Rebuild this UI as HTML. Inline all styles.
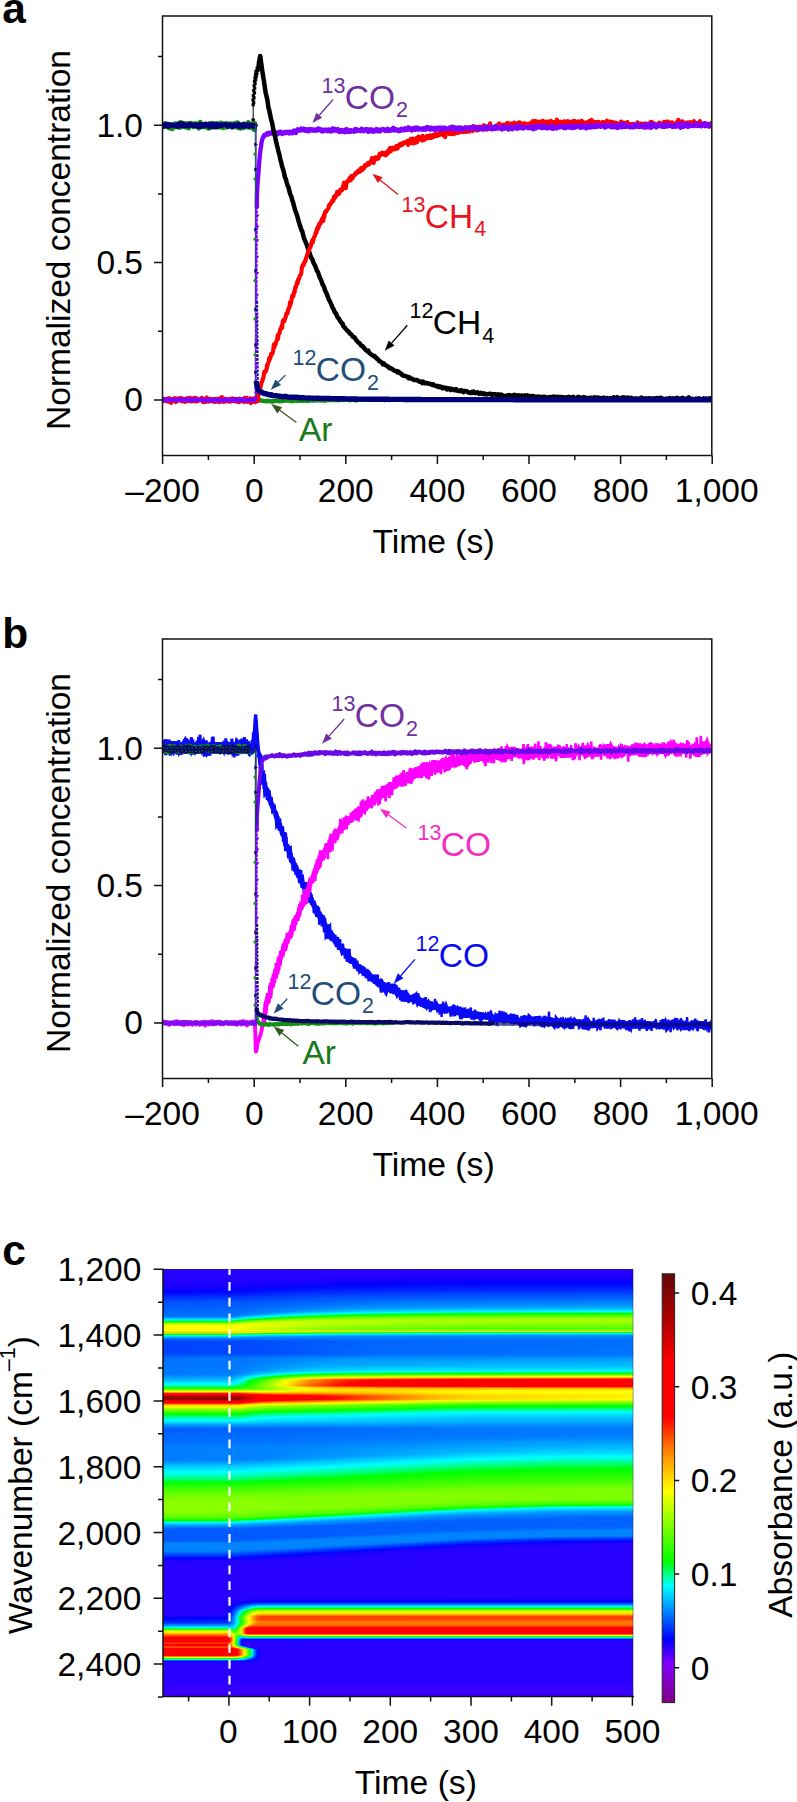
<!DOCTYPE html>
<html><head><meta charset="utf-8"><title>figure</title>
<style>
html,body{margin:0;padding:0;background:#fff;}
svg{display:block;font-family:"Liberation Sans", sans-serif;}
</style></head>
<body>
<svg width="797" height="1802" viewBox="0 0 797 1802">
<rect width="797" height="1802" fill="#fff"/>
<g id="pa">
<clipPath id="cp0"><rect x="162.5" y="16" width="549.3" height="439.5"/></clipPath>
<path d="M162.6 455.5v8.5M208.4 455.5v4.5M254.2 455.5v8.5M300 455.5v4.5M345.8 455.5v8.5M391.6 455.5v4.5M437.4 455.5v8.5M483.2 455.5v4.5M529 455.5v8.5M574.8 455.5v4.5M620.6 455.5v8.5M666.4 455.5v4.5M712.2 455.5v8.5M162.5 400h-8.5M162.5 331.3h-4.5M162.5 262.6h-8.5M162.5 194h-4.5M162.5 125.3h-8.5M162.5 56.6h-4.5" stroke="#111" stroke-width="1.5" fill="none"/>
<text x="162.6" y="502.1" font-size="33.5" text-anchor="middle" fill="#000" >–200</text>
<text x="254.2" y="502.1" font-size="33.5" text-anchor="middle" fill="#000" >0</text>
<text x="345.8" y="502.1" font-size="33.5" text-anchor="middle" fill="#000" >200</text>
<text x="437.4" y="502.1" font-size="33.5" text-anchor="middle" fill="#000" >400</text>
<text x="529" y="502.1" font-size="33.5" text-anchor="middle" fill="#000" >600</text>
<text x="620.6" y="502.1" font-size="33.5" text-anchor="middle" fill="#000" >800</text>
<text x="716.7" y="502.1" font-size="33.5" text-anchor="middle" fill="#000" >1,000</text>
<text x="143" y="411.4" font-size="33.5" text-anchor="end" fill="#000" >0</text>
<text x="143" y="274" font-size="33.5" text-anchor="end" fill="#000" >0.5</text>
<text x="143" y="136.7" font-size="33.5" text-anchor="end" fill="#000" >1.0</text>
<text x="433.5" y="553" font-size="33.7" text-anchor="middle" fill="#000" >Time (s)</text>
<text transform="translate(69.8 240) rotate(-90)" font-size="33.5" text-anchor="middle" fill="#000">Normalized concentration</text>
<g clip-path="url(#cp0)">
<polyline points="162.6,125.3 163,124.9 163.3,125.7 163.7,126.5 164.1,125.9 164.4,126.7 164.8,125.2 165.2,123.5 165.5,126 165.9,126.2 166.3,124.6 166.6,124.8 167,125.2 167.4,126.6 167.7,125.3 168.1,124.3 168.5,127.1 168.8,125.9 169.2,127.9 169.6,127.1 169.9,127.8 170.3,125.6 170.7,127 171,124.9 171.4,125.1 171.8,125.6 172.1,128.8 172.5,126 172.9,125.4 173.2,125.1 173.6,127.4 174,126 174.3,126.6 174.7,126.4 175.1,123.8 175.4,126.4 175.8,125.3 176.2,124.1 176.5,126.1 176.9,125.5 177.3,125.1 177.6,125.2 178,127 178.4,125.2 178.7,123.4 179.1,127.4 179.5,124.1 179.8,125.1 180.2,126.2 180.6,122.6 180.9,124.3 181.3,126.9 181.7,125.2 182,124.5 182.4,125.6 182.8,124.4 183.1,125.4 183.5,124.4 183.9,123.3 184.2,126.2 184.6,125 185,125.9 185.3,125.1 185.7,126.9 186,126.1 186.4,125.6 186.8,124.1 187.1,123.7 187.5,127.1 187.9,126.4 188.2,124.4 188.6,128 189,125.9 189.3,125.4 189.7,123.6 190.1,124.4 190.4,125.7 190.8,125.8 191.2,125.6 191.5,123.2 191.9,125.9 192.3,125.7 192.6,124.8 193,125.5 193.4,125.6 193.7,126.8 194.1,125.3 194.5,125.9 194.8,123.7 195.2,124.4 195.6,125.3 195.9,124.4 196.3,125.8 196.7,123.9 197,125.3 197.4,124.5 197.8,127.1 198.1,124.8 198.5,127.6 198.9,128.1 199.2,125.7 199.6,126.5 200,125.1 200.3,122.2 200.7,126.4 201.1,126.2 201.4,125 201.8,124.6 202.2,125.5 202.5,125.6 202.9,124.3 203.3,124.6 203.6,126.7 204,125.4 204.4,125.3 204.7,126.7 205.1,124.9 205.5,126.5 205.8,124 206.2,125 206.6,125.2 206.9,126.1 207.3,125.5 207.7,128 208,126.9 208.4,124.8 208.8,128.2 209.1,124.1 209.5,127.7 209.9,124.3 210.2,126.5 210.6,124.2 211,125.1 211.3,127.4 211.7,123.6 212.1,123.3 212.4,125.4 212.8,125.7 213.2,125.5 213.5,126.6 213.9,123.8 214.3,126 214.6,125.4 215,126.4 215.4,126.2 215.7,127.1 216.1,123.6 216.5,125.5 216.8,124 217.2,125.3 217.6,126.3 217.9,125.7 218.3,126.1 218.7,125.3 219,125.8 219.4,125.7 219.8,127.2 220.1,126.4 220.5,123 220.9,126.2 221.2,126.7 221.6,124.8 222,123.4 222.3,127.3 222.7,125.6 223.1,126.2 223.4,127.7 223.8,124.3 224.2,125.3 224.5,125.2 224.9,126.3 225.3,124.7 225.6,126 226,125.5 226.4,126.8 226.7,127 227.1,123.5 227.5,126 227.8,124.9 228.2,125.3 228.6,125.9 228.9,126 229.3,124.4 229.7,125.7 230,125.5 230.4,125.3 230.8,123.7 231.1,124.4 231.5,124.8 231.8,126.1 232.2,127.2 232.6,124 232.9,124 233.3,125.5 233.7,124.6 234,124.2 234.4,124.2 234.8,124 235.1,125.9 235.5,123.2 235.9,127 236.2,124.1 236.6,124.6 237,124.1 237.3,122.7 237.7,123.3 238.1,126.9 238.4,127.6 238.8,124.2 239.2,126.7 239.5,125.3 239.9,124.1 240.3,127.6 240.6,128.2 241,124.9 241.4,125.2 241.7,125.6 242.1,125.2 242.5,126.5 242.8,127.4 243.2,125.5 243.6,126.6 243.9,127.6 244.3,124.6 244.7,125.4 245,124.7 245.4,126.7 245.8,126.2 246.1,126.7 246.5,126.5 246.9,125 247.2,126.4 247.6,124.8 248,124.8 248.3,122.5 248.7,127.2 249.1,124.1 249.4,125.4 249.8,125.3 250.2,127.3 250.5,125.9 250.9,124.3 251.3,125.4 251.6,125.2 252,125.7 252.4,123.7 252.7,125.3 253.1,128.3 253.5,126.3 253.8,128 254.2,129.8 254.6,126 254.9,123.5 255.3,125.2" fill="none" stroke="#139013" stroke-width="5.0" stroke-linejoin="round" stroke-linecap="round"/>
<polyline points="162.6,401.3 163,401 163.3,398.8 163.7,399.8 164.1,399.9 164.4,400.1 164.8,400 165.2,399.1 165.5,399.4 165.9,399.8 166.3,401.1 166.6,399.4 167,400.8 167.4,398.8 167.7,401.4 168.1,400.2 168.5,400 168.8,401.5 169.2,398.1 169.6,398.4 169.9,400.5 170.3,399.2 170.7,399.6 171,402.9 171.4,399.7 171.8,400.1 172.1,399.9 172.5,401.2 172.9,400.3 173.2,400.2 173.6,398.7 174,399.6 174.3,400 174.7,398.3 175.1,400.6 175.4,400.4 175.8,402 176.2,398.3 176.5,398.9 176.9,399 177.3,399.3 177.6,399.9 178,399.8 178.4,400.3 178.7,400.2 179.1,399.9 179.5,398.3 179.8,399.4 180.2,400.1 180.6,400.6 180.9,400.7 181.3,398.2 181.7,399.4 182,399.9 182.4,400.4 182.8,401.2 183.1,400.1 183.5,399 183.9,400.4 184.2,400.2 184.6,400.2 185,399.9 185.3,401.8 185.7,400.3 186,400.9 186.4,399 186.8,400.8 187.1,399.4 187.5,398.3 187.9,400.3 188.2,400.7 188.6,399.8 189,400 189.3,401.1 189.7,399.5 190.1,397.8 190.4,400.3 190.8,400.2 191.2,401.1 191.5,399.6 191.9,401.4 192.3,401.2 192.6,398.6 193,401 193.4,398.8 193.7,398.3 194.1,399.7 194.5,399.4 194.8,397.9 195.2,400.2 195.6,400.7 195.9,401.5 196.3,400 196.7,398.4 197,398.9 197.4,401 197.8,400.9 198.1,400.6 198.5,399.7 198.9,400.2 199.2,399.8 199.6,399.7 200,400.3 200.3,400 200.7,399.8 201.1,400.1 201.4,399.4 201.8,397.9 202.2,399.3 202.5,399.9 202.9,401.9 203.3,399.6 203.6,402.1 204,401.5 204.4,399.1 204.7,399.2 205.1,400.2 205.5,401.9 205.8,400.4 206.2,400.7 206.6,399.3 206.9,397.5 207.3,399.8 207.7,400.9 208,401.3 208.4,400.1 208.8,400.2 209.1,401.3 209.5,399.9 209.9,401.3 210.2,398.8 210.6,398.8 211,398.8 211.3,400.5 211.7,399.4 212.1,400.1 212.4,400.4 212.8,400.4 213.2,401.4 213.5,401.6 213.9,399.1 214.3,400.2 214.6,399.8 215,398.9 215.4,401.9 215.7,400.9 216.1,399.8 216.5,399.6 216.8,400.4 217.2,398.9 217.6,399.8 217.9,401.3 218.3,401 218.7,399.1 219,399.5 219.4,402.1 219.8,398.5 220.1,399.3 220.5,398.5 220.9,400.4 221.2,400.3 221.6,401.2 222,397.2 222.3,400.2 222.7,398.3 223.1,400.7 223.4,399.8 223.8,401.8 224.2,400.4 224.5,398.9 224.9,401.4 225.3,398.8 225.6,399.6 226,401.1 226.4,400.6 226.7,400.5 227.1,400.1 227.5,400.6 227.8,400.9 228.2,400.3 228.6,401.1 228.9,401.4 229.3,400.1 229.7,399 230,401.7 230.4,400 230.8,400.7 231.1,401.1 231.5,399.1 231.8,400.6 232.2,398.4 232.6,400.9 232.9,399.6 233.3,400.2 233.7,400.8 234,399.4 234.4,400.2 234.8,399.3 235.1,400.1 235.5,401.2 235.9,400.1 236.2,399.9 236.6,398.9 237,401 237.3,400 237.7,401.9 238.1,399.3 238.4,401.2 238.8,402 239.2,400.1 239.5,398.8 239.9,401.7 240.3,401.2 240.6,400.8 241,401.2 241.4,399.6 241.7,400.9 242.1,400.8 242.5,399.4 242.8,400.8 243.2,399.5 243.6,401.1 243.9,401.3 244.3,402 244.7,398 245,400.4 245.4,399.7 245.8,400 246.1,399.8 246.5,399.9 246.9,397.9 247.2,401.1 247.6,401.7 248,401.1 248.3,401.5 248.7,399.2 249.1,399.1 249.4,401.1 249.8,401.5 250.2,400.4 250.5,398.5 250.9,403.1 251.3,399.4 251.6,401.2 252,398.9 252.4,401.2 252.7,400.3 253.1,401.7 253.5,401.1 253.8,398.5 254.2,399.1 254.6,400.4 254.9,401 255.3,402.1 255.7,400.4 256,400 256.4,400.1 256.8,400.1 257.1,401.2" fill="none" stroke="#ff0000" stroke-width="4.3" stroke-linejoin="round" stroke-linecap="round"/>
<polyline points="256.8,206.6 257,194.1 257.3,188 257.6,183.6 257.9,180.2 258.1,177.1 258.4,173.5 258.7,169.7 259,166.1 259.2,162.6 259.5,159.3 259.8,156.3 260.1,153.6 260.3,151.2 260.6,148.9 260.9,147.4 261.2,145.6 261.4,143.3 261.7,142 262,140.2 262.3,139.4 262.5,139.4 262.8,137.5 263.1,137.8 263.4,136.6 263.6,135.9 263.9,137 264.2,135.1 264.5,134.9 264.7,134.9 265,134.9 265.3,134.7 265.6,135 265.8,134.3 266.1,134.4 266.4,133.8 266.7,134.7 266.9,133.5 267.2,133.4 267.5,133.5 267.8,133.7 267.9,132.9 268.4,134.5 268.9,132.7 269.3,132.9 269.8,132.8 270.2,132.7 270.7,133.5 271.1,133.2 271.6,132.5 272.1,132.7 272.5,132.8 273,134.2 273.4,132.6 273.9,132.1 274.4,132.2 274.8,132.8 275.3,134.2 275.7,132.3 276.2,133.1 276.6,134.9 277.1,132.7 277.6,134.1 278,134 278.5,133.5 278.9,132 279.4,133.3 279.8,132.8 280.3,131.6 280.8,131.8 281.2,133.1 281.7,133.2 282.1,134 282.6,133.5 283.1,132.6 283.5,132.6 284,132.8 284.4,132.1 284.9,133.4 285.3,132.8 285.8,132.2 286.3,132.2 286.7,131.8 287.2,132.2 287.6,132.7 288.1,132.1 288.6,133.1 289,133.5 289.5,131.7 289.9,132.1 290.4,131.8 290.8,133.2 291.3,132.1 291.8,132.2 292.2,132.3 292.7,133.3 293.1,131.7 293.6,130.7 294,131 294.5,131.7 295,131.1 295.4,130.5 295.9,133.1 296.3,131 296.8,130.4 297.3,130.2 297.7,129.3 298.2,129.7 298.6,130.2 299.1,130.2 299.5,129.7 300,130.7 300.5,130.3 300.9,129.5 301.4,128.6 301.8,130.2 302.3,130.1 302.7,129.9 303.2,129 303.7,130 304.1,128.8 304.6,130.7 305,130.1 305.5,130.1 306,129.4 306.4,129.2 306.9,131.1 307.3,130.7 307.8,129.7 308.2,130.5 308.7,131.2 309.2,129.2 309.6,129.6 310.1,129.6 310.5,130.4 311,129.2 311.4,130.2 311.9,129.2 312.4,130.7 312.8,130.7 313.3,129.9 313.7,130.6 314.2,129.5 314.7,129.9 315.1,130.8 315.6,130 316,130.3 316.5,129.4 316.9,130.6 317.4,130.4 317.9,129.2 318.3,128.4 318.8,128.6 319.2,130.1 319.7,130 320.2,129 320.6,130.3 321.1,130.9 321.5,130.1 322,129.8 322.4,130.8 322.9,131.5 323.4,131.3 323.8,129.7 324.3,130.8 324.7,130.3 325.2,130.1 325.6,129.8 326.1,130.5 326.6,129.9 327,131 327.5,130.6 327.9,131.1 328.4,129.4 328.9,130.3 329.3,130.9 329.8,130.6 330.2,130.5 330.7,129.8 331.1,131.6 331.6,131.2 332.1,130.7 332.5,128.4 333,129.7 333.4,130.5 333.9,129.9 334.4,128.8 334.8,130.6 335.3,130.7 335.7,129.5 336.2,130.1 336.6,129.9 337.1,130.8 337.6,129 338,129.2 338.5,130 338.9,130 339.4,132 339.8,130 340.3,130.6 340.8,130.2 341.2,130 341.7,130.8 342.1,131.8 342.6,130.2 343.1,131.1 343.5,130.8 344,131 344.4,130.8 344.9,132.3 345.3,129.6 345.8,130.3 346.3,129.7 346.7,129 347.2,130.5 347.6,131.9 348.1,131.2 348.5,131.4 349,130.9 349.5,130.5 349.9,132.1 350.4,130.2 350.8,131.7 351.3,130.3 351.8,130.6 352.2,130.7 352.7,130.6 353.1,130.9 353.6,131 354,131.8 354.5,130.5 355,129.1 355.4,129 355.9,129.5 356.3,129.9 356.8,131 357.2,129.3 357.7,130.5 358.2,130.5 358.6,130.7 359.1,130.4 359.5,130.8 360,130.5 360.5,131.3 360.9,130.7 361.4,128.7 361.8,130.5 362.3,130.6 362.7,130 363.2,129.8 363.7,131.2 364.1,130.5 364.6,129.7 365,130.1 365.5,130.2 366,129.1 366.4,130.8 366.9,130.3 367.3,130.7 367.8,129.2 368.2,131.8 368.7,130.8 369.2,130.7 369.6,129.8 370.1,129.8 370.5,129.2 371,131.5 371.4,129.7 371.9,130.4 372.4,130.7 372.8,129.8 373.3,130.9 373.7,131.8 374.2,130.5 374.7,131.3 375.1,130.7 375.6,129.9 376,129.9 376.5,128.9 376.9,130.3 377.4,131.3 377.9,130.7 378.3,130.8 378.8,131 379.2,129.7 379.7,130.5 380.1,131.6 380.6,129.5 381.1,130.1 381.5,129.7 382,129.9 382.4,129.5 382.9,129.9 383.4,129 383.8,129.6 384.3,129.6 384.7,129.6 385.2,131 385.6,130 386.1,130.1 386.6,129.7 387,130.9 387.5,128.6 387.9,129.8 388.4,130.8 388.9,131.1 389.3,130 389.8,129.9 390.2,130.3 390.7,129.7 391.1,130.2 391.6,129.3" fill="none" stroke="#8000ff" stroke-width="4.3" stroke-linejoin="round" stroke-linecap="round"/>
<polyline points="260.2,56 261.1,62.3 262,68.9 262.9,74.8 263.8,80.3 264.7,86.1 265.6,92.6 266.6,96.6 267.5,100.5 268.4,107.5 269.3,110.5 270.2,115 271.1,119.4 272.1,122.6 273,128 273.9,131.4 274.8,134.8 275.7,139.8 276.6,143.9 277.6,147.7 278.5,151.8 279.4,154.6 280.3,159.5 281.2,162.2 282.1,166.7 283.1,169.1 284,172.7 284.9,177.2 285.8,179 286.7,182.6 287.6,185.4 288.6,187.4 289.5,191.7 290.4,194.7 291.3,196.4 292.2,200.1 293.1,202.4 294,206 295,209.7 295.9,212.3 296.8,214.6 297.7,217.7 298.6,221.1 299.5,224 300.5,227 301.4,230 302.3,231.5 303.2,235.2 304.1,238.5 305,240.8 306,242.7 306.9,245.3 307.8,248.1 308.7,250.8 309.6,252.8 310.5,256 311.4,258.1 312.4,259.3 313.3,262.2 314.2,264 315.1,265.8 316,268.3 316.9,270.8 317.9,271.8 318.8,274.7 319.7,277.4 320.6,279 321.5,281.2 322.4,284 323.4,285.7 324.3,287.9 325.2,291 326.1,292.3 327,294.6 327.9,296.9 328.9,299.7 329.8,301.2 330.7,303.1 331.6,305.1 332.5,307.7 333.4,308.8 334.4,311.6 335.3,312.8 336.2,313.8 337.1,316.4 338,317.8 338.9,318.5 339.8,320.6 340.8,321.9 341.7,323 342.6,323.8 343.5,326.6 344.4,327.1 345.3,328.4 346.3,329.5 347.2,330.5 348.1,331.5 349,332 349.9,333.6 350.8,334.1 351.8,335 352.7,336.6 353.6,337.1 354.5,337.3 355.4,339 356.3,340.4 357.2,341.1 358.2,342.5 359.1,342.9 360,343.5 360.9,345.3 361.8,345.9 362.7,346.1 363.7,347.8 364.6,348.3 365.5,349.8 366.4,350.5 367.3,351.2 368.2,350.7 369.2,352.8 370.1,353.6 371,354.4 371.9,355 372.8,355.3 373.7,356.3 374.7,356.1 375.6,357.7 376.5,357.8 377.4,359.1 378.3,359.6 379.2,361.3 380.1,361.3 381.1,362 382,362.7 382.9,364.3 383.8,363.4 384.7,364.6 385.6,365.2 386.6,365.7 387.5,366.3 388.4,366.6 389.3,368 390.2,368.4 391.1,368.3 392.1,368.9 393,369.7 393.9,370.3 394.8,370.9 395.7,371.1 396.6,370.9 397.6,372.5 398.5,371.7 399.4,372.5 400.3,373.6 401.2,373.5 402.1,375 403,375.6 404,375.8 404.9,375.8 405.8,376.1 406.7,376.6 407.6,376.7 408.5,378.2 409.5,377.3 410.4,378.6 411.3,378.6 412.2,378.8 413.1,379.5 414,380 415,380.1 415.9,379.9 416.8,380 417.7,380.3 418.6,381.4 419.5,381.6 420.5,381.9 421.4,381.6 422.3,383.1 423.2,381.7 424.1,382.9 425,383.3 425.9,383 426.9,382.9 427.8,383.5 428.7,383.4 429.6,384.1 430.5,383.8 431.4,384.1 432.4,385 433.3,384.4 434.2,385.3 435.1,385.6 436,386.3 436.9,386.2 437.9,385.9 438.8,387.1 439.7,386.4 440.6,386.8 441.5,387 442.4,388.4 443.4,387.6 444.3,387.4 445.2,388.3 446.1,388.1 447,389.5 447.9,388.2 448.9,389 449.8,388.5 450.7,390 451.6,388.9 452.5,389.6 453.4,389.2 454.3,390.2 455.3,390.3 456.2,389 457.1,390.7 458,390.8 458.9,390.7 459.8,391.2 460.8,390.3 461.7,390.2 462.6,391.5 463.5,392.2 464.4,390.9 465.3,391 466.3,391.3 467.2,391.3 468.1,392.4 469,392.2 469.9,392.9 470.8,393 471.8,391.9 472.7,392.9 473.6,391.5 474.5,392.7 475.4,393.2 476.3,392.6 477.2,392.2 478.2,392.9 479.1,393.8 480,393.1 480.9,392.7 481.8,393.8 482.7,394 483.7,393.2 484.6,393.7 485.5,394.4 486.4,394.1 487.3,394.4 488.2,393.9 489.2,394.1 490.1,393.7 491,394 491.9,395.2 492.8,394.3 493.7,394.1 494.6,394.4 495.6,394.2 496.5,395 497.4,395.3 498.3,394.4 499.2,395.5 500.1,396.1 501.1,394.5 502,395.5 502.9,395.3 503.8,395.9 504.7,395.9 505.6,395.9 506.6,395.6 507.5,395.3 508.4,396.6 509.3,395.2 510.2,396.2 511.1,396.2 512.1,395.4 513,395.8 513.9,396.6 514.8,394.9 515.7,396.3 516.6,395.8 517.5,395.9 518.5,395.3 519.4,396.3 520.3,395.6 521.2,396.5 522.1,395.6 523,396.6 524,396.4 524.9,395.4 525.8,396.2 526.7,396.3 527.6,395.3 528.5,396.3 529.5,396.9 530.4,396.2 531.3,397.2 532.2,396 533.1,396 534,397 535,397 535.9,396.7 536.8,396.8 537.7,397.3 538.6,396.6 539.5,397.9 540.5,397.1 541.4,397.1 542.3,397.1 543.2,396.8 544.1,397.6 545,396.8 545.9,397.2 546.9,397.4 547.8,397.8 548.7,397.8 549.6,397 550.5,397.7 551.4,397.2 552.4,396.8 553.3,396.8 554.2,396.6 555.1,397.5 556,397.9 556.9,396.9 557.9,397.3 558.8,396.9 559.7,397.5 560.6,396.9 561.5,397.1 562.4,397.2 563.4,397.3 564.3,397.4 565.2,397.5 566.1,397.5 567,397.2 567.9,397.9 568.8,396.8 569.8,397.8 570.7,397.2 571.6,397.8 572.5,397.9 573.4,396.8 574.3,397.9 575.3,398.4 576.2,398.2 577.1,398 578,396.8 578.9,397.8 579.8,397.4 580.8,398.4 581.7,397.7 582.6,397.6 583.5,397 584.4,398.3 585.3,397.7 586.2,397.8 587.2,398.5 588.1,398 589,398.1 589.9,399.2 590.8,397.7 591.7,397.8 592.7,398.3 593.6,398.7 594.5,397.3 595.4,398 596.3,397.6 597.2,397.4 598.2,398.4 599.1,397.7 600,398.3 600.9,398.2 601.8,398.2 602.7,398.2 603.7,397.6 604.6,398.1 605.5,398.3 606.4,398.3 607.3,398 608.2,398.7 609.1,398.5 610.1,398.3 611,398.5 611.9,398.3 612.8,398.6 613.7,397.3 614.6,397.6 615.6,398.1 616.5,398.3 617.4,397.2 618.3,398.2 619.2,398.4 620.1,398.2 621.1,398.2 622,397.6 622.9,398.4 623.8,397.3 624.7,398.8 625.6,398 626.6,398.9 627.5,397.5 628.4,398.6 629.3,398.4 630.2,398 631.1,397.8 632,399 633,398.6 633.9,399.1 634.8,398.4 635.7,398.5 636.6,398.6 637.5,398.8 638.5,398.7 639.4,398.8 640.3,398.2 641.2,397.7 642.1,399.4 643,398.6 644,398.7 644.9,398.3 645.8,399 646.7,398.6 647.6,399 648.5,398.2 649.5,398.5 650.4,398.6 651.3,398.4 652.2,398.7 653.1,399.3 654,398.3 655,398.4 655.9,398.7 656.8,398.1 657.7,398 658.6,399.1 659.5,399 660.4,397.8 661.4,397.9 662.3,399 663.2,399.2 664.1,398.9 665,398.9 665.9,399.4 666.9,398.6 667.8,399.3 668.7,399.3 669.6,398.2 670.5,399 671.4,398.7 672.4,398.4 673.3,398.3 674.2,398.9 675.1,398.7 676,399.1 676.9,397.8 677.9,398.4 678.8,399.3 679.7,398.7 680.6,398.4 681.5,398.5 682.4,397.8 683.3,398.1 684.3,399 685.2,398.8 686.1,399.4 687,398.6 687.9,398.7 688.8,397.4 689.8,398.7 690.7,399.8 691.6,399.1 692.5,398.7 693.4,399.4 694.3,399.2 695.3,399 696.2,398.6 697.1,398.9 698,399.3 698.9,398.4 699.8,399.1 700.8,399.1 701.7,399.5 702.6,399.2 703.5,398.5 704.4,399.7 705.3,398.9 706.2,398.5 707.2,399.1 708.1,398.8 709,399.4 709.9,398.2 710.8,398.3 711.7,398.8" fill="none" stroke="#000" stroke-width="4.5" stroke-linejoin="round" stroke-linecap="round"/>
<path d="M253.2 119.8L253.2 104.7" stroke="#000" stroke-width="1"/>
<circle cx="253.2" cy="119.8" r="1.9" fill="#000"/>
<rect x="251.6" y="103.1" width="3.2" height="3.2" fill="#000"/>
<rect x="252.1" y="100.9" width="3.2" height="3.2" fill="#000"/>
<rect x="251.4" y="98.4" width="3.2" height="3.2" fill="#000"/>
<rect x="252.4" y="96.2" width="3.2" height="3.2" fill="#000"/>
<rect x="251.7" y="94" width="3.2" height="3.2" fill="#000"/>
<rect x="252.9" y="91.3" width="3.2" height="3.2" fill="#000"/>
<rect x="252.1" y="89.1" width="3.2" height="3.2" fill="#000"/>
<rect x="253.1" y="86.6" width="3.2" height="3.2" fill="#000"/>
<rect x="252.5" y="84.1" width="3.2" height="3.2" fill="#000"/>
<rect x="253.5" y="81.9" width="3.2" height="3.2" fill="#000"/>
<rect x="252.9" y="79.7" width="3.2" height="3.2" fill="#000"/>
<rect x="254.1" y="78.1" width="3.2" height="3.2" fill="#000"/>
<rect x="253.4" y="76.2" width="3.2" height="3.2" fill="#000"/>
<rect x="254.7" y="74.8" width="3.2" height="3.2" fill="#000"/>
<rect x="253.9" y="72.9" width="3.2" height="3.2" fill="#000"/>
<rect x="255.3" y="71.8" width="3.2" height="3.2" fill="#000"/>
<rect x="254.4" y="69.9" width="3.2" height="3.2" fill="#000"/>
<rect x="256.1" y="68.8" width="3.2" height="3.2" fill="#000"/>
<rect x="257" y="67.4" width="3.2" height="3.2" fill="#000"/>
<rect x="255.5" y="66.8" width="3.2" height="3.2" fill="#000"/>
<polyline points="258.1,69 258.6,65.4 259,62.1 259.5,59.4 259.8,57.4 260.2,56.6" fill="none" stroke="#000" stroke-width="4.4" stroke-linejoin="round" stroke-linecap="round"/>
<polyline points="256.7,392.2 257.6,398.2 258.6,399 259.5,399.6 260.4,400.4 261.3,400.3 262.2,400.9 263.1,400.9 264,401 265,400.9 265.9,401.5 266.8,400.8 267.7,400.7 268.6,401.4 269.5,401.5 270.5,401 271.4,401.3 272.3,401.7 273.2,400.9 274.1,401 275,401.2 276,400.5 276.9,401 277.8,401.2 278.7,401 279.6,401.3 280.5,401.2 281.5,400.9 282.4,401.1 283.3,401.1 284.2,400.5 285.1,400.7 286,400.7 286.9,400.7 287.9,400.7 288.8,400.5 289.7,400.8 290.6,400.3 291.5,401.1 292.4,400.9 293.4,401.2 294.3,400.9 295.2,400.6 296.1,400.3 297,400.9 297.9,400.7 298.9,400.8 299.8,400.9 300.7,401 301.6,400.6 302.5,401.1 303.4,400.6 304.4,400.6 305.3,400.8 306.2,400.8 307.1,400.9 308,400 308.9,400.9 309.8,400.1 310.8,400.3 311.7,400.6 312.6,400.8 313.5,400.1 314.4,399.9 315.3,400.6 316.3,400.5 317.2,400.1 318.1,400.3 319,399.8 319.9,400.5 320.8,400.2 321.8,400.6 322.7,399.7 323.6,400.5 324.5,400.9 325.4,400.3 326.3,400.3 327.3,399.7 328.2,400.3 329.1,400.2 330,400 330.9,399.7 331.8,400.2 332.7,399.9 333.7,400 334.6,400.2 335.5,400.1 336.4,400.1 337.3,400.3 338.2,399.7 339.2,400.4 340.1,399.7 341,399.8 341.9,400 342.8,400.2 343.7,400 344.7,399.8 345.6,399.8 346.5,399.9 347.4,399.7 348.3,400.1 349.2,399.8 350.2,400.3 351.1,399.7 352,399.8 352.9,400 353.8,399.5 354.7,399.7 355.6,400.6 356.6,399.8 357.5,400.2 358.4,399.5 359.3,399.1 360.2,399.9 361.1,399.8 362.1,399.9 363,399.7 363.9,399.6 364.8,399.4 365.7,400 366.6,399.3 367.6,400 368.5,399.7 369.4,399.4 370.3,399.5 371.2,400 372.1,399.9 373.1,399.9 374,399.7 374.9,399.4 375.8,400.1 376.7,399.6 377.6,399.5 378.5,399.6 379.5,399.6 380.4,399.3 381.3,399.6 382.2,399.5 383.1,399.6 384,399.2 385,400.2 385.9,399.3 386.8,399.8 387.7,399.8 388.6,400 389.5,400.2 390.5,399.8 391.4,399.9" fill="none" stroke="#139013" stroke-width="4.2" stroke-linejoin="round" stroke-linecap="round"/>
<polyline points="257.4,399.4 257.9,401 258.3,395.2 258.8,393.9 259.2,391.6 259.7,389.9 260.2,388.2 260.6,386.9 261.1,384.6 261.5,382.4 262,381.1 262.4,381.2 262.9,378.4 263.4,377.8 263.8,375 264.3,371.6 264.7,371.7 265.2,371.5 265.6,371.8 266.1,370.3 266.6,369.3 267,365 267.5,365.6 267.9,363.3 268.4,362.9 268.9,360.8 269.3,357.9 269.8,359.3 270.2,357.6 270.7,357 271.1,353.7 271.6,354.8 272.1,353.7 272.5,352.9 273,351.7 273.4,348.2 273.9,344.4 274.4,347.6 274.8,344 275.3,343.6 275.7,344.1 276.2,341.8 276.6,340.5 277.1,339.9 277.6,335.4 278,338.9 278.5,334.8 278.9,333.7 279.4,333.6 279.8,331.5 280.3,329.3 280.8,329 281.2,327.5 281.7,325.9 282.1,328.1 282.6,322.5 283.1,320.3 283.5,320.7 284,319.5 284.4,321.3 284.9,318.5 285.3,318.1 285.8,316.6 286.3,313.5 286.7,314.4 287.2,312.4 287.6,313.3 288.1,309.9 288.6,308.4 289,308.1 289.5,306.9 289.9,302.4 290.4,305 290.8,303.5 291.3,301.9 291.8,298.2 292.2,295.7 292.7,296.6 293.1,296.6 293.6,294.9 294,291.7 294.5,292.8 295,288.5 295.4,287.2 295.9,287.5 296.3,285.4 296.8,283.9 297.3,281.5 297.7,283.3 298.2,279.2 298.6,279.7 299.1,278.8 299.5,276.4 300,275.4 300.5,275 300.9,274.4 301.4,272.2 301.8,267.9 302.3,265.9 302.7,266.2 303.2,264.2 303.7,265 304.1,263.2 304.6,261.5 305,261.9 305.5,260.5 306,257.9 306.4,257.2 306.9,256.9 307.3,253.9 307.8,253.6 308.2,250.8 308.7,250.9 309.2,250.1 309.6,248.4 310.1,247.5 310.5,247 311,245.5 311.4,242.9 311.9,241.9 312.4,239.9 312.8,242.5 313.3,239.7 313.7,238.6 314.2,236.8 314.7,236.4 315.1,235.4 315.6,232.7 316,232.3 316.5,232.9 316.9,228.7 317.4,228 317.9,228.9 318.3,226.1 318.8,227 319.2,223.7 319.7,224.3 320.2,224.1 320.6,222.5 321.1,222 321.5,219.9 322,219 322.4,218.2 322.9,218 323.4,220.9 323.8,215.4 324.3,217 324.7,213.5 325.2,211.5 325.6,211.8 326.1,211.8 326.6,210.7 327,209.9 327.5,209.6 327.9,208.9 328.4,208.5 328.9,205.2 329.3,205.9 329.8,204 330.2,204.8 330.7,203.6 331.1,203.2 331.6,201.8 332.1,200.6 332.5,200.7 333,201.1 333.4,200.6 333.9,196.9 334.4,198.7 334.8,198.1 335.3,195.3 335.7,195.1 336.2,195.2 336.6,195.7 337.1,191.7 337.6,193.5 338,192.7 338.5,193 338.9,193.9 339.4,193.2 339.8,190.5 340.3,189.9 340.8,190.2 341.2,190.7 341.7,190.5 342.1,188.6 342.6,189.4 343.1,186 343.5,185.1 344,182.5 344.4,184.4 344.9,185.7 345.3,185.5 345.8,188.2 346.3,184.1 346.7,183.1 347.2,181.2 347.6,181.1 348.1,180.7 348.5,180.6 349,179.6 349.5,178.2 349.9,180.8 350.4,179.6 350.8,180.3 351.3,176.1 351.8,176 352.2,176.2 352.7,178.2 353.1,176 353.6,176.1 354,175.3 354.5,175.2 355,173.9 355.4,174.6 355.9,172.6 356.3,172.9 356.8,173.2 357.2,172.5 357.7,172.5 358.2,170.6 358.6,171.5 359.1,170.4 359.5,170.9 360,171.8 360.5,168.5 360.9,170.5 361.4,168 361.8,167.9 362.3,170.1 362.7,168.9 363.2,168 363.7,168 364.1,168.1 364.6,165.4 365,166.2 365.5,165.1 366,165.8 366.4,164.5 366.9,165.5 367.3,164.3 367.8,163.2 368.2,163.5 368.7,163.8 369.2,164.3 369.6,162.4 370.1,161.9 370.5,162.3 371,162.6 371.4,160.7 371.9,158 372.4,161.1 372.8,160 373.3,159.6 373.7,163 374.2,159.4 374.7,160.1 375.1,157.2 375.6,158.9 376,159.3 376.5,158.3 376.9,157.6 377.4,158.2 377.9,157.3 378.3,158.6 378.8,156.9 379.2,155.4 379.7,153.7 380.1,154.9 380.6,155.2 381.1,153.8 381.5,153.7 382,152.7 382.4,153.1 382.9,154.4 383.4,153.6 383.8,153.5 384.3,153.1 384.7,152.9 385.2,153.9 385.6,155.3 386.1,153.2 386.6,154.7 387,151.8 387.5,151.6 387.9,153.5 388.4,150.3 388.9,149.8 389.3,150.5 389.8,148.3 390.2,147.8 390.7,151.4 391.1,148.3 391.6,148.8 392.1,148.6 392.5,147.7 393,149.5 393.4,149.1 393.9,149.1 394.3,148.8 394.8,147.7 395.3,149.2 395.7,148.4 396.2,146.2 396.6,146.8 397.1,146 397.6,148.6 398,147 398.5,146.5 398.9,145.6 399.4,146.2 399.8,144.1 400.3,145.2 400.8,144.9 401.2,144.7 401.7,143.7 402.1,145 402.6,142.8 403,143.5 403.5,143.7 404,143.7 404.4,142.9 404.9,142.2 405.3,142.1 405.8,142.6 406.3,141.9 406.7,142.7 407.2,141.1 407.6,142.5 408.1,144.9 408.5,140.6 409,141.9 409.5,143.4 409.9,142 410.4,142.7 410.8,138.9 411.3,140.8 411.8,143.2 412.2,140.4 412.7,141.5 413.1,138.5 413.6,142 414,143.4 414.5,140.4 415,140.8 415.4,140.7 415.9,142.7 416.3,139.4 416.8,137.8 417.2,142.1 417.7,138.2 418.2,140.2 418.6,136.5 419.1,138.7 419.5,139.4 420,137.6 420.5,138.2 420.9,139.5 421.4,137.8 421.8,139.2 422.3,140.6 422.7,135.8 423.2,138.6 423.7,138.9 424.1,137.6 424.6,139.8 425,139.4 425.5,138.3 425.9,138.2 426.4,137.4 426.9,135.9 427.3,137.8 427.8,136.5 428.2,136.3 428.7,138.3 429.2,136.5 429.6,137.9 430.1,135.3 430.5,135.9 431,136.4 431.4,138 431.9,136.1 432.4,137 432.8,135.1 433.3,136 433.7,136.8 434.2,134.6 434.7,134.7 435.1,136.2 435.6,134 436,135.7 436.5,135.6 436.9,135 437.4,136 437.9,135.5 438.3,135.1 438.8,132.9 439.2,132.8 439.7,134.9 440.1,132.5 440.6,134.5 441.1,133.8 441.5,133.1 442,133.8 442.4,131.1 442.9,133.7 443.4,135.4 443.8,132.2 444.3,134.2 444.7,134 445.2,137.2 445.6,132.2 446.1,132.4 446.6,132.3 447,132 447.5,131 447.9,133.1 448.4,131.8 448.9,133.8 449.3,133.3 449.8,131.4 450.2,132.2 450.7,134.2 451.1,132.1 451.6,132.7 452.1,133.4 452.5,131.7 453,132.7 453.4,134.1 453.9,133.4 454.3,129.8 454.8,133.8 455.3,131.5 455.7,131 456.2,130.9 456.6,133.1 457.1,131.9 457.6,131.3 458,130.4 458.5,132.1 458.9,132.7 459.4,129.9 459.8,129.7 460.3,130.6 460.8,131.7 461.2,130.4 461.7,130.7 462.1,129.7 462.6,132.2 463,130.5 463.5,130.8 464,131.9 464.4,130.2 464.9,130.3 465.3,130.8 465.8,129.7 466.3,131.9 466.7,130.2 467.2,129.5 467.6,129.6 468.1,128.6 468.5,131.3 469,131.6 469.5,129.4 469.9,129.1 470.4,127 470.8,128.8 471.3,130.6 471.8,128.4 472.2,130.4 472.7,131.1 473.1,126 473.6,128.8 474,128.2 474.5,128.4 475,126.7 475.4,128.6 475.9,127.4 476.3,130.1 476.8,130.5 477.2,126.9 477.7,126.8 478.2,128 478.6,128.2 479.1,128.3 479.5,129.3 480,126.5 480.5,127.5 480.9,127.6 481.4,127.7 481.8,126.8 482.3,127.5 482.7,127.1 483.2,129.4 483.7,127.3 484.1,125.2 484.6,128.5 485,127.9 485.5,126.6 485.9,126.5 486.4,126.8 486.9,129.6 487.3,126.9 487.8,128.9 488.2,128.4 488.7,126.7 489.2,127.7 489.6,126.2 490.1,123.3 490.5,126.2 491,126.2 491.4,128.2 491.9,127.8 492.4,128.3 492.8,127.6 493.3,128.2 493.7,127.6 494.2,127 494.6,127.9 495.1,128.4 495.6,128.3 496,126 496.5,126.4 496.9,125.2 497.4,125.1 497.9,126.8 498.3,125.5 498.8,128 499.2,123.4 499.7,124.7 500.1,126.4 500.6,127.5 501.1,125.6 501.5,128.3 502,126.9 502.4,124.9 502.9,125.7 503.4,126.4 503.8,124.5 504.3,126.9 504.7,125.3 505.2,126.2 505.6,126.6 506.1,124.9 506.6,126.6 507,123 507.5,126 507.9,122.8 508.4,126.6 508.8,124.4 509.3,126.6 509.8,126.7 510.2,124.8 510.7,124.1 511.1,126.5 511.6,123.4 512.1,125.8 512.5,124.6 513,124.3 513.4,124 513.9,126.9 514.3,122.6 514.8,123.9 515.3,125.1 515.7,125.8 516.2,126.6 516.6,126.1 517.1,123.7 517.5,124.8 518,125.7 518.5,124.9 518.9,122.3 519.4,124.6 519.8,124.9 520.3,122.5 520.8,123.6 521.2,124.1 521.7,124.8 522.1,126 522.6,125.5 523,124.6 523.5,124.2 524,123.5 524.4,123.2 524.9,123.6 525.3,123.6 525.8,125.1 526.3,126.5 526.7,124.4 527.2,124.9 527.6,124.5 528.1,124 528.5,125.2 529,125 529.5,123.7 529.9,123.4 530.4,124.4 530.8,122.9 531.3,123.8 531.7,124.7 532.2,123.4 532.7,121.1 533.1,124.2 533.6,121.9 534,121.7 534.5,121.5 535,124.3 535.4,120.8 535.9,123.1 536.3,123.6 536.8,123.5 537.2,122.5 537.7,123.1 538.2,123.4 538.6,121.6 539.1,124 539.5,124.4 540,122.1 540.5,122.2 540.9,121.7 541.4,124.4 541.8,121.7 542.3,122.4 542.7,120.8 543.2,124.5 543.7,122.7 544.1,123.3 544.6,124.9 545,123.8 545.5,121.5 545.9,123.5 546.4,123.8 546.9,121.8 547.3,121.6 547.8,121.6 548.2,123.8 548.7,122.9 549.2,121.6 549.6,123.6 550.1,123.8 550.5,121.8 551,120.9 551.4,124.3 551.9,126 552.4,124.6 552.8,124.1 553.3,123 553.7,122.1 554.2,123 554.6,123.7 555.1,122.6 555.6,124 556,122.9 556.5,123.6 556.9,119.5 557.4,121.8 557.9,123.9 558.3,124.1 558.8,123.4 559.2,124.9 559.7,123.7 560.1,123.8 560.6,121.7 561.1,123.4 561.5,123.8 562,124.5 562.4,124.3 562.9,122.9 563.4,123.1 563.8,121.4 564.3,123.6 564.7,121.5 565.2,122.5 565.6,122.9 566.1,125.3 566.6,124.5 567,121.9 567.5,121.1 567.9,122.6 568.4,121.9 568.8,123.4 569.3,123.3 569.8,123.7 570.2,121.7 570.7,122.5 571.1,123.2 571.6,123.3 572.1,122.2 572.5,122.5 573,123.9 573.4,120.8 573.9,122.6 574.3,122.9 574.8,121.1 575.3,121.6 575.7,123 576.2,122.3 576.6,124.2 577.1,123.7 577.5,125.7 578,121.4 578.5,125.3 578.9,122.1 579.4,124 579.8,124.2 580.3,123.2 580.8,122.6 581.2,122.2 581.7,120.8 582.1,122.5 582.6,121.9 583,123.7 583.5,122.1 584,122.8 584.4,123.6 584.9,123.1 585.3,123.1 585.8,122.8 586.2,122.5 586.7,123.6 587.2,123.9 587.6,122.1 588.1,125.1 588.5,123.8 589,121.1 589.5,126.4 589.9,123.9 590.4,122.2 590.8,125.1 591.3,119.8 591.7,126.2 592.2,121.3 592.7,121.1 593.1,121.9 593.6,123.3 594,122.6 594.5,124.2 595,122.1 595.4,124.5 595.9,123.4 596.3,121.9 596.8,124.5 597.2,123.5 597.7,122.9 598.2,124.8 598.6,121.7 599.1,122.7 599.5,125 600,123.2 600.4,124.1 600.9,124 601.4,123.1 601.8,124.1 602.3,122 602.7,124.1 603.2,122 603.7,123.3 604.1,122.2 604.6,123.9 605,123.9 605.5,124.7 605.9,122.6 606.4,122.2 606.9,120.7 607.3,121.8 607.8,123.1 608.2,123.6 608.7,122.9 609.1,123.5 609.6,121.6 610.1,122.3 610.5,124.5 611,124.4 611.4,121.8 611.9,123.2 612.4,123.9 612.8,122.1 613.3,124.1 613.7,124 614.2,124.2 614.6,126.1 615.1,122.6 615.6,125.2 616,124.5 616.5,124.7 616.9,122.9 617.4,123.9 617.9,123.8 618.3,125.9 618.8,124 619.2,125.7 619.7,123.6 620.1,123.5 620.6,124 621.1,121.5 621.5,123.4 622,123.3 622.4,123.9 622.9,124.3 623.3,122.9 623.8,122.8 624.3,125.8 624.7,122.9 625.2,123.6 625.6,123.1 626.1,123.7 626.6,125.8 627,125.8 627.5,122.1 627.9,124 628.4,126.1 628.8,124 629.3,124.9 629.8,126.7 630.2,127.3 630.7,126.4 631.1,124.1 631.6,124.6 632,124.8 632.5,124.2 633,123.8 633.4,127.2 633.9,125 634.3,125.6 634.8,126.1 635.3,125.3 635.7,124.8 636.2,125 636.6,126.5 637.1,125.3 637.5,122.2 638,126 638.5,126.8 638.9,124.4 639.4,124 639.8,124.1 640.3,126.1 640.8,123.5 641.2,125.7 641.7,126.1 642.1,125.5 642.6,124.9 643,123.9 643.5,124 644,124.8 644.4,123.6 644.9,124.6 645.3,123.6 645.8,126.5 646.2,126.7 646.7,123.8 647.2,126.4 647.6,125.1 648.1,124.8 648.5,125.3 649,125.3 649.5,123 649.9,127.8 650.4,123.6 650.8,121.8 651.3,124.6 651.7,124.7 652.2,123.7 652.7,122.4 653.1,126.1 653.6,124.5 654,124.8 654.5,123.9 655,124.4 655.4,123.8 655.9,125.1 656.3,124.5 656.8,125.4 657.2,125.3 657.7,124.7 658.2,124.7 658.6,125.9 659.1,122.5 659.5,124.6 660,126.1 660.4,123 660.9,125.3 661.4,123.8 661.8,124.4 662.3,124 662.7,124.1 663.2,125 663.7,124.2 664.1,121.8 664.6,127 665,124.2 665.5,123.7 665.9,125.5 666.4,125.9 666.9,121.5 667.3,124.6 667.8,121.6 668.2,123.5 668.7,124 669.1,123.5 669.6,123.3 670.1,122.6 670.5,123.5 671,123.9 671.4,123.8 671.9,122.3 672.4,123 672.8,125.2 673.3,124.7 673.7,123.5 674.2,124.7 674.6,124.4 675.1,125.1 675.6,124.2 676,123.4 676.5,122.6 676.9,123.8 677.4,121.3 677.9,123.9 678.3,119.9 678.8,122.6 679.2,123.2 679.7,124.4 680.1,127.3 680.6,123.9 681.1,123.5 681.5,121.4 682,125.4 682.4,121.4 682.9,124 683.3,122.8 683.8,126.8 684.3,123.5 684.7,124.1 685.2,122.8 685.6,123.6 686.1,125.1 686.6,122.5 687,122.8 687.5,122.9 687.9,122.4 688.4,122.3 688.8,123.7 689.3,125.3 689.8,125.4 690.2,122 690.7,122.8 691.1,123.5 691.6,124.2 692,123.7 692.5,123.7 693,124.1 693.4,124.6 693.9,121.1 694.3,123.5 694.8,124.6 695.3,125.5 695.7,124.8 696.2,123 696.6,123 697.1,124.2 697.5,123.9 698,124.4 698.5,125.4 698.9,122.5 699.4,123.7 699.8,121.1 700.3,125.2 700.8,124.4 701.2,123.2 701.7,124.7 702.1,126.1 702.6,125.6 703,124.4 703.5,124.1 704,124.7 704.4,123.4 704.9,123.4 705.3,124.3 705.8,124.7 706.2,125.1 706.7,124.2 707.2,123.7 707.6,124.8 708.1,124.4 708.5,125.4 709,126.8 709.5,126.3 709.9,124.2 710.4,124.6 710.8,123.2 711.3,125.2 711.7,124.2 712.2,123.7" fill="none" stroke="#ff0000" stroke-width="4.1" stroke-linejoin="round" stroke-linecap="round"/>
<polyline points="162.6,399.6 163.3,400.3 164,400.1 164.7,399.9 165.3,400.4 166,399.8 166.7,399.6 167.4,400.2 168.1,399.2 168.8,400.1 169.5,400.1 170.2,400.1 170.8,400.3 171.5,399.8 172.2,400 172.9,399.3 173.6,399.7 174.3,399.8 175,400.1 175.7,400.6 176.3,400 177,400.4 177.7,399.6 178.4,400 179.1,399.3 179.8,399.7 180.5,399.7 181.1,399.9 181.8,399.9 182.5,399.7 183.2,399.6 183.9,400.3 184.6,399.8 185.3,398.9 186,400 186.6,400.1 187.3,400.3 188,400.6 188.7,399.5 189.4,400 190.1,399.9 190.8,399.2 191.5,399 192.1,400.4 192.8,399.6 193.5,399.7 194.2,399.8 194.9,399.8 195.6,400 196.3,399.3 196.9,399.7 197.6,399.9 198.3,399.5 199,399.6 199.7,399.8 200.4,399.9 201.1,399.3 201.8,399.8 202.4,400 203.1,400.4 203.8,400.1 204.5,400.4 205.2,400 205.9,399.9 206.6,400.8 207.3,400 207.9,399.7 208.6,399.9 209.3,400.4 210,399.5 210.7,400.3 211.4,400.5 212.1,400.4 212.8,400 213.4,399.6 214.1,399.5 214.8,399.9 215.5,400.5 216.2,400.3 216.9,400.4 217.6,400.1 218.2,400.7 218.9,400 219.6,399.7 220.3,400.1 221,399.8 221.7,400.4 222.4,400.6 223.1,400.3 223.7,399.5 224.4,399.6 225.1,400.2 225.8,399.5 226.5,400.1 227.2,399.4 227.9,399.8 228.6,400.2 229.2,399.7 229.9,400.3 230.6,400.4 231.3,400.6 232,399.9 232.7,400 233.4,400 234,400.2 234.7,399.4 235.4,400.2 236.1,400.3 236.8,399.5 237.5,399.4 238.2,399.9 238.9,400.7 239.5,400.2 240.2,399.7 240.9,400 241.6,399.4 242.3,400.6 243,399.7 243.7,400.3 244.4,399.5 245,400 245.7,399.6 246.4,400.3 247.1,400.6 247.8,400.5 248.5,400.2 249.2,400.4 249.8,399.5 250.5,399.4 251.2,399.9 251.9,400.4 252.6,400 253.3,400.3 254,399.4 254.7,399.9 255.3,399.8" fill="none" stroke="#8000ff" stroke-width="4.3" stroke-linejoin="round" stroke-linecap="round"/>
<polyline points="390.7,129.7 391.1,130.2 391.6,129.3 392.1,130.3 392.5,129.7 393,128.9 393.4,127.7 393.9,130.4 394.3,130 394.8,130.3 395.3,129 395.7,130.5 396.2,130 396.6,129.6 397.1,130.3 397.6,130.3 398,129.9 398.5,131.2 398.9,130.6 399.4,129.8 399.8,129.4 400.3,129.6 400.8,130.8 401.2,129.8 401.7,128.8 402.1,129 402.6,129.5 403,130.1 403.5,128.9 404,129.8 404.4,130.3 404.9,130 405.3,128.2 405.8,129.2 406.3,128.4 406.7,129.7 407.2,128.6 407.6,129.7 408.1,129.4 408.5,127.3 409,128.7 409.5,129.6 409.9,129.3 410.4,129 410.8,128.3 411.3,129.6 411.8,130.5 412.2,129.4 412.7,129.1 413.1,129 413.6,128.1 414,128.9 414.5,128.5 415,129.9 415.4,128.4 415.9,127.4 416.3,128.5 416.8,128.8 417.2,128.9 417.7,127.6 418.2,129.7 418.6,129.1 419.1,128.6 419.5,128.4 420,129.3 420.5,128.7 420.9,129.1 421.4,128.8 421.8,129 422.3,129.8 422.7,128.9 423.2,128.2 423.7,129.6 424.1,129 424.6,128.3 425,129.7 425.5,128.7 425.9,129.6 426.4,127.9 426.9,127 427.3,127.2 427.8,128.9 428.2,128.2 428.7,128.7 429.2,128.7 429.6,127.5 430.1,129.7 430.5,127.9 431,128.7 431.4,127.6 431.9,128.5 432.4,129.2 432.8,128.5 433.3,128.1 433.7,128.6 434.2,128.3 434.7,129 435.1,130.3 435.6,127.9 436,128.1 436.5,128.5 436.9,128.6 437.4,127.8 437.9,128.9 438.3,129.1 438.8,128.7 439.2,127.7 439.7,129.6 440.1,127.6 440.6,129 441.1,129.4 441.5,127.6 442,128.6 442.4,129.5 442.9,128.8 443.4,127.8 443.8,127.6 444.3,128.8 444.7,128.2 445.2,127.9 445.6,129 446.1,128.2 446.6,128.5 447,128.9 447.5,128.8 447.9,128.4 448.4,128.4 448.9,128.9 449.3,128.8 449.8,127.6 450.2,128.2 450.7,127.7 451.1,127.5 451.6,127.9 452.1,126.6 452.5,129 453,127.8 453.4,128.6 453.9,126.9 454.3,127.1 454.8,129.9 455.3,129.1 455.7,127.8 456.2,127.7 456.6,127.8 457.1,128.4 457.6,128 458,127.8 458.5,128.4 458.9,127.5 459.4,130 459.8,127.8 460.3,129.1 460.8,127.5 461.2,128.5 461.7,129 462.1,128 462.6,129 463,129 463.5,129.5 464,128.3 464.4,127.9 464.9,127.4 465.3,128.3 465.8,127.4 466.3,128.2 466.7,128.3 467.2,127.8 467.6,127.4 468.1,128.5 468.5,128.4 469,128.3 469.5,128.1 469.9,128.9 470.4,127.4 470.8,128.5 471.3,127.8 471.8,128.8 472.2,127.9 472.7,127.8 473.1,128.5 473.6,126.6 474,127.8 474.5,126.8 475,127.4 475.4,128.6 475.9,128.4 476.3,127.8 476.8,128 477.2,128.1 477.7,128.3 478.2,129.5 478.6,128.2 479.1,129.8 479.5,127.8 480,128.6 480.5,128.6 480.9,128.2 481.4,127.8 481.8,129.1 482.3,129.4 482.7,128.8 483.2,129.6 483.7,128.8 484.1,126.8 484.6,128.8 485,127.5 485.5,129.1 485.9,127.8 486.4,128.2 486.9,128 487.3,127.5 487.8,126.6 488.2,127.8 488.7,127.9 489.2,128.7 489.6,127.5 490.1,128.1 490.5,127.3 491,128 491.4,126.6 491.9,129.5 492.4,128.2 492.8,127.2 493.3,128.2 493.7,128.5 494.2,128.1 494.6,129 495.1,127.8 495.6,126 496,127 496.5,128.7 496.9,128.5 497.4,128.2 497.9,127.1 498.3,128.5 498.8,128.4 499.2,127.2 499.7,127.2 500.1,128.1 500.6,128.7 501.1,129 501.5,128.4 502,129.5 502.4,127.2 502.9,128.3 503.4,127.4 503.8,126.4 504.3,126.9 504.7,128.7 505.2,127.1 505.6,126.9 506.1,128.3 506.6,128.5 507,127.8 507.5,129 507.9,126.6 508.4,129.6 508.8,128.6 509.3,127.9 509.8,127.9 510.2,127.6 510.7,127.5 511.1,127.9 511.6,126.8 512.1,129.4 512.5,127.7 513,128.2 513.4,127.6 513.9,127.5 514.3,128.4 514.8,128.2 515.3,127.1 515.7,127.4 516.2,128.2 516.6,126.1 517.1,125.9 517.5,128.8 518,127.4 518.5,125.7 518.9,127 519.4,127.5 519.8,127.8 520.3,128 520.8,127.8 521.2,128 521.7,127 522.1,127.9 522.6,127.9 523,128.5 523.5,127.6 524,128.3 524.4,127.7 524.9,126.8 525.3,127.3 525.8,127.2 526.3,127.3 526.7,127.5 527.2,127.6 527.6,127.8 528.1,126.9 528.5,128.3 529,126.5 529.5,127.5 529.9,128.1 530.4,127.9 530.8,128 531.3,127.3 531.7,128 532.2,126.6 532.7,128 533.1,129.2 533.6,128 534,129 534.5,127.5 535,126.6 535.4,126.9 535.9,128.4 536.3,128 536.8,126 537.2,127.1 537.7,127.4 538.2,126.6 538.6,125.5 539.1,126.4 539.5,127.2 540,127.1 540.5,126.9 540.9,127.8 541.4,128.1 541.8,127.3 542.3,128 542.7,127.3 543.2,127.2 543.7,125.5 544.1,127.9 544.6,127.4 545,127.4 545.5,126.9 545.9,126.4 546.4,127.6 546.9,127.9 547.3,128.5 547.8,127.9 548.2,126.8 548.7,127.2 549.2,128 549.6,127.5 550.1,127.2 550.5,126.8 551,127.6 551.4,127.4 551.9,128.6 552.4,128 552.8,125.9 553.3,128.8 553.7,127.4 554.2,127 554.6,127.4 555.1,127.7 555.6,127.1 556,127.1 556.5,127.1 556.9,128.5 557.4,127.2 557.9,127.7 558.3,127.5 558.8,126.9 559.2,126.5 559.7,126.3 560.1,127.4 560.6,126.3 561.1,126.1 561.5,126.1 562,125.9 562.4,127.1 562.9,127.1 563.4,126.3 563.8,128 564.3,126.8 564.7,127.4 565.2,127.2 565.6,128.3 566.1,127.6 566.6,126.9 567,126.2 567.5,126.1 567.9,127 568.4,127 568.8,127.5 569.3,126.6 569.8,127.1 570.2,126.4 570.7,125.5 571.1,126.9 571.6,128 572.1,127.5 572.5,127.9 573,127.7 573.4,125.8 573.9,126.6 574.3,128 574.8,126.3 575.3,125.8 575.7,127 576.2,127.3 576.6,127 577.1,126.5 577.5,126.2 578,125.8 578.5,125.8 578.9,125.8 579.4,125.7 579.8,126.2 580.3,127.9 580.8,126.8 581.2,126.4 581.7,127 582.1,126 582.6,126.9 583,127.4 583.5,125.5 584,126.1 584.4,126.5 584.9,125.9 585.3,125.8 585.8,126.3 586.2,128.5 586.7,127.1 587.2,126.9 587.6,127.3 588.1,126.4 588.5,125.6 589,126.9 589.5,127.4 589.9,125 590.4,126.9 590.8,127.5 591.3,126.3 591.7,126.2 592.2,127.1 592.7,125.9 593.1,126.9 593.6,127.2 594,126.3 594.5,125.9 595,127 595.4,126.2 595.9,126.5 596.3,124.3 596.8,127 597.2,125.4 597.7,126.5 598.2,126.5 598.6,125.9 599.1,125.7 599.5,125.4 600,126.1 600.4,126.8 600.9,126.8 601.4,126 601.8,125.9 602.3,125.3 602.7,126 603.2,125.5 603.7,125.2 604.1,126.2 604.6,127.5 605,127.2 605.5,127.4 605.9,125.1 606.4,127 606.9,125.3 607.3,125.8 607.8,125 608.2,125.5 608.7,126.3 609.1,126.4 609.6,126.2 610.1,126.1 610.5,126.7 611,126.3 611.4,125 611.9,127.5 612.4,126 612.8,126.9 613.3,126.1 613.7,125.6 614.2,126.2 614.6,125.6 615.1,127.4 615.6,125.3 616,126.6 616.5,125.7 616.9,126 617.4,128.1 617.9,126.7 618.3,126 618.8,124.9 619.2,125.9 619.7,125.9 620.1,127.2 620.6,125 621.1,124.7 621.5,126.1 622,126.3 622.4,127.3 622.9,125.4 623.3,124 623.8,125.5 624.3,125.1 624.7,125.7 625.2,126.8 625.6,125 626.1,127 626.6,126.2 627,125.8 627.5,125.4 627.9,125.7 628.4,125.7 628.8,126.6 629.3,127 629.8,126 630.2,126.6 630.7,127 631.1,127 631.6,126.4 632,127.4 632.5,127 633,127.2 633.4,125.8 633.9,125.7 634.3,124.4 634.8,127.1 635.3,126.5 635.7,125.3 636.2,126.1 636.6,126.2 637.1,124.6 637.5,126.2 638,126.8 638.5,127 638.9,125.7 639.4,125.7 639.8,127 640.3,126.7 640.8,125.5 641.2,125.5 641.7,126.4 642.1,125.4 642.6,125.5 643,127.3 643.5,126.1 644,125.6 644.4,126.3 644.9,127.5 645.3,126.1 645.8,125.3 646.2,124.6 646.7,127.5 647.2,123.8 647.6,126.7 648.1,125.1 648.5,124.9 649,125.1 649.5,125.7 649.9,126.7 650.4,125.3 650.8,126.4 651.3,127.8 651.7,123.6 652.2,125.3 652.7,124.4 653.1,126.5 653.6,124.7 654,124.6 654.5,124.6 655,125.8 655.4,126.7 655.9,125.9 656.3,127.5 656.8,127.1 657.2,125.7 657.7,126.5 658.2,125.9 658.6,125.8 659.1,124.3 659.5,124.7 660,125.8 660.4,124.8 660.9,126.3 661.4,126 661.8,125 662.3,126.7 662.7,125.9 663.2,126.7 663.7,125.6 664.1,124.5 664.6,126.3 665,125.5 665.5,126.4 665.9,126.6 666.4,126.6 666.9,124.6 667.3,123.9 667.8,125.3 668.2,126.2 668.7,125.1 669.1,125.9 669.6,125 670.1,125.4 670.5,125.4 671,125.2 671.4,126.1 671.9,126 672.4,127 672.8,126 673.3,126.7 673.7,125.7 674.2,126.4 674.6,125.5 675.1,125.3 675.6,126.7 676,126.2 676.5,126.3 676.9,125 677.4,124.3 677.9,124.9 678.3,125.9 678.8,124.5 679.2,126.7 679.7,124.4 680.1,126.1 680.6,127.7 681.1,123.5 681.5,124.3 682,126.4 682.4,125.4 682.9,125.7 683.3,125.5 683.8,126.7 684.3,126.1 684.7,125.2 685.2,125.4 685.6,124.6 686.1,125.5 686.6,123.7 687,126.1 687.5,125.3 687.9,127 688.4,126.5 688.8,124.5 689.3,126.2 689.8,125.1 690.2,125.5 690.7,126.3 691.1,125.7 691.6,125.9 692,125.8 692.5,124.9 693,125 693.4,125.9 693.9,126.2 694.3,125.2 694.8,125.5 695.3,124.7 695.7,123.4 696.2,124.8 696.6,125.5 697.1,125.6 697.5,126.1 698,126.1 698.5,126.2 698.9,125.7 699.4,125.7 699.8,124.8 700.3,125.7 700.8,125.6 701.2,126.3 701.7,124.1 702.1,125 702.6,124 703,124.8 703.5,124.2 704,125.6 704.4,124.8 704.9,123.3 705.3,126.3 705.8,124.5 706.2,124 706.7,125 707.2,124.8 707.6,124.4 708.1,125.9 708.5,125 709,126 709.5,125.9 709.9,125.8 710.4,125.4 710.8,125.2 711.3,125 711.7,126.4 712.2,123.7" fill="none" stroke="#8000ff" stroke-width="4.3" stroke-linejoin="round" stroke-linecap="round"/>
<polyline points="162.6,125.6 163,127 163.3,125.9 163.7,126.2 164.1,125 164.4,125.2 164.8,126 165.2,125.6 165.5,124 165.9,126.1 166.3,126.1 166.6,125.5 167,125.9 167.4,125.7 167.7,124.9 168.1,123.9 168.5,126.8 168.8,125.3 169.2,125.3 169.6,125.4 169.9,125.5 170.3,125.6 170.7,124.5 171,125.7 171.4,125.4 171.8,125.3 172.1,125.2 172.5,125.4 172.9,124.5 173.2,125.3 173.6,125.2 174,125.3 174.3,126.1 174.7,126 175.1,126.2 175.4,125.1 175.8,125.9 176.2,126.2 176.5,125.1 176.9,124.9 177.3,126.8 177.6,123.9 178,125.3 178.4,125.4 178.7,124.4 179.1,125.2 179.5,125.8 179.8,123.5 180.2,126.2 180.6,125.4 180.9,124.6 181.3,126.2 181.7,125.4 182,125 182.4,123.3 182.8,126 183.1,125.3 183.5,124.8 183.9,125.2 184.2,126.3 184.6,125 185,125.2 185.3,124.9 185.7,124.4 186,124.5 186.4,125 186.8,125 187.1,126.2 187.5,125.4 187.9,125.1 188.2,125.6 188.6,125.2 189,126 189.3,124 189.7,123.5 190.1,125.6 190.4,125 190.8,125.5 191.2,124.3 191.5,124.9 191.9,125.2 192.3,125.5 192.6,125.2 193,126.1 193.4,124.7 193.7,125.9 194.1,124.9 194.5,125.2 194.8,124.4 195.2,125.3 195.6,124.5 195.9,126.1 196.3,124.8 196.7,125.5 197,125.1 197.4,125.2 197.8,124.5 198.1,127 198.5,125 198.9,126.5 199.2,124.3 199.6,126.9 200,126.1 200.3,126.7 200.7,123.9 201.1,126.4 201.4,125.2 201.8,125.7 202.2,126.8 202.5,125.6 202.9,124.8 203.3,125.5 203.6,124.5 204,125.6 204.4,125.3 204.7,125.6 205.1,125 205.5,123.7 205.8,125 206.2,125.1 206.6,125.8 206.9,125.9 207.3,124.1 207.7,126.2 208,126.1 208.4,125.4 208.8,125.7 209.1,123.7 209.5,127.3 209.9,125 210.2,124.7 210.6,126.2 211,125.8 211.3,124.9 211.7,124 212.1,126.1 212.4,126.6 212.8,124.5 213.2,124 213.5,125.6 213.9,127.1 214.3,124.1 214.6,125.5 215,124.4 215.4,125.3 215.7,125.6 216.1,125.7 216.5,124.1 216.8,124.1 217.2,127.1 217.6,126.1 217.9,123.8 218.3,125.6 218.7,126.4 219,125.3 219.4,125.4 219.8,125.4 220.1,125.7 220.5,125.6 220.9,125.7 221.2,125 221.6,126 222,125.5 222.3,125.4 222.7,124.2 223.1,125 223.4,125.4 223.8,124.9 224.2,125 224.5,124.4 224.9,124.9 225.3,123.8 225.6,124.2 226,125.3 226.4,125.6 226.7,124.6 227.1,124.9 227.5,125.4 227.8,126.5 228.2,126.8 228.6,125 228.9,124.7 229.3,124.6 229.7,126.4 230,124.4 230.4,125.7 230.8,125 231.1,125 231.5,126 231.8,125.8 232.2,127 232.6,126.1 232.9,126.8 233.3,124.9 233.7,125.2 234,124.5 234.4,125 234.8,125.8 235.1,125 235.5,125.6 235.9,124.8 236.2,125 236.6,126.1 237,125.3 237.3,125.3 237.7,125.6 238.1,124.6 238.4,123.9 238.8,125.6 239.2,125.6 239.5,127.2 239.9,125.4 240.3,125.7 240.6,127.1 241,125.1 241.4,124.8 241.7,125.9 242.1,125.6 242.5,126.1 242.8,124.7 243.2,126.6 243.6,125.6 243.9,123.7 244.3,125.3 244.7,124.9 245,125.4 245.4,126.3 245.8,125.3 246.1,125 246.5,126.1 246.9,125 247.2,124.3 247.6,124.4 248,126.6 248.3,126.1 248.7,126.6 249.1,124.4 249.4,124.8 249.8,124.7 250.2,126 250.5,126.3 250.9,125.2 251.3,125.2 251.6,126 252,125.2 252.4,124.8 252.7,125.1 253.1,126.2 253.5,127 253.8,125.5 254.2,125.2 254.6,125.5 254.9,125.7 255.3,125.9" fill="none" stroke="#00007a" stroke-width="4.3" stroke-linejoin="round" stroke-linecap="round"/>
<line x1="255.3" y1="125.3" x2="255.3" y2="394.5" stroke="#139013" stroke-width="1"/>
<line x1="256" y1="125.3" x2="256" y2="303.9" stroke="#3a22b0" stroke-width="1.3"/>
<line x1="256.7" y1="202.2" x2="255.9" y2="400" stroke="#8000ff" stroke-width="2.4" stroke-dasharray="3.2 0.9"/>
<line x1="257.2" y1="301.1" x2="257.9" y2="386.3" stroke="#1a1490" stroke-width="1.9" stroke-dasharray="2.6 1.2"/>
<circle cx="254.9" cy="154.1" r="1.5" fill="#139013"/>
<path d="M254.3 142.6l3.6 1.9l-3.6 1.9z" fill="#00007a"/>
<circle cx="254.9" cy="178.9" r="1.5" fill="#139013"/>
<path d="M254.3 167.4l3.6 1.9l-3.6 1.9z" fill="#00007a"/>
<circle cx="254.9" cy="239.3" r="1.5" fill="#139013"/>
<path d="M254.3 227.8l3.6 1.9l-3.6 1.9z" fill="#00007a"/>
<circle cx="254.9" cy="280.5" r="1.5" fill="#139013"/>
<path d="M254.3 269l3.6 1.9l-3.6 1.9z" fill="#00007a"/>
<circle cx="254.9" cy="319" r="1.5" fill="#139013"/>
<path d="M254.3 307.4l3.6 1.9l-3.6 1.9z" fill="#00007a"/>
<circle cx="254.9" cy="354.7" r="1.5" fill="#139013"/>
<path d="M254.3 343.2l3.6 1.9l-3.6 1.9z" fill="#00007a"/>
<circle cx="254.9" cy="382.1" r="1.5" fill="#139013"/>
<path d="M254.3 370.6l3.6 1.9l-3.6 1.9z" fill="#00007a"/>
<path d="M255.1 384.8l3.4 0l-1.7 3z" fill="#8000ff"/>
<path d="M255.2 365.5l3.4 0l-1.7 3z" fill="#8000ff"/>
<path d="M255.4 340.8l3.4 0l-1.7 3z" fill="#8000ff"/>
<path d="M255.5 316.1l3.4 0l-1.7 3z" fill="#8000ff"/>
<path d="M255.6 294.1l3.4 0l-1.7 3z" fill="#8000ff"/>
<path d="M255.8 272.1l3.4 0l-1.7 3z" fill="#8000ff"/>
<path d="M255.8 255.7l3.4 0l-1.7 3z" fill="#8000ff"/>
<path d="M255.9 239.2l3.4 0l-1.7 3z" fill="#8000ff"/>
<path d="M256 225.4l3.4 0l-1.7 3z" fill="#8000ff"/>
<path d="M256.1 214.5l3.4 0l-1.7 3z" fill="#8000ff"/>
<path d="M256.1 206.2l3.4 0l-1.7 3z" fill="#8000ff"/>
<polyline points="256.7,383.4 257.2,386.9 257.6,388.5 258.1,389.6 258.6,390.2 259,390.6 259.5,391.2 259.9,391.5 260.4,391.7 260.8,391.7 261.3,392.1 261.8,392.2 262.2,392.6 262.7,392.9 263.1,393.2 263.6,393.3 264,393.1 264.5,393.4 265,393.5 265.4,393.6 265.9,393.9 266.3,394 266.8,394.1 267.3,394.1 267.7,394.2 268.2,394.3 268.6,394.5 269.1,394.7 269.5,394.7 270,395 270.5,394.7 270.9,395.3 271.4,395.1 271.8,394.8 272.3,395.3 272.5,395.5 274.4,395.6 276.2,395.7 278,396.1 279.8,396.2 281.7,396.5 283.5,396.7 285.3,396.3 287.2,396.9 289,397.1 290.8,397.2 292.7,397.2 294.5,397.3 296.3,397.3 298.2,397.5 300,397.8 301.8,397.6 303.7,397.8 305.5,397.9 307.3,398.1 309.2,398 311,398.1 312.8,398.1 314.7,398.4 316.5,398.2 318.3,398.2 320.2,398.5 322,398.4 323.8,398.4 325.6,398.4 327.5,398.5 329.3,398.5 331.1,398.6 333,398.6 334.8,398.6 336.6,398.7 338.5,398.7 340.3,398.8 342.1,398.8 344,398.8 345.8,398.9 347.6,398.9 349.5,398.9 351.3,399 353.1,399 355,399 356.8,399 358.6,399.1 360.5,399.1 362.3,399.1 364.1,399.1 366,399.1 367.8,399.2 369.6,399.2 371.4,399.2 373.3,399.2 375.1,399.2 376.9,399.3 378.8,399.3 380.6,399.3 382.4,399.3 384.3,399.3 386.1,399.3 387.9,399.3 389.8,399.4 391.6,399.4 393.4,399.4 395.3,399.4 397.1,399.4 398.9,399.4 400.8,399.4 402.6,399.4 404.4,399.5 406.3,399.5 408.1,399.5 409.9,399.5 411.8,399.5 413.6,399.5 415.4,399.5 417.2,399.5 419.1,399.5 420.9,399.5 422.7,399.6 424.6,399.6 426.4,399.6 428.2,399.6 430.1,399.6 431.9,399.6 433.7,399.6 435.6,399.6 437.4,399.6 439.2,399.6 441.1,399.6 442.9,399.6 444.7,399.6 446.6,399.6 448.4,399.6 450.2,399.6 452.1,399.6 453.9,399.6 455.7,399.6 457.6,399.6 459.4,399.6 461.2,399.6 463,399.6 464.9,399.6 466.7,399.6 468.5,399.6 470.4,399.6 472.2,399.6 474,399.6 475.9,399.6 477.7,399.6 479.5,399.6 481.4,399.6 483.2,399.6 485,399.6 486.9,399.6 488.7,399.6 490.5,399.6 492.4,399.6 494.2,399.6 496,399.6 497.9,399.6 499.7,399.6 501.5,399.6 503.4,399.6 505.2,399.6 507,399.6 508.8,399.6 510.7,399.6 512.5,399.6 514.3,399.7 516.2,399.7 518,399.7 519.8,399.7 521.7,399.7 523.5,399.7 525.3,399.7 527.2,399.7 529,399.7 530.8,399.7 532.7,399.7 534.5,399.7 536.3,399.7 538.2,399.7 540,399.7 541.8,399.7 543.7,399.7 545.5,399.7 547.3,399.7 549.2,399.7 551,399.7 552.8,399.7 554.6,399.7 556.5,399.7 558.3,399.7 560.1,399.7 562,399.7 563.8,399.7 565.6,399.7 567.5,399.7 569.3,399.7 571.1,399.7 573,399.7 574.8,399.7 576.6,399.7 578.5,399.7 580.3,399.7 582.1,399.7 584,399.7 585.8,399.7 587.6,399.7 589.5,399.7 591.3,399.7 593.1,399.7 595,399.7 596.8,399.7 598.6,399.7 600.4,399.7 602.3,399.7 604.1,399.7 605.9,399.7 607.8,399.7 609.6,399.7 611.4,399.7 613.3,399.7 615.1,399.7 616.9,399.7 618.8,399.7 620.6,399.7 622.4,399.7 624.3,399.7 626.1,399.7 627.9,399.7 629.8,399.7 631.6,399.7 633.4,399.7 635.3,399.7 637.1,399.7 638.9,399.7 640.8,399.7 642.6,399.7 644.4,399.7 646.2,399.7 648.1,399.7 649.9,399.7 651.7,399.7 653.6,399.7 655.4,399.7 657.2,399.7 659.1,399.7 660.9,399.7 662.7,399.7 664.6,399.7 666.4,399.7 668.2,399.7 670.1,399.7 671.9,399.7 673.7,399.7 675.6,399.7 677.4,399.7 679.2,399.7 681.1,399.7 682.9,399.7 684.7,399.7 686.6,399.7 688.4,399.7 690.2,399.7 692,399.7 693.9,399.7 695.7,399.7 697.5,399.7 699.4,399.7 701.2,399.7 703,399.7 704.9,399.7 706.7,399.7 708.5,399.7 710.4,399.7 712.2,399.7" fill="none" stroke="#00007a" stroke-width="5.4" stroke-linejoin="round" stroke-linecap="round"/>
<text x="321.5" y="109.1" font-size="33.5" fill="#7030a0"><tspan font-size="21.5" dy="-16">13</tspan><tspan dy="16" dx="-0.6">CO</tspan><tspan font-size="21.5" dy="8.3" dx="1">2</tspan></text>
<line x1="333.1" y1="99.5" x2="319.2" y2="115.2" stroke="#7030a0" stroke-width="1.3"/>
<polygon points="312.4,122.9 316.4,112.7 322.1,117.7" fill="#7030a0"/>
<text x="401.5" y="227.8" font-size="33.5" fill="#e8141c"><tspan font-size="21.5" dy="-16">13</tspan><tspan dy="16" dx="-0.6">CH</tspan><tspan font-size="21.5" dy="8.3" dx="1">4</tspan></text>
<line x1="398" y1="194.4" x2="380.3" y2="180.2" stroke="#e8141c" stroke-width="1.3"/>
<polygon points="372.3,173.7 382.7,177.2 377.9,183.1" fill="#e8141c"/>
<text x="409.5" y="334.2" font-size="33.5" fill="#000"><tspan font-size="21.5" dy="-16">12</tspan><tspan dy="16" dx="-0.6">CH</tspan><tspan font-size="21.5" dy="8.3" dx="1">4</tspan></text>
<line x1="407.3" y1="325.2" x2="391.6" y2="343.1" stroke="#000" stroke-width="1.3"/>
<polygon points="384.8,350.8 388.7,340.6 394.5,345.6" fill="#000"/>
<text x="292.5" y="381.3" font-size="33.5" fill="#1f4e79"><tspan font-size="21.5" dy="-16">12</tspan><tspan dy="16" dx="-0.6">CO</tspan><tspan font-size="21.5" dy="8.3" dx="1">2</tspan></text>
<line x1="285.4" y1="375.1" x2="278.2" y2="382.3" stroke="#1f4e79" stroke-width="1.3"/>
<polygon points="270.8,389.7 275.5,379.5 281,385" fill="#1f4e79"/>
<text x="299" y="440.5" font-size="33.5" text-anchor="start" fill="#1a7a1a" >Ar</text>
<line x1="296.4" y1="422.6" x2="279.8" y2="410.3" stroke="#375623" stroke-width="1.3"/>
<polygon points="271.3,404.1 282.1,407.2 277.4,413.5" fill="#375623"/>
</g>
<rect x="162.5" y="16" width="549.3" height="439.5" fill="none" stroke="#111" stroke-width="1.5"/>
</g>
<text x="2.3" y="22.7" font-size="42.5" font-weight="bold" fill="#000">a</text>
<text x="2.3" y="647.8" font-size="42.5" font-weight="bold" fill="#000">b</text>
<text x="2.3" y="1265.2" font-size="42.5" font-weight="bold" fill="#000">c</text>
<g id="pb">
<clipPath id="cp623"><rect x="162.5" y="639" width="549.3" height="439.5"/></clipPath>
<path d="M162.6 1078.5v8.5M208.4 1078.5v4.5M254.2 1078.5v8.5M300 1078.5v4.5M345.8 1078.5v8.5M391.6 1078.5v4.5M437.4 1078.5v8.5M483.2 1078.5v4.5M529 1078.5v8.5M574.8 1078.5v4.5M620.6 1078.5v8.5M666.4 1078.5v4.5M712.2 1078.5v8.5M162.5 1023h-8.5M162.5 954.3h-4.5M162.5 885.6h-8.5M162.5 817h-4.5M162.5 748.3h-8.5M162.5 679.6h-4.5" stroke="#111" stroke-width="1.5" fill="none"/>
<text x="162.6" y="1125.1" font-size="33.5" text-anchor="middle" fill="#000" >–200</text>
<text x="254.2" y="1125.1" font-size="33.5" text-anchor="middle" fill="#000" >0</text>
<text x="345.8" y="1125.1" font-size="33.5" text-anchor="middle" fill="#000" >200</text>
<text x="437.4" y="1125.1" font-size="33.5" text-anchor="middle" fill="#000" >400</text>
<text x="529" y="1125.1" font-size="33.5" text-anchor="middle" fill="#000" >600</text>
<text x="620.6" y="1125.1" font-size="33.5" text-anchor="middle" fill="#000" >800</text>
<text x="716.7" y="1125.1" font-size="33.5" text-anchor="middle" fill="#000" >1,000</text>
<text x="143" y="1034.4" font-size="33.5" text-anchor="end" fill="#000" >0</text>
<text x="143" y="897" font-size="33.5" text-anchor="end" fill="#000" >0.5</text>
<text x="143" y="759.7" font-size="33.5" text-anchor="end" fill="#000" >1.0</text>
<text x="433.5" y="1176" font-size="33.7" text-anchor="middle" fill="#000" >Time (s)</text>
<text transform="translate(69.8 863) rotate(-90)" font-size="33.5" text-anchor="middle" fill="#000">Normalized concentration</text>
<g clip-path="url(#cp623)">
<polyline points="162.6,746.5 162.9,740.3 163.2,740.9 163.6,749 163.9,748 164.2,749.1 164.5,744 164.8,746.9 165.2,743.2 165.5,755.3 165.8,739.3 166.1,747.1 166.4,743.5 166.8,747.3 167.1,748.4 167.4,744.5 167.7,742.8 168.1,747.6 168.4,747.4 168.7,743.4 169,750.7 169.3,753.7 169.7,744.8 170,749.8 170.3,755.6 170.6,750.5 170.9,748.8 171.3,752.2 171.6,753.6 171.9,746.5 172.2,742.5 172.5,747.7 172.9,750.1 173.2,744.9 173.5,743.3 173.8,748.1 174.1,744.1 174.5,741.8 174.8,747.6 175.1,750.5 175.4,745 175.7,745.5 176.1,741.5 176.4,752.7 176.7,749.7 177,750.6 177.3,754.7 177.7,746.1 178,744.2 178.3,750.1 178.6,740.2 179,742.8 179.3,743.7 179.6,744.8 179.9,742.2 180.2,752.9 180.6,743.8 180.9,743.8 181.2,754.9 181.5,745 181.8,747.8 182.2,743 182.5,748.7 182.8,746.7 183.1,745.1 183.4,750.7 183.8,743.9 184.1,747.1 184.4,744.4 184.7,749.1 185,741.6 185.4,743.8 185.7,747.5 186,743.7 186.3,740.8 186.6,738.3 187,754 187.3,742.5 187.6,744.5 187.9,747.1 188.2,751.4 188.6,740.8 188.9,752.5 189.2,744 189.5,740.6 189.9,754.1 190.2,748.1 190.5,752.8 190.8,745.5 191.1,739.6 191.5,737.2 191.8,755 192.1,749.3 192.4,743.4 192.7,739.3 193.1,744.7 193.4,750.1 193.7,745.3 194,746.7 194.3,747.6 194.7,750.1 195,744.8 195.3,745.2 195.6,747.1 195.9,747.7 196.3,752.7 196.6,748.9 196.9,741 197.2,747.5 197.5,753.4 197.9,740.4 198.2,744.2 198.5,736.8 198.8,746.4 199.1,748.8 199.5,753.4 199.8,740.5 200.1,734.7 200.4,750.5 200.8,749.7 201.1,743.9 201.4,750.5 201.7,747.9 202,748.3 202.4,745.8 202.7,741.5 203,746.5 203.3,742.4 203.6,748.6 204,745.1 204.3,756.6 204.6,753.4 204.9,742.9 205.2,749.4 205.6,743.9 205.9,744.1 206.2,740.5 206.5,742.9 206.8,741.9 207.2,747.2 207.5,749.9 207.8,750.1 208.1,748.9 208.4,751.9 208.8,749.2 209.1,747.1 209.4,745.5 209.7,748.2 210,755.6 210.4,747 210.7,745.6 211,741.6 211.3,744 211.7,749.7 212,750 212.3,737.3 212.6,743.1 212.9,738.1 213.3,736.7 213.6,750.5 213.9,744.9 214.2,744.5 214.5,744 214.9,744.1 215.2,745.7 215.5,745.8 215.8,753.7 216.1,747.4 216.5,750.1 216.8,746.1 217.1,748.8 217.4,743.8 217.7,742.8 218.1,745.2 218.4,745.2 218.7,746.2 219,748.7 219.3,747.4 219.7,749 220,744.8 220.3,746.6 220.6,743.9 220.9,752.9 221.3,742.5 221.6,750.2 221.9,750.1 222.2,747.6 222.6,749.3 222.9,745.3 223.2,749.3 223.5,751.6 223.8,750.6 224.2,740.5 224.5,746.4 224.8,752.1 225.1,746.6 225.4,753.9 225.8,738.3 226.1,753.8 226.4,744.4 226.7,744.1 227,753.4 227.4,745.2 227.7,742 228,744.5 228.3,745.4 228.6,742.2 229,745.9 229.3,745.1 229.6,747.2 229.9,743.7 230.2,751 230.6,743 230.9,749 231.2,751.7 231.5,744.9 231.8,738.7 232.2,742.2 232.5,749.1 232.8,743.4 233.1,748.8 233.5,747.2 233.8,746.2 234.1,757.5 234.4,745.8 234.7,751.5 235.1,749.9 235.4,753.5 235.7,753.7 236,751.1 236.3,742.8 236.7,738.9 237,746.8 237.3,741.6 237.6,747.9 237.9,755.6 238.3,746 238.6,744.6 238.9,748.7 239.2,745.2 239.5,744 239.9,750.7 240.2,753.5 240.5,747.7 240.8,747.6 241.1,748.3 241.5,742 241.8,738.6 242.1,748.6 242.4,743.4 242.7,742.3 243.1,743.3 243.4,741.8 243.7,748.5 244,743.2 244.4,737.2 244.7,742.9 245,749.5 245.3,743.8 245.6,740.8 246,744.9 246.3,749.3 246.6,739.4 246.9,752.5 247.2,744.3 247.6,746.7 247.9,752.2 248.2,741 248.5,745 248.8,752.1 249.2,743.8 249.5,748.7 249.8,755.5 250.1,749.9 250.4,745.4 250.8,743.7 251.1,745.9 251.4,746.4 251.7,744.5 252,747.6 252.4,741.2 252.7,746 253,745.3 253.3,744.1 253.7,751.6 254,750 254.3,739.5 254.6,745.1" fill="none" stroke="#0a0af5" stroke-width="3.0" stroke-linejoin="miter" stroke-miterlimit="3"/>
<polyline points="162.6,748.1 162.9,746.7 163.2,748.5 163.6,746.9 163.9,748.9 164.2,746.9 164.5,750.9 164.8,744.6 165.2,748.6 165.5,751 165.8,748 166.1,748.3 166.4,747.1 166.8,750 167.1,746.6 167.4,739.5 167.7,750.3 168.1,746.7 168.4,748.2 168.7,747.1 169,751.5 169.3,750 169.7,746.5 170,747.6 170.3,743.9 170.6,749 170.9,747.1 171.3,741.1 171.6,749.2 171.9,749.5 172.2,747.6 172.5,747.6 172.9,745.6 173.2,747.2 173.5,749.1 173.8,747 174.1,741.7 174.5,744.7 174.8,753.6 175.1,747.8 175.4,749.4 175.7,746.1 176.1,747.9 176.4,743.2 176.7,745.4 177,745.5 177.3,747.1 177.7,747.6 178,746.7 178.3,744.6 178.6,746.3 179,748.2 179.3,744.7 179.6,747.1 179.9,747.6 180.2,749.2 180.6,748.7 180.9,748.9 181.2,753.6 181.5,745.2 181.8,746.2 182.2,747.9 182.5,745.2 182.8,746.5 183.1,746.7 183.4,752.9 183.8,748 184.1,746.3 184.4,743.9 184.7,743.4 185,744.3 185.4,750 185.7,752.3 186,746.2 186.3,747.4 186.6,745.4 187,747.8 187.3,747 187.6,750.8 187.9,746.5 188.2,748.5 188.6,746.7 188.9,746.5 189.2,747.7 189.5,746.8 189.9,747.5 190.2,745.8 190.5,746.4 190.8,748.7 191.1,748.8 191.5,743.6 191.8,747.7 192.1,745.3 192.4,746.6 192.7,748.7 193.1,749.1 193.4,747.2 193.7,746.9 194,746.1 194.3,750.3 194.7,748.8 195,747.7 195.3,744 195.6,752.7 195.9,746.5 196.3,748.7 196.6,746.5 196.9,748.6 197.2,746.7 197.5,744 197.9,746.7 198.2,746.5 198.5,746.7 198.8,749.1 199.1,746.3 199.5,747.9 199.8,749.3 200.1,747.6 200.4,748 200.8,745.8 201.1,747.6 201.4,748.6 201.7,744.3 202,745.3 202.4,744.7 202.7,746.1 203,747.7 203.3,748.4 203.6,748.1 204,745.4 204.3,747.2 204.6,750.7 204.9,747.6 205.2,750.6 205.6,747.1 205.9,750.1 206.2,750.3 206.5,747.2 206.8,747.6 207.2,751.1 207.5,745.8 207.8,742.7 208.1,750.7 208.4,743.5 208.8,749 209.1,748.6 209.4,747.9 209.7,750.7 210,744.6 210.4,746.4 210.7,749.1 211,748.1 211.3,750.8 211.7,748.2 212,745.4 212.3,751.2 212.6,748.4 212.9,747.2 213.3,745.2 213.6,744.5 213.9,748.5 214.2,749.1 214.5,746.5 214.9,748.3 215.2,748.2 215.5,745.1 215.8,743.8 216.1,746.9 216.5,747.9 216.8,746.2 217.1,751.6 217.4,747.5 217.7,749.8 218.1,742.2 218.4,745.9 218.7,747.2 219,747.9 219.3,753 219.7,745.9 220,743.9 220.3,749.1 220.6,746 220.9,745.9 221.3,750.9 221.6,745.4 221.9,744.5 222.2,747 222.6,747.6 222.9,745.7 223.2,750.9 223.5,747.3 223.8,745.2 224.2,750.2 224.5,745.3 224.8,748.4 225.1,752 225.4,747.7 225.8,749.6 226.1,746.8 226.4,750.1 226.7,745.2 227,749.1 227.4,746.7 227.7,748.8 228,748.2 228.3,744.9 228.6,747 229,748.3 229.3,750.2 229.6,744.9 229.9,745.9 230.2,748.2 230.6,746.9 230.9,749.7 231.2,749.7 231.5,749.3 231.8,746.7 232.2,746.8 232.5,749.1 232.8,745.9 233.1,745.8 233.5,747.1 233.8,745.2 234.1,748.1 234.4,747.7 234.7,746.4 235.1,747.6 235.4,745.7 235.7,750.2 236,744.3 236.3,749.2 236.7,747.8 237,750.5 237.3,746.2 237.6,744.7 237.9,745.1 238.3,745.6 238.6,750.9 238.9,749.2 239.2,748.5 239.5,749.5 239.9,745 240.2,747.1 240.5,747.5 240.8,746.4 241.1,749.6 241.5,749.5 241.8,749.4 242.1,746.4 242.4,746.7 242.7,746.2 243.1,745.1 243.4,750.5 243.7,748.7 244,747.2 244.4,750.4 244.7,748.6 245,745.2 245.3,745.1 245.6,745.1 246,747.4 246.3,747.9 246.6,745.1 246.9,748.3 247.2,746.7 247.6,744.6 247.9,748.3 248.2,748.8 248.5,747.5 248.8,746.2 249.2,746.4 249.5,747.1 249.8,746.3 250.1,751 250.4,749.4 250.8,747.1 251.1,749.5 251.4,750.4 251.7,750.1 252,749.5 252.4,747.9 252.7,749.7 253,747 253.3,743.7 253.7,747.8 254,744.7 254.3,746.8 254.6,749.9" fill="none" stroke="#0a0af5" stroke-width="6.6" stroke-linejoin="miter" stroke-miterlimit="3"/>
<polyline points="162.6,749.4 163,750.2 163.3,748.3 163.7,750.4 164.1,747.7 164.4,748.5 164.8,751.3 165.2,748.3 165.5,747.4 165.9,750 166.3,748 166.6,751.1 167,748.8 167.4,750.9 167.7,748.6 168.1,751.1 168.5,752 168.8,748.7 169.2,746.6 169.6,749.8 169.9,748.2 170.3,749 170.7,749.5 171,748.4 171.4,747.3 171.8,750.5 172.1,748.5 172.5,748.7 172.9,750.7 173.2,747.3 173.6,747 174,750.2 174.3,747.2 174.7,749.1 175.1,749.3 175.4,747.5 175.8,748.9 176.2,748.8 176.5,747.5 176.9,747.7 177.3,748.1 177.6,750.7 178,750.9 178.4,747.9 178.7,750.1 179.1,749 179.5,750.3 179.8,749.3 180.2,750.5 180.6,747.3 180.9,750.2 181.3,749.3 181.7,749.3 182,747.8 182.4,750.7 182.8,749.2 183.1,749.4 183.5,748.5 183.9,748.6 184.2,749.6 184.6,748.9 185,749.5 185.3,748.6 185.7,749.2 186,749.8 186.4,749.2 186.8,748.7 187.1,746.6 187.5,749.7 187.9,748.8 188.2,747.5 188.6,751.4 189,751 189.3,750.4 189.7,749.2 190.1,746.4 190.4,748.7 190.8,747.8 191.2,749.4 191.5,751.8 191.9,751.7 192.3,748 192.6,748.9 193,750.6 193.4,747.9 193.7,750.8 194.1,747.9 194.5,747.5 194.8,750 195.2,750.3 195.6,748.2 195.9,750.3 196.3,748.2 196.7,750.4 197,748.2 197.4,749 197.8,749.6 198.1,750.1 198.5,748.9 198.9,751.2 199.2,749.4 199.6,749.6 200,748.4 200.3,750.5 200.7,747.2 201.1,749.5 201.4,750.4 201.8,747.6 202.2,747.3 202.5,749.3 202.9,750.1 203.3,749.1 203.6,749.9 204,749.5 204.4,747.4 204.7,748.7 205.1,749 205.5,748.7 205.8,749.2 206.2,748.2 206.6,748.2 206.9,749.5 207.3,749 207.7,746.5 208,748.7 208.4,749.3 208.8,746.9 209.1,749.1 209.5,750.3 209.9,748.4 210.2,750.1 210.6,749.7 211,748.8 211.3,749.3 211.7,750 212.1,749.7 212.4,749.8 212.8,747.8 213.2,749.9 213.5,749.8 213.9,746.9 214.3,749.7 214.6,747.5 215,747.7 215.4,749.3 215.7,750.7 216.1,748.6 216.5,748.4 216.8,748.1 217.2,749 217.6,747.8 217.9,747.6 218.3,750.3 218.7,747.6 219,748.9 219.4,749.7 219.8,749.5 220.1,747.1 220.5,748 220.9,751.1 221.2,749 221.6,749.3 222,749.3 222.3,749.7 222.7,750.7 223.1,748.2 223.4,750.2 223.8,749.5 224.2,749.8 224.5,749.9 224.9,748.3 225.3,748.7 225.6,749.9 226,750.2 226.4,749.6 226.7,748.1 227.1,749 227.5,748.9 227.8,749.5 228.2,749.4 228.6,748.9 228.9,751.1 229.3,747.4 229.7,750 230,749.7 230.4,747.7 230.8,748.9 231.1,749.1 231.5,749.8 231.8,750.8 232.2,748.9 232.6,747.8 232.9,750.1 233.3,747.6 233.7,750.4 234,749.9 234.4,748.6 234.8,749.1 235.1,748.4 235.5,749.9 235.9,750.3 236.2,751.2 236.6,750.4 237,750.3 237.3,750.7 237.7,748.8 238.1,749.9 238.4,751.3 238.8,746.4 239.2,750 239.5,750.5 239.9,747.8 240.3,747.8 240.6,750.4 241,750.7 241.4,750.2 241.7,747.9 242.1,749.5 242.5,750 242.8,749.2 243.2,747.8 243.6,750.7 243.9,749.5 244.3,750.6 244.7,746.7 245,747.1 245.4,748.1 245.8,749.3 246.1,748.4 246.5,751.4 246.9,748.8 247.2,750.6 247.6,750.6 248,749.9 248.3,749.5 248.7,748.5 249.1,748.4 249.4,748.8 249.8,750.2 250.2,748.4 250.5,749.3 250.9,747.8 251.3,750.1 251.6,752.2 252,749.6 252.4,746.8 252.7,748.6 253.1,749.3 253.5,748.2 253.8,748.6 254.2,748.6 254.6,749.7 254.9,749 255.3,748.9" fill="none" stroke="#139013" stroke-width="5.6" stroke-linejoin="round" stroke-linecap="round"/>
<polyline points="162.6,749.9 163,750.3 163.3,749.3 163.7,748.6 164.1,748.9 164.4,749 164.8,749 165.2,747.3 165.5,749.2 165.9,748.5 166.3,747.8 166.6,749.4 167,749.2 167.4,748.5 167.7,748 168.1,749.1 168.5,749.1 168.8,749.3 169.2,750.4 169.6,748.5 169.9,749.6 170.3,750.8 170.7,749.5 171,750.8 171.4,750.2 171.8,749.4 172.1,750.2 172.5,748.5 172.9,750.6 173.2,749.2 173.6,748.9 174,748.2 174.3,748.6 174.7,749.2 175.1,749.3 175.4,749.4 175.8,748.5 176.2,749.9 176.5,749 176.9,749.5 177.3,749.2 177.6,749.6 178,747.6 178.4,749.9 178.7,749.2 179.1,749.2 179.5,748.9 179.8,749 180.2,749 180.6,748.6 180.9,750.6 181.3,749.4 181.7,750.4 182,749.2 182.4,750.4 182.8,750.2 183.1,749.4 183.5,748.2 183.9,748.9 184.2,749.1 184.6,748.2 185,750.2 185.3,751.1 185.7,749.7 186,749.6 186.4,748.4 186.8,747.6 187.1,750.5 187.5,747.3 187.9,748.1 188.2,748.7 188.6,749.1 189,747.4 189.3,749.3 189.7,749.8 190.1,749.3 190.4,750.5 190.8,749 191.2,749.5 191.5,749.1 191.9,749.1 192.3,750.3 192.6,748.3 193,750.2 193.4,748.7 193.7,750.7 194.1,749.1 194.5,750.1 194.8,749.4 195.2,749.9 195.6,751.2 195.9,750.3 196.3,749.3 196.7,748.9 197,750.6 197.4,751.1 197.8,750.1 198.1,749.6 198.5,749.9 198.9,750.1 199.2,748.7 199.6,748.6 200,748.8 200.3,750.2 200.7,749.3 201.1,749.5 201.4,750.6 201.8,748.7 202.2,749.3 202.5,749.8 202.9,748.2 203.3,748.8 203.6,748.7 204,748.4 204.4,748.8 204.7,750.4 205.1,749.7 205.5,748.6 205.8,750 206.2,749.4 206.6,749.1 206.9,748.2 207.3,748.3 207.7,748.6 208,749.5 208.4,748.6 208.8,749 209.1,749.5 209.5,748.3 209.9,749 210.2,750 210.6,748.3 211,749.6 211.3,748.9 211.7,750.6 212.1,749.4 212.4,750.2 212.8,750.2 213.2,751 213.5,747.6 213.9,749.5 214.3,749.2 214.6,748.5 215,749.5 215.4,749 215.7,750.5 216.1,749.2 216.5,749.7 216.8,749 217.2,749.2 217.6,750.5 217.9,750.9 218.3,750.2 218.7,748.8 219,749 219.4,749.1 219.8,751.1 220.1,751.6 220.5,749.9 220.9,749.7 221.2,749.9 221.6,749.1 222,749.5 222.3,750.4 222.7,750.1 223.1,749.3 223.4,749.3 223.8,749.5 224.2,747.5 224.5,749.6 224.9,749.3 225.3,750.2 225.6,749.7 226,749 226.4,748.9 226.7,749.5 227.1,749.1 227.5,749.4 227.8,750.9 228.2,752.1 228.6,747.5 228.9,748.7 229.3,749.4 229.7,750.8 230,750.4 230.4,748.3 230.8,751.7 231.1,749.7 231.5,748.7 231.8,749.3 232.2,748.8 232.6,749.5 232.9,747.4 233.3,750.2 233.7,750.5 234,749.2 234.4,748.2 234.8,749.4 235.1,748.5 235.5,749.8 235.9,750.4 236.2,748.2 236.6,748.1 237,748.1 237.3,749.8 237.7,750.4 238.1,750.4 238.4,749.6 238.8,748.9 239.2,749 239.5,750.6 239.9,749.2 240.3,749.4 240.6,749.3 241,749.4 241.4,749.6 241.7,748.9 242.1,749.3 242.5,749.2 242.8,750 243.2,749.1 243.6,749.5 243.9,751.1 244.3,749 244.7,749.6 245,748.6 245.4,749.5 245.8,749.5 246.1,749.2 246.5,749.4 246.9,749.8 247.2,750.9 247.6,747.9 248,750.7 248.3,749.7 248.7,748.9 249.1,749.1 249.4,748.9 249.8,748.8 250.2,748.4 250.5,749.2 250.9,747 251.3,750.2 251.6,749.2 252,749.7 252.4,749.8 252.7,749.2 253.1,748.2 253.5,750 253.8,750 254.2,748.8 254.6,749 254.9,747.8 255.3,748.6" fill="none" stroke="#0a0a64" stroke-width="5.4" stroke-linejoin="round" stroke-linecap="round"/>
<polyline points="162.6,747.6 163.7,747.9 164.8,747.6 165.9,747.8 167,748.5 168.1,747.7 169.2,747.8 170.3,747.9 171.4,748 172.5,746.8 173.6,747.4 174.7,747.2 175.8,748.1 176.9,748.3 178,747.9 179.1,747.6 180.2,747.9 181.3,747.9 182.4,747.2 183.5,747.6 184.6,748.3 185.7,748 186.8,748.1 187.9,747.7 189,748.4 190.1,747.8 191.2,747.4 192.3,747.7 193.4,748.3 194.5,748.1 195.6,747.7 196.7,747.5 197.8,747.3 198.9,747.8 200,748.5 201.1,747 202.2,747.6 203.3,747.5 204.4,747.6 205.5,748.3 206.6,747.9 207.7,747.6 208.8,747.2 209.9,747.7 211,749.5 212.1,747.9 213.2,747.6 214.3,747 215.4,747.4 216.5,746.4 217.6,747 218.7,747 219.8,747.2 220.9,748.5 222,747.3 223.1,747.4 224.2,748 225.3,747.4 226.4,747.5 227.5,748 228.6,747.8 229.7,747.9 230.8,747.6 231.8,748 232.9,747.5 234,748.8 235.1,747.9 236.2,748.7 237.3,748 238.4,747.5 239.5,747.7 240.6,747.8 241.7,747.7 242.8,746.9 243.9,748.4 245,747.3 246.1,748.6 247.2,748 248.3,747.7 249.4,748.2 250.5,747.6 251.6,747.4 252.7,748.4 253.8,747.8 254.9,748" fill="none" stroke="#139013" stroke-width="1.0" stroke-dasharray="1.5 2.5"/>
<polyline points="162.6,752.1 163.7,751.1 164.8,751.5 165.9,750.3 167,751.5 168.1,750.1 169.2,751.3 170.3,750 171.4,750.8 172.5,750.8 173.6,750.6 174.7,750.6 175.8,750.3 176.9,750.1 178,751.2 179.1,751.7 180.2,752.5 181.3,751.3 182.4,750.6 183.5,750.8 184.6,751 185.7,751.2 186.8,751.4 187.9,751.2 189,750.8 190.1,752 191.2,750.6 192.3,751.8 193.4,751.1 194.5,751.4 195.6,751.3 196.7,751.6 197.8,751.7 198.9,751.2 200,751.6 201.1,749.7 202.2,751.3 203.3,751.4 204.4,751.4 205.5,751.6 206.6,752.4 207.7,751.2 208.8,750.9 209.9,751.9 211,751 212.1,751.7 213.2,751.1 214.3,750.9 215.4,750.8 216.5,750.8 217.6,751.4 218.7,750.6 219.8,751.3 220.9,750.9 222,750.7 223.1,751.2 224.2,751.8 225.3,750.7 226.4,751.7 227.5,751.5 228.6,751.7 229.7,750.6 230.8,751.1 231.8,752.3 232.9,750.6 234,749.9 235.1,750.1 236.2,751.4 237.3,751 238.4,750.8 239.5,750.6 240.6,751 241.7,751.7 242.8,750.6 243.9,750.7 245,751.8 246.1,751.3 247.2,750.9 248.3,751.1 249.4,750.8 250.5,750.6 251.6,750.8 252.7,751.1 253.8,751.8 254.9,750.7" fill="none" stroke="#139013" stroke-width="1.0" stroke-dasharray="1.5 2.5"/>
<polyline points="251.5,748.3 252.4,740.1 253.1,742.8 253.7,731.8 254.4,734.6 255.1,720.8 255.7,714.5 256.3,723.6 256.9,731.8 257.9,745.6 258.8,752.4 259.7,755.2 260.6,757.9" fill="none" stroke="#0a0af5" stroke-width="3.4" stroke-linejoin="miter" stroke-miterlimit="3"/>
<polyline points="252,753.8 252.9,745.6 253.6,748.3 254.3,737.3 255,740.1 255.7,726.3 256.3,720 256.8,729.1 257.5,737.3 258.4,751 259.3,757.9 260.2,760.7 261.2,763.4" fill="none" stroke="#0a0af5" stroke-width="2.4" stroke-linejoin="miter" stroke-miterlimit="3"/>
<polyline points="162.6,1021.9 163.1,1021.4 163.5,1023 164,1023 164.4,1021.8 164.9,1021.8 165.3,1022.7 165.8,1022.4 166.3,1023.6 166.7,1022.5 167.2,1023.7 167.6,1023.1 168.1,1023.1 168.6,1023.4 169,1024.8 169.5,1023.7 169.9,1022.7 170.4,1023.1 170.8,1023.3 171.3,1022.7 171.8,1022.4 172.2,1022.3 172.7,1023.7 173.1,1023 173.6,1023.3 174,1023.7 174.5,1024.2 175,1023.1 175.4,1023.7 175.9,1021.2 176.3,1023.1 176.8,1023.2 177.3,1023.3 177.7,1021.5 178.2,1023.8 178.6,1023.1 179.1,1023.6 179.5,1023.1 180,1023 180.5,1022.1 180.9,1024.2 181.4,1023 181.8,1021.7 182.3,1023.4 182.8,1023.2 183.2,1023.7 183.7,1025.2 184.1,1023.1 184.6,1022 185,1023.4 185.5,1024.5 186,1022.8 186.4,1022.9 186.9,1022.2 187.3,1022.3 187.8,1023.2 188.2,1022.7 188.7,1024.5 189.2,1022.1 189.6,1022.9 190.1,1022.1 190.5,1022.1 191,1023.3 191.5,1023.1 191.9,1023.7 192.4,1024.7 192.8,1023.1 193.3,1022.9 193.7,1023.9 194.2,1022.4 194.7,1022.9 195.1,1022.6 195.6,1023.6 196,1024.5 196.5,1022.4 196.9,1022.5 197.4,1023.1 197.9,1023.4 198.3,1023.2 198.8,1023.1 199.2,1023.4 199.7,1024.7 200.2,1022.4 200.6,1024.2 201.1,1023.3 201.5,1023.3 202,1022.8 202.4,1024.3 202.9,1022 203.4,1022.5 203.8,1022.4 204.3,1022 204.7,1023.7 205.2,1025.6 205.7,1022.7 206.1,1021.9 206.6,1022.1 207,1023.4 207.5,1023.1 207.9,1022.8 208.4,1024.5 208.9,1023.6 209.3,1023.5 209.8,1021.7 210.2,1023.5 210.7,1021.7 211.1,1023 211.6,1024.4 212.1,1021.2 212.5,1023.8 213,1022.5 213.4,1021.6 213.9,1023.4 214.4,1024 214.8,1022.1 215.3,1022.9 215.7,1024 216.2,1023.9 216.6,1023.3 217.1,1022.2 217.6,1023.2 218,1022.5 218.5,1021.6 218.9,1022 219.4,1021.8 219.8,1022 220.3,1024.3 220.8,1022 221.2,1022.7 221.7,1023.1 222.1,1023.9 222.6,1024.3 223.1,1023.9 223.5,1023 224,1024 224.4,1023.7 224.9,1023.5 225.3,1022.5 225.8,1023.2 226.3,1023.1 226.7,1021.9 227.2,1023.3 227.6,1022.5 228.1,1023.9 228.6,1022.7 229,1022.9 229.5,1022.9 229.9,1023.4 230.4,1023.8 230.8,1023.2 231.3,1023.4 231.8,1022.1 232.2,1022.3 232.7,1024 233.1,1022.5 233.6,1023.4 234,1022.6 234.5,1023.4 235,1024.2 235.4,1022.2 235.9,1022.6 236.3,1024 236.8,1024.6 237.3,1023.4 237.7,1024 238.2,1023.3 238.6,1022.5 239.1,1021.8 239.5,1023.3 240,1021.9 240.5,1022 240.9,1023.4 241.4,1024.4 241.8,1022.3 242.3,1022.5 242.8,1021.1 243.2,1021.8 243.7,1022.4 244.1,1021.6 244.6,1023.9 245,1022.8 245.5,1023.2 246,1021.6 246.4,1022.5 246.9,1025.5 247.3,1021.9 247.8,1023.7 248.2,1022.4 248.7,1023.4 249.2,1022.8 249.6,1022.5 250.1,1022.8 250.5,1023.8 251,1021.8 251.5,1022.7 251.9,1023 252.4,1022.4 252.8,1023.4 253.3,1021.4 253.7,1022.8 254.2,1022.7 254.7,1022.7" fill="none" stroke="#ff00ff" stroke-width="4.0" stroke-linejoin="round" stroke-linecap="round"/>
<polyline points="258.8,754 259.1,754.8 259.5,756.6 259.9,755.4 260.2,757.2 260.6,762.4 261,765.3 261.3,771 261.7,775.3 262.1,773.1 262.4,776.1 262.8,775.7 263.2,783.7 263.5,774 263.9,785 264.3,783 264.6,781.9 265,788.8 265.4,787.9 265.7,792.5 266.1,792.1 266.5,794.4 266.8,790.4 267.2,791 267.6,793.6 267.9,790.8 268.3,791.6 268.7,796.1 269,797.7 269.4,798.9 269.8,800.3 270.1,797.1 270.5,800.7 270.9,803.1 271.2,803.8 271.6,802.9 272,806.2 272.3,805.4 272.7,807.3 273.1,804.8 273.4,806.3 273.8,813.5 274.2,811.4 274.5,810.2 274.9,814 275.3,811.9 275.6,814 276,814.3 276.4,816.8 276.7,816.9 277.1,817.3 277.5,823.1 277.8,822.7 278.2,823.9 278.6,818.4 278.9,822.7 279.3,823.5 279.7,824.9 280,827.6 280.4,829.2 280.8,826.3 281.1,830.3 281.5,826.6 281.9,831 282.2,832.3 282.6,834.1 283,834.8 283.3,835.6 283.7,833.1 284.1,832.3 284.4,841.7 284.8,839.4 285.2,839.4 285.5,844.3 285.9,844.7 286.3,845.4 286.6,851.1 287,844.9 287.4,847.6 287.7,848.8 288.1,849.4 288.5,850 288.8,846.1 289.2,852.2 289.6,851.7 289.9,855.9 290.3,854.8 290.7,857.4 291,857.9 291.4,860.7 291.8,861.4 292.1,859.3 292.5,859.5 292.9,861 293.2,864.5 293.6,863 294,870.6 294.3,863.2 294.7,866.3 295.1,866.3 295.4,865 295.8,869.5 296.2,867 296.5,871 296.9,869.5 297.3,872.4 297.6,871.5 298,869.5 298.4,875.2 298.7,875.9 299.1,875.9 299.5,875.2 299.8,870.2 300.2,878.7 300.5,882.9 300.9,880.4 301.3,883.3 301.6,881.6 302,881 302.4,884 302.7,884.1 303.1,887.6 303.5,883.5 303.8,886.4 304.2,882.8 304.6,883.6 304.9,888.8 305.3,888.3 305.7,888.1 306,887.2 306.4,893.5 306.8,890.5 307.1,886.7 307.5,892 307.9,892 308.2,893.3 308.6,896.8 309,892.5 309.3,894.8 309.7,895.8 310.1,895.3 310.4,895.9 310.8,902.9 311.2,898.1 311.5,901.3 311.9,900.4 312.3,903.2 312.6,904.3 313,900.8 313.4,903.8 313.7,905.2 314.1,906 314.5,905.9 314.8,906.8 315.2,913 315.6,910.3 315.9,909.6 316.3,908.1 316.7,907.4 317,913.4 317.4,907.5 317.8,912.4 318.1,912.2 318.5,915.3 318.9,916.1 319.2,912.1 319.6,916.6 320,917 320.3,914.7 320.7,914.1 321.1,922.1 321.4,919.8 321.8,920 322.2,916.5 322.5,915.6 322.9,922 323.3,921.7 323.6,921.2 324,921.1 324.4,925.1 324.7,923 325.1,927.2 325.5,932.3 325.8,930 326.2,927 326.6,926.3 326.9,933.8 327.3,933.3 327.7,929.9 328,938.1 328.4,929.7 328.8,929.2 329.1,938.9 329.5,931 329.9,933.7 330.2,930.6 330.6,933.7 331,935.5 331.3,935.2 331.7,933.9 332.1,936.1 332.4,937 332.8,940.9 333.2,937.1 333.5,938.6 333.9,935 334.3,939.7 334.6,940.4 335,942.1 335.4,939.6 335.7,942.2 336.1,943.8 336.5,939.1 336.8,939.2 337.2,944.7 337.6,946.5 337.9,942.1 338.3,947 338.7,939.2 339,946.3 339.4,944.3 339.8,949.9 340.1,947.5 340.5,945.4 340.9,947.3 341.2,950 341.6,943.7 342,948 342.3,950.6 342.7,951.9 343.1,951.6 343.4,948.4 343.8,953.6 344.2,952.2 344.5,954.5 344.9,950.3 345.3,953.9 345.6,952 346,953.1 346.3,956.1 346.7,953.6 347.1,953.5 347.4,958.5 347.8,954.8 348.2,948.8 348.5,957.8 348.9,956.1 349.3,960.9 349.6,957.3 350,960 350.4,957.3 350.7,959.5 351.1,962.4 351.5,957.7 351.8,961 352.2,963.2 352.6,961.1 352.9,963.8 353.3,961.1 353.7,962.5 354,963.5 354.4,961.6 354.8,966.3 355.1,961.6 355.5,968.6 355.9,960.8 356.2,964.4 356.6,965.7 357,967.1 357.3,964.6 357.7,966.5 358.1,966.8 358.4,964.5 358.8,968.1 359.2,967.9 359.5,966.8 359.9,965.7 360.3,968.7 360.6,968.3 361,968.9 361.4,967.6 361.7,966.3 362.1,972 362.5,970.5 362.8,970.6 363.2,969.5 363.6,967.8 363.9,971.5 364.3,971.2 364.7,969.5 365,975.1 365.4,974.3 365.8,973.9 366.1,973.2 366.5,972.9 366.9,974.9 367.2,970.1 367.6,975.9 368,975 368.3,972.4 368.7,973.4 369.1,975.4 369.4,974.9 369.8,974.1 370.2,976.3 370.5,975.1 370.9,978.8 371.3,976.9 371.6,981 372,979.6 372.4,980.4 372.7,975.3 373.1,979.4 373.5,978 373.8,980.9 374.2,979.6 374.6,980 374.9,981.5 375.3,978 375.7,983.8 376,979 376.4,974.7 376.8,982.7 377.1,981 377.5,984.8 377.9,981.6 378.2,985.7 378.6,980.7 379,983.4 379.3,986.6 379.7,985.6 380.1,986.5 380.4,983.8 380.8,981.5 381.2,984.5 381.5,986.4 381.9,985.9 382.3,984 382.6,989.9 383,983.4 383.4,984 383.7,990.5 384.1,982.7 384.5,989.1 384.8,986.1 385.2,983.3 385.6,989.7 385.9,990.3 386.3,988.9 386.7,989 387,987.1 387.4,988.1 387.8,988.2 388.1,988.4 388.5,987.9 388.9,989.6 389.2,987.1 389.6,988 390,990.4 390.3,984.4 390.7,991.4 391.1,987.1 391.4,990.5 391.8,988.3 392.1,988.1 392.5,987.5 392.9,986.4 393.2,991.6 393.6,983.6 394,989.2 394.3,992.1 394.7,993.4 395.1,985.5 395.4,987.2 395.8,991 396.2,989.5 396.5,988.4 396.9,991.3 397.3,992.6 397.6,992 398,990.2 398.4,992.2 398.7,995.2 399.1,991 399.5,996.6 399.8,994.7 400.2,990.5 400.6,992.9 400.9,993.1 401.3,993.6 401.7,991.8 402,994.3 402.4,998.7 402.8,994.1 403.1,1001.5 403.5,999.5 403.9,991.7 404.2,993.1 404.6,996.6 405,995.9 405.3,995.7 405.7,993.9 406.1,998 406.4,998.4 406.8,998 407.2,996.5 407.5,996.4 407.9,998.1 408.3,995.7 408.6,999.8 409,997.9 409.4,999.4 409.7,1000.2 410.1,995.5 410.5,999 410.8,1000.7 411.2,998.5 411.6,1001 411.9,997.6 412.3,997.2 412.7,997 413,1001.6 413.4,999.8 413.8,995.6 414.1,1000.2 414.5,997.1 414.9,996.7 415.2,1003.2 415.6,997.6 416,998.8 416.3,998.6 416.7,997 417.1,999.8 417.4,1000.7 417.8,999.7 418.2,1001.9 418.5,1000.2 418.9,1005.8 419.3,997.8 419.6,1002.8 420,1000.6 420.4,1001.2 420.7,1001.8 421.1,1001.9 421.5,1002.1 421.8,1005.9 422.2,1003.7 422.6,1000 422.9,1004.9 423.3,1005.1 423.7,998.4 424,1000.5 424.4,999.8 424.8,1003.3 425.1,1002.8 425.5,1001.9 425.9,1002.4 426.2,1004 426.6,1007.1 427,1005.6 427.3,1007.4 427.7,1000.9 428.1,1005.2 428.4,1004.9 428.8,1004 429.2,1004.7 429.5,1003.7 429.9,1006.3 430.3,1008.4 430.6,1001.4 431,1006.8 431.4,1006.4 431.7,1007.3 432.1,1006.8 432.5,1005.7 432.8,1004.3 433.2,1008.3 433.6,1005.5 433.9,1007.7 434.3,1003.8 434.7,1009.1 435,1006.3 435.4,1005.1 435.8,1009.7 436.1,1006.6 436.5,1006.7 436.9,1008.8 437.2,1007.6 437.6,1005.2 437.9,1006.9 438.3,1008.4 438.7,1008 439,1006.7 439.4,1005.1 439.8,1006.2 440.1,1006.4 440.5,1004.7 440.9,1011.4 441.2,1011.3 441.6,1013.1 442,1006.6 442.3,1013.4 442.7,1008.7 443.1,1007.1 443.4,1011.7 443.8,1010.3 444.2,1009.5 444.5,1007.5 444.9,1012.3 445.3,1008.5 445.6,1007.8 446,1009.1 446.4,1009.1 446.7,1006.9 447.1,1009.2 447.5,1009.8 447.8,1010.5 448.2,1008.5 448.6,1010.6 448.9,1008.7 449.3,1009.9 449.7,1007.8 450,1011.9 450.4,1010.2 450.8,1009.7 451.1,1009.7 451.5,1008.2 451.9,1009.9 452.2,1008.9 452.6,1006.7 453,1009.1 453.3,1013.2 453.7,1014.1 454.1,1009.7 454.4,1012 454.8,1010.7 455.2,1011.7 455.5,1008.7 455.9,1009 456.3,1013.9 456.6,1011.1 457,1012.4 457.4,1014.5 457.7,1010.5 458.1,1012.3 458.5,1011.1 458.8,1006.9 459.2,1009.4 459.6,1009.9 459.9,1013.2 460.3,1014.8 460.7,1009.8 461,1013.1 461.4,1012.5 461.8,1013.4 462.1,1012.5 462.5,1007.8 462.9,1013.5 463.2,1013.5 463.6,1012.6 464,1012.5 464.3,1015.6 464.7,1016.9 465.1,1014.5 465.4,1013.8 465.8,1015 466.2,1015.5 466.5,1015.5 466.9,1014.4 467.3,1013.9 467.6,1017.1 468,1014.9 468.4,1013.1 468.7,1014.2 469.1,1016.8 469.5,1014.8 469.8,1014.1 470.2,1012.6 470.6,1017.6 470.9,1012.9 471.3,1015.3 471.7,1014 472,1013 472.4,1016.3 472.8,1016.2 473.1,1014.9 473.5,1013.2 473.9,1015.9 474.2,1017.7 474.6,1016.3 475,1014.1 475.3,1012.6 475.7,1016.1 476.1,1015.8 476.4,1015.5 476.8,1015.5 477.2,1017.2 477.5,1016.2 477.9,1014.9 478.3,1015.2 478.6,1015.4 479,1017.6 479.4,1016.7 479.7,1017.1 480.1,1013.5 480.5,1012.8 480.8,1015.1 481.2,1012.6 481.6,1016.5 481.9,1016.5 482.3,1018.7 482.7,1015.6 483,1017 483.4,1016 483.7,1015.2 484.1,1016.7 484.5,1018.6 484.8,1016.4 485.2,1016.5 485.6,1016.4 485.9,1015.1 486.3,1017 486.7,1017.1 487,1013.1 487.4,1014.5 487.8,1016.9 488.1,1018.7 488.5,1017.7 488.9,1016.1 489.2,1015.2 489.6,1012 490,1017.5 490.3,1016.7 490.7,1017.8 491.1,1016.9 491.4,1017.9 491.8,1019.3 492.2,1015.1 492.5,1017 492.9,1014.7 493.3,1018.3 493.6,1016.8 494,1016.1 494.4,1021.3 494.7,1020.2 495.1,1016 495.5,1017.4 495.8,1021.3 496.2,1019.1 496.6,1019.8 496.9,1018.7 497.3,1014.6 497.7,1018.9 498,1013.7 498.4,1018.4 498.8,1019.4 499.1,1014.8 499.5,1016 499.9,1015.2 500.2,1014.1 500.6,1015.9 501,1015.6 501.3,1021.6 501.7,1019.8 502.1,1017.3 502.4,1017.8 502.8,1016.8 503.2,1019.2 503.5,1016.1 503.9,1014.3 504.3,1017.2 504.6,1016.7 505,1017.4 505.4,1016.6 505.7,1018 506.1,1019.5 506.5,1018.1 506.8,1018.4 507.2,1021.7 507.6,1018.2 507.9,1018.6 508.3,1018.3 508.7,1019.8 509,1017.8 509.4,1017.5 509.8,1020.2 510.1,1018.2 510.5,1017.3 510.9,1017.4 511.2,1020.8 511.6,1021 512,1019 512.3,1021.2 512.7,1014 513.1,1020.7 513.4,1020.8 513.8,1017.9 514.2,1020.2 514.5,1024 514.9,1019.6 515.3,1021.3 515.6,1020.4 516,1022.7 516.4,1021.3 516.7,1019.8 517.1,1019.7 517.5,1021.8 517.8,1021 518.2,1021.3 518.6,1019.4 518.9,1020 519.3,1022.2 519.7,1018.5 520,1021.2 520.4,1019 520.8,1021.7 521.1,1019.3 521.5,1020.1 521.9,1019.8 522.2,1019 522.6,1019.1 523,1019.7 523.3,1019.7 523.7,1022.6 524.1,1020.2 524.4,1024.5 524.8,1024.6 525.2,1020.8 525.5,1020.6 525.9,1017.2 526.3,1018.9 526.6,1018.1 527,1020.9 527.4,1019.4 527.7,1018 528.1,1019.3 528.5,1019.7 528.8,1020.2 529.2,1022.3 529.5,1022.2 529.9,1023.3 530.3,1019.7 530.6,1021 531,1021.9 531.4,1019.8 531.7,1021.7 532.1,1018.5 532.5,1016.8 532.8,1019.7 533.2,1022 533.6,1023.7 533.9,1016.7 534.3,1019.8 534.7,1023.1 535,1018.6 535.4,1024.1 535.8,1021.7 536.1,1021.3 536.5,1021.6 536.9,1023.2 537.2,1016.1 537.6,1021.7 538,1020.2 538.3,1020.9 538.7,1024.2 539.1,1022.1 539.4,1020.7 539.8,1019.2 540.2,1021.8 540.5,1020.4 540.9,1021.8 541.3,1020 541.6,1026.2 542,1020 542.4,1022.5 542.7,1022.4 543.1,1027 543.5,1023.5 543.8,1020.1 544.2,1016.8 544.6,1022.8 544.9,1022.7 545.3,1020.5 545.7,1020.9 546,1022.7 546.4,1021.9 546.8,1022.3 547.1,1020.3 547.5,1020 547.9,1018.1 548.2,1019.8 548.6,1020.3 549,1021.4 549.3,1019.8 549.7,1023.7 550.1,1017.4 550.4,1021.2 550.8,1019 551.2,1023.4 551.5,1019.8 551.9,1021.1 552.3,1022.2 552.6,1023.2 553,1023.7 553.4,1018.3 553.7,1019.5 554.1,1021.8 554.5,1021.6 554.8,1023.5 555.2,1025.7 555.6,1025.7 555.9,1023.3 556.3,1022.4 556.7,1024.5 557,1020.6 557.4,1021.1 557.8,1021.9 558.1,1025.7 558.5,1022.7 558.9,1022.3 559.2,1024.8 559.6,1026.7 560,1018.5 560.3,1021.1 560.7,1023.1 561.1,1019.2 561.4,1020.2 561.8,1021.5 562.2,1022 562.5,1020.9 562.9,1019.5 563.3,1022.4 563.6,1023 564,1021.4 564.4,1028.2 564.7,1022.4 565.1,1023.4 565.5,1022.6 565.8,1023 566.2,1022 566.6,1022.5 566.9,1022.5 567.3,1023 567.7,1021.8 568,1023.7 568.4,1020.8 568.8,1026.1 569.1,1022.4 569.5,1021.9 569.9,1025.4 570.2,1023.7 570.6,1020.2 571,1023.1 571.3,1024.6 571.7,1028.9 572.1,1022.2 572.4,1022.7 572.8,1021.7 573.2,1018.8 573.5,1023 573.9,1022.7 574.3,1024.4 574.6,1023.1 575,1023.1 575.3,1021.5 575.7,1021.9 576.1,1024.6 576.4,1024 576.8,1020.3 577.2,1025 577.5,1021.6 577.9,1019.9 578.3,1021.8 578.6,1022.6 579,1020.4 579.4,1022.5 579.7,1023.2 580.1,1023.6 580.5,1020.9 580.8,1021.8 581.2,1020.1 581.6,1023.9 581.9,1023.9 582.3,1024.1 582.7,1022.7 583,1024.7 583.4,1021.4 583.8,1022.6 584.1,1025.3 584.5,1029.2 584.9,1027 585.2,1020.5 585.6,1023.5 586,1023.1 586.3,1024.2 586.7,1022.6 587.1,1027.2 587.4,1027.4 587.8,1026.7 588.2,1023.3 588.5,1022.1 588.9,1022.5 589.3,1023.7 589.6,1026 590,1021.9 590.4,1024.1 590.7,1023.6 591.1,1023.7 591.5,1024.5 591.8,1025 592.2,1024.8 592.6,1026.2 592.9,1023.1 593.3,1024 593.7,1021.6 594,1027.2 594.4,1021.3 594.8,1023.8 595.1,1024 595.5,1025.3 595.9,1025.3 596.2,1026.7 596.6,1021.9 597,1024.1 597.3,1022.3 597.7,1022.1 598.1,1024.7 598.4,1024.2 598.8,1024.4 599.2,1021.7 599.5,1023.5 599.9,1023.5 600.3,1022.4 600.6,1024 601,1019.7 601.4,1025.7 601.7,1021.3 602.1,1021.1 602.5,1026.1 602.8,1022.1 603.2,1023.3 603.6,1022.2 603.9,1026.3 604.3,1023.4 604.7,1025.9 605,1024.6 605.4,1021.1 605.8,1024.2 606.1,1028.4 606.5,1026.7 606.9,1026.2 607.2,1022 607.6,1025.4 608,1027.1 608.3,1021.8 608.7,1023.5 609.1,1023.3 609.4,1025.6 609.8,1021.2 610.2,1024.3 610.5,1028 610.9,1026.3 611.3,1025.7 611.6,1024.4 612,1022.6 612.4,1025.5 612.7,1025.3 613.1,1019.7 613.5,1024 613.8,1025.2 614.2,1024.1 614.6,1026.6 614.9,1023.1 615.3,1022.2 615.7,1025.3 616,1022.2 616.4,1024.8 616.8,1023.6 617.1,1025.7 617.5,1025.8 617.9,1027.2 618.2,1023.8 618.6,1024.8 619,1024.7 619.3,1026.5 619.7,1026.6 620.1,1025.5 620.4,1023.3 620.8,1023.7 621.1,1025.6 621.5,1023.7 621.9,1020.8 622.2,1024.1 622.6,1020.3 623,1023.5 623.3,1021.7 623.7,1025.4 624.1,1022 624.4,1026.7 624.8,1023.9 625.2,1025 625.5,1028.3 625.9,1027.1 626.3,1022.1 626.6,1023.4 627,1021.8 627.4,1024 627.7,1030.2 628.1,1023.9 628.5,1025.6 628.8,1025.4 629.2,1025.3 629.6,1026 629.9,1026.4 630.3,1022 630.7,1023.6 631,1025.8 631.4,1025.3 631.8,1022.6 632.1,1023.7 632.5,1024.1 632.9,1026.9 633.2,1025.4 633.6,1026.8 634,1028.3 634.3,1022.8 634.7,1025.2 635.1,1025.4 635.4,1026.5 635.8,1023.1 636.2,1020.4 636.5,1023.4 636.9,1022.7 637.3,1027 637.6,1024.2 638,1024.2 638.4,1021.7 638.7,1024.6 639.1,1026.5 639.5,1024.7 639.8,1025.5 640.2,1021.8 640.6,1023.3 640.9,1024 641.3,1024.3 641.7,1023 642,1025.6 642.4,1026.5 642.8,1028.4 643.1,1022.3 643.5,1023.7 643.9,1023.4 644.2,1024.6 644.6,1021.4 645,1026.6 645.3,1022.3 645.7,1026.4 646.1,1025.6 646.4,1027.1 646.8,1024.5 647.2,1025.3 647.5,1023.9 647.9,1025.9 648.3,1027.5 648.6,1023.6 649,1022.2 649.4,1023.3 649.7,1024.9 650.1,1024 650.5,1028.1 650.8,1025.4 651.2,1022.5 651.6,1023.9 651.9,1026.5 652.3,1023.1 652.7,1025.1 653,1023.4 653.4,1027.6 653.8,1025.8 654.1,1024.2 654.5,1024.2 654.9,1023.7 655.2,1024.8 655.6,1025.2 656,1023.9 656.3,1023.1 656.7,1027.8 657.1,1025.5 657.4,1025.2 657.8,1024.5 658.2,1022.9 658.5,1027.5 658.9,1023.8 659.3,1028.3 659.6,1026.3 660,1025.9 660.4,1025.4 660.7,1026.1 661.1,1025.9 661.5,1025.5 661.8,1025.4 662.2,1028.5 662.6,1027.6 662.9,1025.7 663.3,1023.9 663.7,1022.9 664,1019.3 664.4,1024.7 664.8,1026.4 665.1,1024.6 665.5,1023.6 665.9,1024.6 666.2,1027 666.6,1025.1 666.9,1025 667.3,1027.7 667.7,1027.3 668,1022.6 668.4,1029.3 668.8,1024.6 669.1,1025.4 669.5,1022.2 669.9,1023.7 670.2,1026.6 670.6,1022.5 671,1026 671.3,1021.1 671.7,1021.7 672.1,1025.1 672.4,1023.4 672.8,1024.6 673.2,1026.7 673.5,1022.9 673.9,1024.1 674.3,1023.3 674.6,1022.9 675,1022.2 675.4,1022.9 675.7,1025.1 676.1,1024.8 676.5,1024.2 676.8,1025.2 677.2,1025.4 677.6,1021.3 677.9,1024 678.3,1021.3 678.7,1026.5 679,1025.1 679.4,1025.8 679.8,1025.7 680.1,1025.5 680.5,1025.2 680.9,1025.8 681.2,1021.5 681.6,1023.7 682,1026.4 682.3,1026.1 682.7,1023.5 683.1,1023.9 683.4,1026.2 683.8,1023.2 684.2,1027.8 684.5,1025.9 684.9,1021.6 685.3,1030.1 685.6,1025.4 686,1023.1 686.4,1025.3 686.7,1026.5 687.1,1026.8 687.5,1029.1 687.8,1027.6 688.2,1024.9 688.6,1026.1 688.9,1025.1 689.3,1025.3 689.7,1024.5 690,1028.3 690.4,1025.6 690.8,1025.7 691.1,1025.7 691.5,1026.8 691.9,1029.3 692.2,1023.8 692.6,1023.5 693,1020.5 693.3,1023.6 693.7,1021.9 694.1,1023.9 694.4,1025.8 694.8,1024.1 695.2,1027.3 695.5,1024.6 695.9,1025.3 696.3,1027.1 696.6,1022.7 697,1022.9 697.4,1024.2 697.7,1023.5 698.1,1021.9 698.5,1025.4 698.8,1027.7 699.2,1027 699.6,1023.7 699.9,1024.7 700.3,1028 700.7,1022.5 701,1024.7 701.4,1022 701.8,1022.9 702.1,1026 702.5,1024.9 702.9,1026.5 703.2,1026.7 703.6,1025.7 704,1024.1 704.3,1022.5 704.7,1026.9 705.1,1023.8 705.4,1025 705.8,1025.6 706.2,1022.9 706.5,1025.8 706.9,1022.4 707.3,1025.8 707.6,1026.9 708,1023.6 708.4,1028 708.7,1027.4 709.1,1025.5 709.5,1025.1 709.8,1025.7 710.2,1029 710.6,1027.7 710.9,1024.1 711.3,1024.1 711.7,1027.1 712,1024.6" fill="none" stroke="#0a0af5" stroke-width="5.2" stroke-linejoin="miter" stroke-miterlimit="3"/>
<polyline points="258.8,753.4 259.1,751.9 259.5,759.5 259.9,753.7 260.2,762.3 260.6,759 261,763.8 261.3,773.5 261.7,773.6 262.1,773.4 262.4,772.5 262.8,782.5 263.2,780.9 263.5,778.3 263.9,780.1 264.3,786.7 264.6,787.3 265,783.8 265.4,790 265.7,786.6 266.1,785.3 266.5,789.4 266.8,799.9 267.2,787.5 267.6,788.7 267.9,788.8 268.3,791.9 268.7,801.8 269,792.1 269.4,796.9 269.8,795.8 270.1,800.7 270.5,802 270.9,803 271.2,797.6 271.6,803.2 272,805.8 272.3,810.5 272.7,805.4 273.1,808 273.4,808.4 273.8,806.5 274.2,808.4 274.5,811.8 274.9,812 275.3,813.4 275.6,812.2 276,813.2 276.4,816.1 276.7,820.5 277.1,815.5 277.5,816.3 277.8,824.1 278.2,820 278.6,823.6 278.9,830.8 279.3,824.4 279.7,822 280,828.8 280.4,829.7 280.8,824.8 281.1,833.1 281.5,833.6 281.9,832.5 282.2,830.3 282.6,831.3 283,836.4 283.3,836.7 283.7,836.4 284.1,839.1 284.4,841.8 284.8,843.7 285.2,838.6 285.5,842.8 285.9,833.4 286.3,842.1 286.6,847.9 287,846.4 287.4,846.3 287.7,847.1 288.1,848 288.5,849 288.8,852.1 289.2,850.4 289.6,846.2 289.9,856.1 290.3,856.9 290.7,854.2 291,853.3 291.4,855.7 291.8,855.3 292.1,860.5 292.5,862 292.9,859.8 293.2,860.6 293.6,858.1 294,859.3 294.3,871.6 294.7,863.5 295.1,869.2 295.4,874.8 295.8,867.1 296.2,869.8 296.5,871.1 296.9,875.1 297.3,874.9 297.6,872.9 298,878 298.4,874 298.7,874 299.1,875.7 299.5,874.9 299.8,876.9 300.2,881.3 300.5,881.6 300.9,878.4 301.3,876.4 301.6,879.8 302,882.7 302.4,881.2 302.7,888.6 303.1,886.6 303.5,885.2 303.8,884.9 304.2,886.5 304.6,887 304.9,890.8 305.3,889.5 305.7,887.4 306,895.1 306.4,893.7 306.8,891.6 307.1,886.2 307.5,889.6 307.9,887.4 308.2,888.9 308.6,895.6 309,895 309.3,899.5 309.7,892.4 310.1,894.6 310.4,895.8 310.8,896.4 311.2,897.8 311.5,899.4 311.9,899.9 312.3,897.6 312.6,905 313,906.6 313.4,903.9 313.7,900.8 314.1,904.6 314.5,906.8 314.8,904.2 315.2,907.3 315.6,914.7 315.9,912.5 316.3,916.8 316.7,911.4 317,912.8 317.4,910.6 317.8,905.8 318.1,915.5 318.5,914.2 318.9,916.1 319.2,924.8 319.6,918.7 320,919.3 320.3,916.6 320.7,921 321.1,923.1 321.4,917.6 321.8,920.4 322.2,923.7 322.5,923.9 322.9,923 323.3,920 323.6,918.7 324,928.2 324.4,920.7 324.7,925 325.1,924.6 325.5,923.2 325.8,930.2 326.2,924.8 326.6,932.5 326.9,930.4 327.3,932.2 327.7,924.5 328,925.3 328.4,928.7 328.8,930.1 329.1,934.1 329.5,927.2 329.9,928.9 330.2,931.1 330.6,935 331,936.3 331.3,936 331.7,931.9 332.1,939.9 332.4,937 332.8,932.6 333.2,935.5 333.5,933.3 333.9,938.1 334.3,938.6 334.6,936 335,938.8 335.4,940.3 335.7,943.6 336.1,947.2 336.5,938.1 336.8,944.7 337.2,946.3 337.6,941.6 337.9,947.7 338.3,949.7 338.7,947.6 339,946.4 339.4,945.8 339.8,945.5 340.1,944.5 340.5,948.4 340.9,947.3 341.2,949.3 341.6,951.5 342,948.6 342.3,949.2 342.7,944.8 343.1,949.2 343.4,953.8 343.8,950.1 344.2,953.3 344.5,947.8 344.9,958.7 345.3,955.8 345.6,956.2 346,954.2 346.3,955.4 346.7,960.4 347.1,961.7 347.4,955.6 347.8,951.9 348.2,952.3 348.5,958.6 348.9,956.3 349.3,960.9 349.6,963.1 350,955 350.4,957.1 350.7,960.7 351.1,961.2 351.5,957.4 351.8,959.7 352.2,962.1 352.6,960.6 352.9,961.8 353.3,963.5 353.7,964.8 354,959.9 354.4,964.7 354.8,967.3 355.1,958.2 355.5,960.3 355.9,962.9 356.2,965.1 356.6,964.7 357,970.2 357.3,966 357.7,965.4 358.1,967.2 358.4,965.6 358.8,969.7 359.2,967 359.5,972.8 359.9,968.3 360.3,970.5 360.6,973 361,970.4 361.4,969.4 361.7,971.7 362.1,967.2 362.5,972.6 362.8,967.8 363.2,968.8 363.6,973.2 363.9,967.2 364.3,976.2 364.7,970.6 365,972.3 365.4,970.4 365.8,978 366.1,977.1 366.5,976.3 366.9,973.9 367.2,974 367.6,974.5 368,975.7 368.3,977.3 368.7,979.7 369.1,977 369.4,974.3 369.8,973.1 370.2,978.1 370.5,973.5 370.9,981.3 371.3,974.9 371.6,981 372,977.1 372.4,981.1 372.7,981.4 373.1,980.3 373.5,974.5 373.8,981.2 374.2,977.5 374.6,979.2 374.9,979 375.3,979.2 375.7,978.5 376,984.4 376.4,980.7 376.8,980 377.1,983.2 377.5,980.5 377.9,985 378.2,979.8 378.6,984.4 379,983.4 379.3,980.3 379.7,979.6 380.1,984.9 380.4,985.3 380.8,980.6 381.2,992.6 381.5,979.9 381.9,980.2 382.3,987.7 382.6,981 383,983.7 383.4,983.6 383.7,992.3 384.1,986.9 384.5,986.2 384.8,987 385.2,987.1 385.6,987 385.9,995.1 386.3,987.1 386.7,988.8 387,987.1 387.4,988.6 387.8,987.2 388.1,986.5 388.5,982.1 388.9,990.3 389.2,982.8 389.6,988.8 390,991 390.3,992.9 390.7,986 391.1,993.4 391.4,986.2 391.8,988.1 392.1,991 392.5,991.5 392.9,988.2 393.2,989.4 393.6,987.8 394,990.2 394.3,991.9 394.7,988.9 395.1,994.4 395.4,988.3 395.8,990.9 396.2,994.7 396.5,994.6 396.9,992.7 397.3,997.4 397.6,987.8 398,989.3 398.4,995.8 398.7,993 399.1,987.7 399.5,991.8 399.8,996.3 400.2,1000 400.6,998.6 400.9,990.2 401.3,993 401.7,998.2 402,992.2 402.4,995.7 402.8,996.8 403.1,996.5 403.5,996.6 403.9,990.2 404.2,998.4 404.6,996.9 405,991.8 405.3,991.5 405.7,999.3 406.1,990.2 406.4,993.3 406.8,1001.3 407.2,991.5 407.5,1001.7 407.9,995.3 408.3,1001 408.6,1003.1 409,995.2 409.4,996.7 409.7,998.4 410.1,997.7 410.5,998.8 410.8,999.4 411.2,1002 411.6,997.1 411.9,999 412.3,1000 412.7,1001.1 413,1000.3 413.4,1004.3 413.8,1000.7 414.1,1002.9 414.5,996.1 414.9,1003.1 415.2,1001.7 415.6,1000.4 416,998.1 416.3,999.3 416.7,1000.8 417.1,994.4 417.4,1001.1 417.8,1000.2 418.2,993 418.5,1004.2 418.9,998.6 419.3,1000.3 419.6,1005.8 420,1003.8 420.4,999.5 420.7,1006.6 421.1,1002.9 421.5,999.6 421.8,1003.3 422.2,1001.8 422.6,1004.8 422.9,1004.8 423.3,1004.9 423.7,1004.2 424,1001.3 424.4,1003.1 424.8,997.5 425.1,1001.9 425.5,1002.9 425.9,997 426.2,1004.3 426.6,1006.5 427,1003.7 427.3,1007.6 427.7,1002.8 428.1,1000.4 428.4,1002.7 428.8,1006 429.2,1005.3 429.5,1003.5 429.9,1001.5 430.3,1006.4 430.6,1006.6 431,1002.1 431.4,1004.9 431.7,1004.6 432.1,1004.3 432.5,1008.2 432.8,1006.4 433.2,1002.9 433.6,1006.7 433.9,1006.9 434.3,1005.5 434.7,1005.3 435,998.9 435.4,1009.2 435.8,1006.4 436.1,1000.8 436.5,1006.9 436.9,1006 437.2,1011.6 437.6,1004.4 437.9,1004.8 438.3,1005 438.7,1008.2 439,1006.6 439.4,1008 439.8,1005.3 440.1,1008 440.5,1005.7 440.9,1012.2 441.2,1009.2 441.6,1016.9 442,1008.9 442.3,1006.2 442.7,1009.4 443.1,1001.6 443.4,1011.8 443.8,1009.9 444.2,1011.7 444.5,1010.5 444.9,1010.5 445.3,1013.6 445.6,1012.2 446,1003.3 446.4,1010.2 446.7,1006.8 447.1,1013.4 447.5,1010.1 447.8,1008.2 448.2,1010.4 448.6,1011.5 448.9,1010.6 449.3,1010 449.7,1007.7 450,1006.7 450.4,1014.3 450.8,1016.6 451.1,1011.1 451.5,1010.6 451.9,1008.5 452.2,1007.6 452.6,1012.8 453,1004.7 453.3,1010.2 453.7,1016.4 454.1,1008.3 454.4,1010.4 454.8,1010.4 455.2,1016.1 455.5,1012.4 455.9,1011 456.3,1012.1 456.6,1009.6 457,1008 457.4,1007.3 457.7,1008.1 458.1,1012.4 458.5,1006.9 458.8,1011.3 459.2,1009.6 459.6,1013 459.9,1016.5 460.3,1019.1 460.7,1011.9 461,1014.5 461.4,1012.6 461.8,1010 462.1,1017.3 462.5,1018 462.9,1012.1 463.2,1011.8 463.6,1013.8 464,1014.6 464.3,1017.9 464.7,1013.4 465.1,1015.5 465.4,1012 465.8,1010.5 466.2,1015.1 466.5,1012.3 466.9,1013 467.3,1011.5 467.6,1009.1 468,1011.8 468.4,1011.7 468.7,1011.5 469.1,1015.2 469.5,1014 469.8,1013 470.2,1010.4 470.6,1010.3 470.9,1007.5 471.3,1017.5 471.7,1014.5 472,1019.5 472.4,1016 472.8,1019.4 473.1,1011.1 473.5,1012.4 473.9,1017.9 474.2,1013.7 474.6,1012.6 475,1009.7 475.3,1012.4 475.7,1014.6 476.1,1015.3 476.4,1013.2 476.8,1014.2 477.2,1016.6 477.5,1018.8 477.9,1012.1 478.3,1017.5 478.6,1016.2 479,1013.1 479.4,1015.7 479.7,1012.2 480.1,1018.9 480.5,1013.4 480.8,1019.6 481.2,1020.2 481.6,1018.9 481.9,1015.5 482.3,1017.9 482.7,1020 483,1012.5 483.4,1018.9 483.7,1016.4 484.1,1015.4 484.5,1017.6 484.8,1015.2 485.2,1014.5 485.6,1016.6 485.9,1013.3 486.3,1018.2 486.7,1019.6 487,1015.9 487.4,1019.4 487.8,1015.5 488.1,1017 488.5,1018.1 488.9,1015.1 489.2,1015.2 489.6,1025.6 490,1017.9 490.3,1016.5 490.7,1015.6 491.1,1018.7 491.4,1020.5 491.8,1016.8 492.2,1015.2 492.5,1023.3 492.9,1021.7 493.3,1019 493.6,1025 494,1019.2 494.4,1015 494.7,1020.6 495.1,1017.1 495.5,1020.2 495.8,1016.4 496.2,1015.7 496.6,1013.8 496.9,1017.5 497.3,1014.7 497.7,1016.6 498,1019.2 498.4,1013.5 498.8,1019.7 499.1,1017.4 499.5,1010.8 499.9,1015.5 500.2,1020.5 500.6,1017.2 501,1019.8 501.3,1018.6 501.7,1022.6 502.1,1017.6 502.4,1022.8 502.8,1017.2 503.2,1017.2 503.5,1015.9 503.9,1011.9 504.3,1023.3 504.6,1022 505,1021.4 505.4,1020.2 505.7,1016 506.1,1019.6 506.5,1020.4 506.8,1022 507.2,1020.6 507.6,1020 507.9,1019.1 508.3,1023 508.7,1019.1 509,1017.2 509.4,1017.9 509.8,1022.6 510.1,1016.5 510.5,1016.6 510.9,1018.1 511.2,1022.6 511.6,1023.4 512,1019 512.3,1022.1 512.7,1023.1 513.1,1016.6 513.4,1016.5 513.8,1017.4 514.2,1015.4 514.5,1016.6 514.9,1022.7 515.3,1016 515.6,1019 516,1018.1 516.4,1014.8 516.7,1018.2 517.1,1014.9 517.5,1019.3 517.8,1020.7 518.2,1021.6 518.6,1020 518.9,1024.6 519.3,1019.8 519.7,1020 520,1021.3 520.4,1026.3 520.8,1026 521.1,1017.7 521.5,1022.6 521.9,1015.8 522.2,1021.9 522.6,1018.8 523,1024.1 523.3,1021.8 523.7,1020.6 524.1,1018.3 524.4,1015.1 524.8,1017.2 525.2,1024.3 525.5,1020.1 525.9,1020.6 526.3,1022 526.6,1018.4 527,1015.6 527.4,1021.5 527.7,1017 528.1,1016.2 528.5,1023.4 528.8,1015.1 529.2,1015.4 529.5,1019.5 529.9,1015.4 530.3,1019.7 530.6,1017.1 531,1018.5 531.4,1023 531.7,1019.7 532.1,1021 532.5,1022 532.8,1023.9 533.2,1022.9 533.6,1024.2 533.9,1017.3 534.3,1026.4 534.7,1020.5 535,1022.5 535.4,1024.4 535.8,1018.7 536.1,1023.1 536.5,1017.3 536.9,1021.4 537.2,1019.9 537.6,1021.3 538,1019 538.3,1018.2 538.7,1022.3 539.1,1021 539.4,1015.9 539.8,1022.7 540.2,1015.8 540.5,1022.3 540.9,1022.8 541.3,1026.1 541.6,1023.7 542,1026.3 542.4,1022.9 542.7,1019.2 543.1,1021.5 543.5,1023.1 543.8,1024.3 544.2,1023.4 544.6,1025.6 544.9,1025.1 545.3,1015.8 545.7,1020.7 546,1024.1 546.4,1019.5 546.8,1017.2 547.1,1023.4 547.5,1021.9 547.9,1025.3 548.2,1026.3 548.6,1017.6 549,1011.7 549.3,1023.8 549.7,1026.4 550.1,1017.6 550.4,1018.7 550.8,1020.4 551.2,1017.5 551.5,1022.8 551.9,1021 552.3,1019.6 552.6,1022.8 553,1020.5 553.4,1022.6 553.7,1020.6 554.1,1021.5 554.5,1027.8 554.8,1021.8 555.2,1026.2 555.6,1024.6 555.9,1026.9 556.3,1019.8 556.7,1023.1 557,1023.3 557.4,1018.6 557.8,1020.1 558.1,1022.9 558.5,1028.3 558.9,1020.4 559.2,1023.1 559.6,1023.4 560,1020.2 560.3,1024.2 560.7,1022.6 561.1,1019.8 561.4,1020.8 561.8,1024.2 562.2,1018.2 562.5,1019.1 562.9,1017 563.3,1022.7 563.6,1021.9 564,1019.5 564.4,1021.3 564.7,1022.2 565.1,1022.9 565.5,1023.5 565.8,1024.5 566.2,1024.5 566.6,1021.5 566.9,1023.6 567.3,1026.8 567.7,1022.6 568,1017.9 568.4,1018.8 568.8,1028.6 569.1,1025.2 569.5,1020.5 569.9,1022.6 570.2,1022.6 570.6,1023.2 571,1022.7 571.3,1025.8 571.7,1019.5 572.1,1025.9 572.4,1023.3 572.8,1018.5 573.2,1019.8 573.5,1023 573.9,1023 574.3,1024.7 574.6,1024.4 575,1023.7 575.3,1019.1 575.7,1024.3 576.1,1021.4 576.4,1021.8 576.8,1021.9 577.2,1023.9 577.5,1020.9 577.9,1022.6 578.3,1022.8 578.6,1024.5 579,1029.3 579.4,1021 579.7,1020.9 580.1,1024.6 580.5,1023.7 580.8,1022.3 581.2,1026 581.6,1021.1 581.9,1021.1 582.3,1020.7 582.7,1020.6 583,1028.7 583.4,1021.7 583.8,1024.5 584.1,1020.1 584.5,1020.2 584.9,1020.9 585.2,1023.5 585.6,1015.3 586,1023.4 586.3,1026.3 586.7,1020.5 587.1,1027.5 587.4,1017.8 587.8,1020.4 588.2,1019.5 588.5,1020.4 588.9,1022.2 589.3,1027.1 589.6,1025.1 590,1021.8 590.4,1024 590.7,1022.3 591.1,1025.4 591.5,1025.7 591.8,1022.6 592.2,1021.3 592.6,1023.4 592.9,1026.3 593.3,1028.2 593.7,1017.7 594,1026.8 594.4,1026 594.8,1025.6 595.1,1021 595.5,1025.7 595.9,1022 596.2,1022.7 596.6,1026.9 597,1023.2 597.3,1027.1 597.7,1024.1 598.1,1021.5 598.4,1024.3 598.8,1026.3 599.2,1024.9 599.5,1024.2 599.9,1022.8 600.3,1030.3 600.6,1029 601,1022.4 601.4,1024.1 601.7,1023.8 602.1,1023.2 602.5,1024.3 602.8,1025.1 603.2,1023.6 603.6,1022 603.9,1022.9 604.3,1023.8 604.7,1026.9 605,1023.3 605.4,1027.2 605.8,1025.9 606.1,1023.5 606.5,1023.6 606.9,1020.9 607.2,1021.5 607.6,1022.6 608,1024.9 608.3,1024.1 608.7,1024.7 609.1,1019.1 609.4,1022.7 609.8,1025.9 610.2,1026.5 610.5,1020.5 610.9,1026.5 611.3,1023 611.6,1023.6 612,1021.1 612.4,1026.6 612.7,1022.8 613.1,1023.5 613.5,1021.9 613.8,1020.3 614.2,1023.8 614.6,1024.8 614.9,1021.7 615.3,1028.1 615.7,1023.6 616,1027 616.4,1027.6 616.8,1028.7 617.1,1028.9 617.5,1021.9 617.9,1021.7 618.2,1023.9 618.6,1021.3 619,1024.1 619.3,1025.6 619.7,1027.3 620.1,1022.1 620.4,1021.9 620.8,1020.7 621.1,1026.5 621.5,1025.1 621.9,1028.1 622.2,1021 622.6,1022.3 623,1022.8 623.3,1024.3 623.7,1024.7 624.1,1025.3 624.4,1021.2 624.8,1026.1 625.2,1021.8 625.5,1023.5 625.9,1027.2 626.3,1028.4 626.6,1026.6 627,1024.5 627.4,1028 627.7,1022.6 628.1,1021.1 628.5,1022.8 628.8,1029.2 629.2,1031 629.6,1021.9 629.9,1020.2 630.3,1025.5 630.7,1022.9 631,1025.2 631.4,1026.2 631.8,1021.6 632.1,1026 632.5,1022 632.9,1019.6 633.2,1024.8 633.6,1019.2 634,1028.2 634.3,1021.9 634.7,1024.4 635.1,1017.2 635.4,1024.4 635.8,1026.7 636.2,1019.9 636.5,1028.8 636.9,1023.2 637.3,1026.7 637.6,1020.6 638,1024.8 638.4,1022.1 638.7,1024.6 639.1,1027.7 639.5,1030.7 639.8,1019.5 640.2,1023.9 640.6,1027.8 640.9,1025.5 641.3,1021.8 641.7,1028.8 642,1018.1 642.4,1025.3 642.8,1025.6 643.1,1020.9 643.5,1024 643.9,1027.5 644.2,1022 644.6,1023.3 645,1021.4 645.3,1027.3 645.7,1027.8 646.1,1022.9 646.4,1025.9 646.8,1030.8 647.2,1026.3 647.5,1022.9 647.9,1026.7 648.3,1021 648.6,1026.1 649,1025 649.4,1029.3 649.7,1027 650.1,1025.2 650.5,1023.1 650.8,1024.2 651.2,1021.7 651.6,1030.9 651.9,1024.7 652.3,1025.2 652.7,1027.7 653,1024.9 653.4,1026.9 653.8,1023.5 654.1,1025.7 654.5,1023.3 654.9,1027.4 655.2,1021.2 655.6,1023.6 656,1019.7 656.3,1025.2 656.7,1026.2 657.1,1024.4 657.4,1026.1 657.8,1027.8 658.2,1024.8 658.5,1025 658.9,1026.7 659.3,1025.9 659.6,1027.6 660,1024.4 660.4,1028.6 660.7,1020 661.1,1024.7 661.5,1022.1 661.8,1028.3 662.2,1023.9 662.6,1025.2 662.9,1022 663.3,1022.4 663.7,1029.5 664,1021.6 664.4,1029.1 664.8,1021 665.1,1025 665.5,1028.3 665.9,1022.9 666.2,1024.8 666.6,1027.7 666.9,1027 667.3,1023.5 667.7,1028.8 668,1027.3 668.4,1019.6 668.8,1027.1 669.1,1023.8 669.5,1023.6 669.9,1022.2 670.2,1022.4 670.6,1032.1 671,1026.3 671.3,1021.5 671.7,1027.2 672.1,1019.7 672.4,1024.2 672.8,1028.4 673.2,1023.3 673.5,1019.4 673.9,1026.8 674.3,1023.3 674.6,1027.5 675,1026.6 675.4,1024.6 675.7,1023.5 676.1,1023.9 676.5,1024.3 676.8,1018.1 677.2,1028 677.6,1030.3 677.9,1023.3 678.3,1024.4 678.7,1029.1 679,1020 679.4,1027 679.8,1029 680.1,1023.8 680.5,1023.1 680.9,1018.2 681.2,1029.4 681.6,1028.6 682,1025.8 682.3,1026.2 682.7,1025.2 683.1,1027 683.4,1029.4 683.8,1026.3 684.2,1023 684.5,1022.7 684.9,1026.9 685.3,1023.5 685.6,1023.8 686,1026.4 686.4,1026 686.7,1024.9 687.1,1017 687.5,1024.5 687.8,1027.5 688.2,1025.5 688.6,1026.6 688.9,1021.7 689.3,1031.2 689.7,1028.1 690,1022.6 690.4,1023.8 690.8,1024.9 691.1,1023 691.5,1028.8 691.9,1024 692.2,1028.3 692.6,1028.7 693,1023.6 693.3,1027.3 693.7,1026.1 694.1,1023.2 694.4,1028 694.8,1023.3 695.2,1018.6 695.5,1025.6 695.9,1022.3 696.3,1022.8 696.6,1028.7 697,1029 697.4,1025 697.7,1031.2 698.1,1024.9 698.5,1024.3 698.8,1023.7 699.2,1023.8 699.6,1021.2 699.9,1026 700.3,1021.2 700.7,1023.5 701,1023.5 701.4,1025.5 701.8,1022.3 702.1,1027.2 702.5,1023 702.9,1021.9 703.2,1027 703.6,1027.8 704,1027.2 704.3,1025.2 704.7,1024 705.1,1022.6 705.4,1019.6 705.8,1020.4 706.2,1024.3 706.5,1026.2 706.9,1028.5 707.3,1022.7 707.6,1023.6 708,1025.9 708.4,1025.6 708.7,1025.4 709.1,1032.5 709.5,1025.3 709.8,1024.2 710.2,1025.5 710.6,1028.2 710.9,1025 711.3,1023.8 711.7,1020 712,1022.1" fill="none" stroke="#0a0af5" stroke-width="2.4" stroke-linejoin="miter" stroke-miterlimit="3"/>
<polyline points="263.7,1017 264,1016.5 264.4,1017.9 264.8,1013.6 265.1,1014.1 265.5,1009.1 265.9,1004.4 266.2,1002.8 266.6,1001.6 267,1002.5 267.3,998.4 267.7,1000.3 268.1,1003.3 268.4,996.4 268.8,995.3 269.2,998.7 269.5,994.1 269.9,997.9 270.3,991.4 270.6,985.7 271,989.3 271.4,982.9 271.7,984.6 272.1,985.9 272.5,987.4 272.8,979.5 273.2,978.5 273.6,983 273.9,979 274.3,973.8 274.7,977.6 275,973.4 275.4,978.5 275.8,974.6 276.1,969.2 276.5,973.1 276.9,972.7 277.2,971.5 277.6,967.7 278,969.8 278.3,964.9 278.7,962.1 279.1,958.5 279.4,962.5 279.8,956.2 280.2,958 280.5,959 280.9,956 281.3,952.4 281.6,951.4 282,952.4 282.4,953.7 282.7,950.2 283.1,950.9 283.5,950 283.8,948.8 284.2,943.7 284.6,950.8 284.9,946.9 285.3,948.6 285.7,942.6 286,941 286.4,939.5 286.8,943.1 287.1,941.1 287.5,938.3 287.9,938.9 288.2,937.7 288.6,937 289,935.9 289.3,936 289.7,933.6 290.1,937.7 290.4,934.1 290.8,935.5 291.2,931.3 291.5,932.1 291.9,927.9 292.3,925 292.6,930.7 293,928.6 293.4,924.7 293.7,920.9 294.1,921.7 294.5,921.7 294.8,922.1 295.2,922.2 295.6,919.1 295.9,917.8 296.3,917.8 296.7,918.8 297,920.6 297.4,917.7 297.8,915.5 298.1,916.7 298.5,911.9 298.9,915.6 299.2,911.7 299.6,909 300,906.9 300.3,907.5 300.7,904 301.1,907.8 301.4,907.4 301.8,901.5 302.2,905.8 302.5,902.9 302.9,906.1 303.3,897.7 303.6,897.8 304,900.8 304.4,902.4 304.7,896.3 305.1,895.3 305.5,892 305.8,889.3 306.2,892.7 306.5,893 306.9,892.1 307.3,891.4 307.6,893.4 308,891.3 308.4,888.3 308.7,891.5 309.1,889.8 309.5,882.2 309.8,886.3 310.2,881.6 310.6,879.9 310.9,881.9 311.3,878.9 311.7,880.6 312,881.6 312.4,878.7 312.8,877.4 313.1,876.4 313.5,875.6 313.9,876 314.2,871.3 314.6,873.8 315,873.5 315.3,869.1 315.7,873.3 316.1,869.9 316.4,865.1 316.8,868 317.2,863.6 317.5,867.2 317.9,867.1 318.3,865.4 318.6,865.6 319,864.3 319.4,863.7 319.7,859.7 320.1,860 320.5,860.8 320.8,861.5 321.2,850.4 321.6,858.6 321.9,853.7 322.3,859.7 322.7,857.9 323,852 323.4,857.5 323.8,856.7 324.1,853.4 324.5,854.6 324.9,852.8 325.2,851 325.6,848.5 326,849.7 326.3,848.8 326.7,845.5 327.1,844.7 327.4,848.8 327.8,852.1 328.2,849.3 328.5,843.3 328.9,846.8 329.3,846.9 329.6,845.6 330,839.7 330.4,843.2 330.7,843.8 331.1,844.1 331.5,844.6 331.8,833.8 332.2,840.8 332.6,839.7 332.9,840.4 333.3,836.3 333.7,841.2 334,843.1 334.4,839.1 334.8,836.2 335.1,830.6 335.5,836.3 335.9,837.8 336.2,835.7 336.6,836.6 337,836.2 337.3,833.4 337.7,832.4 338.1,834.4 338.4,829.3 338.8,832 339.2,831 339.5,832.2 339.9,829.4 340.3,828.9 340.6,827.8 341,831.2 341.4,827 341.7,829.7 342.1,827.5 342.5,825.4 342.8,822.9 343.2,827.6 343.6,828.9 343.9,825.2 344.3,822 344.7,825.7 345,818 345.4,828.9 345.8,819.6 346.1,820.1 346.5,819.9 346.9,824.6 347.2,818.4 347.6,818.5 348,817.9 348.3,821.4 348.7,821.1 349.1,816.7 349.4,818.8 349.8,820.3 350.2,821.2 350.5,817.9 350.9,821.8 351.3,816.4 351.6,817.1 352,821.3 352.3,815.6 352.7,813.3 353.1,815.5 353.4,819.3 353.8,817.1 354.2,812.9 354.5,818.2 354.9,815.5 355.3,811.2 355.6,814.6 356,815.1 356.4,811.1 356.7,808.7 357.1,811.5 357.5,815.8 357.8,816.2 358.2,812.3 358.6,816.1 358.9,811.3 359.3,808.4 359.7,817.5 360,810.6 360.4,809 360.8,811 361.1,808.3 361.5,807.7 361.9,806 362.2,801.3 362.6,807.3 363,810.2 363.3,810.3 363.7,810.6 364.1,805.2 364.4,805.9 364.8,805.3 365.2,805.7 365.5,801.7 365.9,802.8 366.3,802.7 366.6,806.9 367,805.7 367.4,808 367.7,806 368.1,803.8 368.5,807 368.8,805.2 369.2,797.9 369.6,803.4 369.9,806.6 370.3,805.7 370.7,802.4 371,799.7 371.4,801.8 371.8,799 372.1,800.2 372.5,803.7 372.9,797.8 373.2,801.4 373.6,795 374,801.3 374.3,799.8 374.7,800.6 375.1,799.6 375.4,797.4 375.8,798.8 376.2,794.9 376.5,796.7 376.9,793.3 377.3,797 377.6,793.5 378,793.5 378.4,796.8 378.7,789.4 379.1,791.8 379.5,794.1 379.8,795.8 380.2,795.2 380.6,795.2 380.9,793.7 381.3,797.1 381.7,793.7 382,795.2 382.4,788.9 382.8,791 383.1,788.4 383.5,786.2 383.9,790.9 384.2,786.6 384.6,790.7 385,789.7 385.3,793.6 385.7,790.6 386.1,786.8 386.4,789 386.8,791 387.2,789.7 387.5,791.4 387.9,791 388.3,792.7 388.6,785.8 389,785.6 389.4,788.5 389.7,791.4 390.1,788.3 390.5,782.1 390.8,790.6 391.2,788.2 391.6,787.9 391.9,784.3 392.3,789.5 392.7,785.2 393,787.8 393.4,786.3 393.8,788.3 394.1,783.5 394.5,786 394.9,786 395.2,781.3 395.6,783.1 396,777.5 396.3,782.4 396.7,783.1 397.1,782.7 397.4,775.6 397.8,779.3 398.1,783.1 398.5,781.3 398.9,783.3 399.2,780 399.6,782.9 400,782.8 400.3,780 400.7,777.4 401.1,778.5 401.4,778.6 401.8,780.3 402.2,786.5 402.5,780.4 402.9,780.3 403.3,778.2 403.6,774.8 404,777.2 404.4,783.6 404.7,778.8 405.1,779.3 405.5,776.6 405.8,778.5 406.2,783.2 406.6,780.3 406.9,778.6 407.3,783 407.7,777.7 408,778 408.4,774.3 408.8,777.2 409.1,778.4 409.5,776.9 409.9,776.3 410.2,773.7 410.6,778.6 411,781.8 411.3,768.5 411.7,773.6 412.1,775.3 412.4,768.8 412.8,778.1 413.2,777 413.5,775.9 413.9,773.3 414.3,775.6 414.6,772.2 415,775 415.4,770.5 415.7,772.6 416.1,778 416.5,773.6 416.8,776.4 417.2,773.6 417.6,773 417.9,767 418.3,773.4 418.7,776.9 419,772.2 419.4,775.4 419.8,767.3 420.1,770.2 420.5,767.7 420.9,772.8 421.2,774.4 421.6,770.7 422,775 422.3,773.7 422.7,773.1 423.1,771.3 423.4,774.8 423.8,776.1 424.2,766.7 424.5,771.8 424.9,770.7 425.3,768.5 425.6,768.8 426,771.6 426.4,770.9 426.7,765.3 427.1,766.1 427.5,767.3 427.8,764.8 428.2,774.1 428.6,768.6 428.9,769.5 429.3,773.8 429.7,767.6 430,766.7 430.4,767.6 430.8,773 431.1,768.6 431.5,767.3 431.9,768.4 432.2,766.9 432.6,766.2 433,763.6 433.3,766.7 433.7,760.1 434.1,766.5 434.4,766.2 434.8,764.7 435.2,766.9 435.5,767.4 435.9,763.1 436.3,772 436.6,770.9 437,760.6 437.4,764 437.7,764.4 438.1,764.9 438.5,764.9 438.8,768 439.2,766.2 439.6,768 439.9,762.1 440.3,763.4 440.7,764.3 441,763.8 441.4,765.1 441.8,767.7 442.1,760 442.5,762.7 442.9,764.8 443.2,762.7 443.6,760.8 443.9,760.9 444.3,762.2 444.7,761.6 445,764.4 445.4,760.1 445.8,761 446.1,760.9 446.5,766.8 446.9,761.6 447.2,761.4 447.6,761 448,769.9 448.3,767.9 448.7,762.1 449.1,765.3 449.4,761.7 449.8,762.8 450.2,760.2 450.5,763.9 450.9,765.2 451.3,760.9 451.6,763 452,765.3 452.4,767.4 452.7,753.6 453.1,762.9 453.5,762.5 453.8,767 454.2,764.4 454.6,762 454.9,760.7 455.3,759.4 455.7,763.4 456,760 456.4,758.2 456.8,762.6 457.1,761.3 457.5,765.9 457.9,763.2 458.2,764.6 458.6,759 459,761.3 459.3,756.4 459.7,760.1 460.1,758.4 460.4,759.1 460.8,759.9 461.2,763.2 461.5,755.9 461.9,760.5 462.3,765.1 462.6,761.6 463,763 463.4,756.8 463.7,757.1 464.1,755.7 464.5,753.9 464.8,761.5 465.2,764.7 465.6,762.1 465.9,758.4 466.3,766.7 466.7,761 467,757.1 467.4,761.6 467.8,759.5 468.1,761.6 468.5,754.4 468.9,753.8 469.2,761.7 469.6,761.2 470,758.5 470.3,756.9 470.7,757.5 471.1,756.9 471.4,755.9 471.8,755.2 472.2,753.3 472.5,757.8 472.9,759.4 473.3,758.3 473.6,752 474,755.7 474.4,755.9 474.7,754.2 475.1,754.4 475.5,751.3 475.8,759.8 476.2,757 476.6,755.5 476.9,755.2 477.3,758.4 477.7,761.8 478,758 478.4,759.1 478.8,757.5 479.1,754.2 479.5,755.2 479.9,760.1 480.2,759 480.6,756.4 481,753.8 481.3,757 481.7,756.2 482.1,760.8 482.4,758 482.8,758.8 483.2,756.1 483.5,757.3 483.9,758.9 484.3,759.4 484.6,755.9 485,758.2 485.4,753.3 485.7,755.9 486.1,757 486.5,753.8 486.8,759.4 487.2,753.6 487.6,758 487.9,754.1 488.3,757.8 488.7,758.5 489,760.9 489.4,755.7 489.7,754.5 490.1,759.6 490.5,750.9 490.8,755.7 491.2,758.7 491.6,750.3 491.9,756.7 492.3,751.6 492.7,763.1 493,749.6 493.4,754.9 493.8,755.4 494.1,754.4 494.5,758.4 494.9,752.7 495.2,754 495.6,754.3 496,756.7 496.3,758.3 496.7,754.1 497.1,752.8 497.4,754.6 497.8,755.5 498.2,756.4 498.5,753 498.9,751 499.3,755.3 499.6,757.2 500,748.2 500.4,759 500.7,754.1 501.1,755 501.5,751.2 501.8,755.1 502.2,759.2 502.6,757.7 502.9,754.3 503.3,754.7 503.7,756.4 504,756.1 504.4,758.7 504.8,758.5 505.1,756.2 505.5,756.3 505.9,754.8 506.2,757.6 506.6,750.2 507,759.1 507.3,752 507.7,752.8 508.1,750 508.4,750.5 508.8,757.8 509.2,753.2 509.5,752.1 509.9,751.6 510.3,752.7 510.6,755.6 511,750.6 511.4,754.3 511.7,755.3 512.1,753.5 512.5,755.1 512.8,755.7 513.2,753.6 513.6,746.8 513.9,753 514.3,753.6 514.7,755 515,752.8 515.4,756.9 515.8,752.4 516.1,753 516.5,753.5 516.9,752.4 517.2,754.2 517.6,751.9 518,752.2 518.3,752.1 518.7,753.6 519.1,751.2 519.4,754 519.8,750.1 520.2,753.8 520.5,750.1 520.9,752.8 521.3,753.5 521.6,756.1 522,751.7 522.4,752.4 522.7,753.3 523.1,752.3 523.5,753 523.8,755.8 524.2,756.5 524.6,751.6 524.9,752.8 525.3,749.2 525.7,747.9 526,751 526.4,751.5 526.8,751.7 527.1,752.9 527.5,754.9 527.9,760.2 528.2,751.1 528.6,751.5 529,753 529.3,752.7 529.7,750.5 530.1,750.6 530.4,752.5 530.8,753.7 531.2,751.4 531.5,750.9 531.9,747.1 532.3,755.4 532.6,751.6 533,755.3 533.4,754.1 533.7,746.6 534.1,754 534.5,753.2 534.8,754.4 535.2,750.5 535.5,754 535.9,757.3 536.3,752.4 536.6,750.6 537,752.9 537.4,752.4 537.7,754.6 538.1,755.3 538.5,752.7 538.8,755.8 539.2,753.9 539.6,755.4 539.9,753.3 540.3,750.6 540.7,752.8 541,749.6 541.4,751.7 541.8,753 542.1,755.1 542.5,752.4 542.9,755.7 543.2,750.6 543.6,756.2 544,756.3 544.3,754.9 544.7,757.1 545.1,752.3 545.4,754.6 545.8,753.8 546.2,750.9 546.5,758.4 546.9,753.2 547.3,751.5 547.6,749.7 548,752.1 548.4,754.2 548.7,749.9 549.1,749.9 549.5,746.5 549.8,746.6 550.2,752.9 550.6,748.7 550.9,751.8 551.3,755.1 551.7,750.4 552,748.8 552.4,758.6 552.8,748.7 553.1,754.5 553.5,747.9 553.9,751.6 554.2,751.8 554.6,748.5 555,753.1 555.3,746.6 555.7,754.7 556.1,753.8 556.4,755 556.8,750.7 557.2,752.3 557.5,750 557.9,749.2 558.3,750 558.6,749.2 559,749.1 559.4,752.3 559.7,754 560.1,754.7 560.5,750 560.8,753.4 561.2,754.6 561.6,754.3 561.9,752.6 562.3,751.4 562.7,752.7 563,754.7 563.4,750.5 563.8,757.9 564.1,752.8 564.5,749.2 564.9,751.2 565.2,748.8 565.6,751.7 566,750.4 566.3,751.8 566.7,753.1 567.1,750.9 567.4,749.3 567.8,757.2 568.2,754.1 568.5,757.5 568.9,754.4 569.3,755.3 569.6,753.2 570,752.7 570.4,749.3 570.7,748.6 571.1,754 571.5,753.2 571.8,750.2 572.2,753.6 572.6,752.9 572.9,756.8 573.3,749.9 573.7,751.1 574,754.4 574.4,755.3 574.8,754.6 575.1,750.6 575.5,753 575.9,755 576.2,752.6 576.6,749.4 577,748.3 577.3,748.1 577.7,751.3 578.1,750.9 578.4,750.8 578.8,749.8 579.2,750 579.5,754.1 579.9,753.5 580.3,752.5 580.6,749.6 581,752.8 581.3,753.5 581.7,748.7 582.1,747.5 582.4,753.8 582.8,751.8 583.2,748.3 583.5,752.4 583.9,748.9 584.3,755.1 584.6,751.9 585,749.6 585.4,747.2 585.7,748.8 586.1,755.6 586.5,755.4 586.8,753.6 587.2,749.1 587.6,749.3 587.9,748.4 588.3,749.4 588.7,752.7 589,752.2 589.4,753.6 589.8,749 590.1,754.5 590.5,751 590.9,750.5 591.2,747.9 591.6,753.2 592,750.1 592.3,753.8 592.7,748.4 593.1,752.1 593.4,751.9 593.8,753.6 594.2,752.7 594.5,752.8 594.9,752.7 595.3,747.9 595.6,753.6 596,750.4 596.4,748.8 596.7,754 597.1,756.7 597.5,749.7 597.8,755.3 598.2,753 598.6,751.2 598.9,750.2 599.3,751.6 599.7,752.8 600,748.2 600.4,750.3 600.8,745.8 601.1,753.2 601.5,751.1 601.9,750.9 602.2,749.4 602.6,750.2 603,750.7 603.3,745.6 603.7,751.2 604.1,749.6 604.4,750.2 604.8,752.3 605.2,748.8 605.5,755.7 605.9,747.7 606.3,754.8 606.6,751.5 607,750.4 607.4,752 607.7,752 608.1,747.5 608.5,744.3 608.8,747.9 609.2,750.2 609.6,752.3 609.9,752.6 610.3,747.4 610.7,748.2 611,747.1 611.4,747.9 611.8,747 612.1,752.1 612.5,752.6 612.9,753.2 613.2,750.6 613.6,751 614,750.2 614.3,753.7 614.7,750 615.1,748.3 615.4,750.2 615.8,757.6 616.2,750.5 616.5,751.4 616.9,748 617.3,750.8 617.6,748.7 618,751.4 618.4,749.5 618.7,747.8 619.1,751.1 619.5,749.5 619.8,749.9 620.2,748.7 620.6,750.6 620.9,749 621.3,755.1 621.7,750.9 622,748.1 622.4,748.5 622.8,752.8 623.1,752.4 623.5,749.2 623.9,749.3 624.2,749 624.6,750 625,749.9 625.3,747.5 625.7,752.6 626.1,753.8 626.4,747.5 626.8,752.2 627.1,748.4 627.5,751.9 627.9,753 628.2,746.1 628.6,750.3 629,753.8 629.3,750.7 629.7,750.6 630.1,750.7 630.4,749.7 630.8,753.1 631.2,750.8 631.5,748.9 631.9,748.5 632.3,749.8 632.6,752.2 633,755.2 633.4,746.2 633.7,753 634.1,751.2 634.5,750 634.8,748.8 635.2,750.1 635.6,752.1 635.9,750.1 636.3,744.5 636.7,743.4 637,750.5 637.4,748.3 637.8,754.5 638.1,749.4 638.5,748 638.9,750.7 639.2,745.1 639.6,747.6 640,748.3 640.3,756.7 640.7,751.5 641.1,748 641.4,751.1 641.8,754.4 642.2,751.3 642.5,745.8 642.9,748 643.3,747.5 643.6,749.3 644,745.5 644.4,757.1 644.7,752.9 645.1,744.7 645.5,747 645.8,749.1 646.2,750.6 646.6,754.4 646.9,750.8 647.3,750 647.7,752.1 648,746.1 648.4,747 648.8,750.4 649.1,747.3 649.5,749.7 649.9,748.9 650.2,750.9 650.6,743.1 651,753.5 651.3,750 651.7,746.9 652.1,746.9 652.4,753.8 652.8,752 653.2,749.8 653.5,751.6 653.9,751.3 654.3,750.2 654.6,749.9 655,746.6 655.4,754 655.7,746.7 656.1,750.1 656.5,747.9 656.8,750.4 657.2,743.3 657.6,754.2 657.9,746.3 658.3,750.6 658.7,750 659,745.7 659.4,749.9 659.8,747 660.1,745.6 660.5,750.9 660.9,744.1 661.2,746 661.6,749.9 662,748.7 662.3,751.2 662.7,748.5 663.1,747 663.4,746.7 663.8,748.7 664.2,750.6 664.5,751 664.9,751.8 665.3,750 665.6,747.7 666,750.8 666.4,751 666.7,752 667.1,747.7 667.5,749.9 667.8,753.4 668.2,746.3 668.6,746.4 668.9,749.1 669.3,750.1 669.7,749.3 670,751.6 670.4,746.5 670.8,745.5 671.1,746.4 671.5,748.5 671.9,748.5 672.2,747.7 672.6,744.6 672.9,751.2 673.3,749.1 673.7,750.9 674,752.3 674.4,748.2 674.8,746.1 675.1,751.8 675.5,746.5 675.9,747.3 676.2,747.8 676.6,745.5 677,750.8 677.3,744.8 677.7,750 678.1,747.6 678.4,753 678.8,746.4 679.2,748.9 679.5,750.5 679.9,751.7 680.3,748.4 680.6,745.5 681,747.6 681.4,749.8 681.7,750.9 682.1,751.7 682.5,749.8 682.8,753.1 683.2,749.9 683.6,746.1 683.9,749.1 684.3,749.3 684.7,750.5 685,747 685.4,747.2 685.8,745.2 686.1,750.7 686.5,751.8 686.9,750.5 687.2,752.1 687.6,749 688,750 688.3,751.1 688.7,749 689.1,746.2 689.4,747 689.8,750.5 690.2,748.7 690.5,748 690.9,747.1 691.3,749.7 691.6,752.2 692,747.9 692.4,751.3 692.7,749.8 693.1,749.5 693.5,746.4 693.8,750 694.2,748.3 694.6,749.3 694.9,750.2 695.3,746.4 695.7,749.9 696,747.5 696.4,748 696.8,753.5 697.1,753 697.5,756.9 697.9,747.9 698.2,748 698.6,750 699,750 699.3,749.5 699.7,750.3 700.1,748.7 700.4,748.7 700.8,751 701.2,744.9 701.5,746 701.9,749.7 702.3,742.9 702.6,742.2 703,745.3 703.4,745.5 703.7,750.1 704.1,749.4 704.5,752.7 704.8,749.6 705.2,746 705.6,749.6 705.9,752.9 706.3,744.3 706.7,743.4 707,744.5 707.4,752.5 707.8,746.3 708.1,750.6 708.5,748.8 708.9,746.6 709.2,744.4 709.6,750.1 710,749.3 710.3,751.7 710.7,748.4 711.1,750.9 711.4,749.7 711.8,746.4 712.2,748.4" fill="none" stroke="#ff00ff" stroke-width="5.0" stroke-linejoin="miter" stroke-miterlimit="3"/>
<polyline points="254.9,1022.9 255.3,1032.9 255.6,1048.1 256,1050.3 256.4,1051.7 256.7,1050.3 257.1,1045.9 257.5,1043.5 257.8,1041 258.2,1040.3 258.6,1038.3 258.9,1038.5 259.3,1038.6 259.7,1036 260,1037 260.4,1035.7 260.7,1033.4 261.1,1032.7 261.5,1029.9 261.8,1029.3 262.2,1025 262.6,1025.8 262.9,1022.1 263.3,1021.2 263.7,1017.2 264,1017.1 264.4,1011.4 264.8,1025.1 265.1,1013.6 265.5,1002.3 265.9,1006.5 266.2,1005.4 266.6,1000.6 267,993 267.3,1005.5 267.7,1000 268.1,1000.1 268.4,994 268.8,998.3 269.2,1000.4 269.5,998.9 269.9,988.9 270.3,989.4 270.6,985.5 271,994.1 271.4,990.1 271.7,987.4 272.1,980.6 272.5,981 272.8,982.3 273.2,984.4 273.6,978.4 273.9,979.9 274.3,973.3 274.7,968.7 275,974 275.4,977.9 275.8,962.7 276.1,968.6 276.5,967.9 276.9,968.5 277.2,967.2 277.6,966.4 278,964.7 278.3,970.7 278.7,966.5 279.1,962.9 279.4,960.9 279.8,959.7 280.2,957.7 280.5,965.7 280.9,961.3 281.3,959.1 281.6,954.9 282,955.2 282.4,945.5 282.7,954 283.1,952.4 283.5,956.7 283.8,942.2 284.2,948.2 284.6,948.1 284.9,949.3 285.3,945.4 285.7,946.3 286,939.1 286.4,946.3 286.8,943.9 287.1,943.4 287.5,938 287.9,938.1 288.2,934.6 288.6,935.4 289,934.4 289.3,935.5 289.7,931.2 290.1,932 290.4,931.6 290.8,938.5 291.2,933 291.5,933 291.9,936.6 292.3,923.1 292.6,921.7 293,922.2 293.4,923.3 293.7,918.8 294.1,930.5 294.5,917.8 294.8,930.1 295.2,920.4 295.6,919.7 295.9,917.2 296.3,915.7 296.7,914.5 297,919.3 297.4,918.2 297.8,918 298.1,913.2 298.5,914.2 298.9,918.2 299.2,907.1 299.6,914.6 300,911.1 300.3,911.2 300.7,910.3 301.1,904 301.4,908.2 301.8,910.2 302.2,906.2 302.5,906.7 302.9,907.8 303.3,897.1 303.6,895.2 304,904.6 304.4,891.7 304.7,889.7 305.1,901.6 305.5,893.5 305.8,895.4 306.2,890.1 306.5,904.2 306.9,889.1 307.3,892.2 307.6,888 308,885.5 308.4,897.6 308.7,887.5 309.1,886.4 309.5,883.1 309.8,880.1 310.2,880.7 310.6,886 310.9,879.2 311.3,884.1 311.7,877.2 312,880.1 312.4,879.2 312.8,877.1 313.1,883.1 313.5,877.2 313.9,879.8 314.2,870.5 314.6,868.3 315,878.2 315.3,880.6 315.7,869.8 316.1,872.2 316.4,872.8 316.8,859.2 317.2,869.1 317.5,870.8 317.9,867 318.3,863.9 318.6,858 319,862.2 319.4,867.7 319.7,863.9 320.1,853.8 320.5,867.3 320.8,859.8 321.2,854.2 321.6,857.1 321.9,858.3 322.3,860.3 322.7,855.4 323,853.3 323.4,853.8 323.8,849.9 324.1,852.6 324.5,847.6 324.9,851.6 325.2,847.9 325.6,852.2 326,843.3 326.3,844.7 326.7,846.3 327.1,852.5 327.4,847.2 327.8,859.1 328.2,848.2 328.5,845.6 328.9,849.1 329.3,844.4 329.6,841.9 330,836.7 330.4,843.4 330.7,849.1 331.1,851.7 331.5,842.4 331.8,837.7 332.2,836.2 332.6,839.8 332.9,842.3 333.3,842 333.7,839.2 334,837.8 334.4,835.2 334.8,836.6 335.1,828.6 335.5,835.5 335.9,833.6 336.2,831 336.6,830.9 337,836.7 337.3,840.2 337.7,838.4 338.1,831.3 338.4,829.9 338.8,830.4 339.2,828.2 339.5,825.7 339.9,833.5 340.3,819.8 340.6,818.9 341,826 341.4,829.3 341.7,827.2 342.1,833.4 342.5,827.2 342.8,830.2 343.2,826.9 343.6,827.3 343.9,817.4 344.3,828.7 344.7,823.6 345,826 345.4,817.7 345.8,819.3 346.1,829.3 346.5,826.7 346.9,821.3 347.2,824.5 347.6,819.8 348,820.9 348.3,825.2 348.7,821.7 349.1,818.2 349.4,820 349.8,818.8 350.2,817.5 350.5,819.1 350.9,812.9 351.3,823 351.6,815.7 352,819.3 352.3,815.2 352.7,813.1 353.1,813.6 353.4,813.1 353.8,812.4 354.2,813 354.5,815.7 354.9,811.6 355.3,810.3 355.6,810.4 356,812.4 356.4,812.1 356.7,820.8 357.1,815.9 357.5,813.1 357.8,808 358.2,806.9 358.6,810.8 358.9,815.6 359.3,808.8 359.7,806.5 360,807.1 360.4,812.7 360.8,813.9 361.1,812.9 361.5,813.3 361.9,804.8 362.2,807.2 362.6,799.6 363,801.3 363.3,803.6 363.7,810.1 364.1,804.4 364.4,805 364.8,812.1 365.2,811.3 365.5,808.9 365.9,800.7 366.3,807 366.6,810.7 367,804.5 367.4,802.2 367.7,809.2 368.1,796.4 368.5,806.8 368.8,799.3 369.2,800.5 369.6,805.9 369.9,803.2 370.3,802.4 370.7,803.6 371,798.9 371.4,801.4 371.8,808.4 372.1,800.8 372.5,805.5 372.9,801.5 373.2,799.4 373.6,800.5 374,795.7 374.3,799.8 374.7,801.3 375.1,792.4 375.4,795.8 375.8,799 376.2,798.1 376.5,799.5 376.9,797.3 377.3,801.2 377.6,790 378,791.8 378.4,805.5 378.7,800.1 379.1,796.1 379.5,798.3 379.8,803.9 380.2,792.3 380.6,799.6 380.9,791.8 381.3,792.5 381.7,787.9 382,797.3 382.4,786.2 382.8,798.1 383.1,786.9 383.5,788.4 383.9,790.6 384.2,796.5 384.6,785.3 385,788.3 385.3,797.9 385.7,801.4 386.1,793.4 386.4,793.9 386.8,787.3 387.2,789.4 387.5,788.4 387.9,791.4 388.3,785.3 388.6,791.2 389,794.7 389.4,798 389.7,786 390.1,790.3 390.5,794.5 390.8,790.9 391.2,788.6 391.6,784 391.9,795.1 392.3,787.9 392.7,783.1 393,783.9 393.4,782.3 393.8,777.3 394.1,788.5 394.5,787.2 394.9,780.2 395.2,777.8 395.6,782.7 396,785.1 396.3,788.2 396.7,780.8 397.1,781.7 397.4,787.2 397.8,784.8 398.1,786.4 398.5,779.9 398.9,782.6 399.2,776.8 399.6,776.2 400,780 400.3,776.4 400.7,776.7 401.1,774.7 401.4,782.4 401.8,777.8 402.2,772.7 402.5,777.3 402.9,781.4 403.3,778.5 403.6,770.1 404,780.7 404.4,781.4 404.7,775.1 405.1,780 405.5,784.6 405.8,784.5 406.2,777.9 406.6,780.3 406.9,771.7 407.3,779.8 407.7,782.8 408,780.2 408.4,781.9 408.8,772 409.1,779.7 409.5,770.3 409.9,773.9 410.2,767.8 410.6,776.2 411,772.2 411.3,783.9 411.7,777.2 412.1,778.1 412.4,770.3 412.8,775.3 413.2,771.9 413.5,777.4 413.9,779.5 414.3,774.5 414.6,768.7 415,774 415.4,767.3 415.7,774.8 416.1,774.8 416.5,774.6 416.8,774.1 417.2,775.7 417.6,773.7 417.9,775.9 418.3,776.6 418.7,766.1 419,768.6 419.4,773.2 419.8,774.3 420.1,778 420.5,769.2 420.9,774.1 421.2,763.5 421.6,778.2 422,769.6 422.3,765.9 422.7,772.9 423.1,762.4 423.4,766.4 423.8,766.3 424.2,773.6 424.5,765.8 424.9,765.8 425.3,769.2 425.6,762.3 426,768.1 426.4,778.5 426.7,767.8 427.1,762 427.5,771.4 427.8,765.8 428.2,771.2 428.6,768.5 428.9,779.4 429.3,775.6 429.7,769.4 430,770.4 430.4,775.5 430.8,765 431.1,766.3 431.5,771.1 431.9,775.8 432.2,765 432.6,769.2 433,764.2 433.3,762.4 433.7,768.3 434.1,767.8 434.4,763.6 434.8,767.7 435.2,774.6 435.5,764 435.9,765.1 436.3,768.6 436.6,764.1 437,767.6 437.4,767.6 437.7,762.7 438.1,771.4 438.5,772.3 438.8,766.2 439.2,770.9 439.6,761.9 439.9,768.3 440.3,772.2 440.7,766.7 441,774.1 441.4,759.4 441.8,764.9 442.1,761.9 442.5,762.5 442.9,763.7 443.2,768.6 443.6,761.1 443.9,765.5 444.3,767.2 444.7,772.3 445,758.7 445.4,764.8 445.8,765.4 446.1,771.3 446.5,759.7 446.9,763.9 447.2,759.2 447.6,763.4 448,766.6 448.3,760.8 448.7,769.3 449.1,769.2 449.4,763.1 449.8,759.7 450.2,758.1 450.5,762.9 450.9,763 451.3,761.6 451.6,763.1 452,764.3 452.4,760.1 452.7,764.1 453.1,762.9 453.5,757.1 453.8,760.9 454.2,763.9 454.6,758.9 454.9,762.2 455.3,758.8 455.7,764.9 456,764.5 456.4,767.1 456.8,756.7 457.1,755.5 457.5,756.3 457.9,759.6 458.2,760.2 458.6,761.9 459,758.5 459.3,761.5 459.7,764.8 460.1,756.6 460.4,757 460.8,758.4 461.2,760.7 461.5,761.9 461.9,759.9 462.3,759.4 462.6,764.9 463,762 463.4,764.3 463.7,755.5 464.1,765.4 464.5,764.7 464.8,763.4 465.2,759.1 465.6,763.4 465.9,752.6 466.3,756.7 466.7,769.1 467,758.6 467.4,758 467.8,764.4 468.1,759.7 468.5,758.9 468.9,761.8 469.2,759.5 469.6,757.7 470,761.1 470.3,759.2 470.7,763.7 471.1,756.3 471.4,761.3 471.8,753.9 472.2,750.4 472.5,751.9 472.9,760.4 473.3,756.8 473.6,759.5 474,756.6 474.4,761.7 474.7,762.4 475.1,758.4 475.5,761.4 475.8,753.2 476.2,755.2 476.6,756.7 476.9,758.5 477.3,758.6 477.7,754 478,757.5 478.4,757.7 478.8,750.2 479.1,757 479.5,758.6 479.9,758.4 480.2,752.3 480.6,759.3 481,759.2 481.3,752.9 481.7,752.5 482.1,751.5 482.4,760.5 482.8,755.3 483.2,759.2 483.5,755.2 483.9,763.2 484.3,757.6 484.6,752.4 485,755.8 485.4,766.3 485.7,752.6 486.1,755 486.5,757.5 486.8,756.4 487.2,757.6 487.6,751.7 487.9,756.4 488.3,762.6 488.7,759.5 489,749.5 489.4,751.5 489.7,752.8 490.1,759.1 490.5,753.7 490.8,751.7 491.2,755.4 491.6,752.8 491.9,751.1 492.3,751.4 492.7,753.7 493,753.6 493.4,760.4 493.8,756.6 494.1,752 494.5,748.5 494.9,754.6 495.2,750.9 495.6,755.2 496,759 496.3,753.4 496.7,753.3 497.1,758.6 497.4,758.5 497.8,754.8 498.2,757 498.5,752.9 498.9,760.4 499.3,751.6 499.6,757.3 500,753.4 500.4,761 500.7,751 501.1,753.9 501.5,746.3 501.8,761.3 502.2,762 502.6,751.8 502.9,751 503.3,761.7 503.7,752.4 504,750.8 504.4,748.9 504.8,754 505.1,760.6 505.5,762.2 505.9,746 506.2,752.8 506.6,750.4 507,755.6 507.3,755.3 507.7,755.1 508.1,758 508.4,755.4 508.8,758.7 509.2,755.9 509.5,749.7 509.9,754.1 510.3,756.9 510.6,747.2 511,748.9 511.4,753.9 511.7,761 512.1,748.8 512.5,748.8 512.8,756.3 513.2,748.2 513.6,757.3 513.9,755 514.3,755.8 514.7,753.2 515,754.4 515.4,748.1 515.8,755.2 516.1,752 516.5,753.6 516.9,752.8 517.2,757.1 517.6,753.9 518,748.2 518.3,750.4 518.7,758.4 519.1,755.3 519.4,757.7 519.8,756.5 520.2,756.2 520.5,758.5 520.9,751.7 521.3,749.9 521.6,752.9 522,755.4 522.4,752.9 522.7,756.5 523.1,749.3 523.5,744.1 523.8,764.2 524.2,751.9 524.6,753.2 524.9,752.6 525.3,754.5 525.7,759.4 526,753.7 526.4,754.9 526.8,753.9 527.1,753.5 527.5,755.3 527.9,744.1 528.2,758.2 528.6,754.8 529,758.3 529.3,753.9 529.7,747 530.1,753.4 530.4,756.5 530.8,758.5 531.2,751 531.5,756 531.9,750.6 532.3,755.9 532.6,755.2 533,753.3 533.4,759.6 533.7,748.3 534.1,757.6 534.5,752.4 534.8,751.2 535.2,743.6 535.5,751.1 535.9,749.6 536.3,755 536.6,753.5 537,753 537.4,748.7 537.7,756.9 538.1,751.3 538.5,741.4 538.8,756.7 539.2,760.2 539.6,754.9 539.9,753.3 540.3,746.1 540.7,750.8 541,748.2 541.4,755.6 541.8,752.9 542.1,751.5 542.5,756.1 542.9,751.5 543.2,753.8 543.6,751.7 544,758.2 544.3,760.8 544.7,747.1 545.1,752.4 545.4,752.9 545.8,742.2 546.2,748.4 546.5,750.7 546.9,755.1 547.3,750.9 547.6,751.5 548,753.4 548.4,746.6 548.7,749.3 549.1,750 549.5,755.5 549.8,755 550.2,747.8 550.6,751.3 550.9,754.4 551.3,750.9 551.7,752 552,753.9 552.4,752.8 552.8,749.1 553.1,750.7 553.5,755.5 553.9,755 554.2,750.9 554.6,756.2 555,751.5 555.3,752.5 555.7,757.2 556.1,761.5 556.4,755.3 556.8,752 557.2,752 557.5,747 557.9,752 558.3,752.3 558.6,750.5 559,753.7 559.4,745.1 559.7,754.2 560.1,755.4 560.5,753.9 560.8,747.1 561.2,754.2 561.6,754.9 561.9,749.6 562.3,747.2 562.7,753.5 563,749.1 563.4,754.5 563.8,746.3 564.1,756.1 564.5,752.9 564.9,753.5 565.2,755.5 565.6,752.1 566,749.1 566.3,755.1 566.7,744.2 567.1,750.8 567.4,750.4 567.8,754.8 568.2,752 568.5,748.2 568.9,755.7 569.3,754.5 569.6,755 570,756.9 570.4,749.2 570.7,754.9 571.1,745.1 571.5,756.7 571.8,753 572.2,751.5 572.6,755.6 572.9,760.1 573.3,754.2 573.7,751.7 574,755.4 574.4,750.5 574.8,759 575.1,750.4 575.5,743.2 575.9,747.7 576.2,747.6 576.6,752.9 577,753.2 577.3,747 577.7,752.8 578.1,748.9 578.4,755.3 578.8,749.9 579.2,750.7 579.5,760.3 579.9,751.9 580.3,749.1 580.6,749.2 581,749.9 581.3,746.2 581.7,751.6 582.1,754.4 582.4,747.7 582.8,742.8 583.2,752.7 583.5,745.2 583.9,752 584.3,757.2 584.6,754.8 585,754.7 585.4,746.6 585.7,750.8 586.1,753.4 586.5,750.7 586.8,745.6 587.2,751.5 587.6,754 587.9,749.7 588.3,754.5 588.7,749.1 589,747.2 589.4,750.4 589.8,752.8 590.1,750.6 590.5,756.7 590.9,744.8 591.2,741.6 591.6,751 592,759.3 592.3,753.7 592.7,756.8 593.1,758.5 593.4,751.5 593.8,751.6 594.2,753.5 594.5,746.5 594.9,750.8 595.3,754.8 595.6,749.3 596,755.9 596.4,752.3 596.7,754.2 597.1,749.7 597.5,751.9 597.8,753.2 598.2,749.8 598.6,748.9 598.9,749.8 599.3,746.3 599.7,755 600,749.2 600.4,744.1 600.8,750.7 601.1,759.6 601.5,746.9 601.9,751.5 602.2,748.1 602.6,749.6 603,748.2 603.3,745.8 603.7,750.2 604.1,747.5 604.4,755.8 604.8,754.2 605.2,751.1 605.5,744.3 605.9,753.9 606.3,752 606.6,747.9 607,752.7 607.4,755.8 607.7,758.4 608.1,747.4 608.5,755.1 608.8,749.2 609.2,748.5 609.6,754.5 609.9,748.7 610.3,759.1 610.7,750.9 611,754.7 611.4,749.6 611.8,749.7 612.1,749.7 612.5,748 612.9,753 613.2,756.2 613.6,755.4 614,746.4 614.3,754.6 614.7,751.8 615.1,749 615.4,751 615.8,754.3 616.2,758.8 616.5,746.6 616.9,752.7 617.3,756.8 617.6,752.9 618,750.1 618.4,758.2 618.7,749.7 619.1,750.3 619.5,748.5 619.8,750.2 620.2,754.2 620.6,756.8 620.9,751 621.3,752.3 621.7,744.1 622,751.4 622.4,748.6 622.8,750 623.1,757.2 623.5,747.2 623.9,752 624.2,756 624.6,748.5 625,745.3 625.3,750.7 625.7,751.3 626.1,752.7 626.4,751.9 626.8,745.7 627.1,749.8 627.5,748.5 627.9,747.8 628.2,761.8 628.6,749.5 629,747.8 629.3,749.2 629.7,756 630.1,753.2 630.4,747.4 630.8,748.4 631.2,748.3 631.5,754.6 631.9,749 632.3,744.3 632.6,749.9 633,744.7 633.4,746.6 633.7,746.7 634.1,752.7 634.5,752.6 634.8,752.7 635.2,745.4 635.6,745 635.9,754.1 636.3,755.1 636.7,749.4 637,744.7 637.4,748.8 637.8,747.4 638.1,748 638.5,747.6 638.9,750.4 639.2,748 639.6,747.2 640,750.3 640.3,743.2 640.7,754.1 641.1,751.4 641.4,753.2 641.8,745.6 642.2,745.5 642.5,752.8 642.9,749.5 643.3,751.6 643.6,755.2 644,753 644.4,748.5 644.7,747.5 645.1,752.7 645.5,749.8 645.8,746.5 646.2,744.3 646.6,748.3 646.9,752.9 647.3,755.9 647.7,749.4 648,750.9 648.4,752 648.8,752.4 649.1,751.9 649.5,749 649.9,747 650.2,752.9 650.6,742.3 651,744 651.3,750.6 651.7,748.4 652.1,743.6 652.4,753.2 652.8,752 653.2,752 653.5,753.5 653.9,746.7 654.3,750.4 654.6,749.1 655,749.2 655.4,750.3 655.7,743.5 656.1,750.1 656.5,752.8 656.8,754.9 657.2,752.1 657.6,748.7 657.9,748.8 658.3,748.3 658.7,751.1 659,747.7 659.4,747.6 659.8,754.1 660.1,747.8 660.5,747.7 660.9,750.4 661.2,745 661.6,749.1 662,752.3 662.3,745.6 662.7,742.3 663.1,753.9 663.4,749.6 663.8,745.8 664.2,746.9 664.5,745.3 664.9,744.1 665.3,756.3 665.6,746.5 666,755.6 666.4,753 666.7,753.5 667.1,747.3 667.5,755.8 667.8,748.8 668.2,755.2 668.6,741.3 668.9,751.3 669.3,749.3 669.7,753.8 670,751.5 670.4,744 670.8,748.2 671.1,753.7 671.5,751.1 671.9,749.8 672.2,742.2 672.6,749.6 672.9,747.4 673.3,744.9 673.7,739.7 674,746.5 674.4,753.3 674.8,753 675.1,742.3 675.5,747.4 675.9,756.7 676.2,751.1 676.6,750.9 677,750.4 677.3,746.5 677.7,746.4 678.1,743.7 678.4,756.5 678.8,747.8 679.2,749.8 679.5,753.2 679.9,745.6 680.3,754.2 680.6,754.5 681,742.5 681.4,747.3 681.7,745.7 682.1,743.7 682.5,754 682.8,743.5 683.2,748.5 683.6,746.8 683.9,745.7 684.3,746.3 684.7,750.4 685,748.9 685.4,748.2 685.8,744.6 686.1,757.6 686.5,743.2 686.9,752.5 687.2,740.1 687.6,746.9 688,741.8 688.3,749.7 688.7,741.9 689.1,747.1 689.4,747.1 689.8,746.9 690.2,758.6 690.5,754.6 690.9,755.2 691.3,748.4 691.6,749.6 692,745.4 692.4,747.3 692.7,743.7 693.1,751.5 693.5,747.3 693.8,750.7 694.2,753.3 694.6,755.7 694.9,749 695.3,752.3 695.7,750.8 696,752.5 696.4,753 696.8,737.4 697.1,748.5 697.5,753.9 697.9,749.4 698.2,748.6 698.6,754.5 699,744.4 699.3,752.3 699.7,746.5 700.1,750.5 700.4,751.9 700.8,735.7 701.2,751.1 701.5,754.8 701.9,750.8 702.3,752.7 702.6,744.3 703,746.9 703.4,753.4 703.7,741.6 704.1,749.6 704.5,753.9 704.8,744.3 705.2,746 705.6,752.7 705.9,753.2 706.3,749.2 706.7,751.3 707,746.4 707.4,747.5 707.8,753.4 708.1,753 708.5,749.6 708.9,743.3 709.2,751.1 709.6,746.1 710,751.2 710.3,746.8 710.7,750.8 711.1,746.8 711.4,752.1 711.8,751.5 712.2,740.7" fill="none" stroke="#ff00ff" stroke-width="2.6" stroke-linejoin="miter" stroke-miterlimit="3"/>
<polyline points="254.9,1023 255.3,1033.2 255.6,1048.8 256,1051.7 256.4,1050.6 256.7,1048.7 257.1,1046.4 257.5,1044.2 257.8,1042.4 258.2,1041.1 258.6,1040 258.9,1038.9 259.3,1038 259.7,1037 260,1036 260.4,1035 260.7,1033.8 261.1,1032.4 261.5,1030.8 261.8,1028.9 262.2,1026.9 262.6,1024.8 262.9,1022.8 263.3,1020.7 263.7,1018.6 264,1016.5 264.4,1014.4 264.8,1012.4 265.1,1010.6" fill="none" stroke="#ff00ff" stroke-width="3.8" stroke-linejoin="round" stroke-linecap="round"/>
<polyline points="256.7,1017.3 257.6,1021.9 258.6,1022.5 259.5,1023.7 260.4,1023.7 261.3,1024.5 262.2,1024.3 263.1,1024.4 264,1024.5 265,1024.7 265.9,1023.8 266.8,1024.4 267.7,1024.5 268.6,1024.9 269.5,1024.1 270.5,1024.1 271.4,1024.4 272.3,1024.7 273.2,1024.2 274.1,1024.3 275,1024.7 276,1023.7 276.9,1024 277.8,1024.5 278.7,1024.4 279.6,1023.9 280.5,1023.8 281.5,1023.9 282.4,1023.9 283.3,1024.1 284.2,1023.4 285.1,1024.1 286,1023.9 286.9,1023.8 287.9,1024 288.8,1023.7 289.7,1023.4 290.6,1024.4 291.5,1023.9 292.4,1023.4 293.4,1023.4 294.3,1023.9 295.2,1023.5 296.1,1023.7 297,1023.7 297.9,1023.9 298.9,1023.4 299.8,1023.3 300.7,1023.2 301.6,1023.5 302.5,1023.5 303.4,1023.2 304.4,1022.6 305.3,1023.6 306.2,1023.5 307.1,1023 308,1023.8 308.9,1024.2 309.8,1023.2 310.8,1023 311.7,1023 312.6,1023.1 313.5,1023.1 314.4,1023.6 315.3,1023.1 316.3,1023.6 317.2,1023.8 318.1,1023.4 319,1023.7 319.9,1023.6 320.8,1023.5 321.8,1023.4 322.7,1023.2 323.6,1023.5 324.5,1023.4 325.4,1023.3 326.3,1023.2 327.3,1023.1 328.2,1023 329.1,1023.2 330,1023.1 330.9,1023 331.8,1023.2 332.7,1023.1 333.7,1023.4 334.6,1023.1 335.5,1022.9 336.4,1023.3 337.3,1022.8 338.2,1023.3 339.2,1022.8 340.1,1022.7 341,1023.1 341.9,1023.2 342.8,1023 343.7,1023.2 344.7,1023.4 345.6,1022.8 346.5,1023.6 347.4,1022.8 348.3,1023.3 349.2,1022.8 350.2,1023.2 351.1,1022.6 352,1023.2 352.9,1023.7 353.8,1022.2 354.7,1023 355.6,1023.1 356.6,1023 357.5,1023.1 358.4,1022.9 359.3,1023.2 360.2,1022.4 361.1,1023.2 362.1,1022.8 363,1022.6 363.9,1023.1 364.8,1022.8 365.7,1023.2 366.6,1023.3 367.6,1023.2 368.5,1022.7 369.4,1022.7 370.3,1023.3 371.2,1022.7 372.1,1023.3 373.1,1022.9 374,1022.8 374.9,1023.6 375.8,1022.8 376.7,1023.1 377.6,1023.4 378.5,1022.8 379.5,1022.9 380.4,1022.9 381.3,1023.1 382.2,1023.2 383.1,1023.4 384,1023.1 385,1023.3 385.9,1023.1 386.8,1022.9 387.7,1022.8 388.6,1022.9 389.5,1022.9 390.5,1023.1 391.4,1022.7" fill="none" stroke="#139013" stroke-width="4.0" stroke-linejoin="round" stroke-linecap="round"/>
<polyline points="162.6,1022.6 163.3,1023.2 164,1023.2 164.7,1023.3 165.3,1023.1 166,1023.2 166.7,1022.4 167.4,1022.6 168.1,1023.5 168.8,1022.7 169.5,1023.1 170.2,1023.6 170.8,1022.9 171.5,1023.2 172.2,1022.9 172.9,1022.8 173.6,1023.2 174.3,1022.5 175,1023 175.7,1023.3 176.3,1023.6 177,1022.3 177.7,1023.3 178.4,1023 179.1,1022.9 179.8,1022.7 180.5,1023.5 181.1,1023.8 181.8,1023 182.5,1023.5 183.2,1023.1 183.9,1022.3 184.6,1023.2 185.3,1022.8 186,1023.4 186.6,1022 187.3,1023.1 188,1022.9 188.7,1023.1 189.4,1023.2 190.1,1022.7 190.8,1023.1 191.5,1023.3 192.1,1023.2 192.8,1023.1 193.5,1023 194.2,1023 194.9,1023.3 195.6,1023.2 196.3,1022.3 196.9,1023.1 197.6,1022.6 198.3,1023.2 199,1022.9 199.7,1023.2 200.4,1023.7 201.1,1023.2 201.8,1022.7 202.4,1022.6 203.1,1022.7 203.8,1023.2 204.5,1023.1 205.2,1023.4 205.9,1022.9 206.6,1022.8 207.3,1023 207.9,1023.3 208.6,1022.9 209.3,1023 210,1022.9 210.7,1023.1 211.4,1023 212.1,1023.3 212.8,1023.3 213.4,1023.9 214.1,1023 214.8,1023 215.5,1023.4 216.2,1022.5 216.9,1022.6 217.6,1022.5 218.2,1023.1 218.9,1023.1 219.6,1022.9 220.3,1022.7 221,1022.5 221.7,1023.3 222.4,1023.1 223.1,1023.7 223.7,1023.1 224.4,1022.7 225.1,1022.8 225.8,1022.2 226.5,1022.8 227.2,1023.2 227.9,1023.3 228.6,1022.9 229.2,1022.5 229.9,1023.4 230.6,1023.3 231.3,1023 232,1023.1 232.7,1022.7 233.4,1023.2 234,1023 234.7,1023 235.4,1022.9 236.1,1022.6 236.8,1023.5 237.5,1023.6 238.2,1023.5 238.9,1023.1 239.5,1023 240.2,1022.8 240.9,1022.9 241.6,1023 242.3,1023.6 243,1023.2 243.7,1022.9 244.4,1023.4 245,1023.2 245.7,1023.2 246.4,1022.9 247.1,1023.3 247.8,1023.6 248.5,1023.1 249.2,1023.1 249.8,1022.7 250.5,1023.2 251.2,1023.1 251.9,1023.2 252.6,1023.2 253.3,1022.3 254,1023.9 254.7,1022.8 255.3,1023.3" fill="none" stroke="#7a10f0" stroke-width="4.3" stroke-linejoin="round" stroke-linecap="round"/>
<polyline points="256.8,829.6 257,817.1 257.3,811 257.6,806.7 257.9,803.3 258.1,800.1 258.4,796.4 258.7,792.5 259,788.5 259.2,784.7 259.5,781.2 259.8,778 260.1,775.2 260.3,772.9 260.6,770.6 260.9,769.4 261.2,766 261.4,765.1 261.7,762.4 262,760.7 262.3,760.1 262.5,760.9 262.8,760.3 263.1,759.9 263.4,758.6 263.6,758.5 263.9,758.4 264.2,758 264.5,757.7 264.7,757.5 265,756.7 265.3,757.6 265.6,757.4 265.8,758.5 266.1,758.1 266.4,757.6 266.7,757.8 266.9,756.9 267.2,756.3 267.5,757.1 267.8,757.1 267.9,757 268.4,756.5 268.9,756.8 269.3,756.1 269.8,756.1 270.2,756 270.7,755.7 271.1,756.1 271.6,756 272.1,755 272.5,756 273,755.5 273.4,755.9 273.9,756.2 274.4,756.2 274.8,756.4 275.3,755.8 275.7,756.2 276.2,756.1 276.6,755.1 277.1,755.9 277.6,755.1 278,755.6 278.5,755.2 278.9,756.1 279.4,755.6 279.8,754.1 280.3,755.2 280.8,755.1 281.2,755.5 281.7,755.2 282.1,756.4 282.6,756.2 283.1,755.4 283.5,755.1 284,755.9 284.4,755.7 284.9,755.8 285.3,755.7 285.8,756.3 286.3,756.5 286.7,755.6 287.2,756.6 287.6,756.1 288.1,755.9 288.6,756.2 289,755.4 289.5,755.8 289.9,755.5 290.4,756.1 290.8,755.9 291.3,755.1 291.8,755.2 292.2,755.7 292.7,755.1 293.1,755.2 293.6,755.2 294,754.3 294.5,755.5 295,755 295.4,754.9 295.9,755.3 296.3,755.8 296.8,754.7 297.3,754.9 297.7,755 298.2,754.9 298.6,754.9 299.1,755.4 299.5,754.6 300,755.9 300.5,754.8 300.9,755.6 301.4,754.9 301.8,754.2 302.3,754.7 302.7,754.8 303.2,754.1 303.7,754.6 304.1,754.6 304.6,754.6 305,753.4 305.5,753.8 306,753.9 306.4,754.8 306.9,753.7 307.3,754.8 307.8,753.7 308.2,754.6 308.7,752.7 309.2,754.9 309.6,753.1 310.1,753.3 310.5,754.8 311,753.8 311.4,752.7 311.9,752.9 312.4,754.5 312.8,753.8 313.3,754.2 313.7,754 314.2,753.8 314.7,752.2 315.1,753.2 315.6,753.4 316,753.5 316.5,752.8 316.9,752.8 317.4,753.7 317.9,752.3 318.3,753.8 318.8,753.3 319.2,752.8 319.7,752 320.2,753.3 320.6,752.9 321.1,752.2 321.5,752.6 322,752.3 322.4,752.4 322.9,752.9 323.4,752.6 323.8,752.5 324.3,753 324.7,752 325.2,754.2 325.6,753.6 326.1,752.1 326.6,752.8 327,753.4 327.5,752.8 327.9,752.4 328.4,753.4 328.9,752.6 329.3,753.1 329.8,753.1 330.2,753.1 330.7,752.4 331.1,753.7 331.6,753.3 332.1,752.6 332.5,753.8 333,754 333.4,752.7 333.9,753 334.4,753.1 334.8,753 335.3,753.6 335.7,751.3 336.2,753.7 336.6,753.3 337.1,753.9 337.6,753.3 338,752.2 338.5,753.1 338.9,752.7 339.4,753.4 339.8,752 340.3,753 340.8,753.9 341.2,752.6 341.7,753.3 342.1,752.7 342.6,753 343.1,753 343.5,753 344,753.7 344.4,754 344.9,752.5 345.3,753.2 345.8,753 346.3,753.4 346.7,754.4 347.2,753.9 347.6,752.3 348.1,753.6 348.5,753.4 349,754.1 349.5,753.5 349.9,753.4 350.4,753.3 350.8,753.2 351.3,753.6 351.8,753.5 352.2,753.2 352.7,753 353.1,753.3 353.6,752.2 354,753.1 354.5,753.1 355,753.6 355.4,752.6 355.9,753.9 356.3,754.2 356.8,753.8 357.2,752.9 357.7,753.9 358.2,752.5 358.6,753.3 359.1,754.2 359.5,753.4 360,752.2 360.5,753.8 360.9,754.1 361.4,753 361.8,752.5 362.3,752.7 362.7,753.5 363.2,753.2 363.7,753.1 364.1,752.6 364.6,752 365,753.3 365.5,752.5 366,753.5 366.4,752.9 366.9,753.9 367.3,753.7 367.8,753 368.2,753.8 368.7,752.8 369.2,753.6 369.6,753.2 370.1,753.3 370.5,753.5 371,753.2 371.4,752.6 371.9,751.4 372.4,754 372.8,753.1 373.3,753.4 373.7,753.8 374.2,753.1 374.7,753.8 375.1,753.3 375.6,752.5 376,754.5 376.5,753.1 376.9,753 377.4,753.8 377.9,752.9 378.3,753 378.8,753.4 379.2,752.5 379.7,754 380.1,752.8 380.6,753.4 381.1,753.9 381.5,753.3 382,753.4 382.4,752.7 382.9,754.1 383.4,753.3 383.8,753.5 384.3,752.2 384.7,753.8 385.2,752.5 385.6,754.2 386.1,752.9 386.6,753.2 387,752.9 387.5,753.6 387.9,754.3 388.4,754.1 388.9,752.3 389.3,753 389.8,753.6 390.2,752.5 390.7,753.5 391.1,753.5 391.6,753.8 392.1,752.4 392.5,751.9 393,753.6 393.4,752.9 393.9,752.4 394.3,751.7 394.8,754.5 395.3,752.9 395.7,752.6 396.2,753.9 396.6,752.7 397.1,752.9 397.6,752.5 398,753.3 398.5,752.7 398.9,753.3 399.4,752.6 399.8,752.8 400.3,753.1 400.8,753.8 401.2,751.9 401.7,752.2 402.1,752.3 402.6,753.3 403,753.1 403.5,751.8 404,752.4 404.4,753.3 404.9,752.8 405.3,752.7 405.8,752.9 406.3,753.4 406.7,752 407.2,752.4 407.6,752.9 408.1,753.7 408.5,753.1 409,752.7 409.5,752.2 409.9,752.9 410.4,752 410.8,752.6 411.3,753.1 411.8,754.3 412.2,753.4 412.7,753.5 413.1,752.7 413.6,752.4 414,751.8 414.5,752.6 415,753.3 415.4,751.2 415.9,752.4 416.3,752.7 416.8,752.7 417.2,753.4 417.7,752.1 418.2,752.3 418.6,751.5 419.1,751.8 419.5,752 420,751.7 420.5,752.6 420.9,752.7 421.4,752.5 421.8,753.2 422.3,752.5 422.7,752.6 423.2,752 423.7,752.4 424.1,753.5 424.6,752.4 425,751.5 425.5,753.5 425.9,752.8 426.4,752.3 426.9,753.1 427.3,752.7 427.8,752.3 428.2,753.1 428.7,752.1 429.2,752 429.6,753.1 430.1,752.3 430.5,751.6 431,752.4 431.4,752 431.9,751.9 432.4,752.4 432.8,751.6 433.3,752 433.7,752.8 434.2,751.9 434.7,751.7 435.1,751.7 435.6,752.6 436,751.9 436.5,751.3 436.9,752 437.4,751.5 437.9,751.4 438.3,752.2 438.8,751.7 439.2,752.3 439.7,751.5 440.1,752.2 440.6,752.5 441.1,752.1 441.5,752.2 442,751.9 442.4,751.8 442.9,752.8 443.4,752.5 443.8,751.9 444.3,751.8 444.7,752 445.2,750.5 445.6,751.4 446.1,752.1 446.6,751.6 447,751.2 447.5,751.8 447.9,753.1 448.4,752 448.9,752 449.3,750.7 449.8,753.1 450.2,751.1 450.7,752.1 451.1,751.4 451.6,752.2 452.1,751.9 452.5,751.3 453,751.9 453.4,751.3 453.9,752 454.3,752.2 454.8,752.1 455.3,752.2 455.7,752 456.2,751.1 456.6,752.6 457.1,752.9 457.6,751.9 458,750.9 458.5,751.3 458.9,751.1 459.4,751.1 459.8,752.3 460.3,751.8 460.8,753.5 461.2,752.2 461.7,751.5 462.1,752.8 462.6,753.1 463,752.6 463.5,751.7 464,751.1 464.4,750.3 464.9,751 465.3,752.7 465.8,753.2 466.3,751.7 466.7,751.2 467.2,752.8 467.6,752.1 468.1,752.1 468.5,751.8 469,751.9 469.5,751.5 469.9,751.1 470.4,751.7 470.8,751.3 471.3,750.5 471.8,752.4 472.2,752.4 472.7,751.4 473.1,750.6 473.6,751.6 474,751.1 474.5,751.9 475,751.2 475.4,752.1 475.9,751.3 476.3,751.5 476.8,751.4 477.2,750.8 477.7,751 478.2,752 478.6,751.1 479.1,752.7 479.5,751.1 480,750 480.5,751.3 480.9,751.3 481.4,751.6 481.8,751.1 482.3,751.9 482.7,751.2 483.2,751.8 483.7,751.9 484.1,751.5 484.6,751.6 485,752.6 485.5,750.3 485.9,751.5 486.4,752.6 486.9,750.9 487.3,751.6 487.8,751.4 488.2,751.1 488.7,752.1 489.2,753.3 489.6,751.6 490.1,751.4 490.5,750.9 491,752 491.4,751.7 491.9,751.3 492.4,751.7 492.8,751.7 493.3,751.4 493.7,752.1 494.2,750.5 494.6,752.1 495.1,751.5 495.6,751.7 496,751.9 496.5,751.2 496.9,750.9 497.4,750.6 497.9,751.1 498.3,751.7 498.8,750.9 499.2,752.3 499.7,751.4 500.1,751.1 500.6,751.1 501.1,752.1 501.5,752.4 502,750.4 502.4,751.7 502.9,752.4 503.4,752.2 503.8,751.4 504.3,750.7 504.7,751.4 505.2,750.7 505.6,751.3 506.1,751.1 506.6,750.8 507,751.6 507.5,751.2 507.9,751.6 508.4,751.8 508.8,751 509.3,751.9 509.8,751.4 510.2,751.9 510.7,751.4 511.1,751.7 511.6,750.7 512.1,751.3 512.5,751.3 513,750.4 513.4,753.1 513.9,752.1 514.3,753 514.8,751.4 515.3,751.1 515.7,751 516.2,751.2 516.6,751.9 517.1,750.3 517.5,751.2 518,751.5 518.5,752 518.9,751.1 519.4,751.7 519.8,751.6 520.3,751.2 520.8,751.2 521.2,751.8 521.7,750.6 522.1,752 522.6,752 523,751.2 523.5,751.3 524,751.3 524.4,751.6 524.9,751.3 525.3,751.7 525.8,752.3 526.3,750.9 526.7,751.9 527.2,751.5 527.6,750.9 528.1,751.3 528.5,749.7 529,752.2 529.5,751.8 529.9,751.3 530.4,750.5 530.8,751.5 531.3,752.2 531.7,750.6 532.2,751.8 532.7,751.4 533.1,750.8 533.6,751.7 534,751.6 534.5,751 535,751.4 535.4,751.1 535.9,751.8 536.3,751.3 536.8,751.9 537.2,752.2 537.7,750.2 538.2,751 538.6,750.7 539.1,751.8 539.5,751.3 540,751.4 540.5,752.1 540.9,750.9 541.4,751.7 541.8,751.4 542.3,752.2 542.7,750.6 543.2,750.8 543.7,751 544.1,751.8 544.6,751.6 545,750.5 545.5,751.4 545.9,751.1 546.4,751.1 546.9,751.9 547.3,750.3 547.8,752.4 548.2,751.1 548.7,751.3 549.2,752.2 549.6,751 550.1,750.9 550.5,751.2 551,751.7 551.4,750.9 551.9,750.5 552.4,751 552.8,750.1 553.3,750.7 553.7,750.7 554.2,750.3 554.6,751.6 555.1,751.5 555.6,750.9 556,750.8 556.5,750.2 556.9,750.5 557.4,751 557.9,751 558.3,751.3 558.8,751.4 559.2,751.4 559.7,750.6 560.1,751.4 560.6,751.3 561.1,751 561.5,751.4 562,751.3 562.4,752.4 562.9,750.9 563.4,751.3 563.8,751 564.3,750.9 564.7,752.2 565.2,749.6 565.6,751 566.1,751 566.6,752.2 567,750.7 567.5,750.8 567.9,751.3 568.4,750.9 568.8,750.3 569.3,751.2 569.8,751.6 570.2,750.2 570.7,750.8 571.1,751.1 571.6,749.6 572.1,750.9 572.5,751.1 573,750.8 573.4,751.2 573.9,750.9 574.3,750.9 574.8,751.4 575.3,751.1 575.7,750.8 576.2,750.7 576.6,750.6 577.1,750.5 577.5,750.8 578,750.7 578.5,751.2 578.9,751.1 579.4,750.3 579.8,752.2 580.3,750.7 580.8,749.1 581.2,752.1 581.7,750.1 582.1,752 582.6,750.8 583,750 583.5,750.1 584,751.5 584.4,751.8 584.9,751.8 585.3,750.5 585.8,751.2 586.2,751 586.7,750.8 587.2,750.7 587.6,750.7 588.1,750.9 588.5,751.9 589,750.1 589.5,752.6 589.9,750.2 590.4,751.3 590.8,751.1 591.3,751.3 591.7,751.2 592.2,751 592.7,751.1 593.1,751.6 593.6,750.4 594,751.3 594.5,750.1 595,751 595.4,751.4 595.9,750.7 596.3,750.4 596.8,751.5 597.2,751.1 597.7,750.1 598.2,751.5 598.6,751.5 599.1,750.8 599.5,751.7 600,752.4 600.4,751.9 600.9,750.7 601.4,750.5 601.8,750.6 602.3,750.7 602.7,751.7 603.2,750.5 603.7,750.2 604.1,751.3 604.6,750.3 605,751.1 605.5,750.8 605.9,750.7 606.4,751.8 606.9,750 607.3,751.4 607.8,751 608.2,751.2 608.7,750.6 609.1,750.6 609.6,750.9 610.1,750 610.5,750.7 611,751.1 611.4,752.6 611.9,751.1 612.4,751.1 612.8,751.4 613.3,751.4 613.7,750.5 614.2,750.2 614.6,749.7 615.1,750.2 615.6,751.3 616,750.7 616.5,751.7 616.9,750.4 617.4,750.6 617.9,751.2 618.3,750.9 618.8,751 619.2,751.2 619.7,750.1 620.1,749 620.6,750.3 621.1,750.2 621.5,750.7 622,751.1 622.4,749.5 622.9,751.1 623.3,750.6 623.8,750.9 624.3,750.5 624.7,750.9 625.2,750.5 625.6,751.6 626.1,750.9 626.6,750 627,751.4 627.5,751.2 627.9,750 628.4,750.6 628.8,750.2 629.3,752.2 629.8,750.7 630.2,751.6 630.7,751.6 631.1,750.6 631.6,750.1 632,751.7 632.5,751.5 633,751.1 633.4,750.9 633.9,751.6 634.3,749.4 634.8,750.4 635.3,751 635.7,751.1 636.2,749.4 636.6,749.4 637.1,751.1 637.5,750.6 638,750 638.5,751.5 638.9,751.1 639.4,750 639.8,751.2 640.3,751 640.8,751.6 641.2,751.2 641.7,750.4 642.1,751.3 642.6,751.6 643,751.1 643.5,749.7 644,750.7 644.4,751.1 644.9,750.7 645.3,750.5 645.8,750.7 646.2,751.9 646.7,750.6 647.2,750.9 647.6,750.2 648.1,751.6 648.5,750.1 649,751.1 649.5,751.8 649.9,749.9 650.4,751.1 650.8,750.5 651.3,750.8 651.7,750.1 652.2,750.1 652.7,750.1 653.1,750.3 653.6,751.7 654,751.8 654.5,750.6 655,751.3 655.4,750.4 655.9,750.6 656.3,751.6 656.8,751.4 657.2,751.4 657.7,751.3 658.2,750.8 658.6,750.3 659.1,749.9 659.5,751.3 660,751.1 660.4,749.8 660.9,750.2 661.4,750.6 661.8,752.1 662.3,751.3 662.7,750.6 663.2,751.1 663.7,749.5 664.1,750.6 664.6,750.5 665,751.4 665.5,751.3 665.9,751.1 666.4,751.1 666.9,750.8 667.3,750.5 667.8,750.5 668.2,750.1 668.7,751.5 669.1,750.6 669.6,750.5 670.1,749.7 670.5,750.8 671,750.5 671.4,751.2 671.9,750.4 672.4,750.4 672.8,751 673.3,750.9 673.7,750.7 674.2,750.3 674.6,751.4 675.1,750.1 675.6,750.9 676,749.5 676.5,749.8 676.9,750.9 677.4,751 677.9,749.1 678.3,750.3 678.8,750.3 679.2,750.9 679.7,750.7 680.1,750.1 680.6,750.3 681.1,751.1 681.5,749.9 682,750.4 682.4,751.2 682.9,750 683.3,750.7 683.8,750.1 684.3,751 684.7,750.4 685.2,751.6 685.6,750.4 686.1,751.5 686.6,750.5 687,752.2 687.5,750.6 687.9,750.2 688.4,750.3 688.8,749.9 689.3,751.3 689.8,749.6 690.2,749.6 690.7,751.3 691.1,751.1 691.6,750.9 692,750.6 692.5,750.5 693,752.1 693.4,750.2 693.9,750.7 694.3,751.2 694.8,750 695.3,750.8 695.7,749.9 696.2,750.2 696.6,750.8 697.1,749.9 697.5,750.1 698,750.9 698.5,751.5 698.9,750.9 699.4,750.2 699.8,750.7 700.3,749.5 700.8,750.4 701.2,750.4 701.7,750.3 702.1,751.1 702.6,750.6 703,750.9 703.5,752 704,751.6 704.4,750.1 704.9,750.8 705.3,750.6 705.8,751.4 706.2,750.9 706.7,750 707.2,750.5 707.6,750.8 708.1,749.6 708.5,750.6 709,750.7 709.5,749.8 709.9,751.6 710.4,750.2 710.8,751.2 711.3,751 711.7,750.9 712.2,750.4" fill="none" stroke="#6a08e8" stroke-width="3.9" stroke-linejoin="round" stroke-linecap="round"/>
<line x1="255.3" y1="748.3" x2="255.3" y2="1017.5" stroke="#139013" stroke-width="1"/>
<line x1="256" y1="748.3" x2="256" y2="926.9" stroke="#2a1a80" stroke-width="1.4"/>
<line x1="256.7" y1="825.2" x2="255.9" y2="1023" stroke="#8000ff" stroke-width="2.4" stroke-dasharray="3.2 0.9"/>
<line x1="257.2" y1="924.1" x2="257.9" y2="1009.3" stroke="#0a0a64" stroke-width="1.9" stroke-dasharray="2.6 1.2"/>
<circle cx="254.9" cy="777.1" r="1.5" fill="#139013"/>
<path d="M254.3 765.6l3.6 1.9l-3.6 1.9z" fill="#0a0a64"/>
<circle cx="254.9" cy="801.9" r="1.5" fill="#139013"/>
<path d="M254.3 790.4l3.6 1.9l-3.6 1.9z" fill="#0a0a64"/>
<circle cx="254.9" cy="862.3" r="1.5" fill="#139013"/>
<path d="M254.3 850.8l3.6 1.9l-3.6 1.9z" fill="#0a0a64"/>
<circle cx="254.9" cy="903.5" r="1.5" fill="#139013"/>
<path d="M254.3 892l3.6 1.9l-3.6 1.9z" fill="#0a0a64"/>
<circle cx="254.9" cy="942" r="1.5" fill="#139013"/>
<path d="M254.3 930.4l3.6 1.9l-3.6 1.9z" fill="#0a0a64"/>
<circle cx="254.9" cy="977.7" r="1.5" fill="#139013"/>
<path d="M254.3 966.2l3.6 1.9l-3.6 1.9z" fill="#0a0a64"/>
<circle cx="254.9" cy="1005.1" r="1.5" fill="#139013"/>
<path d="M254.3 993.6l3.6 1.9l-3.6 1.9z" fill="#0a0a64"/>
<path d="M255.1 1007.8l3.4 0l-1.7 3z" fill="#8000ff"/>
<path d="M255.2 988.5l3.4 0l-1.7 3z" fill="#8000ff"/>
<path d="M255.4 963.8l3.4 0l-1.7 3z" fill="#8000ff"/>
<path d="M255.5 939.1l3.4 0l-1.7 3z" fill="#8000ff"/>
<path d="M255.6 917.1l3.4 0l-1.7 3z" fill="#8000ff"/>
<path d="M255.8 895.1l3.4 0l-1.7 3z" fill="#8000ff"/>
<path d="M255.8 878.7l3.4 0l-1.7 3z" fill="#8000ff"/>
<path d="M255.9 862.2l3.4 0l-1.7 3z" fill="#8000ff"/>
<path d="M256 848.4l3.4 0l-1.7 3z" fill="#8000ff"/>
<path d="M256.1 837.5l3.4 0l-1.7 3z" fill="#8000ff"/>
<path d="M256.1 829.2l3.4 0l-1.7 3z" fill="#8000ff"/>
<polyline points="256.7,1009.3 257.2,1011.9 257.6,1012.8 258.1,1013.5 258.6,1013.8 259,1014 259.5,1014.8 259.9,1015.1 260.4,1014.9 260.8,1014.9 261.3,1015.5 261.8,1016 262.2,1016.1 262.7,1015.8 263.1,1015.9 263.6,1016.4 264,1016.7 264.5,1016.5 265,1017.1 265.4,1017.1 265.9,1017.2 266.3,1017.4 266.8,1017.3 267.3,1017.7 267.7,1017.6 268.2,1017.6 268.6,1017.7 269.1,1017.7 269.5,1018.1 270,1018.5 270.5,1018.2 270.9,1018.3 271.4,1018.4 271.8,1018.6 272.3,1018.5 272.5,1018.8 274.4,1018.7 276.2,1018.8 278,1019.3 279.8,1019.5 281.7,1019.6 283.5,1019.8 285.3,1020 287.2,1020.2 289,1020.4 290.8,1020.2 292.7,1020.8 294.5,1020.4 296.3,1020.9 298.2,1020.7 300,1021 301.8,1021.2 303.7,1021.1 305.5,1021.2 307.3,1020.8 309.2,1021.2 311,1021.3 312.8,1021.4 314.7,1021.3 316.5,1021.3 318.3,1021.2 320.2,1021.5 322,1021.6 323.8,1021.4 325.6,1021.3 327.5,1021.4 329.3,1021.7 331.1,1021.6 333,1021.5 334.8,1021.7 336.6,1021.9 338.5,1021.6 340.3,1021.8 342.1,1021.7 344,1021.6 345.8,1021.9 347.6,1022 349.5,1021.9 351.3,1021.7 353.1,1021.9 355,1021.8 356.8,1022 358.6,1021.8 360.5,1022 362.3,1022.1 364.1,1022 366,1022 367.8,1022.1 369.6,1022 371.4,1021.9 373.3,1022.2 375.1,1022.4 376.9,1022.1 378.8,1021.8 380.6,1022 382.4,1022.4 384.3,1022.1 386.1,1022 387.9,1022.1 389.8,1021.9 391.6,1022.1 393.4,1022.7 395.3,1022.2 397.1,1022.4 398.9,1022.5 400.8,1022.6 402.6,1022.6 404.4,1022.4 406.3,1022.2 408.1,1022.2 409.9,1022.3 411.8,1022.2 413.6,1022.5 415.4,1022.6 417.2,1022.2 419.1,1022.4 420.9,1022.6 422.7,1022.4 424.6,1022.7 426.4,1022.3 428.2,1022.8 430.1,1022.7 431.9,1022.7 433.7,1022.7 435.6,1022.9 437.4,1022.6 439.2,1022.7 441.1,1022.8 442.9,1022.7 444.7,1022.9 446.6,1022.7 448.4,1023 450.2,1023.1 452.1,1023 453.9,1023 455.7,1022.9 457.6,1022.9 459.4,1022.8 461.2,1023.3 463,1023.4 464.9,1023.1 466.7,1023 468.5,1023.1 470.4,1023.3 472.2,1023.3 474,1023.4 475.9,1023.1 477.7,1023.4 479.5,1023.4 481.4,1023.7 483.2,1023.3 485,1023.5 486.9,1023.6 488.7,1023.6 490.5,1023.6 492.4,1023.2" fill="none" stroke="#0a0a64" stroke-width="4.2" stroke-linejoin="round" stroke-linecap="round"/>
<polyline points="492.4,1023.4 493.7,1023.5 495.1,1024 496.5,1024.2 497.9,1024.5 499.2,1024 500.6,1023.7 502,1023.7 503.4,1024.3 504.7,1023.6 506.1,1024.1 507.5,1023.5 508.8,1024 510.2,1023.9 511.6,1024.2 513,1024.2 514.3,1024 515.7,1023.8 517.1,1023.8 518.5,1024.2 519.8,1024.4 521.2,1023.9 522.6,1023.6 524,1024.2 525.3,1024.2 526.7,1024.2 528.1,1024 529.5,1023.8 530.8,1024.4 532.2,1024 533.6,1023.6 535,1023.9 536.3,1024.4 537.7,1024.6 539.1,1024.1 540.5,1023.7 541.8,1023.9 543.2,1023.7 544.6,1024.3 545.9,1024.1 547.3,1024.4 548.7,1024 550.1,1024.3 551.4,1024.5 552.8,1024.3 554.2,1024 555.6,1023.9 556.9,1024 558.3,1023.4 559.7,1024 561.1,1024.5 562.4,1023.9 563.8,1024.5 565.2,1024.6 566.6,1024 567.9,1024.4 569.3,1024.3 570.7,1024.4 572.1,1024.3 573.4,1024.8 574.8,1024 576.2,1023.9 577.5,1024.4 578.9,1023.9 580.3,1024 581.7,1023.9 583,1023.8 584.4,1024.7 585.8,1024 587.2,1024.4 588.5,1024.1 589.9,1024.4 591.3,1023.6 592.7,1023.8 594,1024.3 595.4,1024.2 596.8,1024.3 598.2,1024.3 599.5,1024 600.9,1024.7 602.3,1024.8 603.7,1024 605,1024.2 606.4,1024.5 607.8,1024.6 609.1,1024.9 610.5,1024.5 611.9,1024.9 613.3,1024.3 614.6,1024.3 616,1024.6 617.4,1024.1 618.8,1024.1 620.1,1024.3 621.5,1024.7 622.9,1024.6 624.3,1024.7 625.6,1025.1 627,1024.4 628.4,1024.2 629.8,1024.9 631.1,1024.3 632.5,1024.5 633.9,1024.4 635.3,1024.2 636.6,1024.1 638,1024.7 639.4,1024.2 640.8,1024.6 642.1,1025.3 643.5,1023.8 644.9,1024.5 646.2,1024.6 647.6,1024 649,1024.3 650.4,1024.7 651.7,1024.4 653.1,1024.4 654.5,1024.6 655.9,1025.3 657.2,1024.5 658.6,1024.8 660,1024.9 661.4,1024.5 662.7,1023.8 664.1,1024.9 665.5,1024.4 666.9,1025 668.2,1025.1 669.6,1024.7 671,1024.2 672.4,1024.4 673.7,1024.5 675.1,1024.1 676.5,1024.4 677.9,1024.8 679.2,1024.9 680.6,1024.7 682,1024.4 683.3,1024.7 684.7,1024.7 686.1,1024.8 687.5,1024.8 688.8,1025 690.2,1024.9 691.6,1024 693,1024.2 694.3,1024.1 695.7,1024.6 697.1,1024.6 698.5,1024.3 699.8,1024.7 701.2,1024.2 702.6,1024.6 704,1024.4 705.3,1024.9 706.7,1024 708.1,1024.6 709.5,1024.4 710.8,1024.9 712.2,1024.9" fill="none" stroke="#0a0a64" stroke-width="3.6" stroke-linejoin="round" stroke-linecap="round" stroke-opacity="0.7"/>
<text x="331.5" y="727.3" font-size="33.5" fill="#7030a0"><tspan font-size="21.5" dy="-16">13</tspan><tspan dy="16" dx="-0.6">CO</tspan><tspan font-size="21.5" dy="8.3" dx="1">2</tspan></text>
<line x1="344.2" y1="719" x2="329" y2="736.1" stroke="#7030a0" stroke-width="1.3"/>
<polygon points="322.1,743.8 326.1,733.6 331.8,738.6" fill="#7030a0"/>
<text x="417.5" y="855.6" font-size="33.5" fill="#f32cc4"><tspan font-size="21.5" dy="-16">13</tspan><tspan dy="16" dx="-0.6">CO</tspan></text>
<line x1="406.3" y1="828" x2="388.3" y2="814.8" stroke="#f32cc4" stroke-width="1.3"/>
<polygon points="380,808.7 390.6,811.7 386.1,817.9" fill="#f32cc4"/>
<text x="415.5" y="967.2" font-size="33.5" fill="#0a0af0"><tspan font-size="21.5" dy="-16">12</tspan><tspan dy="16" dx="-0.6">CO</tspan></text>
<line x1="415" y1="959.4" x2="400.7" y2="975.8" stroke="#0a0af0" stroke-width="1.3"/>
<polygon points="393.9,983.5 397.8,973.2 403.5,978.3" fill="#0a0af0"/>
<text x="287.5" y="1005.1" font-size="33.5" fill="#1f4e79"><tspan font-size="21.5" dy="-16">12</tspan><tspan dy="16" dx="-0.6">CO</tspan><tspan font-size="21.5" dy="8.3" dx="1">2</tspan></text>
<line x1="287.2" y1="998.7" x2="280.8" y2="1005.8" stroke="#1f4e79" stroke-width="1.3"/>
<polygon points="273.7,1013.6 277.9,1003.2 283.6,1008.4" fill="#1f4e79"/>
<text x="302.5" y="1063.7" font-size="33.5" text-anchor="start" fill="#1a7a1a" >Ar</text>
<line x1="298.3" y1="1046.2" x2="281.9" y2="1033" stroke="#375623" stroke-width="1.3"/>
<polygon points="273.7,1026.4 284.3,1029.9 279.4,1036" fill="#375623"/>
</g>
<rect x="162.5" y="639" width="549.3" height="439.5" fill="none" stroke="#111" stroke-width="1.5"/>
</g>
<g id="pc">
<defs><linearGradient id="g0" gradientUnits="userSpaceOnUse" x1="163" x2="633.4" y1="0" y2="0"><stop offset="0" stop-color="#2700ff"/><stop offset="1" stop-color="#2c00ff"/></linearGradient><linearGradient id="g1" gradientUnits="userSpaceOnUse" x1="163" x2="633.4" y1="0" y2="0"><stop offset="0" stop-color="#2700ff"/><stop offset="1" stop-color="#2b00ff"/></linearGradient><linearGradient id="g2" gradientUnits="userSpaceOnUse" x1="163" x2="633.4" y1="0" y2="0"><stop offset="0" stop-color="#2700ff"/><stop offset="1" stop-color="#2a00ff"/></linearGradient><linearGradient id="g3" gradientUnits="userSpaceOnUse" x1="163" x2="633.4" y1="0" y2="0"><stop offset="0" stop-color="#2600ff"/><stop offset="1" stop-color="#2900ff"/></linearGradient><linearGradient id="g4" gradientUnits="userSpaceOnUse" x1="163" x2="633.4" y1="0" y2="0"><stop offset="0" stop-color="#2600ff"/><stop offset="1" stop-color="#2800ff"/></linearGradient><linearGradient id="g5" gradientUnits="userSpaceOnUse" x1="163" x2="633.4" y1="0" y2="0"><stop offset="0" stop-color="#2600ff"/><stop offset="1" stop-color="#2500ff"/></linearGradient><linearGradient id="g6" gradientUnits="userSpaceOnUse" x1="163" x2="633.4" y1="0" y2="0"><stop offset="0" stop-color="#2500ff"/><stop offset="1" stop-color="#2100ff"/></linearGradient><linearGradient id="g7" gradientUnits="userSpaceOnUse" x1="163" x2="633.4" y1="0" y2="0"><stop offset="0" stop-color="#2500ff"/><stop offset="1" stop-color="#1c00ff"/></linearGradient><linearGradient id="g8" gradientUnits="userSpaceOnUse" x1="163" x2="633.4" y1="0" y2="0"><stop offset="0" stop-color="#2500ff"/><stop offset="0.3974" stop-color="#2100ff"/><stop offset="1" stop-color="#1800ff"/></linearGradient><linearGradient id="g9" gradientUnits="userSpaceOnUse" x1="163" x2="633.4" y1="0" y2="0"><stop offset="0" stop-color="#2400ff"/><stop offset="0.3374" stop-color="#2000ff"/><stop offset="1" stop-color="#1300ff"/></linearGradient><linearGradient id="g10" gradientUnits="userSpaceOnUse" x1="163" x2="633.4" y1="0" y2="0"><stop offset="0" stop-color="#2400ff"/><stop offset="0.2911" stop-color="#1f00ff"/><stop offset="0.7405" stop-color="#1000ff"/><stop offset="1" stop-color="#0f00ff"/></linearGradient><linearGradient id="g11" gradientUnits="userSpaceOnUse" x1="163" x2="633.4" y1="0" y2="0"><stop offset="0" stop-color="#2400ff"/><stop offset="0.2602" stop-color="#1e00ff"/><stop offset="0.6548" stop-color="#0c00ff"/><stop offset="1" stop-color="#0a00ff"/></linearGradient><linearGradient id="g12" gradientUnits="userSpaceOnUse" x1="163" x2="633.4" y1="0" y2="0"><stop offset="0" stop-color="#2300ff"/><stop offset="0.2293" stop-color="#1e00ff"/><stop offset="0.5896" stop-color="#0900ff"/><stop offset="1" stop-color="#0500ff"/></linearGradient><linearGradient id="g13" gradientUnits="userSpaceOnUse" x1="163" x2="633.4" y1="0" y2="0"><stop offset="0" stop-color="#2300ff"/><stop offset="0.2053" stop-color="#1d00ff"/><stop offset="0.5896" stop-color="#0300ff"/><stop offset="1" stop-color="#0001ff"/></linearGradient><linearGradient id="g14" gradientUnits="userSpaceOnUse" x1="163" x2="633.4" y1="0" y2="0"><stop offset="0" stop-color="#2300ff"/><stop offset="0.1847" stop-color="#1c00ff"/><stop offset="0.4746" stop-color="#0100ff"/><stop offset="1" stop-color="#0006ff"/></linearGradient><linearGradient id="g15" gradientUnits="userSpaceOnUse" x1="163" x2="633.4" y1="0" y2="0"><stop offset="0" stop-color="#2000ff"/><stop offset="0.1778" stop-color="#1a00ff"/><stop offset="0.4317" stop-color="#0003ff"/><stop offset="1" stop-color="#000bff"/></linearGradient><linearGradient id="g16" gradientUnits="userSpaceOnUse" x1="163" x2="633.4" y1="0" y2="0"><stop offset="0" stop-color="#1d00ff"/><stop offset="0.1744" stop-color="#1700ff"/><stop offset="0.3683" stop-color="#0004ff"/><stop offset="0.9121" stop-color="#0010ff"/><stop offset="1" stop-color="#0010ff"/></linearGradient><linearGradient id="g17" gradientUnits="userSpaceOnUse" x1="163" x2="633.4" y1="0" y2="0"><stop offset="0" stop-color="#1900ff"/><stop offset="0.1744" stop-color="#1300ff"/><stop offset="0.3116" stop-color="#0004ff"/><stop offset="0.6548" stop-color="#0014ff"/><stop offset="1" stop-color="#0015ff"/></linearGradient><linearGradient id="g18" gradientUnits="userSpaceOnUse" x1="163" x2="633.4" y1="0" y2="0"><stop offset="0" stop-color="#1600ff"/><stop offset="0.1744" stop-color="#1000ff"/><stop offset="0.2739" stop-color="#0005ff"/><stop offset="0.5347" stop-color="#0017ff"/><stop offset="1" stop-color="#001aff"/></linearGradient><linearGradient id="g19" gradientUnits="userSpaceOnUse" x1="163" x2="633.4" y1="0" y2="0"><stop offset="0" stop-color="#1200ff"/><stop offset="0.171" stop-color="#0d00ff"/><stop offset="0.2379" stop-color="#0005ff"/><stop offset="0.4317" stop-color="#0019ff"/><stop offset="1" stop-color="#001fff"/></linearGradient><linearGradient id="g20" gradientUnits="userSpaceOnUse" x1="163" x2="633.4" y1="0" y2="0"><stop offset="0" stop-color="#0f00ff"/><stop offset="0.1675" stop-color="#0a00ff"/><stop offset="0.2156" stop-color="#0007ff"/><stop offset="0.3974" stop-color="#001dff"/><stop offset="1" stop-color="#0026ff"/></linearGradient><linearGradient id="g21" gradientUnits="userSpaceOnUse" x1="163" x2="633.4" y1="0" y2="0"><stop offset="0" stop-color="#0c00ff"/><stop offset="0.1538" stop-color="#0700ff"/><stop offset="0.2053" stop-color="#000cff"/><stop offset="0.3974" stop-color="#0023ff"/><stop offset="1" stop-color="#002eff"/></linearGradient><linearGradient id="g22" gradientUnits="userSpaceOnUse" x1="163" x2="633.4" y1="0" y2="0"><stop offset="0" stop-color="#0500ff"/><stop offset="0.1607" stop-color="#0005ff"/><stop offset="0.2911" stop-color="#0022ff"/><stop offset="0.6548" stop-color="#0033ff"/><stop offset="1" stop-color="#0035ff"/></linearGradient><linearGradient id="g23" gradientUnits="userSpaceOnUse" x1="163" x2="633.4" y1="0" y2="0"><stop offset="0" stop-color="#0004ff"/><stop offset="0.1504" stop-color="#0009ff"/><stop offset="0.2739" stop-color="#0026ff"/><stop offset="0.5896" stop-color="#0039ff"/><stop offset="1" stop-color="#003cff"/></linearGradient><linearGradient id="g24" gradientUnits="userSpaceOnUse" x1="163" x2="633.4" y1="0" y2="0"><stop offset="0" stop-color="#000dff"/><stop offset="0.1504" stop-color="#0012ff"/><stop offset="0.2739" stop-color="#002dff"/><stop offset="0.5896" stop-color="#0040ff"/><stop offset="1" stop-color="#0043ff"/></linearGradient><linearGradient id="g25" gradientUnits="userSpaceOnUse" x1="163" x2="633.4" y1="0" y2="0"><stop offset="0" stop-color="#0016ff"/><stop offset="0.1504" stop-color="#001aff"/><stop offset="0.2911" stop-color="#0037ff"/><stop offset="0.6548" stop-color="#0048ff"/><stop offset="1" stop-color="#004aff"/></linearGradient><linearGradient id="g26" gradientUnits="userSpaceOnUse" x1="163" x2="633.4" y1="0" y2="0"><stop offset="0" stop-color="#001fff"/><stop offset="0.1538" stop-color="#0024ff"/><stop offset="0.3374" stop-color="#0042ff"/><stop offset="0.8263" stop-color="#0050ff"/><stop offset="1" stop-color="#0051ff"/></linearGradient><linearGradient id="g27" gradientUnits="userSpaceOnUse" x1="163" x2="633.4" y1="0" y2="0"><stop offset="0" stop-color="#0028ff"/><stop offset="0.1572" stop-color="#002eff"/><stop offset="0.3683" stop-color="#004cff"/><stop offset="1" stop-color="#0058ff"/></linearGradient><linearGradient id="g28" gradientUnits="userSpaceOnUse" x1="163" x2="633.4" y1="0" y2="0"><stop offset="0" stop-color="#0030ff"/><stop offset="0.1607" stop-color="#0036ff"/><stop offset="0.3374" stop-color="#0050ff"/><stop offset="0.9121" stop-color="#005fff"/><stop offset="1" stop-color="#005fff"/></linearGradient><linearGradient id="g29" gradientUnits="userSpaceOnUse" x1="163" x2="633.4" y1="0" y2="0"><stop offset="0" stop-color="#0037ff"/><stop offset="0.1607" stop-color="#003dff"/><stop offset="0.3374" stop-color="#0055ff"/><stop offset="0.8263" stop-color="#0065ff"/><stop offset="1" stop-color="#0066ff"/></linearGradient><linearGradient id="g30" gradientUnits="userSpaceOnUse" x1="163" x2="633.4" y1="0" y2="0"><stop offset="0" stop-color="#003fff"/><stop offset="0.1607" stop-color="#0044ff"/><stop offset="0.3974" stop-color="#005fff"/><stop offset="1" stop-color="#006dff"/></linearGradient><linearGradient id="g31" gradientUnits="userSpaceOnUse" x1="163" x2="633.4" y1="0" y2="0"><stop offset="0" stop-color="#0046ff"/><stop offset="0.1607" stop-color="#004bff"/><stop offset="0.5347" stop-color="#006dff"/><stop offset="1" stop-color="#0074ff"/></linearGradient><linearGradient id="g32" gradientUnits="userSpaceOnUse" x1="163" x2="633.4" y1="0" y2="0"><stop offset="0" stop-color="#004dff"/><stop offset="0.1881" stop-color="#0053ff"/><stop offset="0.5347" stop-color="#0074ff"/><stop offset="1" stop-color="#007bff"/></linearGradient><linearGradient id="g33" gradientUnits="userSpaceOnUse" x1="163" x2="633.4" y1="0" y2="0"><stop offset="0" stop-color="#0051ff"/><stop offset="0.1984" stop-color="#0058ff"/><stop offset="0.5347" stop-color="#007aff"/><stop offset="1" stop-color="#0082ff"/></linearGradient><linearGradient id="g34" gradientUnits="userSpaceOnUse" x1="163" x2="633.4" y1="0" y2="0"><stop offset="0" stop-color="#0054ff"/><stop offset="0.1881" stop-color="#005aff"/><stop offset="0.4746" stop-color="#007dff"/><stop offset="1" stop-color="#0089ff"/></linearGradient><linearGradient id="g35" gradientUnits="userSpaceOnUse" x1="163" x2="633.4" y1="0" y2="0"><stop offset="0" stop-color="#0056ff"/><stop offset="0.1813" stop-color="#005cff"/><stop offset="0.4746" stop-color="#0084ff"/><stop offset="1" stop-color="#0091ff"/></linearGradient><linearGradient id="g36" gradientUnits="userSpaceOnUse" x1="163" x2="633.4" y1="0" y2="0"><stop offset="0" stop-color="#0058ff"/><stop offset="0.1744" stop-color="#005eff"/><stop offset="0.4317" stop-color="#0086ff"/><stop offset="0.9121" stop-color="#0097ff"/><stop offset="1" stop-color="#0098ff"/></linearGradient><linearGradient id="g37" gradientUnits="userSpaceOnUse" x1="163" x2="633.4" y1="0" y2="0"><stop offset="0" stop-color="#005bff"/><stop offset="0.171" stop-color="#0061ff"/><stop offset="0.4317" stop-color="#008cff"/><stop offset="0.8263" stop-color="#009dff"/><stop offset="1" stop-color="#009fff"/></linearGradient><linearGradient id="g38" gradientUnits="userSpaceOnUse" x1="163" x2="633.4" y1="0" y2="0"><stop offset="0" stop-color="#005dff"/><stop offset="0.1675" stop-color="#0063ff"/><stop offset="0.4317" stop-color="#0093ff"/><stop offset="0.9121" stop-color="#00a8ff"/><stop offset="1" stop-color="#00a9ff"/></linearGradient><linearGradient id="g39" gradientUnits="userSpaceOnUse" x1="163" x2="633.4" y1="0" y2="0"><stop offset="0" stop-color="#0060ff"/><stop offset="0.1641" stop-color="#0065ff"/><stop offset="0.3974" stop-color="#0095ff"/><stop offset="0.6548" stop-color="#00b4ff"/><stop offset="1" stop-color="#00beff"/></linearGradient><linearGradient id="g40" gradientUnits="userSpaceOnUse" x1="163" x2="633.4" y1="0" y2="0"><stop offset="0" stop-color="#0062ff"/><stop offset="0.1607" stop-color="#0067ff"/><stop offset="0.5347" stop-color="#00beff"/><stop offset="0.8263" stop-color="#00d0ff"/><stop offset="1" stop-color="#00d2ff"/></linearGradient><linearGradient id="g41" gradientUnits="userSpaceOnUse" x1="163" x2="633.4" y1="0" y2="0"><stop offset="0" stop-color="#0064ff"/><stop offset="0.1572" stop-color="#0069ff"/><stop offset="0.3374" stop-color="#009dff"/><stop offset="0.4317" stop-color="#00c1ff"/><stop offset="0.5896" stop-color="#00d9ff"/><stop offset="1" stop-color="#00e6ff"/></linearGradient><linearGradient id="g42" gradientUnits="userSpaceOnUse" x1="163" x2="633.4" y1="0" y2="0"><stop offset="0" stop-color="#0067ff"/><stop offset="0.1572" stop-color="#006cff"/><stop offset="0.2739" stop-color="#008eff"/><stop offset="0.3374" stop-color="#00b7ff"/><stop offset="0.4317" stop-color="#00d8ff"/><stop offset="0.6548" stop-color="#00f3ff"/><stop offset="0.9121" stop-color="#00fff4"/><stop offset="1" stop-color="#00fff0"/></linearGradient><linearGradient id="g43" gradientUnits="userSpaceOnUse" x1="163" x2="633.4" y1="0" y2="0"><stop offset="0" stop-color="#0069ff"/><stop offset="0.1572" stop-color="#006fff"/><stop offset="0.2465" stop-color="#0090ff"/><stop offset="0.3116" stop-color="#00c4ff"/><stop offset="0.3974" stop-color="#00e7ff"/><stop offset="0.4746" stop-color="#00fdff"/><stop offset="0.5896" stop-color="#00ffba"/><stop offset="0.7405" stop-color="#00ff8e"/><stop offset="1" stop-color="#00ff76"/></linearGradient><linearGradient id="g44" gradientUnits="userSpaceOnUse" x1="163" x2="633.4" y1="0" y2="0"><stop offset="0" stop-color="#006cff"/><stop offset="0.1538" stop-color="#0070ff"/><stop offset="0.2156" stop-color="#008bff"/><stop offset="0.2739" stop-color="#00c7ff"/><stop offset="0.3683" stop-color="#00fbff"/><stop offset="0.4317" stop-color="#00ffb1"/><stop offset="0.4746" stop-color="#00ff87"/><stop offset="0.5347" stop-color="#00ff5b"/><stop offset="0.6548" stop-color="#00ff28"/><stop offset="0.8263" stop-color="#00ff08"/><stop offset="1" stop-color="#01ff00"/></linearGradient><linearGradient id="g45" gradientUnits="userSpaceOnUse" x1="163" x2="633.4" y1="0" y2="0"><stop offset="0" stop-color="#006eff"/><stop offset="0.1538" stop-color="#0073ff"/><stop offset="0.1881" stop-color="#0084ff"/><stop offset="0.2379" stop-color="#00c6ff"/><stop offset="0.3116" stop-color="#00fff9"/><stop offset="0.3683" stop-color="#00ff8a"/><stop offset="0.4317" stop-color="#00ff34"/><stop offset="0.4746" stop-color="#00ff0b"/><stop offset="0.5347" stop-color="#0aff00"/><stop offset="0.7405" stop-color="#1eff00"/><stop offset="1" stop-color="#24ff00"/></linearGradient><linearGradient id="g46" gradientUnits="userSpaceOnUse" x1="163" x2="633.4" y1="0" y2="0"><stop offset="0" stop-color="#0070ff"/><stop offset="0.1538" stop-color="#0076ff"/><stop offset="0.1675" stop-color="#0083ff"/><stop offset="0.2087" stop-color="#00c6ff"/><stop offset="0.2602" stop-color="#00fcff"/><stop offset="0.3116" stop-color="#00ff79"/><stop offset="0.3683" stop-color="#00ff0b"/><stop offset="0.3974" stop-color="#0bff00"/><stop offset="0.5347" stop-color="#30ff00"/><stop offset="0.8263" stop-color="#44ff00"/><stop offset="1" stop-color="#46ff00"/></linearGradient><linearGradient id="g47" gradientUnits="userSpaceOnUse" x1="163" x2="633.4" y1="0" y2="0"><stop offset="0" stop-color="#0073ff"/><stop offset="0.1435" stop-color="#0074ff"/><stop offset="0.1813" stop-color="#00c2ff"/><stop offset="0.2224" stop-color="#00faff"/><stop offset="0.2293" stop-color="#00fff0"/><stop offset="0.2602" stop-color="#00ff83"/><stop offset="0.2911" stop-color="#00ff2a"/><stop offset="0.3116" stop-color="#03ff00"/><stop offset="0.3974" stop-color="#35ff00"/><stop offset="0.5347" stop-color="#56ff00"/><stop offset="0.8263" stop-color="#65ff00"/><stop offset="1" stop-color="#67ff00"/></linearGradient><linearGradient id="g48" gradientUnits="userSpaceOnUse" x1="163" x2="633.4" y1="0" y2="0"><stop offset="0" stop-color="#0096ff"/><stop offset="0.1401" stop-color="#0096ff"/><stop offset="0.1778" stop-color="#00e2ff"/><stop offset="0.195" stop-color="#00ffff"/><stop offset="0.2293" stop-color="#00ff6b"/><stop offset="0.2602" stop-color="#00ff00"/><stop offset="0.3116" stop-color="#33ff00"/><stop offset="0.3974" stop-color="#60ff00"/><stop offset="0.5347" stop-color="#77ff00"/><stop offset="1" stop-color="#84ff00"/></linearGradient><linearGradient id="g49" gradientUnits="userSpaceOnUse" x1="163" x2="633.4" y1="0" y2="0"><stop offset="0" stop-color="#00c1ff"/><stop offset="0.1401" stop-color="#00c1ff"/><stop offset="0.1675" stop-color="#00faff"/><stop offset="0.171" stop-color="#00fff6"/><stop offset="0.2019" stop-color="#00ff58"/><stop offset="0.2224" stop-color="#00ff01"/><stop offset="0.2739" stop-color="#44ff00"/><stop offset="0.3374" stop-color="#72ff00"/><stop offset="0.4746" stop-color="#91ff00"/><stop offset="0.8263" stop-color="#a0ff00"/><stop offset="1" stop-color="#9eff00"/></linearGradient><linearGradient id="g50" gradientUnits="userSpaceOnUse" x1="163" x2="633.4" y1="0" y2="0"><stop offset="0" stop-color="#00edff"/><stop offset="0.1401" stop-color="#00edff"/><stop offset="0.147" stop-color="#00ffff"/><stop offset="0.1778" stop-color="#00ff47"/><stop offset="0.1916" stop-color="#00ff01"/><stop offset="0.2293" stop-color="#46ff00"/><stop offset="0.2739" stop-color="#79ff00"/><stop offset="0.3683" stop-color="#a0ff00"/><stop offset="0.4317" stop-color="#acff00"/><stop offset="1" stop-color="#9eff00"/></linearGradient><linearGradient id="g51" gradientUnits="userSpaceOnUse" x1="163" x2="633.4" y1="0" y2="0"><stop offset="0" stop-color="#00ffa2"/><stop offset="0.1401" stop-color="#00ffa2"/><stop offset="0.1641" stop-color="#00ff09"/><stop offset="0.171" stop-color="#0fff00"/><stop offset="0.2053" stop-color="#5bff00"/><stop offset="0.2379" stop-color="#88ff00"/><stop offset="0.3116" stop-color="#b4ff00"/><stop offset="0.3374" stop-color="#bcff00"/><stop offset="0.5896" stop-color="#a5ff00"/><stop offset="1" stop-color="#9eff00"/></linearGradient><linearGradient id="g52" gradientUnits="userSpaceOnUse" x1="163" x2="633.4" y1="0" y2="0"><stop offset="0" stop-color="#00ff14"/><stop offset="0.1401" stop-color="#00ff14"/><stop offset="0.1435" stop-color="#02ff00"/><stop offset="0.171" stop-color="#56ff00"/><stop offset="0.2019" stop-color="#92ff00"/><stop offset="0.2602" stop-color="#c4ff00"/><stop offset="0.2739" stop-color="#cbff00"/><stop offset="0.4746" stop-color="#acff00"/><stop offset="1" stop-color="#9eff00"/></linearGradient><linearGradient id="g53" gradientUnits="userSpaceOnUse" x1="163" x2="633.4" y1="0" y2="0"><stop offset="0" stop-color="#45ff00"/><stop offset="0.1401" stop-color="#45ff00"/><stop offset="0.1675" stop-color="#94ff00"/><stop offset="0.2087" stop-color="#caff00"/><stop offset="0.2293" stop-color="#daff00"/><stop offset="0.3974" stop-color="#b4ff00"/><stop offset="0.7405" stop-color="#a0ff00"/><stop offset="1" stop-color="#9cff00"/></linearGradient><linearGradient id="g54" gradientUnits="userSpaceOnUse" x1="163" x2="633.4" y1="0" y2="0"><stop offset="0" stop-color="#95ff00"/><stop offset="0.1401" stop-color="#95ff00"/><stop offset="0.171" stop-color="#d0ff00"/><stop offset="0.1916" stop-color="#e8ff00"/><stop offset="0.3374" stop-color="#beff00"/><stop offset="0.5896" stop-color="#9bff00"/><stop offset="1" stop-color="#8fff00"/></linearGradient><linearGradient id="g55" gradientUnits="userSpaceOnUse" x1="163" x2="633.4" y1="0" y2="0"><stop offset="0" stop-color="#d4ff00"/><stop offset="0.1401" stop-color="#d4ff00"/><stop offset="0.1607" stop-color="#f7ff00"/><stop offset="0.2911" stop-color="#c7ff00"/><stop offset="0.4746" stop-color="#9bff00"/><stop offset="0.7405" stop-color="#86ff00"/><stop offset="1" stop-color="#81ff00"/></linearGradient><linearGradient id="g56" gradientUnits="userSpaceOnUse" x1="163" x2="633.4" y1="0" y2="0"><stop offset="0" stop-color="#fffc00"/><stop offset="0.1538" stop-color="#fbff00"/><stop offset="0.3683" stop-color="#a5ff00"/><stop offset="0.5347" stop-color="#86ff00"/><stop offset="0.9121" stop-color="#75ff00"/><stop offset="1" stop-color="#74ff00"/></linearGradient><linearGradient id="g57" gradientUnits="userSpaceOnUse" x1="163" x2="633.4" y1="0" y2="0"><stop offset="0" stop-color="#fffc00"/><stop offset="0.1538" stop-color="#fbff00"/><stop offset="0.3374" stop-color="#a3ff00"/><stop offset="0.4746" stop-color="#82ff00"/><stop offset="0.7405" stop-color="#6bff00"/><stop offset="1" stop-color="#67ff00"/></linearGradient><linearGradient id="g58" gradientUnits="userSpaceOnUse" x1="163" x2="633.4" y1="0" y2="0"><stop offset="0" stop-color="#fffc00"/><stop offset="0.1538" stop-color="#fbff00"/><stop offset="0.2911" stop-color="#aaff00"/><stop offset="0.4317" stop-color="#7dff00"/><stop offset="0.6548" stop-color="#62ff00"/><stop offset="1" stop-color="#59ff00"/></linearGradient><linearGradient id="g59" gradientUnits="userSpaceOnUse" x1="163" x2="633.4" y1="0" y2="0"><stop offset="0" stop-color="#fffc00"/><stop offset="0.1504" stop-color="#fbff00"/><stop offset="0.2739" stop-color="#a8ff00"/><stop offset="0.3974" stop-color="#79ff00"/><stop offset="0.5896" stop-color="#5aff00"/><stop offset="1" stop-color="#4cff00"/></linearGradient><linearGradient id="g60" gradientUnits="userSpaceOnUse" x1="163" x2="633.4" y1="0" y2="0"><stop offset="0" stop-color="#fffc00"/><stop offset="0.147" stop-color="#fcff00"/><stop offset="0.2602" stop-color="#a6ff00"/><stop offset="0.3974" stop-color="#81ff00"/><stop offset="0.6548" stop-color="#69ff00"/><stop offset="1" stop-color="#63ff00"/></linearGradient><linearGradient id="g61" gradientUnits="userSpaceOnUse" x1="163" x2="633.4" y1="0" y2="0"><stop offset="0" stop-color="#fffc00"/><stop offset="0.1504" stop-color="#fbff00"/><stop offset="0.2739" stop-color="#bcff00"/><stop offset="0.4317" stop-color="#95ff00"/><stop offset="0.7405" stop-color="#80ff00"/><stop offset="1" stop-color="#7dff00"/></linearGradient><linearGradient id="g62" gradientUnits="userSpaceOnUse" x1="163" x2="633.4" y1="0" y2="0"><stop offset="0" stop-color="#ffdf00"/><stop offset="0.2602" stop-color="#ffe000"/><stop offset="0.4317" stop-color="#ffd200"/><stop offset="0.5896" stop-color="#fff400"/><stop offset="0.8263" stop-color="#f8ff00"/><stop offset="1" stop-color="#f4ff00"/></linearGradient><linearGradient id="g63" gradientUnits="userSpaceOnUse" x1="163" x2="633.4" y1="0" y2="0"><stop offset="0" stop-color="#ffc900"/><stop offset="0.1401" stop-color="#ffc900"/><stop offset="0.1778" stop-color="#feff00"/><stop offset="0.2602" stop-color="#8bff00"/><stop offset="0.3374" stop-color="#51ff00"/><stop offset="0.4317" stop-color="#29ff00"/><stop offset="0.5896" stop-color="#0aff00"/><stop offset="0.8263" stop-color="#00ff10"/><stop offset="1" stop-color="#00ff1a"/></linearGradient><linearGradient id="g64" gradientUnits="userSpaceOnUse" x1="163" x2="633.4" y1="0" y2="0"><stop offset="0" stop-color="#7aff00"/><stop offset="0.1435" stop-color="#75ff00"/><stop offset="0.2156" stop-color="#24ff00"/><stop offset="0.2602" stop-color="#03ff00"/><stop offset="0.3374" stop-color="#00ff6a"/><stop offset="0.3974" stop-color="#00ffa2"/><stop offset="0.4746" stop-color="#00ffd0"/><stop offset="0.5896" stop-color="#00fff6"/><stop offset="0.6548" stop-color="#00feff"/><stop offset="1" stop-color="#00f4ff"/></linearGradient><linearGradient id="g65" gradientUnits="userSpaceOnUse" x1="163" x2="633.4" y1="0" y2="0"><stop offset="0" stop-color="#00ff06"/><stop offset="0.1401" stop-color="#00ff06"/><stop offset="0.1847" stop-color="#00ff71"/><stop offset="0.2379" stop-color="#00ffc7"/><stop offset="0.2911" stop-color="#00feff"/><stop offset="0.4317" stop-color="#00daff"/><stop offset="0.7405" stop-color="#00c5ff"/><stop offset="1" stop-color="#00c1ff"/></linearGradient><linearGradient id="g66" gradientUnits="userSpaceOnUse" x1="163" x2="633.4" y1="0" y2="0"><stop offset="0" stop-color="#00ffdb"/><stop offset="0.1401" stop-color="#00ffdb"/><stop offset="0.1572" stop-color="#00ffff"/><stop offset="0.2224" stop-color="#00d7ff"/><stop offset="0.3683" stop-color="#00b2ff"/><stop offset="0.6548" stop-color="#009eff"/><stop offset="1" stop-color="#009aff"/></linearGradient><linearGradient id="g67" gradientUnits="userSpaceOnUse" x1="163" x2="633.4" y1="0" y2="0"><stop offset="0" stop-color="#00d2ff"/><stop offset="0.147" stop-color="#00cdff"/><stop offset="0.2602" stop-color="#009fff"/><stop offset="0.4317" stop-color="#0085ff"/><stop offset="1" stop-color="#0083ff"/></linearGradient><linearGradient id="g68" gradientUnits="userSpaceOnUse" x1="163" x2="633.4" y1="0" y2="0"><stop offset="0" stop-color="#00a1ff"/><stop offset="0.147" stop-color="#009eff"/><stop offset="0.2156" stop-color="#0083ff"/><stop offset="1" stop-color="#007fff"/></linearGradient><linearGradient id="g69" gradientUnits="userSpaceOnUse" x1="163" x2="633.4" y1="0" y2="0"><stop offset="0" stop-color="#007cff"/><stop offset="0.4746" stop-color="#0078ff"/><stop offset="1" stop-color="#007aff"/></linearGradient><linearGradient id="g70" gradientUnits="userSpaceOnUse" x1="163" x2="633.4" y1="0" y2="0"><stop offset="0" stop-color="#0065ff"/><stop offset="0.9121" stop-color="#0076ff"/><stop offset="1" stop-color="#0076ff"/></linearGradient><linearGradient id="g71" gradientUnits="userSpaceOnUse" x1="163" x2="633.4" y1="0" y2="0"><stop offset="0" stop-color="#004fff"/><stop offset="0.1813" stop-color="#0055ff"/><stop offset="0.4746" stop-color="#006cff"/><stop offset="1" stop-color="#0071ff"/></linearGradient><linearGradient id="g72" gradientUnits="userSpaceOnUse" x1="163" x2="633.4" y1="0" y2="0"><stop offset="0" stop-color="#0043ff"/><stop offset="0.1675" stop-color="#0048ff"/><stop offset="0.4317" stop-color="#0064ff"/><stop offset="1" stop-color="#006eff"/></linearGradient><linearGradient id="g73" gradientUnits="userSpaceOnUse" x1="163" x2="633.4" y1="0" y2="0"><stop offset="0" stop-color="#0043ff"/><stop offset="0.1675" stop-color="#0048ff"/><stop offset="0.4317" stop-color="#0065ff"/><stop offset="1" stop-color="#006fff"/></linearGradient><linearGradient id="g74" gradientUnits="userSpaceOnUse" x1="163" x2="633.4" y1="0" y2="0"><stop offset="0" stop-color="#0043ff"/><stop offset="0.1675" stop-color="#0048ff"/><stop offset="0.4317" stop-color="#0065ff"/><stop offset="1" stop-color="#0070ff"/></linearGradient><linearGradient id="g75" gradientUnits="userSpaceOnUse" x1="163" x2="633.4" y1="0" y2="0"><stop offset="0" stop-color="#0043ff"/><stop offset="0.1675" stop-color="#0048ff"/><stop offset="0.4317" stop-color="#0066ff"/><stop offset="1" stop-color="#0070ff"/></linearGradient><linearGradient id="g76" gradientUnits="userSpaceOnUse" x1="163" x2="633.4" y1="0" y2="0"><stop offset="0" stop-color="#0043ff"/><stop offset="0.1675" stop-color="#0048ff"/><stop offset="0.4317" stop-color="#0066ff"/><stop offset="1" stop-color="#0071ff"/></linearGradient><linearGradient id="g77" gradientUnits="userSpaceOnUse" x1="163" x2="633.4" y1="0" y2="0"><stop offset="0" stop-color="#0043ff"/><stop offset="0.1675" stop-color="#0048ff"/><stop offset="0.4317" stop-color="#0067ff"/><stop offset="1" stop-color="#0071ff"/></linearGradient><linearGradient id="g78" gradientUnits="userSpaceOnUse" x1="163" x2="633.4" y1="0" y2="0"><stop offset="0" stop-color="#0043ff"/><stop offset="0.1641" stop-color="#0048ff"/><stop offset="0.4317" stop-color="#0067ff"/><stop offset="1" stop-color="#0072ff"/></linearGradient><linearGradient id="g79" gradientUnits="userSpaceOnUse" x1="163" x2="633.4" y1="0" y2="0"><stop offset="0" stop-color="#0043ff"/><stop offset="0.1641" stop-color="#0048ff"/><stop offset="0.4317" stop-color="#0067ff"/><stop offset="1" stop-color="#0073ff"/></linearGradient><linearGradient id="g80" gradientUnits="userSpaceOnUse" x1="163" x2="633.4" y1="0" y2="0"><stop offset="0" stop-color="#004cff"/><stop offset="0.171" stop-color="#0052ff"/><stop offset="0.4746" stop-color="#006eff"/><stop offset="1" stop-color="#0075ff"/></linearGradient><linearGradient id="g81" gradientUnits="userSpaceOnUse" x1="163" x2="633.4" y1="0" y2="0"><stop offset="0" stop-color="#0057ff"/><stop offset="0.1744" stop-color="#005dff"/><stop offset="0.4317" stop-color="#0075ff"/><stop offset="1" stop-color="#007eff"/></linearGradient><linearGradient id="g82" gradientUnits="userSpaceOnUse" x1="163" x2="633.4" y1="0" y2="0"><stop offset="0" stop-color="#0061ff"/><stop offset="0.1813" stop-color="#0067ff"/><stop offset="0.4317" stop-color="#007fff"/><stop offset="1" stop-color="#0087ff"/></linearGradient><linearGradient id="g83" gradientUnits="userSpaceOnUse" x1="163" x2="633.4" y1="0" y2="0"><stop offset="0" stop-color="#006bff"/><stop offset="0.1847" stop-color="#0072ff"/><stop offset="0.4317" stop-color="#0089ff"/><stop offset="1" stop-color="#008fff"/></linearGradient><linearGradient id="g84" gradientUnits="userSpaceOnUse" x1="163" x2="633.4" y1="0" y2="0"><stop offset="0" stop-color="#006fff"/><stop offset="0.1813" stop-color="#0076ff"/><stop offset="0.3974" stop-color="#0090ff"/><stop offset="1" stop-color="#0098ff"/></linearGradient><linearGradient id="g85" gradientUnits="userSpaceOnUse" x1="163" x2="633.4" y1="0" y2="0"><stop offset="0" stop-color="#0070ff"/><stop offset="0.1744" stop-color="#0076ff"/><stop offset="0.3683" stop-color="#0095ff"/><stop offset="1" stop-color="#00a0ff"/></linearGradient><linearGradient id="g86" gradientUnits="userSpaceOnUse" x1="163" x2="633.4" y1="0" y2="0"><stop offset="0" stop-color="#0071ff"/><stop offset="0.171" stop-color="#0076ff"/><stop offset="0.3683" stop-color="#0099ff"/><stop offset="1" stop-color="#00a6ff"/></linearGradient><linearGradient id="g87" gradientUnits="userSpaceOnUse" x1="163" x2="633.4" y1="0" y2="0"><stop offset="0" stop-color="#0071ff"/><stop offset="0.171" stop-color="#0077ff"/><stop offset="0.3683" stop-color="#009dff"/><stop offset="1" stop-color="#00aaff"/></linearGradient><linearGradient id="g88" gradientUnits="userSpaceOnUse" x1="163" x2="633.4" y1="0" y2="0"><stop offset="0" stop-color="#0072ff"/><stop offset="0.171" stop-color="#0078ff"/><stop offset="0.3374" stop-color="#009dff"/><stop offset="0.7405" stop-color="#00adff"/><stop offset="1" stop-color="#00afff"/></linearGradient><linearGradient id="g89" gradientUnits="userSpaceOnUse" x1="163" x2="633.4" y1="0" y2="0"><stop offset="0" stop-color="#0073ff"/><stop offset="0.1675" stop-color="#0078ff"/><stop offset="0.3374" stop-color="#00a1ff"/><stop offset="0.6548" stop-color="#00b0ff"/><stop offset="1" stop-color="#00b3ff"/></linearGradient><linearGradient id="g90" gradientUnits="userSpaceOnUse" x1="163" x2="633.4" y1="0" y2="0"><stop offset="0" stop-color="#0073ff"/><stop offset="0.1675" stop-color="#0078ff"/><stop offset="0.3374" stop-color="#00a5ff"/><stop offset="0.6548" stop-color="#00b5ff"/><stop offset="1" stop-color="#00b7ff"/></linearGradient><linearGradient id="g91" gradientUnits="userSpaceOnUse" x1="163" x2="633.4" y1="0" y2="0"><stop offset="0" stop-color="#0074ff"/><stop offset="0.1675" stop-color="#0079ff"/><stop offset="0.3374" stop-color="#00a8ff"/><stop offset="0.6548" stop-color="#00b9ff"/><stop offset="1" stop-color="#00bcff"/></linearGradient><linearGradient id="g92" gradientUnits="userSpaceOnUse" x1="163" x2="633.4" y1="0" y2="0"><stop offset="0" stop-color="#0074ff"/><stop offset="0.1675" stop-color="#007aff"/><stop offset="0.3374" stop-color="#00aeff"/><stop offset="0.5896" stop-color="#00bfff"/><stop offset="1" stop-color="#00c4ff"/></linearGradient><linearGradient id="g93" gradientUnits="userSpaceOnUse" x1="163" x2="633.4" y1="0" y2="0"><stop offset="0" stop-color="#0075ff"/><stop offset="0.1641" stop-color="#007aff"/><stop offset="0.3116" stop-color="#00b2ff"/><stop offset="0.4746" stop-color="#00c6ff"/><stop offset="1" stop-color="#00cfff"/></linearGradient><linearGradient id="g94" gradientUnits="userSpaceOnUse" x1="163" x2="633.4" y1="0" y2="0"><stop offset="0" stop-color="#0076ff"/><stop offset="0.1641" stop-color="#007bff"/><stop offset="0.3116" stop-color="#00bbff"/><stop offset="0.4746" stop-color="#00d1ff"/><stop offset="1" stop-color="#00dbff"/></linearGradient><linearGradient id="g95" gradientUnits="userSpaceOnUse" x1="163" x2="633.4" y1="0" y2="0"><stop offset="0" stop-color="#0076ff"/><stop offset="0.1607" stop-color="#007bff"/><stop offset="0.3116" stop-color="#00c3ff"/><stop offset="0.4746" stop-color="#00dcff"/><stop offset="1" stop-color="#00e7ff"/></linearGradient><linearGradient id="g96" gradientUnits="userSpaceOnUse" x1="163" x2="633.4" y1="0" y2="0"><stop offset="0" stop-color="#0077ff"/><stop offset="0.1607" stop-color="#007cff"/><stop offset="0.3116" stop-color="#00ccff"/><stop offset="0.4317" stop-color="#00e3ff"/><stop offset="0.9121" stop-color="#00f2ff"/><stop offset="1" stop-color="#00f3ff"/></linearGradient><linearGradient id="g97" gradientUnits="userSpaceOnUse" x1="163" x2="633.4" y1="0" y2="0"><stop offset="0" stop-color="#0078ff"/><stop offset="0.1572" stop-color="#007dff"/><stop offset="0.3116" stop-color="#00e2ff"/><stop offset="0.4317" stop-color="#00ffff"/><stop offset="0.5896" stop-color="#00ffe6"/><stop offset="1" stop-color="#00ffd5"/></linearGradient><linearGradient id="g98" gradientUnits="userSpaceOnUse" x1="163" x2="633.4" y1="0" y2="0"><stop offset="0" stop-color="#0078ff"/><stop offset="0.1538" stop-color="#007dff"/><stop offset="0.2911" stop-color="#00f5ff"/><stop offset="0.3116" stop-color="#00fff3"/><stop offset="0.3683" stop-color="#00ffbd"/><stop offset="0.4317" stop-color="#00ff9d"/><stop offset="0.5896" stop-color="#00ff7b"/><stop offset="0.9121" stop-color="#00ff69"/><stop offset="1" stop-color="#00ff66"/></linearGradient><linearGradient id="g99" gradientUnits="userSpaceOnUse" x1="163" x2="633.4" y1="0" y2="0"><stop offset="0" stop-color="#0079ff"/><stop offset="0.1504" stop-color="#007cff"/><stop offset="0.1778" stop-color="#0097ff"/><stop offset="0.2602" stop-color="#00f7ff"/><stop offset="0.2739" stop-color="#00fff4"/><stop offset="0.3116" stop-color="#00ffa5"/><stop offset="0.3683" stop-color="#00ff62"/><stop offset="0.4317" stop-color="#00ff3b"/><stop offset="0.5896" stop-color="#00ff11"/><stop offset="0.8263" stop-color="#01ff00"/><stop offset="1" stop-color="#03ff00"/></linearGradient><linearGradient id="g100" gradientUnits="userSpaceOnUse" x1="163" x2="633.4" y1="0" y2="0"><stop offset="0" stop-color="#007cff"/><stop offset="0.1504" stop-color="#0081ff"/><stop offset="0.171" stop-color="#0098ff"/><stop offset="0.2293" stop-color="#00f6ff"/><stop offset="0.2379" stop-color="#00fff4"/><stop offset="0.2602" stop-color="#00ffa1"/><stop offset="0.3116" stop-color="#00ff0c"/><stop offset="0.3374" stop-color="#0bff00"/><stop offset="0.4317" stop-color="#2dff00"/><stop offset="0.6548" stop-color="#43ff00"/><stop offset="1" stop-color="#4cff00"/></linearGradient><linearGradient id="g101" gradientUnits="userSpaceOnUse" x1="163" x2="633.4" y1="0" y2="0"><stop offset="0" stop-color="#0087ff"/><stop offset="0.147" stop-color="#0089ff"/><stop offset="0.171" stop-color="#00abff"/><stop offset="0.2087" stop-color="#00f9ff"/><stop offset="0.2156" stop-color="#00ffee"/><stop offset="0.2602" stop-color="#00ff1d"/><stop offset="0.2739" stop-color="#08ff00"/><stop offset="0.3116" stop-color="#37ff00"/><stop offset="0.3974" stop-color="#6bff00"/><stop offset="0.5347" stop-color="#87ff00"/><stop offset="0.9121" stop-color="#9aff00"/><stop offset="1" stop-color="#9cff00"/></linearGradient><linearGradient id="g102" gradientUnits="userSpaceOnUse" x1="163" x2="633.4" y1="0" y2="0"><stop offset="0" stop-color="#0092ff"/><stop offset="0.147" stop-color="#0095ff"/><stop offset="0.1675" stop-color="#00b4ff"/><stop offset="0.195" stop-color="#00fffe"/><stop offset="0.2293" stop-color="#00ff45"/><stop offset="0.2379" stop-color="#00ff12"/><stop offset="0.2465" stop-color="#0bff00"/><stop offset="0.3116" stop-color="#77ff00"/><stop offset="0.3683" stop-color="#a8ff00"/><stop offset="0.4746" stop-color="#cfff00"/><stop offset="0.6548" stop-color="#e5ff00"/><stop offset="1" stop-color="#f3ff00"/></linearGradient><linearGradient id="g103" gradientUnits="userSpaceOnUse" x1="163" x2="633.4" y1="0" y2="0"><stop offset="0" stop-color="#009dff"/><stop offset="0.147" stop-color="#00a0ff"/><stop offset="0.1675" stop-color="#00c6ff"/><stop offset="0.1813" stop-color="#00f6ff"/><stop offset="0.1847" stop-color="#00fff6"/><stop offset="0.2224" stop-color="#00ff09"/><stop offset="0.2293" stop-color="#0dff00"/><stop offset="0.2739" stop-color="#71ff00"/><stop offset="0.3116" stop-color="#b7ff00"/><stop offset="0.3683" stop-color="#f2ff00"/><stop offset="0.3974" stop-color="#fffa00"/><stop offset="0.5347" stop-color="#ffd600"/><stop offset="0.8263" stop-color="#ffc100"/><stop offset="1" stop-color="#ffbd00"/></linearGradient><linearGradient id="g104" gradientUnits="userSpaceOnUse" x1="163" x2="633.4" y1="0" y2="0"><stop offset="0" stop-color="#00a8ff"/><stop offset="0.147" stop-color="#00acff"/><stop offset="0.1675" stop-color="#00d9ff"/><stop offset="0.1744" stop-color="#00f7ff"/><stop offset="0.1778" stop-color="#00ffef"/><stop offset="0.1847" stop-color="#00ffab"/><stop offset="0.2053" stop-color="#00ff0f"/><stop offset="0.2087" stop-color="#04ff00"/><stop offset="0.2602" stop-color="#96ff00"/><stop offset="0.2911" stop-color="#deff00"/><stop offset="0.3116" stop-color="#fff400"/><stop offset="0.3683" stop-color="#ffb500"/><stop offset="0.4317" stop-color="#ff9100"/><stop offset="0.5896" stop-color="#ff6900"/><stop offset="0.8263" stop-color="#ff5500"/><stop offset="1" stop-color="#ff4e00"/></linearGradient><linearGradient id="g105" gradientUnits="userSpaceOnUse" x1="163" x2="633.4" y1="0" y2="0"><stop offset="0" stop-color="#00b5ff"/><stop offset="0.147" stop-color="#00b9ff"/><stop offset="0.1675" stop-color="#00eeff"/><stop offset="0.171" stop-color="#00ffff"/><stop offset="0.1847" stop-color="#00ff62"/><stop offset="0.195" stop-color="#00ff08"/><stop offset="0.2019" stop-color="#12ff00"/><stop offset="0.2465" stop-color="#a0ff00"/><stop offset="0.2739" stop-color="#f4ff00"/><stop offset="0.2911" stop-color="#ffdf00"/><stop offset="0.3116" stop-color="#ffb100"/><stop offset="0.3683" stop-color="#ff6300"/><stop offset="0.3974" stop-color="#ff4700"/><stop offset="0.4746" stop-color="#ff1d00"/><stop offset="0.5896" stop-color="#ff0000"/><stop offset="1" stop-color="#ff0000"/></linearGradient><linearGradient id="g106" gradientUnits="userSpaceOnUse" x1="163" x2="633.4" y1="0" y2="0"><stop offset="0" stop-color="#00c2ff"/><stop offset="0.147" stop-color="#00c6ff"/><stop offset="0.1675" stop-color="#00feff"/><stop offset="0.1847" stop-color="#00ff34"/><stop offset="0.1881" stop-color="#00ff15"/><stop offset="0.1916" stop-color="#04ff00"/><stop offset="0.2379" stop-color="#9cff00"/><stop offset="0.2602" stop-color="#ecff00"/><stop offset="0.2739" stop-color="#ffed00"/><stop offset="0.3116" stop-color="#ff9100"/><stop offset="0.3683" stop-color="#ff3700"/><stop offset="0.3974" stop-color="#ff1a00"/><stop offset="0.4317" stop-color="#ff0200"/><stop offset="1" stop-color="#ff0000"/></linearGradient><linearGradient id="g107" gradientUnits="userSpaceOnUse" x1="163" x2="633.4" y1="0" y2="0"><stop offset="0" stop-color="#00cfff"/><stop offset="0.147" stop-color="#00d3ff"/><stop offset="0.1641" stop-color="#00feff"/><stop offset="0.1675" stop-color="#00ffe5"/><stop offset="0.1847" stop-color="#00ff1b"/><stop offset="0.1881" stop-color="#01ff00"/><stop offset="0.2379" stop-color="#a3ff00"/><stop offset="0.2602" stop-color="#f3ff00"/><stop offset="0.2739" stop-color="#ffe700"/><stop offset="0.3116" stop-color="#ff8b00"/><stop offset="0.3683" stop-color="#ff3100"/><stop offset="0.3974" stop-color="#ff1300"/><stop offset="0.4317" stop-color="#ff0000"/><stop offset="1" stop-color="#ff0000"/></linearGradient><linearGradient id="g108" gradientUnits="userSpaceOnUse" x1="163" x2="633.4" y1="0" y2="0"><stop offset="0" stop-color="#00e0ff"/><stop offset="0.147" stop-color="#00e4ff"/><stop offset="0.1572" stop-color="#00ffff"/><stop offset="0.1641" stop-color="#00ffdc"/><stop offset="0.1675" stop-color="#00ffc0"/><stop offset="0.1847" stop-color="#02ff00"/><stop offset="0.2379" stop-color="#acff00"/><stop offset="0.2602" stop-color="#fcff00"/><stop offset="0.3116" stop-color="#ff8300"/><stop offset="0.3683" stop-color="#ff2800"/><stop offset="0.3974" stop-color="#ff0b00"/><stop offset="0.4317" stop-color="#ff0000"/><stop offset="1" stop-color="#ff0000"/></linearGradient><linearGradient id="g109" gradientUnits="userSpaceOnUse" x1="163" x2="633.4" y1="0" y2="0"><stop offset="0" stop-color="#00f3ff"/><stop offset="0.147" stop-color="#00f8ff"/><stop offset="0.1504" stop-color="#00fffc"/><stop offset="0.1641" stop-color="#00ffb1"/><stop offset="0.1675" stop-color="#00ff96"/><stop offset="0.1813" stop-color="#02ff00"/><stop offset="0.2379" stop-color="#b7ff00"/><stop offset="0.2602" stop-color="#fff800"/><stop offset="0.3116" stop-color="#ff7900"/><stop offset="0.3683" stop-color="#ff1e00"/><stop offset="0.3974" stop-color="#ff0200"/><stop offset="1" stop-color="#ff0000"/></linearGradient><linearGradient id="g110" gradientUnits="userSpaceOnUse" x1="163" x2="633.4" y1="0" y2="0"><stop offset="0" stop-color="#00ffee"/><stop offset="0.1435" stop-color="#00ffee"/><stop offset="0.1504" stop-color="#00ffd0"/><stop offset="0.1641" stop-color="#00ff86"/><stop offset="0.1675" stop-color="#00ff6c"/><stop offset="0.1778" stop-color="#02ff00"/><stop offset="0.2379" stop-color="#c2ff00"/><stop offset="0.2465" stop-color="#e0ff00"/><stop offset="0.2602" stop-color="#ffef00"/><stop offset="0.3116" stop-color="#ff6f00"/><stop offset="0.3683" stop-color="#ff1400"/><stop offset="0.3974" stop-color="#ff0000"/><stop offset="1" stop-color="#ff0000"/></linearGradient><linearGradient id="g111" gradientUnits="userSpaceOnUse" x1="163" x2="633.4" y1="0" y2="0"><stop offset="0" stop-color="#00ffba"/><stop offset="0.1435" stop-color="#00ffba"/><stop offset="0.1504" stop-color="#00ff9c"/><stop offset="0.1607" stop-color="#00ff5f"/><stop offset="0.1641" stop-color="#00ff52"/><stop offset="0.1675" stop-color="#00ff3a"/><stop offset="0.171" stop-color="#00ff15"/><stop offset="0.1744" stop-color="#05ff00"/><stop offset="0.195" stop-color="#49ff00"/><stop offset="0.2379" stop-color="#cfff00"/><stop offset="0.2465" stop-color="#edff00"/><stop offset="0.2602" stop-color="#ffe400"/><stop offset="0.3116" stop-color="#ff6200"/><stop offset="0.3683" stop-color="#ff0900"/><stop offset="0.4317" stop-color="#ff0000"/><stop offset="1" stop-color="#ff0000"/></linearGradient><linearGradient id="g112" gradientUnits="userSpaceOnUse" x1="163" x2="633.4" y1="0" y2="0"><stop offset="0" stop-color="#00ff82"/><stop offset="0.1435" stop-color="#00ff82"/><stop offset="0.1504" stop-color="#00ff67"/><stop offset="0.1675" stop-color="#00ff15"/><stop offset="0.171" stop-color="#03ff00"/><stop offset="0.2379" stop-color="#b8ff00"/><stop offset="0.2602" stop-color="#fcff00"/><stop offset="0.3116" stop-color="#ff9600"/><stop offset="0.3683" stop-color="#ff4e00"/><stop offset="0.4317" stop-color="#ff2500"/><stop offset="0.5347" stop-color="#ff0a00"/><stop offset="0.7405" stop-color="#ff0000"/><stop offset="1" stop-color="#ff0000"/></linearGradient><linearGradient id="g113" gradientUnits="userSpaceOnUse" x1="163" x2="633.4" y1="0" y2="0"><stop offset="0" stop-color="#00ff1f"/><stop offset="0.1435" stop-color="#00ff1f"/><stop offset="0.1538" stop-color="#02ff00"/><stop offset="0.1744" stop-color="#1eff00"/><stop offset="0.2379" stop-color="#9cff00"/><stop offset="0.2739" stop-color="#ebff00"/><stop offset="0.2911" stop-color="#fff300"/><stop offset="0.3116" stop-color="#ffd300"/><stop offset="0.3683" stop-color="#ffa200"/><stop offset="0.4317" stop-color="#ff8a00"/><stop offset="0.5896" stop-color="#ff7800"/><stop offset="1" stop-color="#ff6900"/></linearGradient><linearGradient id="g114" gradientUnits="userSpaceOnUse" x1="163" x2="633.4" y1="0" y2="0"><stop offset="0" stop-color="#23ff00"/><stop offset="0.147" stop-color="#25ff00"/><stop offset="0.1847" stop-color="#4fff00"/><stop offset="0.2224" stop-color="#7fff00"/><stop offset="0.2739" stop-color="#d8ff00"/><stop offset="0.2911" stop-color="#f2ff00"/><stop offset="0.3116" stop-color="#fff100"/><stop offset="0.3683" stop-color="#ffcb00"/><stop offset="0.4746" stop-color="#ffb600"/><stop offset="1" stop-color="#ffae00"/></linearGradient><linearGradient id="g115" gradientUnits="userSpaceOnUse" x1="163" x2="633.4" y1="0" y2="0"><stop offset="0" stop-color="#5cff00"/><stop offset="0.1504" stop-color="#61ff00"/><stop offset="0.2156" stop-color="#8bff00"/><stop offset="0.2911" stop-color="#edff00"/><stop offset="0.3116" stop-color="#fffb00"/><stop offset="0.3683" stop-color="#ffdf00"/><stop offset="0.4746" stop-color="#ffd400"/><stop offset="0.7405" stop-color="#ffd800"/><stop offset="1" stop-color="#ffd800"/></linearGradient><linearGradient id="g116" gradientUnits="userSpaceOnUse" x1="163" x2="633.4" y1="0" y2="0"><stop offset="0" stop-color="#a8ff00"/><stop offset="0.1504" stop-color="#acff00"/><stop offset="0.1607" stop-color="#b4ff00"/><stop offset="0.1881" stop-color="#aeff00"/><stop offset="0.2156" stop-color="#b5ff00"/><stop offset="0.2911" stop-color="#fdff00"/><stop offset="0.3683" stop-color="#ffe000"/><stop offset="0.4746" stop-color="#ffdf00"/><stop offset="0.6548" stop-color="#fff100"/><stop offset="1" stop-color="#fff200"/></linearGradient><linearGradient id="g117" gradientUnits="userSpaceOnUse" x1="163" x2="633.4" y1="0" y2="0"><stop offset="0" stop-color="#fff200"/><stop offset="0.1538" stop-color="#ffed00"/><stop offset="0.1607" stop-color="#ffe900"/><stop offset="0.1847" stop-color="#ffff00"/><stop offset="0.2156" stop-color="#f5ff00"/><stop offset="0.2465" stop-color="#fffb00"/><stop offset="0.3116" stop-color="#ffd700"/><stop offset="0.3974" stop-color="#ffd000"/><stop offset="0.6548" stop-color="#fff800"/><stop offset="1" stop-color="#fffd00"/></linearGradient><linearGradient id="g118" gradientUnits="userSpaceOnUse" x1="163" x2="633.4" y1="0" y2="0"><stop offset="0" stop-color="#ff9800"/><stop offset="0.1538" stop-color="#ff9400"/><stop offset="0.1607" stop-color="#ff9100"/><stop offset="0.1847" stop-color="#ffb700"/><stop offset="0.2156" stop-color="#ffcf00"/><stop offset="0.3374" stop-color="#ffb900"/><stop offset="0.4746" stop-color="#ffd100"/><stop offset="0.5896" stop-color="#fff200"/><stop offset="0.7405" stop-color="#fffc00"/><stop offset="1" stop-color="#f8ff00"/></linearGradient><linearGradient id="g119" gradientUnits="userSpaceOnUse" x1="163" x2="633.4" y1="0" y2="0"><stop offset="0" stop-color="#ff1400"/><stop offset="0.1538" stop-color="#ff1000"/><stop offset="0.1607" stop-color="#ff0d00"/><stop offset="0.1813" stop-color="#ff4d00"/><stop offset="0.2087" stop-color="#ff7f00"/><stop offset="0.2465" stop-color="#ff8c00"/><stop offset="0.3374" stop-color="#ff8d00"/><stop offset="0.5896" stop-color="#ffe400"/><stop offset="0.6548" stop-color="#fff100"/><stop offset="1" stop-color="#feff00"/></linearGradient><linearGradient id="g120" gradientUnits="userSpaceOnUse" x1="163" x2="633.4" y1="0" y2="0"><stop offset="0" stop-color="#ff0000"/><stop offset="0.1984" stop-color="#ff0000"/><stop offset="0.2087" stop-color="#ff1a00"/><stop offset="0.2465" stop-color="#ff3a00"/><stop offset="0.3374" stop-color="#ff5500"/><stop offset="0.5347" stop-color="#ffbc00"/><stop offset="0.5896" stop-color="#ffd200"/><stop offset="0.6548" stop-color="#ffe200"/><stop offset="1" stop-color="#fff700"/></linearGradient><linearGradient id="g121" gradientUnits="userSpaceOnUse" x1="163" x2="633.4" y1="0" y2="0"><stop offset="0" stop-color="#e00000"/><stop offset="0.1607" stop-color="#de0000"/><stop offset="0.1744" stop-color="#ff0000"/><stop offset="0.2911" stop-color="#ff0000"/><stop offset="0.3683" stop-color="#ff2d00"/><stop offset="0.4317" stop-color="#ff6000"/><stop offset="0.5347" stop-color="#ffa300"/><stop offset="0.5896" stop-color="#ffbe00"/><stop offset="0.6548" stop-color="#ffd200"/><stop offset="1" stop-color="#ffeb00"/></linearGradient><linearGradient id="g122" gradientUnits="userSpaceOnUse" x1="163" x2="633.4" y1="0" y2="0"><stop offset="0" stop-color="#b20000"/><stop offset="0.1607" stop-color="#b10000"/><stop offset="0.1847" stop-color="#f00000"/><stop offset="0.195" stop-color="#ff0000"/><stop offset="0.3374" stop-color="#ff0000"/><stop offset="0.5347" stop-color="#ff9e00"/><stop offset="0.5896" stop-color="#ffbd00"/><stop offset="0.6548" stop-color="#ffd200"/><stop offset="1" stop-color="#fff000"/></linearGradient><linearGradient id="g123" gradientUnits="userSpaceOnUse" x1="163" x2="633.4" y1="0" y2="0"><stop offset="0" stop-color="#930303"/><stop offset="0.1607" stop-color="#920303"/><stop offset="0.1847" stop-color="#d60000"/><stop offset="0.2053" stop-color="#ff0000"/><stop offset="0.3683" stop-color="#ff0600"/><stop offset="0.4317" stop-color="#ff4800"/><stop offset="0.5347" stop-color="#ff9d00"/><stop offset="0.5896" stop-color="#ffbe00"/><stop offset="0.6548" stop-color="#ffd600"/><stop offset="1" stop-color="#fff600"/></linearGradient><linearGradient id="g124" gradientUnits="userSpaceOnUse" x1="163" x2="633.4" y1="0" y2="0"><stop offset="0" stop-color="#930303"/><stop offset="0.1607" stop-color="#930303"/><stop offset="0.1847" stop-color="#d60000"/><stop offset="0.2053" stop-color="#ff0000"/><stop offset="0.3374" stop-color="#ff0000"/><stop offset="0.3683" stop-color="#ff0600"/><stop offset="0.4317" stop-color="#ff4800"/><stop offset="0.5347" stop-color="#ff9d00"/><stop offset="0.5896" stop-color="#ffbe00"/><stop offset="0.6548" stop-color="#ffd600"/><stop offset="1" stop-color="#fff600"/></linearGradient><linearGradient id="g125" gradientUnits="userSpaceOnUse" x1="163" x2="633.4" y1="0" y2="0"><stop offset="0" stop-color="#9f0101"/><stop offset="0.1607" stop-color="#9e0101"/><stop offset="0.1847" stop-color="#e10000"/><stop offset="0.2019" stop-color="#ff0000"/><stop offset="0.3374" stop-color="#ff0000"/><stop offset="0.3974" stop-color="#ff3600"/><stop offset="0.4746" stop-color="#ff7800"/><stop offset="0.5347" stop-color="#ffa800"/><stop offset="0.5896" stop-color="#ffc900"/><stop offset="0.6548" stop-color="#ffe000"/><stop offset="1" stop-color="#ffff00"/></linearGradient><linearGradient id="g126" gradientUnits="userSpaceOnUse" x1="163" x2="633.4" y1="0" y2="0"><stop offset="0" stop-color="#d80000"/><stop offset="0.1607" stop-color="#d80000"/><stop offset="0.1744" stop-color="#fe0000"/><stop offset="0.2465" stop-color="#ff0000"/><stop offset="0.4317" stop-color="#ff9900"/><stop offset="0.5896" stop-color="#fff800"/><stop offset="0.6548" stop-color="#f0ff00"/><stop offset="1" stop-color="#d0ff00"/></linearGradient><linearGradient id="g127" gradientUnits="userSpaceOnUse" x1="163" x2="633.4" y1="0" y2="0"><stop offset="0" stop-color="#ff0000"/><stop offset="0.1984" stop-color="#ff0000"/><stop offset="0.2087" stop-color="#ff1d00"/><stop offset="0.2465" stop-color="#ff5600"/><stop offset="0.3974" stop-color="#ffbc00"/><stop offset="0.4746" stop-color="#ffe800"/><stop offset="0.5347" stop-color="#efff00"/><stop offset="0.5896" stop-color="#d2ff00"/><stop offset="0.6548" stop-color="#beff00"/><stop offset="1" stop-color="#a2ff00"/></linearGradient><linearGradient id="g128" gradientUnits="userSpaceOnUse" x1="163" x2="633.4" y1="0" y2="0"><stop offset="0" stop-color="#ff0000"/><stop offset="0.1744" stop-color="#ff0400"/><stop offset="0.1916" stop-color="#ff3e00"/><stop offset="0.2087" stop-color="#ff6f00"/><stop offset="0.2465" stop-color="#ff9c00"/><stop offset="0.4317" stop-color="#f9ff00"/><stop offset="0.5896" stop-color="#a5ff00"/><stop offset="0.6548" stop-color="#93ff00"/><stop offset="1" stop-color="#7aff00"/></linearGradient><linearGradient id="g129" gradientUnits="userSpaceOnUse" x1="163" x2="633.4" y1="0" y2="0"><stop offset="0" stop-color="#ff2300"/><stop offset="0.1607" stop-color="#ff2200"/><stop offset="0.1813" stop-color="#ff7100"/><stop offset="0.2087" stop-color="#ffae00"/><stop offset="0.2465" stop-color="#ffd300"/><stop offset="0.3374" stop-color="#feff00"/><stop offset="0.5347" stop-color="#95ff00"/><stop offset="0.5896" stop-color="#7eff00"/><stop offset="0.6548" stop-color="#6eff00"/><stop offset="1" stop-color="#58ff00"/></linearGradient><linearGradient id="g130" gradientUnits="userSpaceOnUse" x1="163" x2="633.4" y1="0" y2="0"><stop offset="0" stop-color="#ff9a00"/><stop offset="0.1607" stop-color="#ff9900"/><stop offset="0.1847" stop-color="#ffd500"/><stop offset="0.2087" stop-color="#feff00"/><stop offset="0.2602" stop-color="#d5ff00"/><stop offset="0.5347" stop-color="#5bff00"/><stop offset="0.6548" stop-color="#3aff00"/><stop offset="1" stop-color="#28ff00"/></linearGradient><linearGradient id="g131" gradientUnits="userSpaceOnUse" x1="163" x2="633.4" y1="0" y2="0"><stop offset="0" stop-color="#ffda00"/><stop offset="0.1607" stop-color="#ffd900"/><stop offset="0.1778" stop-color="#fbff00"/><stop offset="0.2087" stop-color="#c4ff00"/><stop offset="0.2602" stop-color="#a1ff00"/><stop offset="0.5347" stop-color="#37ff00"/><stop offset="0.6548" stop-color="#1bff00"/><stop offset="1" stop-color="#0bff00"/></linearGradient><linearGradient id="g132" gradientUnits="userSpaceOnUse" x1="163" x2="633.4" y1="0" y2="0"><stop offset="0" stop-color="#fff900"/><stop offset="0.1607" stop-color="#fff800"/><stop offset="0.1675" stop-color="#f6ff00"/><stop offset="0.1916" stop-color="#c4ff00"/><stop offset="0.2156" stop-color="#a3ff00"/><stop offset="0.2602" stop-color="#88ff00"/><stop offset="0.5896" stop-color="#16ff00"/><stop offset="0.7405" stop-color="#08ff00"/><stop offset="0.9121" stop-color="#01ff00"/><stop offset="1" stop-color="#00ff09"/></linearGradient><linearGradient id="g133" gradientUnits="userSpaceOnUse" x1="163" x2="633.4" y1="0" y2="0"><stop offset="0" stop-color="#dfff00"/><stop offset="0.1607" stop-color="#e0ff00"/><stop offset="0.1881" stop-color="#a8ff00"/><stop offset="0.2156" stop-color="#85ff00"/><stop offset="0.2739" stop-color="#67ff00"/><stop offset="0.5896" stop-color="#04ff00"/><stop offset="0.6548" stop-color="#00ff10"/><stop offset="1" stop-color="#00ff38"/></linearGradient><linearGradient id="g134" gradientUnits="userSpaceOnUse" x1="163" x2="633.4" y1="0" y2="0"><stop offset="0" stop-color="#b5ff00"/><stop offset="0.1607" stop-color="#b7ff00"/><stop offset="0.1916" stop-color="#80ff00"/><stop offset="0.2156" stop-color="#65ff00"/><stop offset="0.2739" stop-color="#4aff00"/><stop offset="0.4746" stop-color="#10ff00"/><stop offset="0.5347" stop-color="#00ff07"/><stop offset="0.5896" stop-color="#00ff2c"/><stop offset="0.6548" stop-color="#00ff46"/><stop offset="1" stop-color="#00ff69"/></linearGradient><linearGradient id="g135" gradientUnits="userSpaceOnUse" x1="163" x2="633.4" y1="0" y2="0"><stop offset="0" stop-color="#8cff00"/><stop offset="0.1607" stop-color="#8dff00"/><stop offset="0.1916" stop-color="#5cff00"/><stop offset="0.2224" stop-color="#40ff00"/><stop offset="0.3374" stop-color="#1cff00"/><stop offset="0.4317" stop-color="#02ff00"/><stop offset="0.4746" stop-color="#00ff14"/><stop offset="0.5347" stop-color="#00ff44"/><stop offset="0.5896" stop-color="#00ff65"/><stop offset="0.6548" stop-color="#00ff7c"/><stop offset="1" stop-color="#00ff9b"/></linearGradient><linearGradient id="g136" gradientUnits="userSpaceOnUse" x1="163" x2="633.4" y1="0" y2="0"><stop offset="0" stop-color="#67ff00"/><stop offset="0.1607" stop-color="#68ff00"/><stop offset="0.195" stop-color="#39ff00"/><stop offset="0.2293" stop-color="#21ff00"/><stop offset="0.3374" stop-color="#04ff00"/><stop offset="0.3683" stop-color="#00ff07"/><stop offset="0.5347" stop-color="#00ff7a"/><stop offset="0.5896" stop-color="#00ff97"/><stop offset="0.6548" stop-color="#00ffac"/><stop offset="1" stop-color="#00ffc7"/></linearGradient><linearGradient id="g137" gradientUnits="userSpaceOnUse" x1="163" x2="633.4" y1="0" y2="0"><stop offset="0" stop-color="#4bff00"/><stop offset="0.1641" stop-color="#47ff00"/><stop offset="0.2053" stop-color="#18ff00"/><stop offset="0.2739" stop-color="#00ff03"/><stop offset="0.5347" stop-color="#00ffa3"/><stop offset="0.5896" stop-color="#00ffbe"/><stop offset="0.6548" stop-color="#00ffd1"/><stop offset="1" stop-color="#00ffe9"/></linearGradient><linearGradient id="g138" gradientUnits="userSpaceOnUse" x1="163" x2="633.4" y1="0" y2="0"><stop offset="0" stop-color="#2eff00"/><stop offset="0.1641" stop-color="#2bff00"/><stop offset="0.2053" stop-color="#01ff00"/><stop offset="0.2465" stop-color="#00ff30"/><stop offset="0.5347" stop-color="#00ffcd"/><stop offset="0.5896" stop-color="#00ffe5"/><stop offset="0.6548" stop-color="#00fff5"/><stop offset="1" stop-color="#00faff"/></linearGradient><linearGradient id="g139" gradientUnits="userSpaceOnUse" x1="163" x2="633.4" y1="0" y2="0"><stop offset="0" stop-color="#12ff00"/><stop offset="0.1641" stop-color="#0fff00"/><stop offset="0.1778" stop-color="#00ff03"/><stop offset="0.2087" stop-color="#00ff4a"/><stop offset="0.2465" stop-color="#00ff6e"/><stop offset="0.5347" stop-color="#00fff7"/><stop offset="0.6548" stop-color="#00f3ff"/><stop offset="1" stop-color="#00eaff"/></linearGradient><linearGradient id="g140" gradientUnits="userSpaceOnUse" x1="163" x2="633.4" y1="0" y2="0"><stop offset="0" stop-color="#00ff09"/><stop offset="0.1607" stop-color="#00ff05"/><stop offset="0.1847" stop-color="#00ff4b"/><stop offset="0.2087" stop-color="#00ff7a"/><stop offset="0.2602" stop-color="#00ffa1"/><stop offset="0.4746" stop-color="#00fffa"/><stop offset="0.6548" stop-color="#00e7ff"/><stop offset="1" stop-color="#00e0ff"/></linearGradient><linearGradient id="g141" gradientUnits="userSpaceOnUse" x1="163" x2="633.4" y1="0" y2="0"><stop offset="0" stop-color="#00ff3e"/><stop offset="0.1607" stop-color="#00ff3a"/><stop offset="0.1847" stop-color="#00ff79"/><stop offset="0.2087" stop-color="#00ffa5"/><stop offset="0.2602" stop-color="#00ffc7"/><stop offset="0.3974" stop-color="#00fffb"/><stop offset="0.6548" stop-color="#00ddff"/><stop offset="1" stop-color="#00d6ff"/></linearGradient><linearGradient id="g142" gradientUnits="userSpaceOnUse" x1="163" x2="633.4" y1="0" y2="0"><stop offset="0" stop-color="#00ff74"/><stop offset="0.1607" stop-color="#00ff70"/><stop offset="0.1847" stop-color="#00ffa8"/><stop offset="0.2156" stop-color="#00ffd4"/><stop offset="0.2602" stop-color="#00ffed"/><stop offset="0.3374" stop-color="#00fcff"/><stop offset="0.6548" stop-color="#00d3ff"/><stop offset="1" stop-color="#00cdff"/></linearGradient><linearGradient id="g143" gradientUnits="userSpaceOnUse" x1="163" x2="633.4" y1="0" y2="0"><stop offset="0" stop-color="#00ffa6"/><stop offset="0.1607" stop-color="#00ffa2"/><stop offset="0.1881" stop-color="#00ffda"/><stop offset="0.2156" stop-color="#00fffb"/><stop offset="0.6548" stop-color="#00c9ff"/><stop offset="1" stop-color="#00c4ff"/></linearGradient><linearGradient id="g144" gradientUnits="userSpaceOnUse" x1="163" x2="633.4" y1="0" y2="0"><stop offset="0" stop-color="#00ffc5"/><stop offset="0.1607" stop-color="#00ffc1"/><stop offset="0.1881" stop-color="#00fff4"/><stop offset="0.2053" stop-color="#00faff"/><stop offset="0.3683" stop-color="#00e1ff"/><stop offset="0.6548" stop-color="#00c3ff"/><stop offset="1" stop-color="#00beff"/></linearGradient><linearGradient id="g145" gradientUnits="userSpaceOnUse" x1="163" x2="633.4" y1="0" y2="0"><stop offset="0" stop-color="#00ffe3"/><stop offset="0.1607" stop-color="#00ffdf"/><stop offset="0.1778" stop-color="#00feff"/><stop offset="0.2379" stop-color="#00e6ff"/><stop offset="0.6548" stop-color="#00bdff"/><stop offset="1" stop-color="#00b9ff"/></linearGradient><linearGradient id="g146" gradientUnits="userSpaceOnUse" x1="163" x2="633.4" y1="0" y2="0"><stop offset="0" stop-color="#00feff"/><stop offset="0.1675" stop-color="#00faff"/><stop offset="0.2224" stop-color="#00e0ff"/><stop offset="0.6548" stop-color="#00b7ff"/><stop offset="1" stop-color="#00b4ff"/></linearGradient><linearGradient id="g147" gradientUnits="userSpaceOnUse" x1="163" x2="633.4" y1="0" y2="0"><stop offset="0" stop-color="#00efff"/><stop offset="0.1675" stop-color="#00ecff"/><stop offset="0.2293" stop-color="#00d3ff"/><stop offset="0.6548" stop-color="#00b1ff"/><stop offset="1" stop-color="#00adff"/></linearGradient><linearGradient id="g148" gradientUnits="userSpaceOnUse" x1="163" x2="633.4" y1="0" y2="0"><stop offset="0" stop-color="#00d7ff"/><stop offset="0.1675" stop-color="#00d5ff"/><stop offset="0.2379" stop-color="#00c0ff"/><stop offset="0.6548" stop-color="#00a7ff"/><stop offset="1" stop-color="#00a4ff"/></linearGradient><linearGradient id="g149" gradientUnits="userSpaceOnUse" x1="163" x2="633.4" y1="0" y2="0"><stop offset="0" stop-color="#00c0ff"/><stop offset="0.171" stop-color="#00beff"/><stop offset="0.2465" stop-color="#00aeff"/><stop offset="0.8263" stop-color="#009dff"/><stop offset="1" stop-color="#009cff"/></linearGradient><linearGradient id="g150" gradientUnits="userSpaceOnUse" x1="163" x2="633.4" y1="0" y2="0"><stop offset="0" stop-color="#00a9ff"/><stop offset="0.1744" stop-color="#00a7ff"/><stop offset="0.3374" stop-color="#009dff"/><stop offset="1" stop-color="#0093ff"/></linearGradient><linearGradient id="g151" gradientUnits="userSpaceOnUse" x1="163" x2="633.4" y1="0" y2="0"><stop offset="0" stop-color="#0095ff"/><stop offset="1" stop-color="#008cff"/></linearGradient><linearGradient id="g152" gradientUnits="userSpaceOnUse" x1="163" x2="633.4" y1="0" y2="0"><stop offset="0" stop-color="#0083ff"/><stop offset="1" stop-color="#0086ff"/></linearGradient><linearGradient id="g153" gradientUnits="userSpaceOnUse" x1="163" x2="633.4" y1="0" y2="0"><stop offset="0" stop-color="#0071ff"/><stop offset="0.8263" stop-color="#0080ff"/><stop offset="1" stop-color="#0080ff"/></linearGradient><linearGradient id="g154" gradientUnits="userSpaceOnUse" x1="163" x2="633.4" y1="0" y2="0"><stop offset="0" stop-color="#0060ff"/><stop offset="0.2087" stop-color="#0067ff"/><stop offset="0.6548" stop-color="#0078ff"/><stop offset="1" stop-color="#007aff"/></linearGradient><linearGradient id="g155" gradientUnits="userSpaceOnUse" x1="163" x2="633.4" y1="0" y2="0"><stop offset="0" stop-color="#005aff"/><stop offset="0.1916" stop-color="#0061ff"/><stop offset="0.5896" stop-color="#0075ff"/><stop offset="1" stop-color="#0078ff"/></linearGradient><linearGradient id="g156" gradientUnits="userSpaceOnUse" x1="163" x2="633.4" y1="0" y2="0"><stop offset="0" stop-color="#005dff"/><stop offset="0.1984" stop-color="#0064ff"/><stop offset="0.6548" stop-color="#0077ff"/><stop offset="1" stop-color="#0079ff"/></linearGradient><linearGradient id="g157" gradientUnits="userSpaceOnUse" x1="163" x2="633.4" y1="0" y2="0"><stop offset="0" stop-color="#0060ff"/><stop offset="0.2053" stop-color="#0067ff"/><stop offset="0.6548" stop-color="#0078ff"/><stop offset="1" stop-color="#007aff"/></linearGradient><linearGradient id="g158" gradientUnits="userSpaceOnUse" x1="163" x2="633.4" y1="0" y2="0"><stop offset="0" stop-color="#0063ff"/><stop offset="0.7405" stop-color="#007aff"/><stop offset="1" stop-color="#007bff"/></linearGradient><linearGradient id="g159" gradientUnits="userSpaceOnUse" x1="163" x2="633.4" y1="0" y2="0"><stop offset="0" stop-color="#0066ff"/><stop offset="1" stop-color="#007cff"/></linearGradient><linearGradient id="g160" gradientUnits="userSpaceOnUse" x1="163" x2="633.4" y1="0" y2="0"><stop offset="0" stop-color="#0067ff"/><stop offset="1" stop-color="#007eff"/></linearGradient><linearGradient id="g161" gradientUnits="userSpaceOnUse" x1="163" x2="633.4" y1="0" y2="0"><stop offset="0" stop-color="#0067ff"/><stop offset="1" stop-color="#0081ff"/></linearGradient><linearGradient id="g162" gradientUnits="userSpaceOnUse" x1="163" x2="633.4" y1="0" y2="0"><stop offset="0" stop-color="#0068ff"/><stop offset="1" stop-color="#0083ff"/></linearGradient><linearGradient id="g163" gradientUnits="userSpaceOnUse" x1="163" x2="633.4" y1="0" y2="0"><stop offset="0" stop-color="#0068ff"/><stop offset="1" stop-color="#0085ff"/></linearGradient><linearGradient id="g164" gradientUnits="userSpaceOnUse" x1="163" x2="633.4" y1="0" y2="0"><stop offset="0" stop-color="#0069ff"/><stop offset="1" stop-color="#008bff"/></linearGradient><linearGradient id="g165" gradientUnits="userSpaceOnUse" x1="163" x2="633.4" y1="0" y2="0"><stop offset="0" stop-color="#0069ff"/><stop offset="0.4746" stop-color="#0079ff"/><stop offset="0.9121" stop-color="#008fff"/><stop offset="1" stop-color="#0091ff"/></linearGradient><linearGradient id="g166" gradientUnits="userSpaceOnUse" x1="163" x2="633.4" y1="0" y2="0"><stop offset="0" stop-color="#006aff"/><stop offset="0.3974" stop-color="#0078ff"/><stop offset="0.8263" stop-color="#0094ff"/><stop offset="1" stop-color="#0096ff"/></linearGradient><linearGradient id="g167" gradientUnits="userSpaceOnUse" x1="163" x2="633.4" y1="0" y2="0"><stop offset="0" stop-color="#006bff"/><stop offset="0.3116" stop-color="#0076ff"/><stop offset="0.8263" stop-color="#0099ff"/><stop offset="1" stop-color="#009cff"/></linearGradient><linearGradient id="g168" gradientUnits="userSpaceOnUse" x1="163" x2="633.4" y1="0" y2="0"><stop offset="0" stop-color="#006eff"/><stop offset="0.2911" stop-color="#0078ff"/><stop offset="0.8263" stop-color="#009eff"/><stop offset="1" stop-color="#00a1ff"/></linearGradient><linearGradient id="g169" gradientUnits="userSpaceOnUse" x1="163" x2="633.4" y1="0" y2="0"><stop offset="0" stop-color="#0072ff"/><stop offset="0.2739" stop-color="#007bff"/><stop offset="0.8263" stop-color="#00a3ff"/><stop offset="1" stop-color="#00a6ff"/></linearGradient><linearGradient id="g170" gradientUnits="userSpaceOnUse" x1="163" x2="633.4" y1="0" y2="0"><stop offset="0" stop-color="#0075ff"/><stop offset="0.2739" stop-color="#007eff"/><stop offset="0.9121" stop-color="#00aaff"/><stop offset="1" stop-color="#00abff"/></linearGradient><linearGradient id="g171" gradientUnits="userSpaceOnUse" x1="163" x2="633.4" y1="0" y2="0"><stop offset="0" stop-color="#0078ff"/><stop offset="0.2602" stop-color="#0081ff"/><stop offset="0.9121" stop-color="#00afff"/><stop offset="1" stop-color="#00b0ff"/></linearGradient><linearGradient id="g172" gradientUnits="userSpaceOnUse" x1="163" x2="633.4" y1="0" y2="0"><stop offset="0" stop-color="#007cff"/><stop offset="0.3374" stop-color="#0087ff"/><stop offset="0.9121" stop-color="#00b4ff"/><stop offset="1" stop-color="#00b6ff"/></linearGradient><linearGradient id="g173" gradientUnits="userSpaceOnUse" x1="163" x2="633.4" y1="0" y2="0"><stop offset="0" stop-color="#007cff"/><stop offset="0.3374" stop-color="#0088ff"/><stop offset="0.8263" stop-color="#00b7ff"/><stop offset="1" stop-color="#00bbff"/></linearGradient><linearGradient id="g174" gradientUnits="userSpaceOnUse" x1="163" x2="633.4" y1="0" y2="0"><stop offset="0" stop-color="#007cff"/><stop offset="0.2911" stop-color="#0086ff"/><stop offset="0.8263" stop-color="#00bcff"/><stop offset="1" stop-color="#00c0ff"/></linearGradient><linearGradient id="g175" gradientUnits="userSpaceOnUse" x1="163" x2="633.4" y1="0" y2="0"><stop offset="0" stop-color="#007cff"/><stop offset="0.2739" stop-color="#0085ff"/><stop offset="0.8263" stop-color="#00c0ff"/><stop offset="1" stop-color="#00c5ff"/></linearGradient><linearGradient id="g176" gradientUnits="userSpaceOnUse" x1="163" x2="633.4" y1="0" y2="0"><stop offset="0" stop-color="#007cff"/><stop offset="0.2602" stop-color="#0085ff"/><stop offset="0.8263" stop-color="#00c6ff"/><stop offset="1" stop-color="#00cbff"/></linearGradient><linearGradient id="g177" gradientUnits="userSpaceOnUse" x1="163" x2="633.4" y1="0" y2="0"><stop offset="0" stop-color="#007cff"/><stop offset="0.2465" stop-color="#0084ff"/><stop offset="0.8263" stop-color="#00cdff"/><stop offset="1" stop-color="#00d2ff"/></linearGradient><linearGradient id="g178" gradientUnits="userSpaceOnUse" x1="163" x2="633.4" y1="0" y2="0"><stop offset="0" stop-color="#007cff"/><stop offset="0.2379" stop-color="#0084ff"/><stop offset="0.5896" stop-color="#00b1ff"/><stop offset="0.8263" stop-color="#00d4ff"/><stop offset="1" stop-color="#00d9ff"/></linearGradient><linearGradient id="g179" gradientUnits="userSpaceOnUse" x1="163" x2="633.4" y1="0" y2="0"><stop offset="0" stop-color="#007cff"/><stop offset="0.2293" stop-color="#0084ff"/><stop offset="0.5347" stop-color="#00aaff"/><stop offset="0.6548" stop-color="#00c6ff"/><stop offset="0.8263" stop-color="#00dbff"/><stop offset="1" stop-color="#00e1ff"/></linearGradient><linearGradient id="g180" gradientUnits="userSpaceOnUse" x1="163" x2="633.4" y1="0" y2="0"><stop offset="0" stop-color="#007cff"/><stop offset="0.2224" stop-color="#0084ff"/><stop offset="0.4746" stop-color="#00a3ff"/><stop offset="0.6548" stop-color="#00cfff"/><stop offset="0.8263" stop-color="#00e5ff"/><stop offset="1" stop-color="#00ebff"/></linearGradient><linearGradient id="g181" gradientUnits="userSpaceOnUse" x1="163" x2="633.4" y1="0" y2="0"><stop offset="0" stop-color="#007cff"/><stop offset="0.2156" stop-color="#0083ff"/><stop offset="0.4317" stop-color="#009eff"/><stop offset="0.6548" stop-color="#00d7ff"/><stop offset="0.8263" stop-color="#00efff"/><stop offset="1" stop-color="#00f6ff"/></linearGradient><linearGradient id="g182" gradientUnits="userSpaceOnUse" x1="163" x2="633.4" y1="0" y2="0"><stop offset="0" stop-color="#007cff"/><stop offset="0.2156" stop-color="#0084ff"/><stop offset="0.3974" stop-color="#009eff"/><stop offset="0.6548" stop-color="#00e1ff"/><stop offset="0.8263" stop-color="#00faff"/><stop offset="1" stop-color="#00fffb"/></linearGradient><linearGradient id="g183" gradientUnits="userSpaceOnUse" x1="163" x2="633.4" y1="0" y2="0"><stop offset="0" stop-color="#007cff"/><stop offset="0.2087" stop-color="#0083ff"/><stop offset="0.3374" stop-color="#0097ff"/><stop offset="0.6548" stop-color="#00ebff"/><stop offset="0.7405" stop-color="#00f8ff"/><stop offset="1" stop-color="#00ffe7"/></linearGradient><linearGradient id="g184" gradientUnits="userSpaceOnUse" x1="163" x2="633.4" y1="0" y2="0"><stop offset="0" stop-color="#007cff"/><stop offset="0.2053" stop-color="#0083ff"/><stop offset="0.3374" stop-color="#00a2ff"/><stop offset="0.6548" stop-color="#00f6ff"/><stop offset="0.7405" stop-color="#00fff8"/><stop offset="0.8263" stop-color="#00ffe1"/><stop offset="1" stop-color="#00ffd4"/></linearGradient><linearGradient id="g185" gradientUnits="userSpaceOnUse" x1="163" x2="633.4" y1="0" y2="0"><stop offset="0" stop-color="#007cff"/><stop offset="0.1881" stop-color="#0083ff"/><stop offset="0.6548" stop-color="#00fffd"/><stop offset="0.8263" stop-color="#00ffcd"/><stop offset="1" stop-color="#00ffc1"/></linearGradient><linearGradient id="g186" gradientUnits="userSpaceOnUse" x1="163" x2="633.4" y1="0" y2="0"><stop offset="0" stop-color="#0080ff"/><stop offset="0.1572" stop-color="#0086ff"/><stop offset="0.5896" stop-color="#00fbff"/><stop offset="0.8263" stop-color="#00ffba"/><stop offset="1" stop-color="#00ffae"/></linearGradient><linearGradient id="g187" gradientUnits="userSpaceOnUse" x1="163" x2="633.4" y1="0" y2="0"><stop offset="0" stop-color="#008cff"/><stop offset="0.1572" stop-color="#0092ff"/><stop offset="0.5347" stop-color="#00f6ff"/><stop offset="0.5896" stop-color="#00fff3"/><stop offset="0.6548" stop-color="#00ffd6"/><stop offset="0.8263" stop-color="#00ffa7"/><stop offset="1" stop-color="#00ff9b"/></linearGradient><linearGradient id="g188" gradientUnits="userSpaceOnUse" x1="163" x2="633.4" y1="0" y2="0"><stop offset="0" stop-color="#0099ff"/><stop offset="0.1572" stop-color="#009eff"/><stop offset="0.5347" stop-color="#00fffc"/><stop offset="0.6548" stop-color="#00ffc3"/><stop offset="0.8263" stop-color="#00ff94"/><stop offset="1" stop-color="#00ff87"/></linearGradient><linearGradient id="g189" gradientUnits="userSpaceOnUse" x1="163" x2="633.4" y1="0" y2="0"><stop offset="0" stop-color="#00a5ff"/><stop offset="0.1572" stop-color="#00a9ff"/><stop offset="0.4746" stop-color="#00faff"/><stop offset="0.6548" stop-color="#00ffb0"/><stop offset="0.8263" stop-color="#00ff80"/><stop offset="1" stop-color="#00ff73"/></linearGradient><linearGradient id="g190" gradientUnits="userSpaceOnUse" x1="163" x2="633.4" y1="0" y2="0"><stop offset="0" stop-color="#00b1ff"/><stop offset="0.1572" stop-color="#00b5ff"/><stop offset="0.4317" stop-color="#00f9ff"/><stop offset="0.4746" stop-color="#00fff4"/><stop offset="0.6548" stop-color="#00ff9c"/><stop offset="0.8263" stop-color="#00ff6b"/><stop offset="1" stop-color="#00ff5e"/></linearGradient><linearGradient id="g191" gradientUnits="userSpaceOnUse" x1="163" x2="633.4" y1="0" y2="0"><stop offset="0" stop-color="#00bdff"/><stop offset="0.1607" stop-color="#00c2ff"/><stop offset="0.3974" stop-color="#00faff"/><stop offset="0.4317" stop-color="#00fff7"/><stop offset="0.6548" stop-color="#00ff89"/><stop offset="0.8263" stop-color="#00ff56"/><stop offset="1" stop-color="#00ff4a"/></linearGradient><linearGradient id="g192" gradientUnits="userSpaceOnUse" x1="163" x2="633.4" y1="0" y2="0"><stop offset="0" stop-color="#00c8ff"/><stop offset="0.1641" stop-color="#00ceff"/><stop offset="0.3683" stop-color="#00fcff"/><stop offset="0.4746" stop-color="#00ffce"/><stop offset="0.6548" stop-color="#00ff74"/><stop offset="0.8263" stop-color="#00ff41"/><stop offset="1" stop-color="#00ff35"/></linearGradient><linearGradient id="g193" gradientUnits="userSpaceOnUse" x1="163" x2="633.4" y1="0" y2="0"><stop offset="0" stop-color="#00d2ff"/><stop offset="0.1641" stop-color="#00d7ff"/><stop offset="0.3374" stop-color="#00feff"/><stop offset="0.6548" stop-color="#00ff5d"/><stop offset="0.8263" stop-color="#00ff2c"/><stop offset="1" stop-color="#00ff20"/></linearGradient><linearGradient id="g194" gradientUnits="userSpaceOnUse" x1="163" x2="633.4" y1="0" y2="0"><stop offset="0" stop-color="#00dbff"/><stop offset="0.1641" stop-color="#00e0ff"/><stop offset="0.2911" stop-color="#00fdff"/><stop offset="0.5347" stop-color="#00ff89"/><stop offset="0.6548" stop-color="#00ff47"/><stop offset="0.8263" stop-color="#00ff17"/><stop offset="1" stop-color="#00ff0b"/></linearGradient><linearGradient id="g195" gradientUnits="userSpaceOnUse" x1="163" x2="633.4" y1="0" y2="0"><stop offset="0" stop-color="#00e4ff"/><stop offset="0.1641" stop-color="#00eaff"/><stop offset="0.2602" stop-color="#00fffe"/><stop offset="0.5347" stop-color="#00ff72"/><stop offset="0.6548" stop-color="#00ff30"/><stop offset="0.8263" stop-color="#00ff02"/><stop offset="1" stop-color="#03ff00"/></linearGradient><linearGradient id="g196" gradientUnits="userSpaceOnUse" x1="163" x2="633.4" y1="0" y2="0"><stop offset="0" stop-color="#00edff"/><stop offset="0.1641" stop-color="#00f3ff"/><stop offset="0.2293" stop-color="#00fff9"/><stop offset="0.4746" stop-color="#00ff81"/><stop offset="0.5896" stop-color="#00ff39"/><stop offset="0.6548" stop-color="#00ff1a"/><stop offset="0.7405" stop-color="#00ff03"/><stop offset="1" stop-color="#09ff00"/></linearGradient><linearGradient id="g197" gradientUnits="userSpaceOnUse" x1="163" x2="633.4" y1="0" y2="0"><stop offset="0" stop-color="#00f7ff"/><stop offset="0.1641" stop-color="#00fcff"/><stop offset="0.2293" stop-color="#00ffe6"/><stop offset="0.4317" stop-color="#00ff84"/><stop offset="0.5896" stop-color="#00ff21"/><stop offset="0.6548" stop-color="#00ff03"/><stop offset="1" stop-color="#0fff00"/></linearGradient><linearGradient id="g198" gradientUnits="userSpaceOnUse" x1="163" x2="633.4" y1="0" y2="0"><stop offset="0" stop-color="#00fffd"/><stop offset="0.1504" stop-color="#00fff8"/><stop offset="0.3974" stop-color="#00ff83"/><stop offset="0.5896" stop-color="#00ff0a"/><stop offset="0.6548" stop-color="#06ff00"/><stop offset="1" stop-color="#14ff00"/></linearGradient><linearGradient id="g199" gradientUnits="userSpaceOnUse" x1="163" x2="633.4" y1="0" y2="0"><stop offset="0" stop-color="#00ffea"/><stop offset="0.1504" stop-color="#00ffe5"/><stop offset="0.3683" stop-color="#00ff7d"/><stop offset="0.5347" stop-color="#00ff10"/><stop offset="0.5896" stop-color="#05ff00"/><stop offset="0.9121" stop-color="#19ff00"/><stop offset="1" stop-color="#1aff00"/></linearGradient><linearGradient id="g200" gradientUnits="userSpaceOnUse" x1="163" x2="633.4" y1="0" y2="0"><stop offset="0" stop-color="#00ffd7"/><stop offset="0.1504" stop-color="#00ffd2"/><stop offset="0.3374" stop-color="#00ff75"/><stop offset="0.4746" stop-color="#00ff1a"/><stop offset="0.5347" stop-color="#03ff00"/><stop offset="0.8263" stop-color="#1dff00"/><stop offset="1" stop-color="#1fff00"/></linearGradient><linearGradient id="g201" gradientUnits="userSpaceOnUse" x1="163" x2="633.4" y1="0" y2="0"><stop offset="0" stop-color="#00ffc3"/><stop offset="0.1504" stop-color="#00ffbe"/><stop offset="0.2911" stop-color="#00ff79"/><stop offset="0.4746" stop-color="#00ff00"/><stop offset="0.7405" stop-color="#1eff00"/><stop offset="1" stop-color="#25ff00"/></linearGradient><linearGradient id="g202" gradientUnits="userSpaceOnUse" x1="163" x2="633.4" y1="0" y2="0"><stop offset="0" stop-color="#00ffb0"/><stop offset="0.1504" stop-color="#00ffab"/><stop offset="0.2465" stop-color="#00ff7c"/><stop offset="0.4317" stop-color="#00ff00"/><stop offset="0.6548" stop-color="#1fff00"/><stop offset="1" stop-color="#2aff00"/></linearGradient><linearGradient id="g203" gradientUnits="userSpaceOnUse" x1="163" x2="633.4" y1="0" y2="0"><stop offset="0" stop-color="#00ff9d"/><stop offset="0.1504" stop-color="#00ff98"/><stop offset="0.2224" stop-color="#00ff6e"/><stop offset="0.3683" stop-color="#00ff0b"/><stop offset="0.3974" stop-color="#02ff00"/><stop offset="0.6548" stop-color="#25ff00"/><stop offset="1" stop-color="#30ff00"/></linearGradient><linearGradient id="g204" gradientUnits="userSpaceOnUse" x1="163" x2="633.4" y1="0" y2="0"><stop offset="0" stop-color="#00ff8a"/><stop offset="0.1504" stop-color="#00ff85"/><stop offset="0.3374" stop-color="#00ff01"/><stop offset="0.6548" stop-color="#2bff00"/><stop offset="1" stop-color="#35ff00"/></linearGradient><linearGradient id="g205" gradientUnits="userSpaceOnUse" x1="163" x2="633.4" y1="0" y2="0"><stop offset="0" stop-color="#00ff6d"/><stop offset="0.1435" stop-color="#00ff6a"/><stop offset="0.2911" stop-color="#00ff00"/><stop offset="0.6548" stop-color="#31ff00"/><stop offset="1" stop-color="#3bff00"/></linearGradient><linearGradient id="g206" gradientUnits="userSpaceOnUse" x1="163" x2="633.4" y1="0" y2="0"><stop offset="0" stop-color="#00ff4a"/><stop offset="0.1435" stop-color="#00ff47"/><stop offset="0.2465" stop-color="#01ff00"/><stop offset="0.6548" stop-color="#37ff00"/><stop offset="1" stop-color="#40ff00"/></linearGradient><linearGradient id="g207" gradientUnits="userSpaceOnUse" x1="163" x2="633.4" y1="0" y2="0"><stop offset="0" stop-color="#00ff27"/><stop offset="0.147" stop-color="#00ff22"/><stop offset="0.2019" stop-color="#02ff00"/><stop offset="0.5896" stop-color="#38ff00"/><stop offset="1" stop-color="#46ff00"/></linearGradient><linearGradient id="g208" gradientUnits="userSpaceOnUse" x1="163" x2="633.4" y1="0" y2="0"><stop offset="0" stop-color="#00ff04"/><stop offset="0.1675" stop-color="#05ff00"/><stop offset="0.5896" stop-color="#3eff00"/><stop offset="1" stop-color="#4cff00"/></linearGradient><linearGradient id="g209" gradientUnits="userSpaceOnUse" x1="163" x2="633.4" y1="0" y2="0"><stop offset="0" stop-color="#0aff00"/><stop offset="0.1744" stop-color="#10ff00"/><stop offset="0.5896" stop-color="#44ff00"/><stop offset="1" stop-color="#54ff00"/></linearGradient><linearGradient id="g210" gradientUnits="userSpaceOnUse" x1="163" x2="633.4" y1="0" y2="0"><stop offset="0" stop-color="#13ff00"/><stop offset="0.1778" stop-color="#19ff00"/><stop offset="0.5896" stop-color="#4bff00"/><stop offset="1" stop-color="#5cff00"/></linearGradient><linearGradient id="g211" gradientUnits="userSpaceOnUse" x1="163" x2="633.4" y1="0" y2="0"><stop offset="0" stop-color="#1cff00"/><stop offset="0.1778" stop-color="#22ff00"/><stop offset="0.6548" stop-color="#57ff00"/><stop offset="1" stop-color="#64ff00"/></linearGradient><linearGradient id="g212" gradientUnits="userSpaceOnUse" x1="163" x2="633.4" y1="0" y2="0"><stop offset="0" stop-color="#25ff00"/><stop offset="0.1813" stop-color="#2bff00"/><stop offset="0.6548" stop-color="#5fff00"/><stop offset="1" stop-color="#6dff00"/></linearGradient><linearGradient id="g213" gradientUnits="userSpaceOnUse" x1="163" x2="633.4" y1="0" y2="0"><stop offset="0" stop-color="#2eff00"/><stop offset="0.1847" stop-color="#35ff00"/><stop offset="0.7405" stop-color="#6bff00"/><stop offset="1" stop-color="#75ff00"/></linearGradient><linearGradient id="g214" gradientUnits="userSpaceOnUse" x1="163" x2="633.4" y1="0" y2="0"><stop offset="0" stop-color="#37ff00"/><stop offset="0.1881" stop-color="#3eff00"/><stop offset="0.8263" stop-color="#79ff00"/><stop offset="1" stop-color="#7cff00"/></linearGradient><linearGradient id="g215" gradientUnits="userSpaceOnUse" x1="163" x2="633.4" y1="0" y2="0"><stop offset="0" stop-color="#40ff00"/><stop offset="0.1916" stop-color="#47ff00"/><stop offset="0.7405" stop-color="#7bff00"/><stop offset="1" stop-color="#7cff00"/></linearGradient><linearGradient id="g216" gradientUnits="userSpaceOnUse" x1="163" x2="633.4" y1="0" y2="0"><stop offset="0" stop-color="#49ff00"/><stop offset="0.195" stop-color="#50ff00"/><stop offset="0.6548" stop-color="#7cff00"/><stop offset="1" stop-color="#7cff00"/></linearGradient><linearGradient id="g217" gradientUnits="userSpaceOnUse" x1="163" x2="633.4" y1="0" y2="0"><stop offset="0" stop-color="#52ff00"/><stop offset="0.2087" stop-color="#5aff00"/><stop offset="0.6548" stop-color="#7fff00"/><stop offset="1" stop-color="#7cff00"/></linearGradient><linearGradient id="g218" gradientUnits="userSpaceOnUse" x1="163" x2="633.4" y1="0" y2="0"><stop offset="0" stop-color="#5bff00"/><stop offset="0.2739" stop-color="#64ff00"/><stop offset="0.5896" stop-color="#81ff00"/><stop offset="1" stop-color="#7cff00"/></linearGradient><linearGradient id="g219" gradientUnits="userSpaceOnUse" x1="163" x2="633.4" y1="0" y2="0"><stop offset="0" stop-color="#61ff00"/><stop offset="0.2739" stop-color="#6aff00"/><stop offset="0.5347" stop-color="#82ff00"/><stop offset="1" stop-color="#7cff00"/></linearGradient><linearGradient id="g220" gradientUnits="userSpaceOnUse" x1="163" x2="633.4" y1="0" y2="0"><stop offset="0" stop-color="#67ff00"/><stop offset="0.2602" stop-color="#6fff00"/><stop offset="0.4746" stop-color="#84ff00"/><stop offset="1" stop-color="#7cff00"/></linearGradient><linearGradient id="g221" gradientUnits="userSpaceOnUse" x1="163" x2="633.4" y1="0" y2="0"><stop offset="0" stop-color="#6cff00"/><stop offset="0.2602" stop-color="#75ff00"/><stop offset="0.4746" stop-color="#84ff00"/><stop offset="1" stop-color="#7cff00"/></linearGradient><linearGradient id="g222" gradientUnits="userSpaceOnUse" x1="163" x2="633.4" y1="0" y2="0"><stop offset="0" stop-color="#72ff00"/><stop offset="0.2465" stop-color="#7aff00"/><stop offset="0.4317" stop-color="#85ff00"/><stop offset="1" stop-color="#7cff00"/></linearGradient><linearGradient id="g223" gradientUnits="userSpaceOnUse" x1="163" x2="633.4" y1="0" y2="0"><stop offset="0" stop-color="#78ff00"/><stop offset="0.2465" stop-color="#80ff00"/><stop offset="0.3974" stop-color="#86ff00"/><stop offset="1" stop-color="#7cff00"/></linearGradient><linearGradient id="g224" gradientUnits="userSpaceOnUse" x1="163" x2="633.4" y1="0" y2="0"><stop offset="0" stop-color="#7dff00"/><stop offset="0.3683" stop-color="#87ff00"/><stop offset="1" stop-color="#7cff00"/></linearGradient><linearGradient id="g225" gradientUnits="userSpaceOnUse" x1="163" x2="633.4" y1="0" y2="0"><stop offset="0" stop-color="#83ff00"/><stop offset="0.3683" stop-color="#87ff00"/><stop offset="1" stop-color="#71ff00"/></linearGradient><linearGradient id="g226" gradientUnits="userSpaceOnUse" x1="163" x2="633.4" y1="0" y2="0"><stop offset="0" stop-color="#89ff00"/><stop offset="0.4317" stop-color="#85ff00"/><stop offset="0.7405" stop-color="#7aff00"/><stop offset="0.9121" stop-color="#68ff00"/><stop offset="1" stop-color="#64ff00"/></linearGradient><linearGradient id="g227" gradientUnits="userSpaceOnUse" x1="163" x2="633.4" y1="0" y2="0"><stop offset="0" stop-color="#8dff00"/><stop offset="0.6548" stop-color="#7bff00"/><stop offset="0.8263" stop-color="#60ff00"/><stop offset="1" stop-color="#58ff00"/></linearGradient><linearGradient id="g228" gradientUnits="userSpaceOnUse" x1="163" x2="633.4" y1="0" y2="0"><stop offset="0" stop-color="#8dff00"/><stop offset="0.5896" stop-color="#7fff00"/><stop offset="0.8263" stop-color="#53ff00"/><stop offset="1" stop-color="#4bff00"/></linearGradient><linearGradient id="g229" gradientUnits="userSpaceOnUse" x1="163" x2="633.4" y1="0" y2="0"><stop offset="0" stop-color="#8dff00"/><stop offset="0.5347" stop-color="#82ff00"/><stop offset="0.8263" stop-color="#42ff00"/><stop offset="1" stop-color="#2fff00"/></linearGradient><linearGradient id="g230" gradientUnits="userSpaceOnUse" x1="163" x2="633.4" y1="0" y2="0"><stop offset="0" stop-color="#8dff00"/><stop offset="0.4746" stop-color="#84ff00"/><stop offset="0.7405" stop-color="#47ff00"/><stop offset="0.8263" stop-color="#24ff00"/><stop offset="1" stop-color="#12ff00"/></linearGradient><linearGradient id="g231" gradientUnits="userSpaceOnUse" x1="163" x2="633.4" y1="0" y2="0"><stop offset="0" stop-color="#8dff00"/><stop offset="0.4317" stop-color="#85ff00"/><stop offset="0.6548" stop-color="#4dff00"/><stop offset="0.8263" stop-color="#07ff00"/><stop offset="0.9121" stop-color="#00ff15"/><stop offset="1" stop-color="#00ff3f"/></linearGradient><linearGradient id="g232" gradientUnits="userSpaceOnUse" x1="163" x2="633.4" y1="0" y2="0"><stop offset="0" stop-color="#8dff00"/><stop offset="0.3974" stop-color="#85ff00"/><stop offset="0.5896" stop-color="#53ff00"/><stop offset="0.6548" stop-color="#2fff00"/><stop offset="0.7405" stop-color="#0cff00"/><stop offset="0.8263" stop-color="#00ff73"/><stop offset="1" stop-color="#00ffc8"/></linearGradient><linearGradient id="g233" gradientUnits="userSpaceOnUse" x1="163" x2="633.4" y1="0" y2="0"><stop offset="0" stop-color="#8dff00"/><stop offset="0.3683" stop-color="#83ff00"/><stop offset="0.5347" stop-color="#58ff00"/><stop offset="0.6548" stop-color="#11ff00"/><stop offset="0.7405" stop-color="#00ff5b"/><stop offset="0.8263" stop-color="#00fffb"/><stop offset="1" stop-color="#00f3ff"/></linearGradient><linearGradient id="g234" gradientUnits="userSpaceOnUse" x1="163" x2="633.4" y1="0" y2="0"><stop offset="0" stop-color="#8dff00"/><stop offset="0.3116" stop-color="#85ff00"/><stop offset="0.4746" stop-color="#5fff00"/><stop offset="0.5347" stop-color="#4aff00"/><stop offset="0.5896" stop-color="#1eff00"/><stop offset="0.6548" stop-color="#00ff44"/><stop offset="0.7405" stop-color="#00ffe4"/><stop offset="0.8263" stop-color="#00eaff"/><stop offset="1" stop-color="#00ddff"/></linearGradient><linearGradient id="g235" gradientUnits="userSpaceOnUse" x1="163" x2="633.4" y1="0" y2="0"><stop offset="0" stop-color="#8dff00"/><stop offset="0.2602" stop-color="#87ff00"/><stop offset="0.4746" stop-color="#55ff00"/><stop offset="0.5896" stop-color="#00ff08"/><stop offset="0.6548" stop-color="#00ffcd"/><stop offset="0.7405" stop-color="#00eeff"/><stop offset="0.8263" stop-color="#00d4ff"/><stop offset="1" stop-color="#00c7ff"/></linearGradient><linearGradient id="g236" gradientUnits="userSpaceOnUse" x1="163" x2="633.4" y1="0" y2="0"><stop offset="0" stop-color="#8dff00"/><stop offset="0.2156" stop-color="#87ff00"/><stop offset="0.4317" stop-color="#57ff00"/><stop offset="0.5347" stop-color="#0dff00"/><stop offset="0.5896" stop-color="#00ff91"/><stop offset="0.6548" stop-color="#00f2ff"/><stop offset="0.8263" stop-color="#00beff"/><stop offset="1" stop-color="#00b1ff"/></linearGradient><linearGradient id="g237" gradientUnits="userSpaceOnUse" x1="163" x2="633.4" y1="0" y2="0"><stop offset="0" stop-color="#8dff00"/><stop offset="0.171" stop-color="#87ff00"/><stop offset="0.3974" stop-color="#56ff00"/><stop offset="0.4746" stop-color="#1eff00"/><stop offset="0.5347" stop-color="#00ff58"/><stop offset="0.5896" stop-color="#00fcff"/><stop offset="0.6548" stop-color="#00daff"/><stop offset="0.8263" stop-color="#00a7ff"/><stop offset="1" stop-color="#009bff"/></linearGradient><linearGradient id="g238" gradientUnits="userSpaceOnUse" x1="163" x2="633.4" y1="0" y2="0"><stop offset="0" stop-color="#85ff00"/><stop offset="0.171" stop-color="#7fff00"/><stop offset="0.3683" stop-color="#54ff00"/><stop offset="0.4317" stop-color="#21ff00"/><stop offset="0.4746" stop-color="#00ff0c"/><stop offset="0.5347" stop-color="#00ffe1"/><stop offset="0.5896" stop-color="#00e3ff"/><stop offset="0.6548" stop-color="#00c3ff"/><stop offset="0.8263" stop-color="#0097ff"/><stop offset="1" stop-color="#0092ff"/></linearGradient><linearGradient id="g239" gradientUnits="userSpaceOnUse" x1="163" x2="633.4" y1="0" y2="0"><stop offset="0" stop-color="#7dff00"/><stop offset="0.171" stop-color="#77ff00"/><stop offset="0.3116" stop-color="#59ff00"/><stop offset="0.3974" stop-color="#1eff00"/><stop offset="0.4317" stop-color="#01ff00"/><stop offset="0.4746" stop-color="#00ff95"/><stop offset="0.5347" stop-color="#00edff"/><stop offset="0.6548" stop-color="#00abff"/><stop offset="0.8263" stop-color="#008dff"/><stop offset="1" stop-color="#0089ff"/></linearGradient><linearGradient id="g240" gradientUnits="userSpaceOnUse" x1="163" x2="633.4" y1="0" y2="0"><stop offset="0" stop-color="#75ff00"/><stop offset="0.1675" stop-color="#6fff00"/><stop offset="0.2739" stop-color="#58ff00"/><stop offset="0.3683" stop-color="#16ff00"/><stop offset="0.3974" stop-color="#00ff0d"/><stop offset="0.4317" stop-color="#00ff86"/><stop offset="0.4746" stop-color="#00faff"/><stop offset="0.5896" stop-color="#00b3ff"/><stop offset="0.6548" stop-color="#0098ff"/><stop offset="0.8263" stop-color="#0084ff"/><stop offset="1" stop-color="#007fff"/></linearGradient><linearGradient id="g241" gradientUnits="userSpaceOnUse" x1="163" x2="633.4" y1="0" y2="0"><stop offset="0" stop-color="#6cff00"/><stop offset="0.1675" stop-color="#67ff00"/><stop offset="0.2465" stop-color="#51ff00"/><stop offset="0.3374" stop-color="#0dff00"/><stop offset="0.3683" stop-color="#00ff32"/><stop offset="0.3974" stop-color="#00ff96"/><stop offset="0.4317" stop-color="#00fdff"/><stop offset="0.5896" stop-color="#009bff"/><stop offset="0.8263" stop-color="#007bff"/><stop offset="1" stop-color="#0076ff"/></linearGradient><linearGradient id="g242" gradientUnits="userSpaceOnUse" x1="163" x2="633.4" y1="0" y2="0"><stop offset="0" stop-color="#64ff00"/><stop offset="0.1675" stop-color="#5fff00"/><stop offset="0.2087" stop-color="#4eff00"/><stop offset="0.3116" stop-color="#00ff04"/><stop offset="0.3683" stop-color="#00ffba"/><stop offset="0.3974" stop-color="#00faff"/><stop offset="0.5347" stop-color="#00a3ff"/><stop offset="0.6548" stop-color="#0083ff"/><stop offset="0.9121" stop-color="#006fff"/><stop offset="1" stop-color="#006dff"/></linearGradient><linearGradient id="g243" gradientUnits="userSpaceOnUse" x1="163" x2="633.4" y1="0" y2="0"><stop offset="0" stop-color="#5cff00"/><stop offset="0.1538" stop-color="#57ff00"/><stop offset="0.2602" stop-color="#08ff00"/><stop offset="0.2739" stop-color="#00ff14"/><stop offset="0.3374" stop-color="#00ffe0"/><stop offset="0.3683" stop-color="#00f3ff"/><stop offset="0.4746" stop-color="#00aeff"/><stop offset="0.5347" stop-color="#0093ff"/><stop offset="0.6548" stop-color="#0079ff"/><stop offset="0.9121" stop-color="#0066ff"/><stop offset="1" stop-color="#0064ff"/></linearGradient><linearGradient id="g244" gradientUnits="userSpaceOnUse" x1="163" x2="633.4" y1="0" y2="0"><stop offset="0" stop-color="#42ff00"/><stop offset="0.147" stop-color="#3dff00"/><stop offset="0.2224" stop-color="#03ff00"/><stop offset="0.2293" stop-color="#00ff0d"/><stop offset="0.2911" stop-color="#00ffd4"/><stop offset="0.3116" stop-color="#00fbff"/><stop offset="0.4746" stop-color="#0098ff"/><stop offset="0.6548" stop-color="#006fff"/><stop offset="0.9121" stop-color="#0061ff"/><stop offset="1" stop-color="#0062ff"/></linearGradient><linearGradient id="g245" gradientUnits="userSpaceOnUse" x1="163" x2="633.4" y1="0" y2="0"><stop offset="0" stop-color="#22ff00"/><stop offset="0.147" stop-color="#1dff00"/><stop offset="0.1813" stop-color="#02ff00"/><stop offset="0.2602" stop-color="#00fff9"/><stop offset="0.3374" stop-color="#00cfff"/><stop offset="0.4317" stop-color="#0098ff"/><stop offset="0.6548" stop-color="#0064ff"/><stop offset="1" stop-color="#0062ff"/></linearGradient><linearGradient id="g246" gradientUnits="userSpaceOnUse" x1="163" x2="633.4" y1="0" y2="0"><stop offset="0" stop-color="#00ff00"/><stop offset="0.1401" stop-color="#00ff00"/><stop offset="0.2156" stop-color="#00fff2"/><stop offset="0.2224" stop-color="#00feff"/><stop offset="0.3683" stop-color="#00a1ff"/><stop offset="0.5896" stop-color="#0065ff"/><stop offset="1" stop-color="#0062ff"/></linearGradient><linearGradient id="g247" gradientUnits="userSpaceOnUse" x1="163" x2="633.4" y1="0" y2="0"><stop offset="0" stop-color="#00ff88"/><stop offset="0.1401" stop-color="#00ff88"/><stop offset="0.1778" stop-color="#00fffe"/><stop offset="0.3374" stop-color="#0099ff"/><stop offset="0.5347" stop-color="#0065ff"/><stop offset="0.8263" stop-color="#0061ff"/><stop offset="1" stop-color="#0062ff"/></linearGradient><linearGradient id="g248" gradientUnits="userSpaceOnUse" x1="163" x2="633.4" y1="0" y2="0"><stop offset="0" stop-color="#00fcff"/><stop offset="0.147" stop-color="#00f7ff"/><stop offset="0.2911" stop-color="#0099ff"/><stop offset="0.4746" stop-color="#0066ff"/><stop offset="0.5896" stop-color="#005fff"/><stop offset="1" stop-color="#0062ff"/></linearGradient><linearGradient id="g249" gradientUnits="userSpaceOnUse" x1="163" x2="633.4" y1="0" y2="0"><stop offset="0" stop-color="#00ddff"/><stop offset="0.147" stop-color="#00d8ff"/><stop offset="0.2465" stop-color="#0099ff"/><stop offset="0.4746" stop-color="#005dff"/><stop offset="1" stop-color="#0062ff"/></linearGradient><linearGradient id="g250" gradientUnits="userSpaceOnUse" x1="163" x2="633.4" y1="0" y2="0"><stop offset="0" stop-color="#00beff"/><stop offset="0.147" stop-color="#00b9ff"/><stop offset="0.2156" stop-color="#0093ff"/><stop offset="0.3974" stop-color="#005fff"/><stop offset="1" stop-color="#0062ff"/></linearGradient><linearGradient id="g251" gradientUnits="userSpaceOnUse" x1="163" x2="633.4" y1="0" y2="0"><stop offset="0" stop-color="#009fff"/><stop offset="0.147" stop-color="#009bff"/><stop offset="0.3374" stop-color="#005fff"/><stop offset="1" stop-color="#0062ff"/></linearGradient><linearGradient id="g252" gradientUnits="userSpaceOnUse" x1="163" x2="633.4" y1="0" y2="0"><stop offset="0" stop-color="#008bff"/><stop offset="0.1538" stop-color="#0086ff"/><stop offset="0.3116" stop-color="#005bff"/><stop offset="1" stop-color="#0062ff"/></linearGradient><linearGradient id="g253" gradientUnits="userSpaceOnUse" x1="163" x2="633.4" y1="0" y2="0"><stop offset="0" stop-color="#0079ff"/><stop offset="0.1538" stop-color="#0074ff"/><stop offset="0.2465" stop-color="#005aff"/><stop offset="1" stop-color="#006aff"/></linearGradient><linearGradient id="g254" gradientUnits="userSpaceOnUse" x1="163" x2="633.4" y1="0" y2="0"><stop offset="0" stop-color="#0066ff"/><stop offset="0.1572" stop-color="#0061ff"/><stop offset="0.2293" stop-color="#005aff"/><stop offset="0.7405" stop-color="#0063ff"/><stop offset="0.9121" stop-color="#0070ff"/><stop offset="1" stop-color="#0073ff"/></linearGradient><linearGradient id="g255" gradientUnits="userSpaceOnUse" x1="163" x2="633.4" y1="0" y2="0"><stop offset="0" stop-color="#0059ff"/><stop offset="0.6548" stop-color="#0062ff"/><stop offset="0.8263" stop-color="#0077ff"/><stop offset="1" stop-color="#007cff"/></linearGradient><linearGradient id="g256" gradientUnits="userSpaceOnUse" x1="163" x2="633.4" y1="0" y2="0"><stop offset="0" stop-color="#0059ff"/><stop offset="0.5896" stop-color="#005fff"/><stop offset="0.8263" stop-color="#0080ff"/><stop offset="1" stop-color="#0085ff"/></linearGradient><linearGradient id="g257" gradientUnits="userSpaceOnUse" x1="163" x2="633.4" y1="0" y2="0"><stop offset="0" stop-color="#0059ff"/><stop offset="0.5347" stop-color="#005eff"/><stop offset="0.7405" stop-color="#0080ff"/><stop offset="1" stop-color="#0085ff"/></linearGradient><linearGradient id="g258" gradientUnits="userSpaceOnUse" x1="163" x2="633.4" y1="0" y2="0"><stop offset="0" stop-color="#0059ff"/><stop offset="0.4746" stop-color="#005dff"/><stop offset="0.6548" stop-color="#0080ff"/><stop offset="1" stop-color="#0085ff"/></linearGradient><linearGradient id="g259" gradientUnits="userSpaceOnUse" x1="163" x2="633.4" y1="0" y2="0"><stop offset="0" stop-color="#0059ff"/><stop offset="0.4746" stop-color="#005fff"/><stop offset="0.5896" stop-color="#007eff"/><stop offset="0.7405" stop-color="#0085ff"/><stop offset="1" stop-color="#0085ff"/></linearGradient><linearGradient id="g260" gradientUnits="userSpaceOnUse" x1="163" x2="633.4" y1="0" y2="0"><stop offset="0" stop-color="#0059ff"/><stop offset="0.4317" stop-color="#005eff"/><stop offset="0.5896" stop-color="#0085ff"/><stop offset="1" stop-color="#0085ff"/></linearGradient><linearGradient id="g261" gradientUnits="userSpaceOnUse" x1="163" x2="633.4" y1="0" y2="0"><stop offset="0" stop-color="#0059ff"/><stop offset="0.3974" stop-color="#0060ff"/><stop offset="0.5347" stop-color="#0085ff"/><stop offset="1" stop-color="#0085ff"/></linearGradient><linearGradient id="g262" gradientUnits="userSpaceOnUse" x1="163" x2="633.4" y1="0" y2="0"><stop offset="0" stop-color="#0059ff"/><stop offset="0.3374" stop-color="#005bff"/><stop offset="0.4746" stop-color="#0083ff"/><stop offset="0.8263" stop-color="#0083ff"/><stop offset="1" stop-color="#0071ff"/></linearGradient><linearGradient id="g263" gradientUnits="userSpaceOnUse" x1="163" x2="633.4" y1="0" y2="0"><stop offset="0" stop-color="#0059ff"/><stop offset="0.2911" stop-color="#005bff"/><stop offset="0.4317" stop-color="#0084ff"/><stop offset="0.7405" stop-color="#0085ff"/><stop offset="0.8263" stop-color="#0066ff"/><stop offset="1" stop-color="#0053ff"/></linearGradient><linearGradient id="g264" gradientUnits="userSpaceOnUse" x1="163" x2="633.4" y1="0" y2="0"><stop offset="0" stop-color="#0059ff"/><stop offset="0.2602" stop-color="#005fff"/><stop offset="0.3974" stop-color="#0085ff"/><stop offset="0.6548" stop-color="#0085ff"/><stop offset="0.8263" stop-color="#0048ff"/><stop offset="1" stop-color="#0035ff"/></linearGradient><linearGradient id="g265" gradientUnits="userSpaceOnUse" x1="163" x2="633.4" y1="0" y2="0"><stop offset="0" stop-color="#0059ff"/><stop offset="0.2087" stop-color="#005dff"/><stop offset="0.3374" stop-color="#0085ff"/><stop offset="0.5896" stop-color="#0085ff"/><stop offset="0.8263" stop-color="#002cff"/><stop offset="1" stop-color="#0023ff"/></linearGradient><linearGradient id="g266" gradientUnits="userSpaceOnUse" x1="163" x2="633.4" y1="0" y2="0"><stop offset="0" stop-color="#0059ff"/><stop offset="0.1641" stop-color="#005dff"/><stop offset="0.2911" stop-color="#0085ff"/><stop offset="0.5347" stop-color="#0085ff"/><stop offset="0.5896" stop-color="#007cff"/><stop offset="0.6548" stop-color="#0055ff"/><stop offset="0.7405" stop-color="#0033ff"/><stop offset="0.8263" stop-color="#001fff"/><stop offset="1" stop-color="#0014ff"/></linearGradient><linearGradient id="g267" gradientUnits="userSpaceOnUse" x1="163" x2="633.4" y1="0" y2="0"><stop offset="0" stop-color="#0065ff"/><stop offset="0.1538" stop-color="#006aff"/><stop offset="0.2465" stop-color="#0085ff"/><stop offset="0.5347" stop-color="#0085ff"/><stop offset="0.6548" stop-color="#003bff"/><stop offset="0.8263" stop-color="#000cff"/><stop offset="1" stop-color="#0800ff"/></linearGradient><linearGradient id="g268" gradientUnits="userSpaceOnUse" x1="163" x2="633.4" y1="0" y2="0"><stop offset="0" stop-color="#0076ff"/><stop offset="0.1538" stop-color="#007bff"/><stop offset="0.2156" stop-color="#0085ff"/><stop offset="0.4746" stop-color="#0085ff"/><stop offset="0.5347" stop-color="#006dff"/><stop offset="0.6548" stop-color="#0028ff"/><stop offset="0.7405" stop-color="#0014ff"/><stop offset="0.8263" stop-color="#1000ff"/><stop offset="1" stop-color="#1b00ff"/></linearGradient><linearGradient id="g269" gradientUnits="userSpaceOnUse" x1="163" x2="633.4" y1="0" y2="0"><stop offset="0" stop-color="#0085ff"/><stop offset="0.4317" stop-color="#0085ff"/><stop offset="0.4746" stop-color="#007aff"/><stop offset="0.5896" stop-color="#0031ff"/><stop offset="0.7405" stop-color="#0700ff"/><stop offset="0.8263" stop-color="#1c00ff"/><stop offset="1" stop-color="#1f00ff"/></linearGradient><linearGradient id="g270" gradientUnits="userSpaceOnUse" x1="163" x2="633.4" y1="0" y2="0"><stop offset="0" stop-color="#0085ff"/><stop offset="0.3974" stop-color="#0085ff"/><stop offset="0.4317" stop-color="#007dff"/><stop offset="0.5896" stop-color="#0022ff"/><stop offset="0.6548" stop-color="#0002ff"/><stop offset="0.7405" stop-color="#1a00ff"/><stop offset="1" stop-color="#2400ff"/></linearGradient><linearGradient id="g271" gradientUnits="userSpaceOnUse" x1="163" x2="633.4" y1="0" y2="0"><stop offset="0" stop-color="#0085ff"/><stop offset="0.3683" stop-color="#0085ff"/><stop offset="0.5896" stop-color="#0011ff"/><stop offset="0.6548" stop-color="#1900ff"/><stop offset="1" stop-color="#2700ff"/></linearGradient><linearGradient id="g272" gradientUnits="userSpaceOnUse" x1="163" x2="633.4" y1="0" y2="0"><stop offset="0" stop-color="#0085ff"/><stop offset="0.3374" stop-color="#0083ff"/><stop offset="0.5347" stop-color="#001cff"/><stop offset="0.5896" stop-color="#0800ff"/><stop offset="0.6548" stop-color="#1d00ff"/><stop offset="0.9121" stop-color="#2700ff"/><stop offset="1" stop-color="#2700ff"/></linearGradient><linearGradient id="g273" gradientUnits="userSpaceOnUse" x1="163" x2="633.4" y1="0" y2="0"><stop offset="0" stop-color="#0085ff"/><stop offset="0.2911" stop-color="#0085ff"/><stop offset="0.5347" stop-color="#0007ff"/><stop offset="0.5896" stop-color="#1a00ff"/><stop offset="0.8263" stop-color="#2700ff"/><stop offset="1" stop-color="#2700ff"/></linearGradient><linearGradient id="g274" gradientUnits="userSpaceOnUse" x1="163" x2="633.4" y1="0" y2="0"><stop offset="0" stop-color="#0085ff"/><stop offset="0.2465" stop-color="#0085ff"/><stop offset="0.4746" stop-color="#0017ff"/><stop offset="0.5347" stop-color="#1200ff"/><stop offset="0.6548" stop-color="#2600ff"/><stop offset="1" stop-color="#2700ff"/></linearGradient><linearGradient id="g275" gradientUnits="userSpaceOnUse" x1="163" x2="633.4" y1="0" y2="0"><stop offset="0" stop-color="#0085ff"/><stop offset="0.2156" stop-color="#0080ff"/><stop offset="0.4746" stop-color="#0001ff"/><stop offset="0.5347" stop-color="#1c00ff"/><stop offset="0.7405" stop-color="#2700ff"/><stop offset="1" stop-color="#2700ff"/></linearGradient><linearGradient id="g276" gradientUnits="userSpaceOnUse" x1="163" x2="633.4" y1="0" y2="0"><stop offset="0" stop-color="#0085ff"/><stop offset="0.171" stop-color="#0081ff"/><stop offset="0.4317" stop-color="#0007ff"/><stop offset="0.4746" stop-color="#1800ff"/><stop offset="0.5896" stop-color="#2700ff"/><stop offset="1" stop-color="#2700ff"/></linearGradient><linearGradient id="g277" gradientUnits="userSpaceOnUse" x1="163" x2="633.4" y1="0" y2="0"><stop offset="0" stop-color="#007cff"/><stop offset="0.1504" stop-color="#0078ff"/><stop offset="0.3974" stop-color="#0007ff"/><stop offset="0.4746" stop-color="#1d00ff"/><stop offset="0.6548" stop-color="#2700ff"/><stop offset="1" stop-color="#2700ff"/></linearGradient><linearGradient id="g278" gradientUnits="userSpaceOnUse" x1="163" x2="633.4" y1="0" y2="0"><stop offset="0" stop-color="#006bff"/><stop offset="0.1504" stop-color="#0067ff"/><stop offset="0.3683" stop-color="#0003ff"/><stop offset="0.4317" stop-color="#1c00ff"/><stop offset="0.5896" stop-color="#2700ff"/><stop offset="1" stop-color="#2700ff"/></linearGradient><linearGradient id="g279" gradientUnits="userSpaceOnUse" x1="163" x2="633.4" y1="0" y2="0"><stop offset="0" stop-color="#005aff"/><stop offset="0.1504" stop-color="#0056ff"/><stop offset="0.3374" stop-color="#0100ff"/><stop offset="0.3683" stop-color="#1500ff"/><stop offset="0.5347" stop-color="#2700ff"/><stop offset="1" stop-color="#2700ff"/></linearGradient><linearGradient id="g280" gradientUnits="userSpaceOnUse" x1="163" x2="633.4" y1="0" y2="0"><stop offset="0" stop-color="#0049ff"/><stop offset="0.1504" stop-color="#0045ff"/><stop offset="0.2911" stop-color="#0004ff"/><stop offset="0.3374" stop-color="#1800ff"/><stop offset="0.5347" stop-color="#2700ff"/><stop offset="1" stop-color="#2700ff"/></linearGradient><linearGradient id="g281" gradientUnits="userSpaceOnUse" x1="163" x2="633.4" y1="0" y2="0"><stop offset="0" stop-color="#0038ff"/><stop offset="0.1504" stop-color="#0034ff"/><stop offset="0.2602" stop-color="#0000ff"/><stop offset="0.3116" stop-color="#1a00ff"/><stop offset="0.4746" stop-color="#2700ff"/><stop offset="1" stop-color="#2700ff"/></linearGradient><linearGradient id="g282" gradientUnits="userSpaceOnUse" x1="163" x2="633.4" y1="0" y2="0"><stop offset="0" stop-color="#0028ff"/><stop offset="0.1504" stop-color="#0023ff"/><stop offset="0.2293" stop-color="#0400ff"/><stop offset="0.2739" stop-color="#1a00ff"/><stop offset="0.4317" stop-color="#2700ff"/><stop offset="1" stop-color="#2700ff"/></linearGradient><linearGradient id="g283" gradientUnits="userSpaceOnUse" x1="163" x2="633.4" y1="0" y2="0"><stop offset="0" stop-color="#0017ff"/><stop offset="0.1504" stop-color="#0012ff"/><stop offset="0.195" stop-color="#0600ff"/><stop offset="0.2379" stop-color="#1a00ff"/><stop offset="0.4317" stop-color="#2700ff"/><stop offset="1" stop-color="#2700ff"/></linearGradient><linearGradient id="g284" gradientUnits="userSpaceOnUse" x1="163" x2="633.4" y1="0" y2="0"><stop offset="0" stop-color="#0004ff"/><stop offset="0.1538" stop-color="#0400ff"/><stop offset="0.2053" stop-color="#1a00ff"/><stop offset="0.3974" stop-color="#2700ff"/><stop offset="1" stop-color="#2700ff"/></linearGradient><linearGradient id="g285" gradientUnits="userSpaceOnUse" x1="163" x2="633.4" y1="0" y2="0"><stop offset="0" stop-color="#1100ff"/><stop offset="0.147" stop-color="#1500ff"/><stop offset="0.3374" stop-color="#2700ff"/><stop offset="1" stop-color="#2700ff"/></linearGradient><linearGradient id="g286" gradientUnits="userSpaceOnUse" x1="163" x2="633.4" y1="0" y2="0"><stop offset="0" stop-color="#1b00ff"/><stop offset="0.3974" stop-color="#2700ff"/><stop offset="1" stop-color="#2700ff"/></linearGradient><linearGradient id="g287" gradientUnits="userSpaceOnUse" x1="163" x2="633.4" y1="0" y2="0"><stop offset="0" stop-color="#1f00ff"/><stop offset="0.5347" stop-color="#2700ff"/><stop offset="1" stop-color="#2700ff"/></linearGradient><linearGradient id="g288" gradientUnits="userSpaceOnUse" x1="163" x2="633.4" y1="0" y2="0"><stop offset="0" stop-color="#2300ff"/><stop offset="1" stop-color="#2700ff"/></linearGradient><linearGradient id="g289" gradientUnits="userSpaceOnUse" x1="163" x2="633.4" y1="0" y2="0"><stop offset="0" stop-color="#2700ff"/><stop offset="1" stop-color="#2600ff"/></linearGradient><linearGradient id="g290" gradientUnits="userSpaceOnUse" x1="163" x2="633.4" y1="0" y2="0"><stop offset="0" stop-color="#2700ff"/><stop offset="0.3683" stop-color="#1d00ff"/><stop offset="1" stop-color="#1d00ff"/></linearGradient><linearGradient id="g291" gradientUnits="userSpaceOnUse" x1="163" x2="633.4" y1="0" y2="0"><stop offset="0" stop-color="#2700ff"/><stop offset="0.1572" stop-color="#2200ff"/><stop offset="0.2224" stop-color="#1400ff"/><stop offset="1" stop-color="#1400ff"/></linearGradient><linearGradient id="g292" gradientUnits="userSpaceOnUse" x1="163" x2="633.4" y1="0" y2="0"><stop offset="0" stop-color="#2700ff"/><stop offset="0.1538" stop-color="#2200ff"/><stop offset="0.2087" stop-color="#0a00ff"/><stop offset="1" stop-color="#0a00ff"/></linearGradient><linearGradient id="g293" gradientUnits="userSpaceOnUse" x1="163" x2="633.4" y1="0" y2="0"><stop offset="0" stop-color="#2700ff"/><stop offset="0.1504" stop-color="#2200ff"/><stop offset="0.2087" stop-color="#0100ff"/><stop offset="1" stop-color="#0100ff"/></linearGradient><linearGradient id="g294" gradientUnits="userSpaceOnUse" x1="163" x2="633.4" y1="0" y2="0"><stop offset="0" stop-color="#2700ff"/><stop offset="0.1435" stop-color="#2200ff"/><stop offset="0.1744" stop-color="#0005ff"/><stop offset="0.2053" stop-color="#0022ff"/><stop offset="1" stop-color="#0022ff"/></linearGradient><linearGradient id="g295" gradientUnits="userSpaceOnUse" x1="163" x2="633.4" y1="0" y2="0"><stop offset="0" stop-color="#2700ff"/><stop offset="0.1401" stop-color="#2300ff"/><stop offset="0.1607" stop-color="#0100ff"/><stop offset="0.1984" stop-color="#0043ff"/><stop offset="0.3974" stop-color="#0048ff"/><stop offset="1" stop-color="#0048ff"/></linearGradient><linearGradient id="g296" gradientUnits="userSpaceOnUse" x1="163" x2="633.4" y1="0" y2="0"><stop offset="0" stop-color="#2700ff"/><stop offset="0.1401" stop-color="#2100ff"/><stop offset="0.1538" stop-color="#0300ff"/><stop offset="0.195" stop-color="#0070ff"/><stop offset="0.2087" stop-color="#007eff"/><stop offset="1" stop-color="#007eff"/></linearGradient><linearGradient id="g297" gradientUnits="userSpaceOnUse" x1="163" x2="633.4" y1="0" y2="0"><stop offset="0" stop-color="#2700ff"/><stop offset="0.1349" stop-color="#2600ff"/><stop offset="0.147" stop-color="#0d00ff"/><stop offset="0.1504" stop-color="#0200ff"/><stop offset="0.1916" stop-color="#00a1ff"/><stop offset="0.2053" stop-color="#00bcff"/><stop offset="1" stop-color="#00beff"/></linearGradient><linearGradient id="g298" gradientUnits="userSpaceOnUse" x1="163" x2="633.4" y1="0" y2="0"><stop offset="0" stop-color="#2700ff"/><stop offset="0.1349" stop-color="#2600ff"/><stop offset="0.147" stop-color="#0600ff"/><stop offset="0.1538" stop-color="#0017ff"/><stop offset="0.1881" stop-color="#00cbff"/><stop offset="0.2019" stop-color="#00f7ff"/><stop offset="0.2293" stop-color="#00feff"/><stop offset="1" stop-color="#00feff"/></linearGradient><linearGradient id="g299" gradientUnits="userSpaceOnUse" x1="163" x2="633.4" y1="0" y2="0"><stop offset="0" stop-color="#2700ff"/><stop offset="0.1349" stop-color="#2500ff"/><stop offset="0.147" stop-color="#0001ff"/><stop offset="0.1641" stop-color="#0063ff"/><stop offset="0.1881" stop-color="#00fdff"/><stop offset="0.1984" stop-color="#00ff9f"/><stop offset="0.2053" stop-color="#00ff7d"/><stop offset="1" stop-color="#00ff79"/></linearGradient><linearGradient id="g300" gradientUnits="userSpaceOnUse" x1="163" x2="633.4" y1="0" y2="0"><stop offset="0" stop-color="#2700ff"/><stop offset="0.1349" stop-color="#2500ff"/><stop offset="0.1435" stop-color="#0a00ff"/><stop offset="0.147" stop-color="#0007ff"/><stop offset="0.1607" stop-color="#0060ff"/><stop offset="0.1813" stop-color="#00fffc"/><stop offset="0.1916" stop-color="#00ff65"/><stop offset="0.1984" stop-color="#00ff1d"/><stop offset="0.2019" stop-color="#00ff04"/><stop offset="0.2739" stop-color="#05ff00"/><stop offset="1" stop-color="#05ff00"/></linearGradient><linearGradient id="g301" gradientUnits="userSpaceOnUse" x1="163" x2="633.4" y1="0" y2="0"><stop offset="0" stop-color="#2700ff"/><stop offset="0.1349" stop-color="#2400ff"/><stop offset="0.1435" stop-color="#0200ff"/><stop offset="0.1538" stop-color="#0044ff"/><stop offset="0.171" stop-color="#00e4ff"/><stop offset="0.1744" stop-color="#00ffef"/><stop offset="0.1847" stop-color="#00ff17"/><stop offset="0.1881" stop-color="#0dff00"/><stop offset="0.1984" stop-color="#3eff00"/><stop offset="0.2087" stop-color="#51ff00"/><stop offset="1" stop-color="#51ff00"/></linearGradient><linearGradient id="g302" gradientUnits="userSpaceOnUse" x1="163" x2="633.4" y1="0" y2="0"><stop offset="0" stop-color="#2700ff"/><stop offset="0.1349" stop-color="#2300ff"/><stop offset="0.1435" stop-color="#0004ff"/><stop offset="0.1538" stop-color="#0058ff"/><stop offset="0.1675" stop-color="#00f0ff"/><stop offset="0.171" stop-color="#00ffc5"/><stop offset="0.1778" stop-color="#00ff10"/><stop offset="0.1813" stop-color="#18ff00"/><stop offset="0.1916" stop-color="#63ff00"/><stop offset="0.2019" stop-color="#93ff00"/><stop offset="0.2087" stop-color="#9eff00"/><stop offset="1" stop-color="#9eff00"/></linearGradient><linearGradient id="g303" gradientUnits="userSpaceOnUse" x1="163" x2="633.4" y1="0" y2="0"><stop offset="0" stop-color="#2700ff"/><stop offset="0.1349" stop-color="#2300ff"/><stop offset="0.1401" stop-color="#0d00ff"/><stop offset="0.1435" stop-color="#000aff"/><stop offset="0.1538" stop-color="#0069ff"/><stop offset="0.1641" stop-color="#00e7ff"/><stop offset="0.1675" stop-color="#00ffcf"/><stop offset="0.1744" stop-color="#00ff00"/><stop offset="0.1881" stop-color="#7fff00"/><stop offset="0.1984" stop-color="#c1ff00"/><stop offset="0.2053" stop-color="#d8ff00"/><stop offset="1" stop-color="#dbff00"/></linearGradient><linearGradient id="g304" gradientUnits="userSpaceOnUse" x1="163" x2="633.4" y1="0" y2="0"><stop offset="0" stop-color="#2700ff"/><stop offset="0.1349" stop-color="#2300ff"/><stop offset="0.1401" stop-color="#0b00ff"/><stop offset="0.1435" stop-color="#000eff"/><stop offset="0.1504" stop-color="#004eff"/><stop offset="0.1607" stop-color="#00d0ff"/><stop offset="0.1641" stop-color="#00fffd"/><stop offset="0.171" stop-color="#00ff1a"/><stop offset="0.1744" stop-color="#1dff00"/><stop offset="0.1881" stop-color="#a8ff00"/><stop offset="0.1984" stop-color="#f1ff00"/><stop offset="0.2019" stop-color="#fffe00"/><stop offset="0.2087" stop-color="#fff300"/><stop offset="1" stop-color="#fff300"/></linearGradient><linearGradient id="g305" gradientUnits="userSpaceOnUse" x1="163" x2="633.4" y1="0" y2="0"><stop offset="0" stop-color="#2700ff"/><stop offset="0.1349" stop-color="#2200ff"/><stop offset="0.1401" stop-color="#0900ff"/><stop offset="0.1435" stop-color="#0010ff"/><stop offset="0.1504" stop-color="#0054ff"/><stop offset="0.1607" stop-color="#00dcff"/><stop offset="0.1641" stop-color="#00ffdb"/><stop offset="0.1675" stop-color="#00ff65"/><stop offset="0.171" stop-color="#06ff00"/><stop offset="0.1847" stop-color="#9fff00"/><stop offset="0.195" stop-color="#f7ff00"/><stop offset="0.2019" stop-color="#ffe500"/><stop offset="0.2087" stop-color="#ffd900"/><stop offset="1" stop-color="#ffd900"/></linearGradient><linearGradient id="g306" gradientUnits="userSpaceOnUse" x1="163" x2="633.4" y1="0" y2="0"><stop offset="0" stop-color="#2700ff"/><stop offset="0.1349" stop-color="#2200ff"/><stop offset="0.1401" stop-color="#0700ff"/><stop offset="0.1435" stop-color="#0013ff"/><stop offset="0.1504" stop-color="#005bff"/><stop offset="0.1607" stop-color="#00e9ff"/><stop offset="0.1641" stop-color="#00ffb7"/><stop offset="0.1675" stop-color="#00ff3a"/><stop offset="0.171" stop-color="#17ff00"/><stop offset="0.1847" stop-color="#b7ff00"/><stop offset="0.1916" stop-color="#f9ff00"/><stop offset="0.2019" stop-color="#ffca00"/><stop offset="0.2087" stop-color="#ffbd00"/><stop offset="1" stop-color="#ffbd00"/></linearGradient><linearGradient id="g307" gradientUnits="userSpaceOnUse" x1="163" x2="633.4" y1="0" y2="0"><stop offset="0" stop-color="#1e00ff"/><stop offset="0.1349" stop-color="#1800ff"/><stop offset="0.1401" stop-color="#0005ff"/><stop offset="0.147" stop-color="#0046ff"/><stop offset="0.1538" stop-color="#00a0ff"/><stop offset="0.1572" stop-color="#00d5ff"/><stop offset="0.1607" stop-color="#00ffde"/><stop offset="0.1641" stop-color="#00ff57"/><stop offset="0.1675" stop-color="#11ff00"/><stop offset="0.1847" stop-color="#f6ff00"/><stop offset="0.1916" stop-color="#ffc500"/><stop offset="0.1984" stop-color="#ff9400"/><stop offset="0.2053" stop-color="#ff7800"/><stop offset="1" stop-color="#ff7300"/></linearGradient><linearGradient id="g308" gradientUnits="userSpaceOnUse" x1="163" x2="633.4" y1="0" y2="0"><stop offset="0" stop-color="#1500ff"/><stop offset="0.1349" stop-color="#0e00ff"/><stop offset="0.1401" stop-color="#0010ff"/><stop offset="0.147" stop-color="#0053ff"/><stop offset="0.1538" stop-color="#00b1ff"/><stop offset="0.1572" stop-color="#00e9ff"/><stop offset="0.1607" stop-color="#00ffab"/><stop offset="0.1641" stop-color="#00ff1e"/><stop offset="0.1675" stop-color="#27ff00"/><stop offset="0.1813" stop-color="#eeff00"/><stop offset="0.1847" stop-color="#ffe600"/><stop offset="0.195" stop-color="#ff8300"/><stop offset="0.2019" stop-color="#ff5200"/><stop offset="0.2087" stop-color="#ff4000"/><stop offset="1" stop-color="#ff4000"/></linearGradient><linearGradient id="g309" gradientUnits="userSpaceOnUse" x1="163" x2="633.4" y1="0" y2="0"><stop offset="0" stop-color="#0b00ff"/><stop offset="0.1349" stop-color="#0500ff"/><stop offset="0.1401" stop-color="#0018ff"/><stop offset="0.147" stop-color="#005aff"/><stop offset="0.1538" stop-color="#00b6ff"/><stop offset="0.1572" stop-color="#00ecff"/><stop offset="0.1607" stop-color="#00ffa7"/><stop offset="0.1641" stop-color="#00ff1c"/><stop offset="0.1675" stop-color="#28ff00"/><stop offset="0.1813" stop-color="#eeff00"/><stop offset="0.1847" stop-color="#ffe600"/><stop offset="0.195" stop-color="#ff8300"/><stop offset="0.2019" stop-color="#ff5200"/><stop offset="0.2087" stop-color="#ff4000"/><stop offset="1" stop-color="#ff4000"/></linearGradient><linearGradient id="g310" gradientUnits="userSpaceOnUse" x1="163" x2="633.4" y1="0" y2="0"><stop offset="0" stop-color="#0200ff"/><stop offset="0.1349" stop-color="#0004ff"/><stop offset="0.1401" stop-color="#0020ff"/><stop offset="0.147" stop-color="#0060ff"/><stop offset="0.1538" stop-color="#00baff"/><stop offset="0.1572" stop-color="#00eeff"/><stop offset="0.1607" stop-color="#00ffa3"/><stop offset="0.1641" stop-color="#00ff1a"/><stop offset="0.1675" stop-color="#28ff00"/><stop offset="0.1813" stop-color="#eeff00"/><stop offset="0.1847" stop-color="#ffe600"/><stop offset="0.195" stop-color="#ff8300"/><stop offset="0.2019" stop-color="#ff5200"/><stop offset="0.2087" stop-color="#ff4000"/><stop offset="1" stop-color="#ff4000"/></linearGradient><linearGradient id="g311" gradientUnits="userSpaceOnUse" x1="163" x2="633.4" y1="0" y2="0"><stop offset="0" stop-color="#0009ff"/><stop offset="0.1349" stop-color="#000eff"/><stop offset="0.1401" stop-color="#002aff"/><stop offset="0.147" stop-color="#0068ff"/><stop offset="0.1538" stop-color="#00bfff"/><stop offset="0.1572" stop-color="#00f2ff"/><stop offset="0.1607" stop-color="#00ff9e"/><stop offset="0.1641" stop-color="#00ff17"/><stop offset="0.1675" stop-color="#28ff00"/><stop offset="0.1813" stop-color="#eeff00"/><stop offset="0.1847" stop-color="#ffe600"/><stop offset="0.195" stop-color="#ff8300"/><stop offset="0.2019" stop-color="#ff5200"/><stop offset="0.2087" stop-color="#ff4000"/><stop offset="1" stop-color="#ff4000"/></linearGradient><linearGradient id="g312" gradientUnits="userSpaceOnUse" x1="163" x2="633.4" y1="0" y2="0"><stop offset="0" stop-color="#0014ff"/><stop offset="0.1349" stop-color="#001aff"/><stop offset="0.1435" stop-color="#004dff"/><stop offset="0.1504" stop-color="#0092ff"/><stop offset="0.1572" stop-color="#00ecff"/><stop offset="0.1607" stop-color="#00ffb5"/><stop offset="0.1641" stop-color="#00ff37"/><stop offset="0.1675" stop-color="#1bff00"/><stop offset="0.1813" stop-color="#d9ff00"/><stop offset="0.1847" stop-color="#fffa00"/><stop offset="0.195" stop-color="#ff9b00"/><stop offset="0.2019" stop-color="#ff7100"/><stop offset="0.2087" stop-color="#ff6000"/><stop offset="1" stop-color="#ff6000"/></linearGradient><linearGradient id="g313" gradientUnits="userSpaceOnUse" x1="163" x2="633.4" y1="0" y2="0"><stop offset="0" stop-color="#001fff"/><stop offset="0.1349" stop-color="#0024ff"/><stop offset="0.1435" stop-color="#0055ff"/><stop offset="0.1504" stop-color="#0095ff"/><stop offset="0.1572" stop-color="#00e9ff"/><stop offset="0.1607" stop-color="#00ffc3"/><stop offset="0.1641" stop-color="#00ff4b"/><stop offset="0.1675" stop-color="#12ff00"/><stop offset="0.1847" stop-color="#f6ff00"/><stop offset="0.1916" stop-color="#ffc500"/><stop offset="0.1984" stop-color="#ff9500"/><stop offset="0.2053" stop-color="#ff7900"/><stop offset="1" stop-color="#ff7500"/></linearGradient><linearGradient id="g314" gradientUnits="userSpaceOnUse" x1="163" x2="633.4" y1="0" y2="0"><stop offset="0" stop-color="#002aff"/><stop offset="0.1349" stop-color="#002dff"/><stop offset="0.1435" stop-color="#005aff"/><stop offset="0.1504" stop-color="#0098ff"/><stop offset="0.1572" stop-color="#00ecff"/><stop offset="0.1607" stop-color="#00ffba"/><stop offset="0.1641" stop-color="#00ff40"/><stop offset="0.1675" stop-color="#17ff00"/><stop offset="0.1813" stop-color="#d7ff00"/><stop offset="0.1847" stop-color="#fffd00"/><stop offset="0.195" stop-color="#ffa100"/><stop offset="0.2019" stop-color="#ff7f00"/><stop offset="0.2087" stop-color="#ff7500"/><stop offset="1" stop-color="#ff7500"/></linearGradient><linearGradient id="g315" gradientUnits="userSpaceOnUse" x1="163" x2="633.4" y1="0" y2="0"><stop offset="0" stop-color="#004bff"/><stop offset="0.1349" stop-color="#004bff"/><stop offset="0.1401" stop-color="#005bff"/><stop offset="0.147" stop-color="#0087ff"/><stop offset="0.1538" stop-color="#00cbff"/><stop offset="0.1572" stop-color="#00f6ff"/><stop offset="0.1607" stop-color="#00ffa3"/><stop offset="0.1641" stop-color="#00ff27"/><stop offset="0.1675" stop-color="#21ff00"/><stop offset="0.1813" stop-color="#ebff00"/><stop offset="0.1847" stop-color="#ffe900"/><stop offset="0.1916" stop-color="#ffa900"/><stop offset="0.1984" stop-color="#ff8100"/><stop offset="0.2053" stop-color="#ff7500"/><stop offset="1" stop-color="#ff7500"/></linearGradient><linearGradient id="g316" gradientUnits="userSpaceOnUse" x1="163" x2="633.4" y1="0" y2="0"><stop offset="0" stop-color="#0071ff"/><stop offset="0.1401" stop-color="#0076ff"/><stop offset="0.147" stop-color="#0097ff"/><stop offset="0.1538" stop-color="#00d6ff"/><stop offset="0.1572" stop-color="#00fff9"/><stop offset="0.1607" stop-color="#00ff87"/><stop offset="0.1641" stop-color="#00ff04"/><stop offset="0.171" stop-color="#67ff00"/><stop offset="0.1778" stop-color="#d7ff00"/><stop offset="0.1813" stop-color="#fff600"/><stop offset="0.1881" stop-color="#ffad00"/><stop offset="0.195" stop-color="#ff8000"/><stop offset="0.2019" stop-color="#ff7500"/><stop offset="1" stop-color="#ff7500"/></linearGradient><linearGradient id="g317" gradientUnits="userSpaceOnUse" x1="163" x2="633.4" y1="0" y2="0"><stop offset="0" stop-color="#0096ff"/><stop offset="0.1435" stop-color="#0096ff"/><stop offset="0.147" stop-color="#00a5ff"/><stop offset="0.1504" stop-color="#00bfff"/><stop offset="0.1538" stop-color="#00e4ff"/><stop offset="0.1572" stop-color="#00ffd2"/><stop offset="0.1607" stop-color="#00ff52"/><stop offset="0.1641" stop-color="#16ff00"/><stop offset="0.1744" stop-color="#cfff00"/><stop offset="0.1778" stop-color="#fff500"/><stop offset="0.1847" stop-color="#ff9e00"/><stop offset="0.1916" stop-color="#ff6700"/><stop offset="0.1984" stop-color="#ff5f00"/><stop offset="1" stop-color="#ff5f00"/></linearGradient><linearGradient id="g318" gradientUnits="userSpaceOnUse" x1="163" x2="633.4" y1="0" y2="0"><stop offset="0" stop-color="#00c8ff"/><stop offset="0.1349" stop-color="#00c8ff"/><stop offset="0.1435" stop-color="#00b6ff"/><stop offset="0.147" stop-color="#00bcff"/><stop offset="0.1504" stop-color="#00d3ff"/><stop offset="0.1538" stop-color="#00f9ff"/><stop offset="0.1572" stop-color="#00ff94"/><stop offset="0.1607" stop-color="#01ff00"/><stop offset="0.1675" stop-color="#7fff00"/><stop offset="0.171" stop-color="#c9ff00"/><stop offset="0.1744" stop-color="#ffed00"/><stop offset="0.1813" stop-color="#ff8000"/><stop offset="0.1847" stop-color="#ff5400"/><stop offset="0.1881" stop-color="#ff3a00"/><stop offset="0.2087" stop-color="#ff3400"/><stop offset="1" stop-color="#ff3400"/></linearGradient><linearGradient id="g319" gradientUnits="userSpaceOnUse" x1="163" x2="633.4" y1="0" y2="0"><stop offset="0" stop-color="#00fcff"/><stop offset="0.1349" stop-color="#00fcff"/><stop offset="0.1401" stop-color="#00f3ff"/><stop offset="0.1435" stop-color="#00deff"/><stop offset="0.147" stop-color="#00d5ff"/><stop offset="0.1504" stop-color="#00e8ff"/><stop offset="0.1538" stop-color="#00ffd3"/><stop offset="0.1572" stop-color="#00ff43"/><stop offset="0.1607" stop-color="#28ff00"/><stop offset="0.1675" stop-color="#c4ff00"/><stop offset="0.171" stop-color="#ffe400"/><stop offset="0.1778" stop-color="#ff4e00"/><stop offset="0.1813" stop-color="#ff1400"/><stop offset="0.1847" stop-color="#ff0000"/><stop offset="1" stop-color="#ff0000"/></linearGradient><linearGradient id="g320" gradientUnits="userSpaceOnUse" x1="163" x2="633.4" y1="0" y2="0"><stop offset="0" stop-color="#00ff43"/><stop offset="0.1349" stop-color="#00ff43"/><stop offset="0.1401" stop-color="#00ff5b"/><stop offset="0.147" stop-color="#00ffdf"/><stop offset="0.1504" stop-color="#00ffd2"/><stop offset="0.1538" stop-color="#00ff79"/><stop offset="0.1572" stop-color="#0bff00"/><stop offset="0.1607" stop-color="#51ff00"/><stop offset="0.1675" stop-color="#fffb00"/><stop offset="0.1744" stop-color="#ff4200"/><stop offset="0.1778" stop-color="#ff0000"/><stop offset="1" stop-color="#ff0000"/></linearGradient><linearGradient id="g321" gradientUnits="userSpaceOnUse" x1="163" x2="633.4" y1="0" y2="0"><stop offset="0" stop-color="#3eff00"/><stop offset="0.1349" stop-color="#3eff00"/><stop offset="0.1401" stop-color="#34ff00"/><stop offset="0.1435" stop-color="#18ff00"/><stop offset="0.147" stop-color="#00ff23"/><stop offset="0.1504" stop-color="#00ff40"/><stop offset="0.1538" stop-color="#00ff0a"/><stop offset="0.1572" stop-color="#27ff00"/><stop offset="0.1607" stop-color="#66ff00"/><stop offset="0.1641" stop-color="#b6ff00"/><stop offset="0.1675" stop-color="#ffed00"/><stop offset="0.1744" stop-color="#ff2f00"/><stop offset="0.1778" stop-color="#ff0000"/><stop offset="1" stop-color="#ff0000"/></linearGradient><linearGradient id="g322" gradientUnits="userSpaceOnUse" x1="163" x2="633.4" y1="0" y2="0"><stop offset="0" stop-color="#9fff00"/><stop offset="0.1349" stop-color="#9fff00"/><stop offset="0.1401" stop-color="#92ff00"/><stop offset="0.1435" stop-color="#6fff00"/><stop offset="0.147" stop-color="#40ff00"/><stop offset="0.1504" stop-color="#29ff00"/><stop offset="0.1538" stop-color="#2dff00"/><stop offset="0.1572" stop-color="#49ff00"/><stop offset="0.1607" stop-color="#7bff00"/><stop offset="0.1641" stop-color="#c1ff00"/><stop offset="0.1675" stop-color="#ffea00"/><stop offset="0.171" stop-color="#ff9200"/><stop offset="0.1744" stop-color="#ff2f00"/><stop offset="0.1778" stop-color="#ff0000"/><stop offset="1" stop-color="#ff0000"/></linearGradient><linearGradient id="g323" gradientUnits="userSpaceOnUse" x1="163" x2="633.4" y1="0" y2="0"><stop offset="0" stop-color="#e5ff00"/><stop offset="0.1349" stop-color="#e5ff00"/><stop offset="0.1401" stop-color="#d6ff00"/><stop offset="0.1435" stop-color="#adff00"/><stop offset="0.147" stop-color="#77ff00"/><stop offset="0.1504" stop-color="#56ff00"/><stop offset="0.1538" stop-color="#50ff00"/><stop offset="0.1572" stop-color="#62ff00"/><stop offset="0.1607" stop-color="#8aff00"/><stop offset="0.1641" stop-color="#c8ff00"/><stop offset="0.1675" stop-color="#ffe900"/><stop offset="0.171" stop-color="#ff9200"/><stop offset="0.1744" stop-color="#ff2f00"/><stop offset="0.1778" stop-color="#ff0000"/><stop offset="1" stop-color="#ff0000"/></linearGradient><linearGradient id="g324" gradientUnits="userSpaceOnUse" x1="163" x2="633.4" y1="0" y2="0"><stop offset="0" stop-color="#ffe900"/><stop offset="0.1349" stop-color="#ffe900"/><stop offset="0.1401" stop-color="#fff800"/><stop offset="0.1435" stop-color="#dbff00"/><stop offset="0.147" stop-color="#9fff00"/><stop offset="0.1504" stop-color="#77ff00"/><stop offset="0.1538" stop-color="#69ff00"/><stop offset="0.1572" stop-color="#74ff00"/><stop offset="0.1607" stop-color="#95ff00"/><stop offset="0.1641" stop-color="#cdff00"/><stop offset="0.1675" stop-color="#ffe700"/><stop offset="0.171" stop-color="#ff9200"/><stop offset="0.1744" stop-color="#ff2f00"/><stop offset="0.1778" stop-color="#ff0000"/><stop offset="1" stop-color="#ff0000"/></linearGradient><linearGradient id="g325" gradientUnits="userSpaceOnUse" x1="163" x2="633.4" y1="0" y2="0"><stop offset="0" stop-color="#ffb400"/><stop offset="0.1349" stop-color="#ffb400"/><stop offset="0.1401" stop-color="#ffc400"/><stop offset="0.1435" stop-color="#ffef00"/><stop offset="0.147" stop-color="#ceff00"/><stop offset="0.1504" stop-color="#9fff00"/><stop offset="0.1538" stop-color="#88ff00"/><stop offset="0.1572" stop-color="#89ff00"/><stop offset="0.1607" stop-color="#a2ff00"/><stop offset="0.1641" stop-color="#d3ff00"/><stop offset="0.1675" stop-color="#ffe600"/><stop offset="0.171" stop-color="#ff9200"/><stop offset="0.1744" stop-color="#ff2f00"/><stop offset="0.1778" stop-color="#ff0000"/><stop offset="1" stop-color="#ff0000"/></linearGradient><linearGradient id="g326" gradientUnits="userSpaceOnUse" x1="163" x2="633.4" y1="0" y2="0"><stop offset="0" stop-color="#ff8300"/><stop offset="0.1349" stop-color="#ff8300"/><stop offset="0.1401" stop-color="#ff9400"/><stop offset="0.1435" stop-color="#ffc300"/><stop offset="0.147" stop-color="#f9ff00"/><stop offset="0.1504" stop-color="#baff00"/><stop offset="0.1538" stop-color="#8eff00"/><stop offset="0.1572" stop-color="#75ff00"/><stop offset="0.1607" stop-color="#72ff00"/><stop offset="0.1641" stop-color="#87ff00"/><stop offset="0.1675" stop-color="#b5ff00"/><stop offset="0.171" stop-color="#feff00"/><stop offset="0.1744" stop-color="#ffbb00"/><stop offset="0.1778" stop-color="#ff8600"/><stop offset="0.1813" stop-color="#ff6500"/><stop offset="1" stop-color="#ff6000"/></linearGradient><linearGradient id="g327" gradientUnits="userSpaceOnUse" x1="163" x2="633.4" y1="0" y2="0"><stop offset="0" stop-color="#ff5700"/><stop offset="0.1349" stop-color="#ff5700"/><stop offset="0.1401" stop-color="#ff6d00"/><stop offset="0.1435" stop-color="#ffa200"/><stop offset="0.147" stop-color="#ffe800"/><stop offset="0.1504" stop-color="#cdff00"/><stop offset="0.1538" stop-color="#8dff00"/><stop offset="0.1572" stop-color="#5cff00"/><stop offset="0.1607" stop-color="#3dff00"/><stop offset="0.1641" stop-color="#36ff00"/><stop offset="0.1675" stop-color="#4aff00"/><stop offset="0.171" stop-color="#7cff00"/><stop offset="0.1744" stop-color="#b9ff00"/><stop offset="0.1778" stop-color="#e7ff00"/><stop offset="0.1813" stop-color="#fffe00"/><stop offset="1" stop-color="#fffb00"/></linearGradient><linearGradient id="g328" gradientUnits="userSpaceOnUse" x1="163" x2="633.4" y1="0" y2="0"><stop offset="0" stop-color="#ff2700"/><stop offset="0.1349" stop-color="#ff2700"/><stop offset="0.1401" stop-color="#ff3e00"/><stop offset="0.1435" stop-color="#ff7e00"/><stop offset="0.147" stop-color="#ffca00"/><stop offset="0.1504" stop-color="#deff00"/><stop offset="0.1572" stop-color="#2fff00"/><stop offset="0.1607" stop-color="#00ff3f"/><stop offset="0.1641" stop-color="#00ffc9"/><stop offset="0.1675" stop-color="#00ffff"/><stop offset="0.171" stop-color="#00ffcc"/><stop offset="0.1744" stop-color="#00ff68"/><stop offset="0.1778" stop-color="#00ff1d"/><stop offset="0.1813" stop-color="#04ff00"/><stop offset="1" stop-color="#06ff00"/></linearGradient><linearGradient id="g329" gradientUnits="userSpaceOnUse" x1="163" x2="633.4" y1="0" y2="0"><stop offset="0" stop-color="#ff0000"/><stop offset="0.1349" stop-color="#ff0000"/><stop offset="0.1401" stop-color="#ff0a00"/><stop offset="0.1435" stop-color="#ff4d00"/><stop offset="0.1504" stop-color="#fbff00"/><stop offset="0.1572" stop-color="#30ff00"/><stop offset="0.1607" stop-color="#00ff69"/><stop offset="0.1641" stop-color="#00f0ff"/><stop offset="0.1675" stop-color="#00c7ff"/><stop offset="0.171" stop-color="#00d1ff"/><stop offset="0.1744" stop-color="#00f3ff"/><stop offset="0.1778" stop-color="#00ffdf"/><stop offset="0.1813" stop-color="#00ffbf"/><stop offset="1" stop-color="#00ffbb"/></linearGradient><linearGradient id="g330" gradientUnits="userSpaceOnUse" x1="163" x2="633.4" y1="0" y2="0"><stop offset="0" stop-color="#ff0000"/><stop offset="0.1401" stop-color="#ff0000"/><stop offset="0.1435" stop-color="#ff2800"/><stop offset="0.1504" stop-color="#fff100"/><stop offset="0.1538" stop-color="#97ff00"/><stop offset="0.1572" stop-color="#23ff00"/><stop offset="0.1607" stop-color="#00ffcd"/><stop offset="0.1641" stop-color="#00aaff"/><stop offset="0.1675" stop-color="#0069ff"/><stop offset="0.171" stop-color="#005dff"/><stop offset="0.1778" stop-color="#007dff"/><stop offset="0.1881" stop-color="#0086ff"/><stop offset="1" stop-color="#0086ff"/></linearGradient><linearGradient id="g331" gradientUnits="userSpaceOnUse" x1="163" x2="633.4" y1="0" y2="0"><stop offset="0" stop-color="#ff0000"/><stop offset="0.1401" stop-color="#ff0000"/><stop offset="0.1435" stop-color="#ff2800"/><stop offset="0.1504" stop-color="#fff500"/><stop offset="0.1538" stop-color="#8bff00"/><stop offset="0.1572" stop-color="#0cff00"/><stop offset="0.1607" stop-color="#00e8ff"/><stop offset="0.1641" stop-color="#006cff"/><stop offset="0.1675" stop-color="#0019ff"/><stop offset="0.171" stop-color="#0200ff"/><stop offset="0.195" stop-color="#0009ff"/><stop offset="1" stop-color="#0009ff"/></linearGradient><linearGradient id="g332" gradientUnits="userSpaceOnUse" x1="163" x2="633.4" y1="0" y2="0"><stop offset="0" stop-color="#ff0000"/><stop offset="0.1401" stop-color="#ff0000"/><stop offset="0.1435" stop-color="#ff2800"/><stop offset="0.1504" stop-color="#fff600"/><stop offset="0.1572" stop-color="#06ff00"/><stop offset="0.1607" stop-color="#00dbff"/><stop offset="0.1641" stop-color="#005aff"/><stop offset="0.1675" stop-color="#0003ff"/><stop offset="0.171" stop-color="#1f00ff"/><stop offset="1" stop-color="#1d00ff"/></linearGradient><linearGradient id="g333" gradientUnits="userSpaceOnUse" x1="163" x2="633.4" y1="0" y2="0"><stop offset="0" stop-color="#ff0000"/><stop offset="0.1401" stop-color="#ff0000"/><stop offset="0.1435" stop-color="#ff2d00"/><stop offset="0.1504" stop-color="#fffa00"/><stop offset="0.1572" stop-color="#02ff00"/><stop offset="0.1607" stop-color="#00d6ff"/><stop offset="0.1641" stop-color="#0055ff"/><stop offset="0.1675" stop-color="#0300ff"/><stop offset="0.171" stop-color="#2700ff"/><stop offset="1" stop-color="#2700ff"/></linearGradient><linearGradient id="g334" gradientUnits="userSpaceOnUse" x1="163" x2="633.4" y1="0" y2="0"><stop offset="0" stop-color="#ff1e00"/><stop offset="0.1349" stop-color="#ff1e00"/><stop offset="0.1401" stop-color="#ff3600"/><stop offset="0.1435" stop-color="#ff7600"/><stop offset="0.147" stop-color="#ffc600"/><stop offset="0.1504" stop-color="#d3ff00"/><stop offset="0.1538" stop-color="#5dff00"/><stop offset="0.1572" stop-color="#00ff4a"/><stop offset="0.1607" stop-color="#00c0ff"/><stop offset="0.1641" stop-color="#004aff"/><stop offset="0.1675" stop-color="#0700ff"/><stop offset="0.171" stop-color="#2700ff"/><stop offset="1" stop-color="#2700ff"/></linearGradient><linearGradient id="g335" gradientUnits="userSpaceOnUse" x1="163" x2="633.4" y1="0" y2="0"><stop offset="0" stop-color="#ff3200"/><stop offset="0.1349" stop-color="#ff3200"/><stop offset="0.1401" stop-color="#ff4900"/><stop offset="0.1435" stop-color="#ff8600"/><stop offset="0.147" stop-color="#ffd300"/><stop offset="0.1504" stop-color="#c7ff00"/><stop offset="0.1538" stop-color="#54ff00"/><stop offset="0.1572" stop-color="#00ff5d"/><stop offset="0.1607" stop-color="#00bbff"/><stop offset="0.1641" stop-color="#0048ff"/><stop offset="0.1675" stop-color="#0700ff"/><stop offset="0.171" stop-color="#2700ff"/><stop offset="1" stop-color="#2700ff"/></linearGradient><linearGradient id="g336" gradientUnits="userSpaceOnUse" x1="163" x2="633.4" y1="0" y2="0"><stop offset="0" stop-color="#ff0200"/><stop offset="0.1349" stop-color="#ff0200"/><stop offset="0.1401" stop-color="#ff1a00"/><stop offset="0.1435" stop-color="#ff5d00"/><stop offset="0.147" stop-color="#ffb400"/><stop offset="0.1504" stop-color="#e4ff00"/><stop offset="0.1538" stop-color="#6aff00"/><stop offset="0.1572" stop-color="#00ff2e"/><stop offset="0.1607" stop-color="#00c8ff"/><stop offset="0.1641" stop-color="#004eff"/><stop offset="0.1675" stop-color="#0600ff"/><stop offset="0.171" stop-color="#2700ff"/><stop offset="1" stop-color="#2700ff"/></linearGradient><linearGradient id="g337" gradientUnits="userSpaceOnUse" x1="163" x2="633.4" y1="0" y2="0"><stop offset="0" stop-color="#ff0000"/><stop offset="0.1349" stop-color="#ff0000"/><stop offset="0.1401" stop-color="#ff0c00"/><stop offset="0.1435" stop-color="#ff4200"/><stop offset="0.1504" stop-color="#ffee00"/><stop offset="0.1538" stop-color="#a0ff00"/><stop offset="0.1572" stop-color="#29ff00"/><stop offset="0.1607" stop-color="#00ffd7"/><stop offset="0.1641" stop-color="#008dff"/><stop offset="0.1675" stop-color="#0026ff"/><stop offset="0.171" stop-color="#1a00ff"/><stop offset="0.1744" stop-color="#2700ff"/><stop offset="1" stop-color="#2700ff"/></linearGradient><linearGradient id="g338" gradientUnits="userSpaceOnUse" x1="163" x2="633.4" y1="0" y2="0"><stop offset="0" stop-color="#ff3e00"/><stop offset="0.1401" stop-color="#ff3e00"/><stop offset="0.1435" stop-color="#ff5000"/><stop offset="0.147" stop-color="#ff7e00"/><stop offset="0.1504" stop-color="#ffb700"/><stop offset="0.1538" stop-color="#fffe00"/><stop offset="0.1607" stop-color="#47ff00"/><stop offset="0.1641" stop-color="#00ff46"/><stop offset="0.1675" stop-color="#00dbff"/><stop offset="0.171" stop-color="#0074ff"/><stop offset="0.1744" stop-color="#0023ff"/><stop offset="0.1778" stop-color="#1400ff"/><stop offset="0.1813" stop-color="#2700ff"/><stop offset="1" stop-color="#2700ff"/></linearGradient><linearGradient id="g339" gradientUnits="userSpaceOnUse" x1="163" x2="633.4" y1="0" y2="0"><stop offset="0" stop-color="#ff4b00"/><stop offset="0.1435" stop-color="#ff4b00"/><stop offset="0.147" stop-color="#ff5900"/><stop offset="0.1538" stop-color="#ffa600"/><stop offset="0.1572" stop-color="#ffdc00"/><stop offset="0.1607" stop-color="#e0ff00"/><stop offset="0.1675" stop-color="#43ff00"/><stop offset="0.171" stop-color="#00ff27"/><stop offset="0.1744" stop-color="#00faff"/><stop offset="0.1778" stop-color="#009eff"/><stop offset="0.1813" stop-color="#004fff"/><stop offset="0.1847" stop-color="#0012ff"/><stop offset="0.1881" stop-color="#1800ff"/><stop offset="0.1916" stop-color="#2700ff"/><stop offset="1" stop-color="#2700ff"/></linearGradient><linearGradient id="g340" gradientUnits="userSpaceOnUse" x1="163" x2="633.4" y1="0" y2="0"><stop offset="0" stop-color="#ff0000"/><stop offset="0.1504" stop-color="#ff0000"/><stop offset="0.1538" stop-color="#ff1800"/><stop offset="0.1572" stop-color="#ff4700"/><stop offset="0.1675" stop-color="#fffa00"/><stop offset="0.1744" stop-color="#69ff00"/><stop offset="0.1778" stop-color="#1bff00"/><stop offset="0.1813" stop-color="#00ff91"/><stop offset="0.1847" stop-color="#00d3ff"/><stop offset="0.1881" stop-color="#0080ff"/><stop offset="0.1916" stop-color="#003bff"/><stop offset="0.195" stop-color="#0007ff"/><stop offset="0.1984" stop-color="#1d00ff"/><stop offset="0.2019" stop-color="#2700ff"/><stop offset="1" stop-color="#2700ff"/></linearGradient><linearGradient id="g341" gradientUnits="userSpaceOnUse" x1="163" x2="633.4" y1="0" y2="0"><stop offset="0" stop-color="#ff0000"/><stop offset="0.1572" stop-color="#ff0000"/><stop offset="0.1607" stop-color="#ff1b00"/><stop offset="0.171" stop-color="#ffd500"/><stop offset="0.1744" stop-color="#e4ff00"/><stop offset="0.1813" stop-color="#49ff00"/><stop offset="0.1847" stop-color="#00ff09"/><stop offset="0.1881" stop-color="#00ffde"/><stop offset="0.1916" stop-color="#00b7ff"/><stop offset="0.195" stop-color="#006bff"/><stop offset="0.1984" stop-color="#002cff"/><stop offset="0.2019" stop-color="#0200ff"/><stop offset="0.2053" stop-color="#2000ff"/><stop offset="0.2156" stop-color="#2700ff"/><stop offset="1" stop-color="#2700ff"/></linearGradient><linearGradient id="g342" gradientUnits="userSpaceOnUse" x1="163" x2="633.4" y1="0" y2="0"><stop offset="0" stop-color="#ff0000"/><stop offset="0.1572" stop-color="#ff0000"/><stop offset="0.1607" stop-color="#ff1500"/><stop offset="0.171" stop-color="#ffcb00"/><stop offset="0.1744" stop-color="#f0ff00"/><stop offset="0.1847" stop-color="#0bff00"/><stop offset="0.1881" stop-color="#00ffb5"/><stop offset="0.1916" stop-color="#00c8ff"/><stop offset="0.195" stop-color="#007aff"/><stop offset="0.1984" stop-color="#0039ff"/><stop offset="0.2019" stop-color="#0008ff"/><stop offset="0.2053" stop-color="#1b00ff"/><stop offset="0.2087" stop-color="#2700ff"/><stop offset="1" stop-color="#2700ff"/></linearGradient><linearGradient id="g343" gradientUnits="userSpaceOnUse" x1="163" x2="633.4" y1="0" y2="0"><stop offset="0" stop-color="#ff0000"/><stop offset="0.1538" stop-color="#ff0000"/><stop offset="0.1572" stop-color="#ff0d00"/><stop offset="0.1607" stop-color="#ff3a00"/><stop offset="0.171" stop-color="#ffe300"/><stop offset="0.1744" stop-color="#d8ff00"/><stop offset="0.1847" stop-color="#00ff07"/><stop offset="0.1881" stop-color="#00ffd4"/><stop offset="0.1916" stop-color="#00beff"/><stop offset="0.195" stop-color="#0074ff"/><stop offset="0.1984" stop-color="#0035ff"/><stop offset="0.2019" stop-color="#0006ff"/><stop offset="0.2053" stop-color="#1b00ff"/><stop offset="0.2087" stop-color="#2700ff"/><stop offset="1" stop-color="#2700ff"/></linearGradient><linearGradient id="g344" gradientUnits="userSpaceOnUse" x1="163" x2="633.4" y1="0" y2="0"><stop offset="0" stop-color="#ff7d00"/><stop offset="0.1504" stop-color="#ff7f00"/><stop offset="0.1572" stop-color="#ffa000"/><stop offset="0.1641" stop-color="#ffe400"/><stop offset="0.1675" stop-color="#ecff00"/><stop offset="0.1813" stop-color="#03ff00"/><stop offset="0.1847" stop-color="#00ffa8"/><stop offset="0.1881" stop-color="#00dbff"/><stop offset="0.195" stop-color="#0059ff"/><stop offset="0.1984" stop-color="#0026ff"/><stop offset="0.2019" stop-color="#0200ff"/><stop offset="0.2053" stop-color="#1e00ff"/><stop offset="0.2087" stop-color="#2700ff"/><stop offset="1" stop-color="#2700ff"/></linearGradient><linearGradient id="g345" gradientUnits="userSpaceOnUse" x1="163" x2="633.4" y1="0" y2="0"><stop offset="0" stop-color="#e7ff00"/><stop offset="0.1504" stop-color="#e6ff00"/><stop offset="0.1572" stop-color="#caff00"/><stop offset="0.1641" stop-color="#8fff00"/><stop offset="0.1744" stop-color="#14ff00"/><stop offset="0.1778" stop-color="#00ff4c"/><stop offset="0.1813" stop-color="#00ffd5"/><stop offset="0.1847" stop-color="#00d6ff"/><stop offset="0.1916" stop-color="#0069ff"/><stop offset="0.1984" stop-color="#0014ff"/><stop offset="0.2019" stop-color="#0b00ff"/><stop offset="0.2053" stop-color="#2000ff"/><stop offset="0.2156" stop-color="#2700ff"/><stop offset="1" stop-color="#2700ff"/></linearGradient><linearGradient id="g346" gradientUnits="userSpaceOnUse" x1="163" x2="633.4" y1="0" y2="0"><stop offset="0" stop-color="#0fff00"/><stop offset="0.1504" stop-color="#0eff00"/><stop offset="0.1572" stop-color="#00ff0a"/><stop offset="0.1607" stop-color="#00ff38"/><stop offset="0.1675" stop-color="#00ffb4"/><stop offset="0.171" stop-color="#00fffe"/><stop offset="0.1916" stop-color="#0030ff"/><stop offset="0.1984" stop-color="#0300ff"/><stop offset="0.2053" stop-color="#2300ff"/><stop offset="1" stop-color="#2700ff"/></linearGradient><linearGradient id="g347" gradientUnits="userSpaceOnUse" x1="163" x2="633.4" y1="0" y2="0"><stop offset="0" stop-color="#00ffb2"/><stop offset="0.1504" stop-color="#00ffb4"/><stop offset="0.1538" stop-color="#00ffc1"/><stop offset="0.1572" stop-color="#00ffda"/><stop offset="0.1607" stop-color="#00fffe"/><stop offset="0.1744" stop-color="#00a1ff"/><stop offset="0.1916" stop-color="#001dff"/><stop offset="0.195" stop-color="#0008ff"/><stop offset="0.2019" stop-color="#1a00ff"/><stop offset="0.2087" stop-color="#2700ff"/><stop offset="1" stop-color="#2700ff"/></linearGradient><linearGradient id="g348" gradientUnits="userSpaceOnUse" x1="163" x2="633.4" y1="0" y2="0"><stop offset="0" stop-color="#0067ff"/><stop offset="0.1538" stop-color="#0064ff"/><stop offset="0.171" stop-color="#003cff"/><stop offset="0.1881" stop-color="#0002ff"/><stop offset="0.2053" stop-color="#2600ff"/><stop offset="1" stop-color="#2700ff"/></linearGradient><linearGradient id="g349" gradientUnits="userSpaceOnUse" x1="163" x2="633.4" y1="0" y2="0"><stop offset="0" stop-color="#0800ff"/><stop offset="0.1641" stop-color="#0d00ff"/><stop offset="0.2087" stop-color="#2700ff"/><stop offset="1" stop-color="#2700ff"/></linearGradient>
<linearGradient id="cb" gradientUnits="userSpaceOnUse" x1="0" x2="0" y1="1273.8" y2="1702.6"><stop offset="0.0015" stop-color="#640808"/><stop offset="0.0997" stop-color="#aa0000"/><stop offset="0.2088" stop-color="#ff0000"/><stop offset="0.3332" stop-color="#ff0000"/><stop offset="0.4117" stop-color="#ff8000"/><stop offset="0.5056" stop-color="#ffff00"/><stop offset="0.6714" stop-color="#00ff00"/><stop offset="0.7270" stop-color="#00ffff"/><stop offset="0.8525" stop-color="#0000ff"/><stop offset="0.9092" stop-color="#8000ff"/><stop offset="1.0000" stop-color="#800080"/></linearGradient>
</defs>
<g shape-rendering="crispEdges"><rect x="163" y="1269.3" width="470.4" height="1.6" fill="url(#g0)"/><rect x="163" y="1270.3" width="470.4" height="1.6" fill="url(#g1)"/><rect x="163" y="1271.3" width="470.4" height="1.6" fill="url(#g2)"/><rect x="163" y="1272.3" width="470.4" height="1.6" fill="url(#g3)"/><rect x="163" y="1273.3" width="470.4" height="1.6" fill="url(#g4)"/><rect x="163" y="1274.3" width="470.4" height="1.6" fill="url(#g5)"/><rect x="163" y="1275.3" width="470.4" height="1.6" fill="url(#g6)"/><rect x="163" y="1276.3" width="470.4" height="1.6" fill="url(#g7)"/><rect x="163" y="1277.3" width="470.4" height="1.6" fill="url(#g8)"/><rect x="163" y="1278.3" width="470.4" height="1.6" fill="url(#g9)"/><rect x="163" y="1279.3" width="470.4" height="1.6" fill="url(#g10)"/><rect x="163" y="1280.3" width="470.4" height="1.6" fill="url(#g11)"/><rect x="163" y="1281.3" width="470.4" height="1.6" fill="url(#g12)"/><rect x="163" y="1282.3" width="470.4" height="1.6" fill="url(#g13)"/><rect x="163" y="1283.3" width="470.4" height="1.6" fill="url(#g14)"/><rect x="163" y="1284.3" width="470.4" height="1.6" fill="url(#g15)"/><rect x="163" y="1285.3" width="470.4" height="1.6" fill="url(#g16)"/><rect x="163" y="1286.3" width="470.4" height="1.6" fill="url(#g17)"/><rect x="163" y="1287.3" width="470.4" height="1.6" fill="url(#g18)"/><rect x="163" y="1288.3" width="470.4" height="1.6" fill="url(#g19)"/><rect x="163" y="1289.3" width="470.4" height="1.6" fill="url(#g20)"/><rect x="163" y="1290.3" width="470.4" height="1.6" fill="url(#g21)"/><rect x="163" y="1291.3" width="470.4" height="1.6" fill="url(#g22)"/><rect x="163" y="1292.3" width="470.4" height="1.6" fill="url(#g23)"/><rect x="163" y="1293.3" width="470.4" height="1.6" fill="url(#g24)"/><rect x="163" y="1294.3" width="470.4" height="1.6" fill="url(#g25)"/><rect x="163" y="1295.3" width="470.4" height="1.6" fill="url(#g26)"/><rect x="163" y="1296.3" width="470.4" height="1.6" fill="url(#g27)"/><rect x="163" y="1297.3" width="470.4" height="1.6" fill="url(#g28)"/><rect x="163" y="1298.3" width="470.4" height="1.6" fill="url(#g29)"/><rect x="163" y="1299.3" width="470.4" height="1.6" fill="url(#g30)"/><rect x="163" y="1300.3" width="470.4" height="1.6" fill="url(#g31)"/><rect x="163" y="1301.3" width="470.4" height="1.6" fill="url(#g32)"/><rect x="163" y="1302.3" width="470.4" height="1.6" fill="url(#g33)"/><rect x="163" y="1303.3" width="470.4" height="1.6" fill="url(#g34)"/><rect x="163" y="1304.3" width="470.4" height="1.6" fill="url(#g35)"/><rect x="163" y="1305.3" width="470.4" height="1.6" fill="url(#g36)"/><rect x="163" y="1306.3" width="470.4" height="1.6" fill="url(#g37)"/><rect x="163" y="1307.3" width="470.4" height="1.6" fill="url(#g38)"/><rect x="163" y="1308.3" width="470.4" height="1.6" fill="url(#g39)"/><rect x="163" y="1309.3" width="470.4" height="1.6" fill="url(#g40)"/><rect x="163" y="1310.3" width="470.4" height="1.6" fill="url(#g41)"/><rect x="163" y="1311.3" width="470.4" height="1.6" fill="url(#g42)"/><rect x="163" y="1312.3" width="470.4" height="1.6" fill="url(#g43)"/><rect x="163" y="1313.3" width="470.4" height="1.6" fill="url(#g44)"/><rect x="163" y="1314.3" width="470.4" height="1.6" fill="url(#g45)"/><rect x="163" y="1315.3" width="470.4" height="1.6" fill="url(#g46)"/><rect x="163" y="1316.3" width="470.4" height="1.6" fill="url(#g47)"/><rect x="163" y="1317.3" width="470.4" height="1.6" fill="url(#g48)"/><rect x="163" y="1318.3" width="470.4" height="1.6" fill="url(#g49)"/><rect x="163" y="1319.3" width="470.4" height="1.6" fill="url(#g50)"/><rect x="163" y="1320.3" width="470.4" height="1.6" fill="url(#g51)"/><rect x="163" y="1321.3" width="470.4" height="1.6" fill="url(#g52)"/><rect x="163" y="1322.3" width="470.4" height="1.6" fill="url(#g53)"/><rect x="163" y="1323.3" width="470.4" height="1.6" fill="url(#g54)"/><rect x="163" y="1324.3" width="470.4" height="1.6" fill="url(#g55)"/><rect x="163" y="1325.3" width="470.4" height="1.6" fill="url(#g56)"/><rect x="163" y="1326.3" width="470.4" height="1.6" fill="url(#g57)"/><rect x="163" y="1327.3" width="470.4" height="1.6" fill="url(#g58)"/><rect x="163" y="1328.3" width="470.4" height="1.6" fill="url(#g59)"/><rect x="163" y="1329.3" width="470.4" height="1.6" fill="url(#g60)"/><rect x="163" y="1330.3" width="470.4" height="1.6" fill="url(#g61)"/><rect x="163" y="1331.3" width="470.4" height="1.6" fill="url(#g62)"/><rect x="163" y="1332.3" width="470.4" height="1.6" fill="url(#g63)"/><rect x="163" y="1333.3" width="470.4" height="1.6" fill="url(#g64)"/><rect x="163" y="1334.3" width="470.4" height="1.6" fill="url(#g65)"/><rect x="163" y="1335.3" width="470.4" height="1.6" fill="url(#g66)"/><rect x="163" y="1336.3" width="470.4" height="1.6" fill="url(#g67)"/><rect x="163" y="1337.3" width="470.4" height="1.6" fill="url(#g68)"/><rect x="163" y="1338.3" width="470.4" height="1.6" fill="url(#g69)"/><rect x="163" y="1339.3" width="470.4" height="1.6" fill="url(#g70)"/><rect x="163" y="1340.3" width="470.4" height="1.6" fill="url(#g71)"/><rect x="163" y="1341.3" width="470.4" height="1.6" fill="url(#g72)"/><rect x="163" y="1342.3" width="470.4" height="3.6" fill="url(#g73)"/><rect x="163" y="1345.3" width="470.4" height="1.6" fill="url(#g74)"/><rect x="163" y="1346.3" width="470.4" height="2.6" fill="url(#g75)"/><rect x="163" y="1348.3" width="470.4" height="2.6" fill="url(#g76)"/><rect x="163" y="1350.3" width="470.4" height="1.6" fill="url(#g77)"/><rect x="163" y="1351.3" width="470.4" height="2.6" fill="url(#g78)"/><rect x="163" y="1353.3" width="470.4" height="1.6" fill="url(#g79)"/><rect x="163" y="1354.3" width="470.4" height="1.6" fill="url(#g80)"/><rect x="163" y="1355.3" width="470.4" height="1.6" fill="url(#g81)"/><rect x="163" y="1356.3" width="470.4" height="1.6" fill="url(#g82)"/><rect x="163" y="1357.3" width="470.4" height="1.6" fill="url(#g83)"/><rect x="163" y="1358.3" width="470.4" height="1.6" fill="url(#g84)"/><rect x="163" y="1359.3" width="470.4" height="1.6" fill="url(#g85)"/><rect x="163" y="1360.3" width="470.4" height="1.6" fill="url(#g86)"/><rect x="163" y="1361.3" width="470.4" height="1.6" fill="url(#g87)"/><rect x="163" y="1362.3" width="470.4" height="1.6" fill="url(#g88)"/><rect x="163" y="1363.3" width="470.4" height="1.6" fill="url(#g89)"/><rect x="163" y="1364.3" width="470.4" height="1.6" fill="url(#g90)"/><rect x="163" y="1365.3" width="470.4" height="1.6" fill="url(#g91)"/><rect x="163" y="1366.3" width="470.4" height="1.6" fill="url(#g92)"/><rect x="163" y="1367.3" width="470.4" height="1.6" fill="url(#g93)"/><rect x="163" y="1368.3" width="470.4" height="1.6" fill="url(#g94)"/><rect x="163" y="1369.3" width="470.4" height="1.6" fill="url(#g95)"/><rect x="163" y="1370.3" width="470.4" height="1.6" fill="url(#g96)"/><rect x="163" y="1371.3" width="470.4" height="1.6" fill="url(#g97)"/><rect x="163" y="1372.3" width="470.4" height="1.6" fill="url(#g98)"/><rect x="163" y="1373.3" width="470.4" height="1.6" fill="url(#g99)"/><rect x="163" y="1374.3" width="470.4" height="1.6" fill="url(#g100)"/><rect x="163" y="1375.3" width="470.4" height="1.6" fill="url(#g101)"/><rect x="163" y="1376.3" width="470.4" height="1.6" fill="url(#g102)"/><rect x="163" y="1377.3" width="470.4" height="1.6" fill="url(#g103)"/><rect x="163" y="1378.3" width="470.4" height="1.6" fill="url(#g104)"/><rect x="163" y="1379.3" width="470.4" height="1.6" fill="url(#g105)"/><rect x="163" y="1380.3" width="470.4" height="1.6" fill="url(#g106)"/><rect x="163" y="1381.3" width="470.4" height="1.6" fill="url(#g107)"/><rect x="163" y="1382.3" width="470.4" height="1.6" fill="url(#g108)"/><rect x="163" y="1383.3" width="470.4" height="1.6" fill="url(#g109)"/><rect x="163" y="1384.3" width="470.4" height="1.6" fill="url(#g110)"/><rect x="163" y="1385.3" width="470.4" height="1.6" fill="url(#g111)"/><rect x="163" y="1386.3" width="470.4" height="1.6" fill="url(#g112)"/><rect x="163" y="1387.3" width="470.4" height="1.6" fill="url(#g113)"/><rect x="163" y="1388.3" width="470.4" height="1.6" fill="url(#g114)"/><rect x="163" y="1389.3" width="470.4" height="1.6" fill="url(#g115)"/><rect x="163" y="1390.3" width="470.4" height="1.6" fill="url(#g116)"/><rect x="163" y="1391.3" width="470.4" height="1.6" fill="url(#g117)"/><rect x="163" y="1392.3" width="470.4" height="1.6" fill="url(#g118)"/><rect x="163" y="1393.3" width="470.4" height="1.6" fill="url(#g119)"/><rect x="163" y="1394.3" width="470.4" height="1.6" fill="url(#g120)"/><rect x="163" y="1395.3" width="470.4" height="1.6" fill="url(#g121)"/><rect x="163" y="1396.3" width="470.4" height="1.6" fill="url(#g122)"/><rect x="163" y="1397.3" width="470.4" height="1.6" fill="url(#g123)"/><rect x="163" y="1398.3" width="470.4" height="1.6" fill="url(#g124)"/><rect x="163" y="1399.3" width="470.4" height="1.6" fill="url(#g125)"/><rect x="163" y="1400.3" width="470.4" height="1.6" fill="url(#g126)"/><rect x="163" y="1401.3" width="470.4" height="1.6" fill="url(#g127)"/><rect x="163" y="1402.3" width="470.4" height="1.6" fill="url(#g128)"/><rect x="163" y="1403.3" width="470.4" height="1.6" fill="url(#g129)"/><rect x="163" y="1404.3" width="470.4" height="1.6" fill="url(#g130)"/><rect x="163" y="1405.3" width="470.4" height="1.6" fill="url(#g131)"/><rect x="163" y="1406.3" width="470.4" height="1.6" fill="url(#g132)"/><rect x="163" y="1407.3" width="470.4" height="1.6" fill="url(#g133)"/><rect x="163" y="1408.3" width="470.4" height="1.6" fill="url(#g134)"/><rect x="163" y="1409.3" width="470.4" height="1.6" fill="url(#g135)"/><rect x="163" y="1410.3" width="470.4" height="1.6" fill="url(#g136)"/><rect x="163" y="1411.3" width="470.4" height="1.6" fill="url(#g137)"/><rect x="163" y="1412.3" width="470.4" height="1.6" fill="url(#g138)"/><rect x="163" y="1413.3" width="470.4" height="1.6" fill="url(#g139)"/><rect x="163" y="1414.3" width="470.4" height="1.6" fill="url(#g140)"/><rect x="163" y="1415.3" width="470.4" height="1.6" fill="url(#g141)"/><rect x="163" y="1416.3" width="470.4" height="1.6" fill="url(#g142)"/><rect x="163" y="1417.3" width="470.4" height="1.6" fill="url(#g143)"/><rect x="163" y="1418.3" width="470.4" height="1.6" fill="url(#g144)"/><rect x="163" y="1419.3" width="470.4" height="1.6" fill="url(#g145)"/><rect x="163" y="1420.3" width="470.4" height="1.6" fill="url(#g146)"/><rect x="163" y="1421.3" width="470.4" height="1.6" fill="url(#g147)"/><rect x="163" y="1422.3" width="470.4" height="1.6" fill="url(#g148)"/><rect x="163" y="1423.3" width="470.4" height="1.6" fill="url(#g149)"/><rect x="163" y="1424.3" width="470.4" height="1.6" fill="url(#g150)"/><rect x="163" y="1425.3" width="470.4" height="1.6" fill="url(#g151)"/><rect x="163" y="1426.3" width="470.4" height="1.6" fill="url(#g152)"/><rect x="163" y="1427.3" width="470.4" height="1.6" fill="url(#g153)"/><rect x="163" y="1428.3" width="470.4" height="1.6" fill="url(#g154)"/><rect x="163" y="1429.3" width="470.4" height="1.6" fill="url(#g155)"/><rect x="163" y="1430.3" width="470.4" height="1.6" fill="url(#g156)"/><rect x="163" y="1431.3" width="470.4" height="1.6" fill="url(#g157)"/><rect x="163" y="1432.3" width="470.4" height="1.6" fill="url(#g158)"/><rect x="163" y="1433.3" width="470.4" height="1.6" fill="url(#g159)"/><rect x="163" y="1434.3" width="470.4" height="1.6" fill="url(#g160)"/><rect x="163" y="1435.3" width="470.4" height="1.6" fill="url(#g161)"/><rect x="163" y="1436.3" width="470.4" height="1.6" fill="url(#g162)"/><rect x="163" y="1437.3" width="470.4" height="1.6" fill="url(#g163)"/><rect x="163" y="1438.3" width="470.4" height="1.6" fill="url(#g164)"/><rect x="163" y="1439.3" width="470.4" height="1.6" fill="url(#g165)"/><rect x="163" y="1440.3" width="470.4" height="1.6" fill="url(#g166)"/><rect x="163" y="1441.3" width="470.4" height="1.6" fill="url(#g167)"/><rect x="163" y="1442.3" width="470.4" height="1.6" fill="url(#g168)"/><rect x="163" y="1443.3" width="470.4" height="1.6" fill="url(#g169)"/><rect x="163" y="1444.3" width="470.4" height="1.6" fill="url(#g170)"/><rect x="163" y="1445.3" width="470.4" height="1.6" fill="url(#g171)"/><rect x="163" y="1446.3" width="470.4" height="1.6" fill="url(#g172)"/><rect x="163" y="1447.3" width="470.4" height="1.6" fill="url(#g173)"/><rect x="163" y="1448.3" width="470.4" height="1.6" fill="url(#g174)"/><rect x="163" y="1449.3" width="470.4" height="1.6" fill="url(#g175)"/><rect x="163" y="1450.3" width="470.4" height="1.6" fill="url(#g176)"/><rect x="163" y="1451.3" width="470.4" height="1.6" fill="url(#g177)"/><rect x="163" y="1452.3" width="470.4" height="1.6" fill="url(#g178)"/><rect x="163" y="1453.3" width="470.4" height="1.6" fill="url(#g179)"/><rect x="163" y="1454.3" width="470.4" height="1.6" fill="url(#g180)"/><rect x="163" y="1455.3" width="470.4" height="1.6" fill="url(#g181)"/><rect x="163" y="1456.3" width="470.4" height="1.6" fill="url(#g182)"/><rect x="163" y="1457.3" width="470.4" height="1.6" fill="url(#g183)"/><rect x="163" y="1458.3" width="470.4" height="1.6" fill="url(#g184)"/><rect x="163" y="1459.3" width="470.4" height="1.6" fill="url(#g185)"/><rect x="163" y="1460.3" width="470.4" height="1.6" fill="url(#g186)"/><rect x="163" y="1461.3" width="470.4" height="1.6" fill="url(#g187)"/><rect x="163" y="1462.3" width="470.4" height="1.6" fill="url(#g188)"/><rect x="163" y="1463.3" width="470.4" height="1.6" fill="url(#g189)"/><rect x="163" y="1464.3" width="470.4" height="1.6" fill="url(#g190)"/><rect x="163" y="1465.3" width="470.4" height="1.6" fill="url(#g191)"/><rect x="163" y="1466.3" width="470.4" height="1.6" fill="url(#g192)"/><rect x="163" y="1467.3" width="470.4" height="1.6" fill="url(#g193)"/><rect x="163" y="1468.3" width="470.4" height="1.6" fill="url(#g194)"/><rect x="163" y="1469.3" width="470.4" height="1.6" fill="url(#g195)"/><rect x="163" y="1470.3" width="470.4" height="1.6" fill="url(#g196)"/><rect x="163" y="1471.3" width="470.4" height="1.6" fill="url(#g197)"/><rect x="163" y="1472.3" width="470.4" height="1.6" fill="url(#g198)"/><rect x="163" y="1473.3" width="470.4" height="1.6" fill="url(#g199)"/><rect x="163" y="1474.3" width="470.4" height="1.6" fill="url(#g200)"/><rect x="163" y="1475.3" width="470.4" height="1.6" fill="url(#g201)"/><rect x="163" y="1476.3" width="470.4" height="1.6" fill="url(#g202)"/><rect x="163" y="1477.3" width="470.4" height="1.6" fill="url(#g203)"/><rect x="163" y="1478.3" width="470.4" height="1.6" fill="url(#g204)"/><rect x="163" y="1479.3" width="470.4" height="1.6" fill="url(#g205)"/><rect x="163" y="1480.3" width="470.4" height="1.6" fill="url(#g206)"/><rect x="163" y="1481.3" width="470.4" height="1.6" fill="url(#g207)"/><rect x="163" y="1482.3" width="470.4" height="1.6" fill="url(#g208)"/><rect x="163" y="1483.3" width="470.4" height="1.6" fill="url(#g209)"/><rect x="163" y="1484.3" width="470.4" height="1.6" fill="url(#g210)"/><rect x="163" y="1485.3" width="470.4" height="1.6" fill="url(#g211)"/><rect x="163" y="1486.3" width="470.4" height="1.6" fill="url(#g212)"/><rect x="163" y="1487.3" width="470.4" height="1.6" fill="url(#g213)"/><rect x="163" y="1488.3" width="470.4" height="1.6" fill="url(#g214)"/><rect x="163" y="1489.3" width="470.4" height="1.6" fill="url(#g215)"/><rect x="163" y="1490.3" width="470.4" height="1.6" fill="url(#g216)"/><rect x="163" y="1491.3" width="470.4" height="1.6" fill="url(#g217)"/><rect x="163" y="1492.3" width="470.4" height="1.6" fill="url(#g218)"/><rect x="163" y="1493.3" width="470.4" height="1.6" fill="url(#g219)"/><rect x="163" y="1494.3" width="470.4" height="1.6" fill="url(#g220)"/><rect x="163" y="1495.3" width="470.4" height="1.6" fill="url(#g221)"/><rect x="163" y="1496.3" width="470.4" height="1.6" fill="url(#g222)"/><rect x="163" y="1497.3" width="470.4" height="1.6" fill="url(#g223)"/><rect x="163" y="1498.3" width="470.4" height="1.6" fill="url(#g224)"/><rect x="163" y="1499.3" width="470.4" height="1.6" fill="url(#g225)"/><rect x="163" y="1500.3" width="470.4" height="1.6" fill="url(#g226)"/><rect x="163" y="1501.3" width="470.4" height="1.6" fill="url(#g227)"/><rect x="163" y="1502.3" width="470.4" height="1.6" fill="url(#g228)"/><rect x="163" y="1503.3" width="470.4" height="1.6" fill="url(#g229)"/><rect x="163" y="1504.3" width="470.4" height="1.6" fill="url(#g230)"/><rect x="163" y="1505.3" width="470.4" height="1.6" fill="url(#g231)"/><rect x="163" y="1506.3" width="470.4" height="1.6" fill="url(#g232)"/><rect x="163" y="1507.3" width="470.4" height="1.6" fill="url(#g233)"/><rect x="163" y="1508.3" width="470.4" height="1.6" fill="url(#g234)"/><rect x="163" y="1509.3" width="470.4" height="1.6" fill="url(#g235)"/><rect x="163" y="1510.3" width="470.4" height="1.6" fill="url(#g236)"/><rect x="163" y="1511.3" width="470.4" height="1.6" fill="url(#g237)"/><rect x="163" y="1512.3" width="470.4" height="1.6" fill="url(#g238)"/><rect x="163" y="1513.3" width="470.4" height="1.6" fill="url(#g239)"/><rect x="163" y="1514.3" width="470.4" height="1.6" fill="url(#g240)"/><rect x="163" y="1515.3" width="470.4" height="1.6" fill="url(#g241)"/><rect x="163" y="1516.3" width="470.4" height="1.6" fill="url(#g242)"/><rect x="163" y="1517.3" width="470.4" height="1.6" fill="url(#g243)"/><rect x="163" y="1518.3" width="470.4" height="1.6" fill="url(#g244)"/><rect x="163" y="1519.3" width="470.4" height="1.6" fill="url(#g245)"/><rect x="163" y="1520.3" width="470.4" height="1.6" fill="url(#g246)"/><rect x="163" y="1521.3" width="470.4" height="1.6" fill="url(#g247)"/><rect x="163" y="1522.3" width="470.4" height="1.6" fill="url(#g248)"/><rect x="163" y="1523.3" width="470.4" height="1.6" fill="url(#g249)"/><rect x="163" y="1524.3" width="470.4" height="1.6" fill="url(#g250)"/><rect x="163" y="1525.3" width="470.4" height="1.6" fill="url(#g251)"/><rect x="163" y="1526.3" width="470.4" height="1.6" fill="url(#g252)"/><rect x="163" y="1527.3" width="470.4" height="1.6" fill="url(#g253)"/><rect x="163" y="1528.3" width="470.4" height="1.6" fill="url(#g254)"/><rect x="163" y="1529.3" width="470.4" height="1.6" fill="url(#g255)"/><rect x="163" y="1530.3" width="470.4" height="1.6" fill="url(#g256)"/><rect x="163" y="1531.3" width="470.4" height="1.6" fill="url(#g257)"/><rect x="163" y="1532.3" width="470.4" height="1.6" fill="url(#g258)"/><rect x="163" y="1533.3" width="470.4" height="1.6" fill="url(#g259)"/><rect x="163" y="1534.3" width="470.4" height="1.6" fill="url(#g260)"/><rect x="163" y="1535.3" width="470.4" height="1.6" fill="url(#g261)"/><rect x="163" y="1536.3" width="470.4" height="1.6" fill="url(#g262)"/><rect x="163" y="1537.3" width="470.4" height="1.6" fill="url(#g263)"/><rect x="163" y="1538.3" width="470.4" height="1.6" fill="url(#g264)"/><rect x="163" y="1539.3" width="470.4" height="1.6" fill="url(#g265)"/><rect x="163" y="1540.3" width="470.4" height="1.6" fill="url(#g266)"/><rect x="163" y="1541.3" width="470.4" height="1.6" fill="url(#g267)"/><rect x="163" y="1542.3" width="470.4" height="1.6" fill="url(#g268)"/><rect x="163" y="1543.3" width="470.4" height="1.6" fill="url(#g269)"/><rect x="163" y="1544.3" width="470.4" height="1.6" fill="url(#g270)"/><rect x="163" y="1545.3" width="470.4" height="1.6" fill="url(#g271)"/><rect x="163" y="1546.3" width="470.4" height="1.6" fill="url(#g272)"/><rect x="163" y="1547.3" width="470.4" height="1.6" fill="url(#g273)"/><rect x="163" y="1548.3" width="470.4" height="1.6" fill="url(#g274)"/><rect x="163" y="1549.3" width="470.4" height="1.6" fill="url(#g275)"/><rect x="163" y="1550.3" width="470.4" height="1.6" fill="url(#g276)"/><rect x="163" y="1551.3" width="470.4" height="1.6" fill="url(#g277)"/><rect x="163" y="1552.3" width="470.4" height="1.6" fill="url(#g278)"/><rect x="163" y="1553.3" width="470.4" height="1.6" fill="url(#g279)"/><rect x="163" y="1554.3" width="470.4" height="1.6" fill="url(#g280)"/><rect x="163" y="1555.3" width="470.4" height="1.6" fill="url(#g281)"/><rect x="163" y="1556.3" width="470.4" height="1.6" fill="url(#g282)"/><rect x="163" y="1557.3" width="470.4" height="1.6" fill="url(#g283)"/><rect x="163" y="1558.3" width="470.4" height="1.6" fill="url(#g284)"/><rect x="163" y="1559.3" width="470.4" height="1.6" fill="url(#g285)"/><rect x="163" y="1560.3" width="470.4" height="1.6" fill="url(#g286)"/><rect x="163" y="1561.3" width="470.4" height="1.6" fill="url(#g287)"/><rect x="163" y="1562.3" width="470.4" height="1.6" fill="url(#g288)"/><rect x="163" y="1563.3" width="470.4" height="34.6" fill="#2700ff"/><rect x="163" y="1597.3" width="470.4" height="1.6" fill="url(#g289)"/><rect x="163" y="1598.3" width="470.4" height="1.6" fill="url(#g290)"/><rect x="163" y="1599.3" width="470.4" height="1.6" fill="url(#g291)"/><rect x="163" y="1600.3" width="470.4" height="1.6" fill="url(#g292)"/><rect x="163" y="1601.3" width="470.4" height="1.6" fill="url(#g293)"/><rect x="163" y="1602.3" width="470.4" height="1.6" fill="url(#g294)"/><rect x="163" y="1603.3" width="470.4" height="1.6" fill="url(#g295)"/><rect x="163" y="1604.3" width="470.4" height="1.6" fill="url(#g296)"/><rect x="163" y="1605.3" width="470.4" height="1.6" fill="url(#g297)"/><rect x="163" y="1606.3" width="470.4" height="1.6" fill="url(#g298)"/><rect x="163" y="1607.3" width="470.4" height="1.6" fill="url(#g299)"/><rect x="163" y="1608.3" width="470.4" height="1.6" fill="url(#g300)"/><rect x="163" y="1609.3" width="470.4" height="1.6" fill="url(#g301)"/><rect x="163" y="1610.3" width="470.4" height="1.6" fill="url(#g302)"/><rect x="163" y="1611.3" width="470.4" height="1.6" fill="url(#g303)"/><rect x="163" y="1612.3" width="470.4" height="1.6" fill="url(#g304)"/><rect x="163" y="1613.3" width="470.4" height="1.6" fill="url(#g305)"/><rect x="163" y="1614.3" width="470.4" height="1.6" fill="url(#g306)"/><rect x="163" y="1615.3" width="470.4" height="1.6" fill="url(#g307)"/><rect x="163" y="1616.3" width="470.4" height="1.6" fill="url(#g308)"/><rect x="163" y="1617.3" width="470.4" height="1.6" fill="url(#g309)"/><rect x="163" y="1618.3" width="470.4" height="1.6" fill="url(#g310)"/><rect x="163" y="1619.3" width="470.4" height="1.6" fill="url(#g311)"/><rect x="163" y="1620.3" width="470.4" height="1.6" fill="url(#g312)"/><rect x="163" y="1621.3" width="470.4" height="1.6" fill="url(#g313)"/><rect x="163" y="1622.3" width="470.4" height="1.6" fill="url(#g314)"/><rect x="163" y="1623.3" width="470.4" height="1.6" fill="url(#g315)"/><rect x="163" y="1624.3" width="470.4" height="1.6" fill="url(#g316)"/><rect x="163" y="1625.3" width="470.4" height="1.6" fill="url(#g317)"/><rect x="163" y="1626.3" width="470.4" height="1.6" fill="url(#g318)"/><rect x="163" y="1627.3" width="470.4" height="1.6" fill="url(#g319)"/><rect x="163" y="1628.3" width="470.4" height="1.6" fill="url(#g320)"/><rect x="163" y="1629.3" width="470.4" height="1.6" fill="url(#g321)"/><rect x="163" y="1630.3" width="470.4" height="1.6" fill="url(#g322)"/><rect x="163" y="1631.3" width="470.4" height="1.6" fill="url(#g323)"/><rect x="163" y="1632.3" width="470.4" height="1.6" fill="url(#g324)"/><rect x="163" y="1633.3" width="470.4" height="1.6" fill="url(#g325)"/><rect x="163" y="1634.3" width="470.4" height="1.6" fill="url(#g326)"/><rect x="163" y="1635.3" width="470.4" height="1.6" fill="url(#g327)"/><rect x="163" y="1636.3" width="470.4" height="1.6" fill="url(#g328)"/><rect x="163" y="1637.3" width="470.4" height="1.6" fill="url(#g329)"/><rect x="163" y="1638.3" width="470.4" height="1.6" fill="url(#g330)"/><rect x="163" y="1639.3" width="470.4" height="1.6" fill="url(#g331)"/><rect x="163" y="1640.3" width="470.4" height="1.6" fill="url(#g332)"/><rect x="163" y="1641.3" width="470.4" height="1.6" fill="url(#g333)"/><rect x="163" y="1642.3" width="470.4" height="1.6" fill="url(#g334)"/><rect x="163" y="1643.3" width="470.4" height="1.6" fill="url(#g335)"/><rect x="163" y="1644.3" width="470.4" height="1.6" fill="url(#g336)"/><rect x="163" y="1645.3" width="470.4" height="1.6" fill="url(#g337)"/><rect x="163" y="1646.3" width="470.4" height="1.6" fill="url(#g338)"/><rect x="163" y="1647.3" width="470.4" height="1.6" fill="url(#g339)"/><rect x="163" y="1648.3" width="470.4" height="1.6" fill="url(#g340)"/><rect x="163" y="1649.3" width="470.4" height="1.6" fill="url(#g341)"/><rect x="163" y="1650.3" width="470.4" height="5.6" fill="url(#g342)"/><rect x="163" y="1655.3" width="470.4" height="1.6" fill="url(#g343)"/><rect x="163" y="1656.3" width="470.4" height="1.6" fill="url(#g344)"/><rect x="163" y="1657.3" width="470.4" height="1.6" fill="url(#g345)"/><rect x="163" y="1658.3" width="470.4" height="1.6" fill="url(#g346)"/><rect x="163" y="1659.3" width="470.4" height="1.6" fill="url(#g347)"/><rect x="163" y="1660.3" width="470.4" height="1.6" fill="url(#g348)"/><rect x="163" y="1661.3" width="470.4" height="1.6" fill="url(#g349)"/><rect x="163" y="1662.3" width="470.4" height="16.6" fill="#2700ff"/><rect x="163" y="1678.3" width="470.4" height="2.6" fill="#2800ff"/><rect x="163" y="1680.3" width="470.4" height="1.6" fill="#2900ff"/><rect x="163" y="1681.3" width="470.4" height="1.6" fill="#2a00ff"/><rect x="163" y="1682.3" width="470.4" height="1.6" fill="#2b00ff"/><rect x="163" y="1683.3" width="470.4" height="1.6" fill="#2c00ff"/><rect x="163" y="1684.3" width="470.4" height="1.6" fill="#2e00ff"/><rect x="163" y="1685.3" width="470.4" height="1.6" fill="#2f00ff"/><rect x="163" y="1686.3" width="470.4" height="1.6" fill="#3100ff"/><rect x="163" y="1687.3" width="470.4" height="1.6" fill="#3200ff"/><rect x="163" y="1688.3" width="470.4" height="1.6" fill="#3400ff"/><rect x="163" y="1689.3" width="470.4" height="1.6" fill="#3500ff"/><rect x="163" y="1690.3" width="470.4" height="1.6" fill="#3600ff"/><rect x="163" y="1691.3" width="470.4" height="1.6" fill="#3800ff"/><rect x="163" y="1692.3" width="470.4" height="1.6" fill="#3900ff"/><rect x="163" y="1693.3" width="470.4" height="2.6" fill="#3a00ff"/><rect x="163" y="1695.3" width="470.4" height="1.2" fill="#3b00ff"/></g>
<path d="M163 1269.5H633.1V1696.5" stroke="#1a1a40" stroke-opacity="0.55" stroke-width="0.8" fill="none"/>
<line x1="229.5" y1="1269.3" x2="229.5" y2="1694.5" stroke="#fff" stroke-width="2.2" stroke-dasharray="8.8 6.95" stroke-dashoffset="3.05"/>
<path d="M163 1268.6V1696.5H634.1M163 1269.3h-9.4M163 1302.2h-5M163 1335.1h-9.4M163 1368h-5M163 1400.9h-9.4M163 1433.8h-5M163 1466.7h-9.4M163 1499.6h-5M163 1532.5h-9.4M163 1565.4h-5M163 1598.3h-9.4M163 1631.2h-5M163 1664.1h-9.4M163 1697h-5M188.6 1696.5v5M228.9 1696.5v9.3M269.2 1696.5v5M309.6 1696.5v9.3M350 1696.5v5M390.3 1696.5v9.3M430.6 1696.5v5M471 1696.5v9.3M511.4 1696.5v5M551.7 1696.5v9.3M592.1 1696.5v5M632.4 1696.5v9.3" stroke="#111" stroke-width="1.5" fill="none"/>
<text x="141.3" y="1281.4" font-size="33.5" text-anchor="end" fill="#000" >1,200</text>
<text x="141.3" y="1347.2" font-size="33.5" text-anchor="end" fill="#000" >1,400</text>
<text x="141.3" y="1413" font-size="33.5" text-anchor="end" fill="#000" >1,600</text>
<text x="141.3" y="1478.8" font-size="33.5" text-anchor="end" fill="#000" >1,800</text>
<text x="141.3" y="1544.6" font-size="33.5" text-anchor="end" fill="#000" >2,000</text>
<text x="141.3" y="1610.4" font-size="33.5" text-anchor="end" fill="#000" >2,200</text>
<text x="141.3" y="1676.2" font-size="33.5" text-anchor="end" fill="#000" >2,400</text>
<text x="228.4" y="1743.3" font-size="33.5" text-anchor="middle" fill="#000" >0</text>
<text x="309.6" y="1743.3" font-size="33.5" text-anchor="middle" fill="#000" >100</text>
<text x="390.3" y="1743.3" font-size="33.5" text-anchor="middle" fill="#000" >200</text>
<text x="471" y="1743.3" font-size="33.5" text-anchor="middle" fill="#000" >300</text>
<text x="551.7" y="1743.3" font-size="33.5" text-anchor="middle" fill="#000" >400</text>
<text x="632.4" y="1743.3" font-size="33.5" text-anchor="middle" fill="#000" >500</text>
<text x="415.8" y="1793.5" font-size="33.7" text-anchor="middle" fill="#000" >Time (s)</text>
<text transform="translate(32 1485.2) rotate(-90)" font-size="33.5" text-anchor="middle" fill="#000">Wavenumber (cm<tspan font-size="21.5" dy="-17.5">–1</tspan><tspan dy="17.5">)</tspan></text>
<rect x="662.2" y="1273.8" width="12.4" height="428.8" fill="url(#cb)" stroke="#222" stroke-width="1"/>
<text x="690.8" y="1305.1" font-size="33.5" text-anchor="start" fill="#000" >0.4</text>
<text x="690.8" y="1398.8" font-size="33.5" text-anchor="start" fill="#000" >0.3</text>
<text x="690.8" y="1492.4" font-size="33.5" text-anchor="start" fill="#000" >0.2</text>
<text x="690.8" y="1586" font-size="33.5" text-anchor="start" fill="#000" >0.1</text>
<text x="690.8" y="1679.7" font-size="33.5" text-anchor="start" fill="#000" >0</text>
<path d="M674.6 1293.1h4.6M674.6 1386.8h4.6M674.6 1480.4h4.6M674.6 1574h4.6M674.6 1667.7h4.6" stroke="#111" stroke-width="1.5" fill="none"/>
<text transform="translate(791.7 1484.7) rotate(-90)" font-size="33.5" text-anchor="middle" fill="#000">Absorbance (a.u.)</text>
</g>
</svg>
</body></html>
